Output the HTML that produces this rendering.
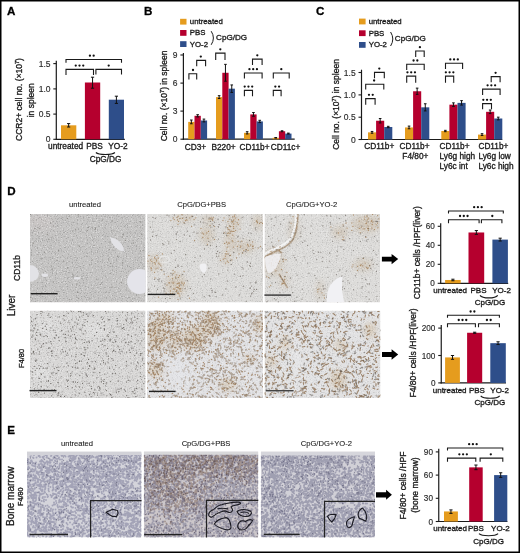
<!DOCTYPE html>
<html><head><meta charset="utf-8"><style>
html,body{margin:0;padding:0;background:#fff;width:520px;height:553px;overflow:hidden}
svg{display:block;will-change:transform}
text{font-family:'Liberation Sans', sans-serif;stroke:#1a1a1a;stroke-width:0.32px;paint-order:stroke}
</style></head><body>
<svg width="520" height="553" viewBox="0 0 520 553" font-family="'Liberation Sans', sans-serif">
<rect x="0" y="0" width="520" height="553" fill="#fff"/>
<text x="7.1" y="15.3" font-size="11.6" text-anchor="start" font-weight="bold" fill="#000" >A</text>
<line x1="56.3" y1="60.8" x2="56.3" y2="139.85000000000002" stroke="#1a1a1a" stroke-width="1.2"/>
<line x1="55.699999999999996" y1="139.3" x2="124.8" y2="139.3" stroke="#1a1a1a" stroke-width="1.2"/>
<line x1="53.3" y1="139.3" x2="56.3" y2="139.3" stroke="#1a1a1a" stroke-width="1.1"/>
<text x="50.5" y="142.3" font-size="8.5" text-anchor="end" font-weight="normal" fill="#2a2a2a" style="stroke-width:0.15px;stroke:#2a2a2a">0</text>
<line x1="53.3" y1="114.1" x2="56.3" y2="114.1" stroke="#1a1a1a" stroke-width="1.1"/>
<text x="50.5" y="117.1" font-size="8.5" text-anchor="end" font-weight="normal" fill="#2a2a2a" style="stroke-width:0.15px;stroke:#2a2a2a">0.5</text>
<line x1="53.3" y1="88.9" x2="56.3" y2="88.9" stroke="#1a1a1a" stroke-width="1.1"/>
<text x="50.5" y="91.9" font-size="8.5" text-anchor="end" font-weight="normal" fill="#2a2a2a" style="stroke-width:0.15px;stroke:#2a2a2a">1.0</text>
<line x1="53.3" y1="63.6" x2="56.3" y2="63.6" stroke="#1a1a1a" stroke-width="1.1"/>
<text x="50.5" y="66.6" font-size="8.5" text-anchor="end" font-weight="normal" fill="#2a2a2a" style="stroke-width:0.15px;stroke:#2a2a2a">1.5</text>
<rect x="61.0" y="125.3" width="15.299999999999997" height="14.000000000000014" fill="#E59C1E"/>
<line x1="68.65" y1="123.6" x2="68.65" y2="127.0" stroke="#111" stroke-width="1.0"/>
<line x1="67.05000000000001" y1="123.6" x2="70.25" y2="123.6" stroke="#111" stroke-width="1.0"/>
<line x1="67.05000000000001" y1="127.0" x2="70.25" y2="127.0" stroke="#111" stroke-width="1.0"/>
<rect x="84.9" y="82.5" width="15.299999999999997" height="56.80000000000001" fill="#B5002E"/>
<line x1="92.55000000000001" y1="77.2" x2="92.55000000000001" y2="88.2" stroke="#111" stroke-width="1.0"/>
<line x1="90.95000000000002" y1="77.2" x2="94.15" y2="77.2" stroke="#111" stroke-width="1.0"/>
<line x1="90.95000000000002" y1="88.2" x2="94.15" y2="88.2" stroke="#111" stroke-width="1.0"/>
<rect x="108.8" y="99.7" width="15.200000000000003" height="39.60000000000001" fill="#2E4E8A"/>
<line x1="116.4" y1="96.2" x2="116.4" y2="103.4" stroke="#111" stroke-width="1.0"/>
<line x1="114.80000000000001" y1="96.2" x2="118.0" y2="96.2" stroke="#111" stroke-width="1.0"/>
<line x1="114.80000000000001" y1="103.4" x2="118.0" y2="103.4" stroke="#111" stroke-width="1.0"/>
<path d="M66 62.8 V59.5 H121.5 V62.8" fill="none" stroke="#1a1a1a" stroke-width="1.1"/>
<circle cx="89.92" cy="55.70" r="1.15" fill="#111"/>
<circle cx="93.67" cy="55.70" r="1.15" fill="#111"/>
<path d="M66 75.0 V69.4 H93.5 V75.0" fill="none" stroke="#1a1a1a" stroke-width="1.1"/>
<circle cx="75.75" cy="65.60" r="1.15" fill="#111"/>
<circle cx="79.50" cy="65.60" r="1.15" fill="#111"/>
<circle cx="83.25" cy="65.60" r="1.15" fill="#111"/>
<path d="M95.9 74.5 V69.4 H121.5 V74.5" fill="none" stroke="#1a1a1a" stroke-width="1.1"/>
<circle cx="108.70" cy="65.60" r="1.15" fill="#111"/>
<text x="65.6" y="149.4" font-size="8.3" text-anchor="middle" font-weight="normal" fill="#1a1a1a" >untreated</text>
<text x="94.5" y="149.4" font-size="8.3" text-anchor="middle" font-weight="normal" fill="#1a1a1a" >PBS</text>
<text x="118.0" y="149.4" font-size="8.3" text-anchor="middle" font-weight="normal" fill="#1a1a1a" >YO-2</text>
<path d="M95.9 152.5 C98.75 155.16666666666666 112.05000000000001 155.16666666666666 114.9 152.5" fill="none" stroke="#1a1a1a" stroke-width="1.15"/>
<text x="105.6" y="161.8" font-size="8.3" text-anchor="middle" font-weight="normal" fill="#1a1a1a" >CpG/DG</text>
<text transform="translate(21.8,99.5) rotate(-90)" x="0" y="0" font-size="8.5" text-anchor="middle" font-weight="normal" fill="#1a1a1a" >CCR2+ cell no. (×10<tspan dy="-3" font-size="5.5">7</tspan><tspan dy="3">)</tspan></text>
<text transform="translate(33.8,100.3) rotate(-90)" x="0" y="0" font-size="8.5" text-anchor="middle" font-weight="normal" fill="#1a1a1a" >in spleen</text>
<text x="144.0" y="15.3" font-size="11.6" text-anchor="start" font-weight="bold" fill="#000" >B</text>
<rect x="180.1" y="18.8" width="6.4" height="5.8" fill="#E59C1E"/>
<text x="189.8" y="24.1" font-size="7.8" text-anchor="start" font-weight="normal" fill="#1a1a1a" >untreated</text>
<rect x="180.1" y="30.0" width="6.4" height="5.8" fill="#B5002E"/>
<text x="189.8" y="35.3" font-size="7.8" text-anchor="start" font-weight="normal" fill="#1a1a1a" >PBS</text>
<rect x="180.1" y="41.2" width="6.4" height="5.8" fill="#2E4E8A"/>
<text x="189.8" y="46.5" font-size="7.8" text-anchor="start" font-weight="normal" fill="#1a1a1a" >YO-2</text>
<path d="M211.2 31.2 Q215.6 38 211.2 44.8" fill="none" stroke="#1a1a1a" stroke-width="1.0"/>
<text x="216.1" y="40.0" font-size="8.1" text-anchor="start" font-weight="normal" fill="#1a1a1a" >CpG/DG</text>
<line x1="183.4" y1="53.0" x2="183.4" y2="139.75" stroke="#1a1a1a" stroke-width="1.2"/>
<line x1="182.8" y1="139.2" x2="294.7" y2="139.2" stroke="#1a1a1a" stroke-width="1.2"/>
<line x1="180.4" y1="139.2" x2="183.4" y2="139.2" stroke="#1a1a1a" stroke-width="1.1"/>
<text x="177.6" y="142.2" font-size="8.5" text-anchor="end" font-weight="normal" fill="#2a2a2a" style="stroke-width:0.15px;stroke:#2a2a2a">0</text>
<line x1="180.4" y1="111.1" x2="183.4" y2="111.1" stroke="#1a1a1a" stroke-width="1.1"/>
<text x="177.6" y="114.1" font-size="8.5" text-anchor="end" font-weight="normal" fill="#2a2a2a" style="stroke-width:0.15px;stroke:#2a2a2a">3</text>
<line x1="180.4" y1="83.1" x2="183.4" y2="83.1" stroke="#1a1a1a" stroke-width="1.1"/>
<text x="177.6" y="86.1" font-size="8.5" text-anchor="end" font-weight="normal" fill="#2a2a2a" style="stroke-width:0.15px;stroke:#2a2a2a">6</text>
<line x1="180.4" y1="55.0" x2="183.4" y2="55.0" stroke="#1a1a1a" stroke-width="1.1"/>
<text x="177.6" y="58.0" font-size="8.5" text-anchor="end" font-weight="normal" fill="#2a2a2a" style="stroke-width:0.15px;stroke:#2a2a2a">9</text>
<rect x="188.2" y="121.89222222222222" width="6.300000000000011" height="17.307777777777773" fill="#E59C1E"/>
<line x1="191.35" y1="120.02111111111111" x2="191.35" y2="123.76333333333332" stroke="#111" stroke-width="1.0"/>
<line x1="190.04999999999998" y1="120.02111111111111" x2="192.65" y2="120.02111111111111" stroke="#111" stroke-width="1.0"/>
<line x1="190.04999999999998" y1="123.76333333333332" x2="192.65" y2="123.76333333333332" stroke="#111" stroke-width="1.0"/>
<rect x="194.5" y="115.8111111111111" width="6.299999999999983" height="23.388888888888886" fill="#B5002E"/>
<line x1="197.64999999999998" y1="114.68844444444444" x2="197.64999999999998" y2="116.93377777777776" stroke="#111" stroke-width="1.0"/>
<line x1="196.34999999999997" y1="114.68844444444444" x2="198.95" y2="114.68844444444444" stroke="#111" stroke-width="1.0"/>
<line x1="196.34999999999997" y1="116.93377777777776" x2="198.95" y2="116.93377777777776" stroke="#111" stroke-width="1.0"/>
<rect x="200.79999999999998" y="120.48888888888888" width="6.300000000000011" height="18.71111111111111" fill="#2E4E8A"/>
<line x1="203.95" y1="119.08555555555554" x2="203.95" y2="121.89222222222222" stroke="#111" stroke-width="1.0"/>
<line x1="202.64999999999998" y1="119.08555555555554" x2="205.25" y2="119.08555555555554" stroke="#111" stroke-width="1.0"/>
<line x1="202.64999999999998" y1="121.89222222222222" x2="205.25" y2="121.89222222222222" stroke="#111" stroke-width="1.0"/>
<rect x="216.0" y="97.1" width="6.300000000000011" height="42.099999999999994" fill="#E59C1E"/>
<line x1="219.15" y1="95.69666666666666" x2="219.15" y2="98.50333333333333" stroke="#111" stroke-width="1.0"/>
<line x1="217.85" y1="95.69666666666666" x2="220.45000000000002" y2="95.69666666666666" stroke="#111" stroke-width="1.0"/>
<line x1="217.85" y1="98.50333333333333" x2="220.45000000000002" y2="98.50333333333333" stroke="#111" stroke-width="1.0"/>
<rect x="222.3" y="72.77555555555556" width="6.299999999999983" height="66.42444444444443" fill="#B5002E"/>
<line x1="225.45" y1="64.35555555555555" x2="225.45" y2="81.19555555555556" stroke="#111" stroke-width="1.0"/>
<line x1="224.14999999999998" y1="64.35555555555555" x2="226.75" y2="64.35555555555555" stroke="#111" stroke-width="1.0"/>
<line x1="224.14999999999998" y1="81.19555555555556" x2="226.75" y2="81.19555555555556" stroke="#111" stroke-width="1.0"/>
<rect x="228.6" y="88.67999999999999" width="6.300000000000011" height="50.519999999999996" fill="#2E4E8A"/>
<line x1="231.75" y1="84.93777777777777" x2="231.75" y2="92.42222222222222" stroke="#111" stroke-width="1.0"/>
<line x1="230.45" y1="84.93777777777777" x2="233.05" y2="84.93777777777777" stroke="#111" stroke-width="1.0"/>
<line x1="230.45" y1="92.42222222222222" x2="233.05" y2="92.42222222222222" stroke="#111" stroke-width="1.0"/>
<rect x="244.0" y="132.8382222222222" width="6.300000000000011" height="6.361777777777775" fill="#E59C1E"/>
<line x1="247.15" y1="131.71555555555554" x2="247.15" y2="133.9608888888889" stroke="#111" stroke-width="1.0"/>
<line x1="245.85" y1="131.71555555555554" x2="248.45000000000002" y2="131.71555555555554" stroke="#111" stroke-width="1.0"/>
<line x1="245.85" y1="133.9608888888889" x2="248.45000000000002" y2="133.9608888888889" stroke="#111" stroke-width="1.0"/>
<rect x="250.3" y="114.40777777777777" width="6.300000000000011" height="24.79222222222222" fill="#B5002E"/>
<line x1="253.45000000000002" y1="112.53666666666666" x2="253.45000000000002" y2="116.27888888888887" stroke="#111" stroke-width="1.0"/>
<line x1="252.15" y1="112.53666666666666" x2="254.75000000000003" y2="112.53666666666666" stroke="#111" stroke-width="1.0"/>
<line x1="252.15" y1="116.27888888888887" x2="254.75000000000003" y2="116.27888888888887" stroke="#111" stroke-width="1.0"/>
<rect x="256.6" y="121.42444444444443" width="6.2999999999999545" height="17.775555555555556" fill="#2E4E8A"/>
<line x1="259.75" y1="120.30177777777777" x2="259.75" y2="122.5471111111111" stroke="#111" stroke-width="1.0"/>
<line x1="258.45" y1="120.30177777777777" x2="261.05" y2="120.30177777777777" stroke="#111" stroke-width="1.0"/>
<line x1="258.45" y1="122.5471111111111" x2="261.05" y2="122.5471111111111" stroke="#111" stroke-width="1.0"/>
<rect x="272.6" y="137.79666666666665" width="6.300000000000011" height="1.403333333333336" fill="#E59C1E"/>
<line x1="275.75" y1="137.516" x2="275.75" y2="138.0773333333333" stroke="#111" stroke-width="1.0"/>
<line x1="274.45" y1="137.516" x2="277.05" y2="137.516" stroke="#111" stroke-width="1.0"/>
<line x1="274.45" y1="138.0773333333333" x2="277.05" y2="138.0773333333333" stroke="#111" stroke-width="1.0"/>
<rect x="278.90000000000003" y="131.24777777777777" width="6.300000000000011" height="7.952222222222218" fill="#B5002E"/>
<line x1="282.05000000000007" y1="130.78" x2="282.05000000000007" y2="131.71555555555554" stroke="#111" stroke-width="1.0"/>
<line x1="280.75000000000006" y1="130.78" x2="283.3500000000001" y2="130.78" stroke="#111" stroke-width="1.0"/>
<line x1="280.75000000000006" y1="131.71555555555554" x2="283.3500000000001" y2="131.71555555555554" stroke="#111" stroke-width="1.0"/>
<rect x="285.20000000000005" y="133.58666666666664" width="6.2999999999999545" height="5.613333333333344" fill="#2E4E8A"/>
<line x1="288.35" y1="133.11888888888888" x2="288.35" y2="134.0544444444444" stroke="#111" stroke-width="1.0"/>
<line x1="287.05" y1="133.11888888888888" x2="289.65000000000003" y2="133.11888888888888" stroke="#111" stroke-width="1.0"/>
<line x1="287.05" y1="134.0544444444444" x2="289.65000000000003" y2="134.0544444444444" stroke="#111" stroke-width="1.0"/>
<path d="M188.9 79.5 V73.8 H196.7 V79.5" fill="none" stroke="#1a1a1a" stroke-width="1.1"/>
<circle cx="193.00" cy="70.00" r="1.15" fill="#111"/>
<path d="M196.7 66.3 V60.4 H205.6 V66.3" fill="none" stroke="#1a1a1a" stroke-width="1.1"/>
<circle cx="200.80" cy="56.60" r="1.15" fill="#111"/>
<path d="M215.7 60.0 V53.1 H225.0 V60.0" fill="none" stroke="#1a1a1a" stroke-width="1.1"/>
<circle cx="220.30" cy="49.30" r="1.15" fill="#111"/>
<path d="M244.4 96.3 V90.4 H252.5 V96.3" fill="none" stroke="#1a1a1a" stroke-width="1.1"/>
<circle cx="244.70" cy="86.60" r="1.15" fill="#111"/>
<circle cx="248.45" cy="86.60" r="1.15" fill="#111"/>
<circle cx="252.20" cy="86.60" r="1.15" fill="#111"/>
<path d="M244.4 78.5 V73.0 H262.1 V78.5" fill="none" stroke="#1a1a1a" stroke-width="1.1"/>
<circle cx="249.45" cy="69.20" r="1.15" fill="#111"/>
<circle cx="253.20" cy="69.20" r="1.15" fill="#111"/>
<circle cx="256.95" cy="69.20" r="1.15" fill="#111"/>
<path d="M252.5 64.9 V59.1 H262.1 V64.9" fill="none" stroke="#1a1a1a" stroke-width="1.1"/>
<circle cx="257.30" cy="55.30" r="1.15" fill="#111"/>
<path d="M273.3 96.3 V90.4 H281.1 V96.3" fill="none" stroke="#1a1a1a" stroke-width="1.1"/>
<circle cx="275.33" cy="86.60" r="1.15" fill="#111"/>
<circle cx="279.08" cy="86.60" r="1.15" fill="#111"/>
<path d="M273.3 78.5 V73.0 H289.2 V78.5" fill="none" stroke="#1a1a1a" stroke-width="1.1"/>
<circle cx="281.30" cy="69.20" r="1.15" fill="#111"/>
<text x="195.5" y="149.9" font-size="8.3" text-anchor="middle" font-weight="normal" fill="#1a1a1a" >CD3+</text>
<text x="223.5" y="149.9" font-size="8.3" text-anchor="middle" font-weight="normal" fill="#1a1a1a" >B220+</text>
<text x="254.5" y="149.9" font-size="8.3" text-anchor="middle" font-weight="normal" fill="#1a1a1a" >CD11b+</text>
<text x="285.5" y="149.9" font-size="8.3" text-anchor="middle" font-weight="normal" fill="#1a1a1a" >CD11c+</text>
<text transform="translate(166.6,96.0) rotate(-90)" x="0" y="0" font-size="8.5" text-anchor="middle" font-weight="normal" fill="#1a1a1a" >Cell no. (×10<tspan dy="-3" font-size="5.5">7</tspan><tspan dy="3">) in spleen</tspan></text>
<text x="315.9" y="15.4" font-size="11.6" text-anchor="start" font-weight="bold" fill="#000" >C</text>
<rect x="359.0" y="18.6" width="6.6" height="5.8" fill="#E59C1E"/>
<text x="368.7" y="23.900000000000002" font-size="7.8" text-anchor="start" font-weight="normal" fill="#1a1a1a" >untreated</text>
<rect x="359.0" y="30.3" width="6.6" height="5.8" fill="#B5002E"/>
<text x="368.7" y="35.6" font-size="7.8" text-anchor="start" font-weight="normal" fill="#1a1a1a" >PBS</text>
<rect x="359.0" y="42.0" width="6.6" height="5.8" fill="#2E4E8A"/>
<text x="368.7" y="47.3" font-size="7.8" text-anchor="start" font-weight="normal" fill="#1a1a1a" >YO-2</text>
<path d="M390.6 32.0 Q395.0 39 390.6 46.0" fill="none" stroke="#1a1a1a" stroke-width="1.0"/>
<text x="394.8" y="40.9" font-size="8.1" text-anchor="start" font-weight="normal" fill="#1a1a1a" >CpG/DG</text>
<line x1="361.5" y1="69.7" x2="361.5" y2="140.05" stroke="#1a1a1a" stroke-width="1.2"/>
<line x1="360.9" y1="139.5" x2="502.3" y2="139.5" stroke="#1a1a1a" stroke-width="1.2"/>
<line x1="358.5" y1="139.5" x2="361.5" y2="139.5" stroke="#1a1a1a" stroke-width="1.1"/>
<text x="355.7" y="142.5" font-size="8.5" text-anchor="end" font-weight="normal" fill="#2a2a2a" style="stroke-width:0.15px;stroke:#2a2a2a">0</text>
<line x1="358.5" y1="117.2" x2="361.5" y2="117.2" stroke="#1a1a1a" stroke-width="1.1"/>
<text x="355.7" y="120.2" font-size="8.5" text-anchor="end" font-weight="normal" fill="#2a2a2a" style="stroke-width:0.15px;stroke:#2a2a2a">0.5</text>
<line x1="358.5" y1="94.9" x2="361.5" y2="94.9" stroke="#1a1a1a" stroke-width="1.1"/>
<text x="355.7" y="97.9" font-size="8.5" text-anchor="end" font-weight="normal" fill="#2a2a2a" style="stroke-width:0.15px;stroke:#2a2a2a">1.0</text>
<line x1="358.5" y1="72.5" x2="361.5" y2="72.5" stroke="#1a1a1a" stroke-width="1.1"/>
<text x="355.7" y="75.5" font-size="8.5" text-anchor="end" font-weight="normal" fill="#2a2a2a" style="stroke-width:0.15px;stroke:#2a2a2a">1.5</text>
<rect x="368.0" y="132.35333333333332" width="8.100000000000023" height="7.146666666666675" fill="#E59C1E"/>
<line x1="372.05" y1="131.45999999999998" x2="372.05" y2="133.24666666666667" stroke="#111" stroke-width="1.0"/>
<line x1="370.75" y1="131.45999999999998" x2="373.35" y2="131.45999999999998" stroke="#111" stroke-width="1.0"/>
<line x1="370.75" y1="133.24666666666667" x2="373.35" y2="133.24666666666667" stroke="#111" stroke-width="1.0"/>
<rect x="376.1" y="120.74000000000001" width="8.099999999999966" height="18.75999999999999" fill="#B5002E"/>
<line x1="380.15" y1="118.50666666666667" x2="380.15" y2="122.97333333333334" stroke="#111" stroke-width="1.0"/>
<line x1="378.84999999999997" y1="118.50666666666667" x2="381.45" y2="118.50666666666667" stroke="#111" stroke-width="1.0"/>
<line x1="378.84999999999997" y1="122.97333333333334" x2="381.45" y2="122.97333333333334" stroke="#111" stroke-width="1.0"/>
<rect x="384.2" y="126.99333333333334" width="8.100000000000023" height="12.50666666666666" fill="#2E4E8A"/>
<line x1="388.25" y1="126.32333333333334" x2="388.25" y2="127.66333333333334" stroke="#111" stroke-width="1.0"/>
<line x1="386.95" y1="126.32333333333334" x2="389.55" y2="126.32333333333334" stroke="#111" stroke-width="1.0"/>
<line x1="386.95" y1="127.66333333333334" x2="389.55" y2="127.66333333333334" stroke="#111" stroke-width="1.0"/>
<rect x="405.0" y="127.44" width="8.100000000000023" height="12.060000000000002" fill="#E59C1E"/>
<line x1="409.05" y1="126.1" x2="409.05" y2="128.78" stroke="#111" stroke-width="1.0"/>
<line x1="407.75" y1="126.1" x2="410.35" y2="126.1" stroke="#111" stroke-width="1.0"/>
<line x1="407.75" y1="128.78" x2="410.35" y2="128.78" stroke="#111" stroke-width="1.0"/>
<rect x="413.1" y="91.25999999999999" width="8.099999999999966" height="48.24000000000001" fill="#B5002E"/>
<line x1="417.15" y1="88.13333333333333" x2="417.15" y2="94.38666666666666" stroke="#111" stroke-width="1.0"/>
<line x1="415.84999999999997" y1="88.13333333333333" x2="418.45" y2="88.13333333333333" stroke="#111" stroke-width="1.0"/>
<line x1="415.84999999999997" y1="94.38666666666666" x2="418.45" y2="94.38666666666666" stroke="#111" stroke-width="1.0"/>
<rect x="421.2" y="107.34" width="8.100000000000023" height="32.16" fill="#2E4E8A"/>
<line x1="425.25" y1="103.76666666666667" x2="425.25" y2="110.91333333333334" stroke="#111" stroke-width="1.0"/>
<line x1="423.95" y1="103.76666666666667" x2="426.55" y2="103.76666666666667" stroke="#111" stroke-width="1.0"/>
<line x1="423.95" y1="110.91333333333334" x2="426.55" y2="110.91333333333334" stroke="#111" stroke-width="1.0"/>
<rect x="441.3" y="131.01333333333332" width="8.100000000000023" height="8.486666666666679" fill="#E59C1E"/>
<line x1="445.35" y1="130.34333333333333" x2="445.35" y2="131.6833333333333" stroke="#111" stroke-width="1.0"/>
<line x1="444.05" y1="130.34333333333333" x2="446.65000000000003" y2="130.34333333333333" stroke="#111" stroke-width="1.0"/>
<line x1="444.05" y1="131.6833333333333" x2="446.65000000000003" y2="131.6833333333333" stroke="#111" stroke-width="1.0"/>
<rect x="449.40000000000003" y="104.66" width="8.099999999999966" height="34.84" fill="#B5002E"/>
<line x1="453.45000000000005" y1="102.87333333333333" x2="453.45000000000005" y2="106.44666666666666" stroke="#111" stroke-width="1.0"/>
<line x1="452.15000000000003" y1="102.87333333333333" x2="454.75000000000006" y2="102.87333333333333" stroke="#111" stroke-width="1.0"/>
<line x1="452.15000000000003" y1="106.44666666666666" x2="454.75000000000006" y2="106.44666666666666" stroke="#111" stroke-width="1.0"/>
<rect x="457.5" y="102.87333333333333" width="8.100000000000023" height="36.626666666666665" fill="#2E4E8A"/>
<line x1="461.55" y1="100.64" x2="461.55" y2="105.10666666666667" stroke="#111" stroke-width="1.0"/>
<line x1="460.25" y1="100.64" x2="462.85" y2="100.64" stroke="#111" stroke-width="1.0"/>
<line x1="460.25" y1="105.10666666666667" x2="462.85" y2="105.10666666666667" stroke="#111" stroke-width="1.0"/>
<rect x="478.0" y="134.58666666666667" width="8.100000000000023" height="4.913333333333327" fill="#E59C1E"/>
<line x1="482.05" y1="133.69333333333333" x2="482.05" y2="135.48000000000002" stroke="#111" stroke-width="1.0"/>
<line x1="480.75" y1="133.69333333333333" x2="483.35" y2="133.69333333333333" stroke="#111" stroke-width="1.0"/>
<line x1="480.75" y1="135.48000000000002" x2="483.35" y2="135.48000000000002" stroke="#111" stroke-width="1.0"/>
<rect x="486.1" y="111.80666666666667" width="8.099999999999966" height="27.693333333333328" fill="#B5002E"/>
<line x1="490.15" y1="110.02000000000001" x2="490.15" y2="113.59333333333333" stroke="#111" stroke-width="1.0"/>
<line x1="488.84999999999997" y1="110.02000000000001" x2="491.45" y2="110.02000000000001" stroke="#111" stroke-width="1.0"/>
<line x1="488.84999999999997" y1="113.59333333333333" x2="491.45" y2="113.59333333333333" stroke="#111" stroke-width="1.0"/>
<rect x="494.2" y="118.50666666666666" width="8.100000000000023" height="20.99333333333334" fill="#2E4E8A"/>
<line x1="498.25" y1="117.16666666666666" x2="498.25" y2="119.84666666666666" stroke="#111" stroke-width="1.0"/>
<line x1="496.95" y1="117.16666666666666" x2="499.55" y2="117.16666666666666" stroke="#111" stroke-width="1.0"/>
<line x1="496.95" y1="119.84666666666666" x2="499.55" y2="119.84666666666666" stroke="#111" stroke-width="1.0"/>
<path d="M365.7 104.8 V98.6 H375.1 V104.8" fill="none" stroke="#1a1a1a" stroke-width="1.1"/>
<circle cx="368.98" cy="94.80" r="1.15" fill="#111"/>
<circle cx="372.73" cy="94.80" r="1.15" fill="#111"/>
<path d="M365.7 89.6 V84.3 H383.8 V89.6" fill="none" stroke="#1a1a1a" stroke-width="1.1"/>
<circle cx="374.10" cy="80.50" r="1.15" fill="#111"/>
<path d="M374.5 78.2 V72.4 H384.3 V78.2" fill="none" stroke="#1a1a1a" stroke-width="1.1"/>
<circle cx="379.30" cy="68.60" r="1.15" fill="#111"/>
<path d="M406.7 82.8 V76.1 H415.7 V82.8" fill="none" stroke="#1a1a1a" stroke-width="1.1"/>
<circle cx="407.45" cy="72.30" r="1.15" fill="#111"/>
<circle cx="411.20" cy="72.30" r="1.15" fill="#111"/>
<circle cx="414.95" cy="72.30" r="1.15" fill="#111"/>
<path d="M406.7 70.0 V64.3 H424.2 V70.0" fill="none" stroke="#1a1a1a" stroke-width="1.1"/>
<circle cx="413.57" cy="60.50" r="1.15" fill="#111"/>
<circle cx="417.32" cy="60.50" r="1.15" fill="#111"/>
<path d="M415.7 57.1 V51.0 H424.2 V57.1" fill="none" stroke="#1a1a1a" stroke-width="1.1"/>
<circle cx="419.90" cy="47.20" r="1.15" fill="#111"/>
<path d="M445.5 82.8 V76.1 H453.7 V82.8" fill="none" stroke="#1a1a1a" stroke-width="1.1"/>
<circle cx="445.85" cy="72.30" r="1.15" fill="#111"/>
<circle cx="449.60" cy="72.30" r="1.15" fill="#111"/>
<circle cx="453.35" cy="72.30" r="1.15" fill="#111"/>
<path d="M445.5 68.9 V63.2 H462.6 V68.9" fill="none" stroke="#1a1a1a" stroke-width="1.1"/>
<circle cx="450.30" cy="59.40" r="1.15" fill="#111"/>
<circle cx="454.05" cy="59.40" r="1.15" fill="#111"/>
<circle cx="457.80" cy="59.40" r="1.15" fill="#111"/>
<path d="M482.6 109.2 V103.6 H491.5 V109.2" fill="none" stroke="#1a1a1a" stroke-width="1.1"/>
<circle cx="483.30" cy="99.80" r="1.15" fill="#111"/>
<circle cx="487.05" cy="99.80" r="1.15" fill="#111"/>
<circle cx="490.80" cy="99.80" r="1.15" fill="#111"/>
<path d="M482.6 95.0 V89.1 H500.1 V95.0" fill="none" stroke="#1a1a1a" stroke-width="1.1"/>
<circle cx="487.60" cy="85.30" r="1.15" fill="#111"/>
<circle cx="491.35" cy="85.30" r="1.15" fill="#111"/>
<circle cx="495.10" cy="85.30" r="1.15" fill="#111"/>
<path d="M491.2 82.3 V76.6 H500.1 V82.3" fill="none" stroke="#1a1a1a" stroke-width="1.1"/>
<circle cx="495.60" cy="72.80" r="1.15" fill="#111"/>
<text x="379.3" y="148.6" font-size="8.3" text-anchor="middle" font-weight="normal" fill="#1a1a1a" >CD11b+</text>
<text x="414.5" y="148.6" font-size="8.3" text-anchor="middle" font-weight="normal" fill="#1a1a1a" >CD11b+</text>
<text x="415.4" y="158.8" font-size="8.3" text-anchor="middle" font-weight="normal" fill="#1a1a1a" >F4/80+</text>
<text x="439.5" y="148.6" font-size="8.3" text-anchor="start" font-weight="normal" fill="#1a1a1a" >CD11b+</text>
<text x="439.5" y="158.8" font-size="8.3" text-anchor="start" font-weight="normal" fill="#1a1a1a" >Ly6g high</text>
<text x="439.5" y="168.6" font-size="8.3" text-anchor="start" font-weight="normal" fill="#1a1a1a" >Ly6c int</text>
<text x="478.4" y="148.6" font-size="8.3" text-anchor="start" font-weight="normal" fill="#1a1a1a" >CD11b+</text>
<text x="478.4" y="158.8" font-size="8.3" text-anchor="start" font-weight="normal" fill="#1a1a1a" >Ly6g low</text>
<text x="478.4" y="168.6" font-size="8.3" text-anchor="start" font-weight="normal" fill="#1a1a1a" >Ly6c high</text>
<text transform="translate(339.3,104.5) rotate(-90)" x="0" y="0" font-size="8.5" text-anchor="middle" font-weight="normal" fill="#1a1a1a" >Cell no. (×10<tspan dy="-3" font-size="5.5">7</tspan><tspan dy="3">) in spleen</tspan></text>
<text x="7.2" y="195.1" font-size="11.6" text-anchor="start" font-weight="bold" fill="#000" >D</text>
<text x="85.0" y="207.3" font-size="7.6" text-anchor="middle" font-weight="normal" fill="#1a1a1a" style="stroke-width:0.1px">untreated</text>
<text x="201.6" y="207.3" font-size="7.6" text-anchor="middle" font-weight="normal" fill="#1a1a1a" style="stroke-width:0.1px">CpG/DG+PBS</text>
<text x="311.6" y="207.3" font-size="7.6" text-anchor="middle" font-weight="normal" fill="#1a1a1a" style="stroke-width:0.1px">CpG/DG+YO-2</text>
<defs>
<filter id="gl" x="0" y="0" width="1" height="1" color-interpolation-filters="sRGB"><feTurbulence type="fractalNoise" baseFrequency="0.8" numOctaves="2" seed="41" result="t"/><feColorMatrix in="t" type="matrix" values="0 0 0 0 1.000  0 0 0 0 1.000  0 0 0 0 1.000  5 0 0 0 -2.750" result="d"/><feComposite in="d" in2="SourceGraphic" operator="in"/></filter>
<filter id="gd" x="0" y="0" width="1" height="1" color-interpolation-filters="sRGB"><feTurbulence type="fractalNoise" baseFrequency="0.8" numOctaves="2" seed="43" result="t"/><feColorMatrix in="t" type="matrix" values="0 0 0 0 0.235  0 0 0 0 0.235  0 0 0 0 0.235  5 0 0 0 -2.750" result="d"/><feComposite in="d" in2="SourceGraphic" operator="in"/></filter>
<filter id="epu" x="0" y="0" width="1" height="1" color-interpolation-filters="sRGB"><feTurbulence type="fractalNoise" baseFrequency="0.5" numOctaves="2" seed="45" result="t"/><feColorMatrix in="t" type="matrix" values="0 0 0 0 0.471  0 0 0 0 0.471  0 0 0 0 0.647  5 0 0 0 -2.350" result="d"/><feGaussianBlur in="d" stdDeviation="0.45" result="d"/><feComposite in="d" in2="SourceGraphic" operator="in"/></filter>
<filter id="epl" x="0" y="0" width="1" height="1" color-interpolation-filters="sRGB"><feTurbulence type="fractalNoise" baseFrequency="0.5" numOctaves="2" seed="47" result="t"/><feColorMatrix in="t" type="matrix" values="0 0 0 0 0.894  0 0 0 0 0.894  0 0 0 0 0.925  5 0 0 0 -2.600" result="d"/><feGaussianBlur in="d" stdDeviation="0.45" result="d"/><feComposite in="d" in2="SourceGraphic" operator="in"/></filter>
<filter id="ebr" x="0" y="0" width="1" height="1" color-interpolation-filters="sRGB"><feTurbulence type="fractalNoise" baseFrequency="0.5" numOctaves="2" seed="49" result="t"/><feColorMatrix in="t" type="matrix" values="0 0 0 0 0.529  0 0 0 0 0.412  0 0 0 0 0.373  5 0 0 0 -2.600" result="d"/><feGaussianBlur in="d" stdDeviation="0.45" result="d"/><feComposite in="d" in2="SourceGraphic" operator="in"/></filter>
<filter id="bl3" x="-50%" y="-50%" width="200%" height="200%"><feGaussianBlur stdDeviation="3"/></filter>
<filter id="bl5" x="-50%" y="-50%" width="200%" height="200%"><feGaussianBlur stdDeviation="5"/></filter>
<filter id="bl1"><feGaussianBlur stdDeviation="1"/></filter>
<filter id="bl05"><feGaussianBlur stdDeviation="0.6"/></filter>
<filter id="bl03"><feGaussianBlur stdDeviation="0.35"/></filter>
<clipPath id="c0"><rect x="30" y="214" width="115.6" height="88.5"/></clipPath>
<clipPath id="c1"><rect x="147.1" y="214" width="115.9" height="88.5"/></clipPath>
<clipPath id="c2"><rect x="264.5" y="214" width="115.5" height="88.5"/></clipPath>
<clipPath id="c3"><rect x="30" y="310.5" width="115.6" height="87.5"/></clipPath>
<clipPath id="c4"><rect x="147.1" y="310.5" width="115.9" height="87.5"/></clipPath>
<clipPath id="c5"><rect x="264.5" y="310.5" width="116.0" height="87.5"/></clipPath>
<clipPath id="c6"><rect x="27" y="451.5" width="114.5" height="86.0"/></clipPath>
<clipPath id="c7"><rect x="143.8" y="451.5" width="114.5" height="86.0"/></clipPath>
<clipPath id="c8"><rect x="260.8" y="451.5" width="114.2" height="86.0"/></clipPath>
</defs>
<g clip-path="url(#c0)">
<rect x="30" y="214" width="115.6" height="88.5" fill="#c5c4c3" />
<g filter="url(#bl5)" opacity="0.45"><ellipse cx="40" cy="222" rx="14" ry="9" fill="#d0c9c8"/></g>
<g filter="url(#gl)" opacity="0.35"><rect x="30" y="214" width="115.6" height="88.5" fill="#000" /></g>
<g filter="url(#gd)" opacity="0.22"><rect x="30" y="214" width="115.6" height="88.5" fill="#000" /></g>
<g filter="url(#bl03)"><path d="M78.2 214.9h0M125.4 240.4h0M72.6 231.1h0M95.4 228.3h0M44.4 252.3h0M95.0 229.4h0M94.0 245.4h0M140.8 222.1h0M143.1 250.5h0M88.3 227.1h0M113.1 230.8h0M69.5 216.1h0M69.2 299.6h0M143.1 279.9h0M30.4 297.2h0M130.7 282.2h0M50.7 222.8h0M77.9 292.4h0M96.8 279.2h0M56.9 260.3h0M112.0 287.0h0M123.3 234.6h0M130.9 233.1h0M122.7 263.1h0M51.5 266.1h0M89.9 298.8h0M34.8 228.5h0M143.7 287.7h0M47.4 234.3h0M92.3 227.9h0M67.4 218.4h0M112.3 221.0h0M145.0 295.5h0M121.2 282.4h0M72.5 274.1h0M118.0 256.5h0M37.1 269.4h0M67.7 268.0h0M78.6 298.3h0M53.3 282.0h0M110.8 263.3h0M39.3 228.6h0M141.8 234.4h0M48.9 239.5h0M92.1 260.0h0M30.4 214.3h0M87.3 230.4h0M100.2 284.7h0M41.1 258.7h0M76.9 284.0h0M140.4 250.9h0M58.1 291.7h0M33.2 243.2h0M75.6 229.8h0M108.6 259.9h0M58.8 250.6h0M110.0 242.8h0M37.8 254.8h0M52.5 269.0h0M53.3 225.9h0M133.3 243.2h0M63.8 261.6h0M110.2 273.4h0M122.3 237.0h0M79.3 246.2h0M89.7 264.8h0M102.7 220.0h0M72.9 276.7h0M34.1 280.0h0M109.3 249.6h0" fill="none" stroke="#6e6a66" stroke-width="1.3" stroke-linecap="round" opacity="0.6"/></g>
<g filter="url(#bl05)" fill="#e2e2e6"><path d="M109.5 236.5 C114 239 120 244 125 252 C120 250 113 245 109.5 236.5 Z" transform="translate(0 0)"/><ellipse cx="117.3" cy="244.5" rx="8.5" ry="3.4" transform="rotate(45 117.3 244.5)"/><ellipse cx="29.5" cy="273.5" rx="9.5" ry="8.5"/><ellipse cx="44.8" cy="275.3" rx="3.4" ry="1.7"/><ellipse cx="77" cy="278.3" rx="3.3" ry="1.2"/><circle cx="139.5" cy="281.5" r="12.4" fill="#e4e4ea"/></g>
</g>
<g clip-path="url(#c1)">
<rect x="147.1" y="214" width="115.9" height="88.5" fill="#dcdbd9" />
<g filter="url(#bl3)" fill="#bea685" opacity="0.35"><ellipse cx="184" cy="218" rx="10" ry="4"/><ellipse cx="208" cy="219" rx="6" ry="4"/><ellipse cx="234" cy="222" rx="6" ry="8"/><ellipse cx="230" cy="240" rx="5" ry="12"/><ellipse cx="226" cy="258" rx="5" ry="6"/><ellipse cx="245" cy="247" rx="10" ry="6"/><ellipse cx="154" cy="263" rx="8" ry="7"/><ellipse cx="176" cy="285" rx="10" ry="11"/><ellipse cx="207" cy="235" rx="7" ry="9"/><ellipse cx="258" cy="222" rx="5" ry="8"/></g>
<g filter="url(#gl)" opacity="0.3"><rect x="147.1" y="214" width="115.9" height="88.5" fill="#000" /></g>
<g filter="url(#gd)" opacity="0.15"><rect x="147.1" y="214" width="115.9" height="88.5" fill="#000" /></g>
<g filter="url(#bl03)"><path d="M202.8 237.5h0M182.0 283.4h0M180.0 289.8h0M149.1 255.6h0M183.4 284.9h0M212.6 219.0h0M257.5 222.5h0M158.3 258.2h0M252.6 246.6h0M226.5 251.3h0M253.0 248.3h0M162.4 254.0h0M184.1 222.6h0M154.5 272.3h0M225.0 258.3h0M185.5 220.3h0M166.8 285.1h0M179.4 285.1h0M177.4 287.4h0M173.1 270.3h0M178.2 216.2h0M243.8 250.6h0M184.2 283.3h0M257.2 222.6h0M170.4 291.0h0M229.5 243.1h0M176.7 290.1h0M229.5 225.9h0M159.8 264.2h0M234.6 215.1h0M155.3 264.0h0M187.1 220.1h0M179.9 218.6h0M223.0 220.5h0M177.1 283.8h0M232.3 240.3h0M173.9 282.1h0M172.2 282.1h0M195.8 217.8h0M240.6 247.2h0M231.8 221.5h0M191.6 226.3h0M206.8 233.0h0M155.0 258.3h0M248.1 250.5h0M148.9 255.5h0M161.9 270.0h0M178.5 277.3h0M150.5 260.0h0M229.6 229.9h0M178.2 283.3h0M225.6 263.1h0M235.4 218.1h0M232.9 241.7h0M212.3 219.6h0M179.7 288.7h0M154.6 257.3h0M239.0 253.9h0M189.5 298.2h0M238.2 224.5h0M169.0 282.7h0M233.7 228.5h0M228.5 232.8h0M247.7 244.3h0M181.9 282.1h0M233.5 247.1h0M227.4 261.2h0M155.0 278.0h0M176.8 290.6h0M226.7 253.9h0M157.9 268.1h0M214.5 239.5h0M234.3 216.7h0M175.6 277.1h0M166.0 293.2h0M182.0 214.5h0M256.8 221.4h0M179.1 293.9h0M154.3 262.6h0M179.8 296.0h0M172.7 293.5h0M224.0 217.9h0M177.3 220.0h0M226.5 242.2h0M170.6 293.3h0M174.3 219.6h0M240.1 229.1h0M174.8 289.1h0M169.6 282.9h0M179.5 275.7h0M177.7 287.1h0M179.4 283.0h0M184.1 271.4h0M178.5 221.4h0M178.1 299.6h0M176.7 274.8h0M151.2 268.4h0M229.8 219.2h0M178.3 293.0h0M233.4 220.9h0M202.2 233.0h0M228.0 235.8h0M233.5 226.6h0M191.9 216.2h0M227.9 221.6h0M241.7 241.2h0M208.4 231.4h0M225.5 253.8h0M230.2 231.7h0M173.7 289.0h0M176.7 290.2h0M173.1 283.4h0M248.4 246.0h0M201.0 228.5h0M242.4 253.1h0M238.5 219.7h0M228.4 229.3h0M208.0 238.3h0M179.5 286.2h0M247.6 244.8h0M211.1 217.6h0M252.6 241.9h0M158.5 297.2h0M227.7 233.6h0M176.7 287.4h0M240.9 246.0h0M209.1 219.2h0M232.8 235.2h0M178.0 224.6h0M232.6 216.8h0M237.4 246.3h0M228.3 229.4h0M235.6 230.3h0M238.1 241.3h0M207.4 244.3h0M228.4 242.9h0M186.7 219.9h0M156.5 260.9h0M212.7 220.3h0M250.8 244.9h0M230.4 255.4h0M174.9 272.0h0M230.8 226.7h0M231.6 259.8h0M228.3 262.3h0M173.1 273.5h0M161.0 265.8h0M156.9 255.4h0M210.8 218.5h0M180.9 291.3h0M214.4 226.6h0M164.2 274.2h0M237.1 222.7h0M228.1 253.9h0M176.2 291.4h0M203.6 234.0h0M236.5 258.0h0M213.3 217.6h0M176.9 217.6h0M256.7 220.7h0M224.5 243.4h0M232.4 222.0h0M189.9 217.8h0M231.5 231.2h0M168.3 276.4h0M210.1 225.4h0M177.6 293.3h0M259.5 223.4h0M233.8 219.8h0M194.1 219.5h0M151.4 270.1h0M227.2 247.2h0M261.0 222.4h0M227.6 227.7h0M223.3 259.2h0M158.6 263.1h0M151.0 267.7h0M180.9 288.7h0M252.8 246.1h0M173.4 217.9h0M233.9 231.4h0M225.4 256.2h0M156.5 259.8h0M151.8 261.6h0M155.9 268.8h0M194.5 240.5h0M177.9 283.4h0M253.2 246.1h0M260.4 246.5h0M246.2 249.4h0M182.5 218.4h0M232.7 231.6h0M233.8 224.0h0M147.9 261.2h0M170.9 220.6h0M229.9 233.5h0M227.5 244.1h0M220.4 260.3h0M224.4 232.8h0M172.5 278.6h0M262.6 223.4h0M178.4 288.0h0M184.3 283.0h0M258.2 248.1h0" fill="none" stroke="#9c7446" stroke-width="1.3" stroke-linecap="round" opacity="0.7"/></g>
<g filter="url(#bl03)"><path d="M154.4 279.3h0M167.0 215.2h0M152.9 217.3h0M242.8 217.3h0M190.3 288.5h0M243.1 238.6h0M148.7 289.2h0M222.7 295.0h0M227.3 281.0h0M218.8 273.9h0M219.2 224.5h0M175.9 278.2h0M255.4 228.1h0M168.9 241.8h0M212.3 292.1h0M165.4 298.3h0M203.1 218.7h0M207.1 245.4h0M193.5 293.6h0M150.6 240.0h0M210.5 245.3h0M204.3 274.7h0M200.5 222.0h0M211.2 219.1h0M187.3 280.6h0M176.2 234.3h0M169.0 215.9h0M214.0 230.1h0M231.8 220.1h0M160.9 269.4h0M218.5 239.1h0M164.6 288.8h0M218.8 256.1h0M162.7 243.6h0M218.5 227.0h0M211.9 290.5h0M194.2 261.6h0M194.8 224.8h0M210.5 221.3h0M250.7 296.1h0M253.7 291.3h0M175.7 267.3h0M233.7 252.4h0M227.8 270.1h0M155.3 218.3h0M251.6 293.9h0M230.5 260.5h0M239.4 294.8h0M234.4 274.1h0M152.6 236.4h0M185.7 254.5h0M181.0 284.9h0M262.3 248.8h0M240.3 241.8h0M237.8 237.1h0M187.6 231.2h0M208.8 241.3h0M250.1 225.6h0M251.1 233.3h0M172.3 274.9h0M226.0 226.9h0M216.5 246.5h0M217.5 251.4h0M203.8 222.8h0M157.5 289.2h0M163.5 288.0h0M182.7 274.5h0M195.0 257.3h0M176.5 239.6h0M165.0 283.9h0M148.9 291.1h0M238.2 236.1h0M170.3 286.8h0M197.1 233.2h0M209.9 296.1h0M247.6 262.0h0M210.8 278.8h0M186.3 217.4h0M207.0 223.8h0M180.1 241.5h0M209.2 217.9h0M174.3 215.0h0M246.2 301.3h0M229.2 215.7h0M161.6 281.1h0M202.2 276.7h0M188.1 295.6h0M181.9 266.3h0M212.9 237.8h0M180.3 298.8h0M254.2 289.5h0M231.2 264.4h0M184.3 223.2h0M255.5 282.8h0M177.0 292.1h0M214.6 222.2h0M184.3 235.0h0M235.9 287.0h0M219.8 252.6h0M246.1 249.9h0M164.0 271.7h0M252.2 292.8h0M242.8 252.7h0M203.1 270.5h0M209.1 295.3h0M225.8 288.9h0M218.1 219.7h0M156.3 235.7h0M215.7 292.4h0M250.6 266.6h0M178.0 266.3h0M175.3 260.1h0M204.2 296.7h0M251.9 218.4h0M242.0 267.3h0M216.6 253.6h0M250.2 282.8h0M163.8 244.7h0M176.2 233.6h0M171.0 273.4h0M189.7 236.0h0M185.1 288.7h0M164.1 291.0h0M216.7 256.3h0M166.1 302.3h0M243.1 268.9h0M208.9 268.2h0M192.5 216.5h0M168.8 243.8h0M159.0 281.2h0M211.1 288.3h0M249.7 265.7h0M223.6 233.4h0M159.2 279.0h0M248.5 233.1h0M245.3 251.3h0M214.8 292.1h0M251.6 286.1h0M243.0 275.6h0M243.5 286.1h0M177.9 265.1h0M153.0 231.9h0M255.8 229.8h0M194.0 232.1h0M174.2 250.5h0M157.9 279.6h0M172.6 227.1h0M200.2 255.9h0M194.0 299.8h0M256.6 289.4h0M213.6 225.6h0M226.6 235.6h0M210.9 227.2h0M226.0 233.1h0M256.0 282.0h0M212.1 223.8h0M171.3 253.2h0M229.6 255.6h0M250.4 263.3h0M177.1 232.1h0M154.6 286.1h0M249.9 288.2h0M250.5 288.1h0M204.5 249.0h0M216.1 296.6h0M170.0 298.4h0M230.1 226.1h0M150.4 227.2h0M249.5 240.5h0M240.3 276.4h0" fill="none" stroke="#5e5650" stroke-width="1.3" stroke-linecap="round" opacity="0.65"/></g>
<g filter="url(#bl05)"><path d="M199.5 266 C200 263.5 203 263 205.5 264 C207.5 266 207 270 205 272.5 C202.5 273.5 200 271 199.5 266 Z" fill="#f0f0f2"/><ellipse cx="164.5" cy="259.5" rx="5" ry="3.2" fill="none" stroke="#ebebeb" stroke-width="1.2" opacity="0.7"/></g>
</g>
<g clip-path="url(#c2)">
<rect x="264.5" y="214" width="115.5" height="88.5" fill="#dddcda" />
<g filter="url(#bl3)" fill="#bea685" opacity="0.35"><ellipse cx="366" cy="224" rx="14" ry="9"/><ellipse cx="363" cy="265" rx="9" ry="6"/><ellipse cx="273" cy="262" rx="10" ry="14"/><ellipse cx="284" cy="281" rx="3" ry="8"/><ellipse cx="320" cy="290" rx="3" ry="10"/><ellipse cx="294" cy="230" rx="4" ry="12"/><ellipse cx="340" cy="232" rx="8" ry="6"/></g>
<g filter="url(#bl05)" fill="none" stroke="#8c6c48" stroke-width="1.6" opacity="0.55"><path d="M298 213 C298 222 297 231 293 239.5 C289 246 281 249 272 253 C269 254.5 266 256 264 258"/><path d="M279 274 C282 279 285 283 287.5 288"/><path d="M273 247 C276 249 279 251 282 253"/></g>
<g filter="url(#bl05)" fill="none" stroke="#f3f3f3" stroke-width="2.0"><path d="M296 213 C296 222 295 230 291 238 C287 244 279 247 270 251 C267 252.5 265 254 263 256"/></g>
<g filter="url(#gl)" opacity="0.3"><rect x="264.5" y="214" width="115.5" height="88.5" fill="#000" /></g>
<g filter="url(#gd)" opacity="0.15"><rect x="264.5" y="214" width="115.5" height="88.5" fill="#000" /></g>
<g filter="url(#bl03)"><path d="M367.0 220.8h0M283.9 281.4h0M293.1 216.7h0M284.7 279.5h0M268.5 277.6h0M271.2 266.0h0M330.9 226.9h0M296.9 218.2h0M378.9 218.9h0M351.9 230.4h0M281.5 269.5h0M296.4 227.8h0M280.0 246.9h0M377.9 227.7h0M282.6 283.7h0M357.6 266.3h0M271.6 255.1h0M359.2 221.1h0M291.0 223.2h0M366.5 267.3h0M265.7 257.6h0M367.0 216.8h0M283.8 283.4h0M283.4 261.2h0M364.7 216.8h0M282.4 283.1h0M363.1 228.8h0M278.8 240.8h0M368.2 267.9h0M279.7 256.3h0M271.0 251.5h0M367.5 228.5h0M274.9 256.5h0M368.4 228.5h0M372.3 224.7h0M368.4 230.3h0M286.9 272.4h0M284.0 280.9h0M364.7 219.2h0M352.9 226.4h0M363.3 258.3h0M275.7 262.3h0M364.7 228.8h0M269.2 286.8h0M357.5 270.4h0M279.4 250.1h0M343.9 239.3h0M347.1 228.2h0M360.2 232.6h0M324.0 295.1h0M365.9 237.4h0M372.6 214.4h0M343.3 237.1h0M353.0 264.8h0M368.4 218.1h0M274.4 269.3h0M284.9 276.6h0M366.8 223.0h0M270.7 285.3h0M283.7 259.2h0M367.9 219.3h0M286.0 259.7h0M369.5 265.5h0M317.6 289.6h0M374.4 229.5h0M338.4 233.0h0M371.9 228.2h0M317.8 291.8h0M377.6 223.1h0M342.6 239.7h0M284.0 280.9h0M361.1 265.0h0M324.5 298.0h0M368.0 226.1h0M273.6 265.3h0M279.4 261.1h0M359.3 228.4h0M353.5 215.0h0M372.8 222.1h0M277.8 262.9h0M281.9 284.1h0M346.1 223.0h0M271.4 262.7h0M366.8 215.8h0M360.4 265.5h0M361.5 227.1h0M367.3 268.5h0M352.1 266.9h0M372.2 224.5h0M322.0 292.8h0M371.8 220.4h0M271.4 263.9h0M318.9 289.0h0M371.4 221.5h0M269.2 263.2h0M365.1 263.1h0M266.8 276.6h0M362.7 265.8h0M376.2 224.8h0M343.1 224.9h0M366.0 223.6h0M377.7 215.7h0M275.9 270.8h0M351.9 223.0h0M272.3 260.2h0M269.9 258.1h0" fill="none" stroke="#9c7446" stroke-width="1.3" stroke-linecap="round" opacity="0.7"/></g>
<g filter="url(#bl03)"><path d="M297.1 275.2h0M369.4 284.0h0M290.8 237.5h0M365.8 279.5h0M341.3 282.5h0M276.2 249.8h0M316.0 278.1h0M339.2 218.6h0M336.8 295.8h0M322.2 261.5h0M349.5 283.1h0M361.2 288.1h0M316.7 259.3h0M294.0 233.0h0M266.8 302.1h0M367.1 302.2h0M362.1 278.6h0M314.0 253.6h0M329.3 261.2h0M335.1 236.7h0M341.6 276.2h0M366.2 296.6h0M283.9 219.6h0M302.3 289.2h0M275.5 282.5h0M337.0 256.0h0M339.7 270.0h0M314.9 275.5h0M371.8 260.4h0M272.2 255.9h0M365.7 236.5h0M368.9 292.1h0M302.5 226.1h0M271.3 219.0h0M268.7 236.4h0M355.5 275.8h0M322.9 257.3h0M344.5 288.7h0M304.3 214.7h0M349.2 301.7h0M271.6 273.3h0M329.6 253.0h0M290.1 226.9h0M291.8 287.1h0M296.1 260.0h0M370.7 268.4h0M342.6 287.1h0M377.0 296.3h0M297.0 297.1h0M373.5 250.4h0M326.8 215.5h0M335.8 283.4h0M377.3 241.1h0M304.1 256.8h0M346.3 271.1h0M313.1 250.4h0M344.5 231.4h0M332.6 241.3h0M267.1 301.3h0M349.7 238.7h0M360.4 233.8h0M272.4 274.6h0M289.7 245.9h0M292.6 292.7h0M328.0 277.3h0M293.9 255.3h0M318.9 282.7h0M265.0 244.5h0M372.2 259.6h0M302.0 299.2h0M369.2 299.2h0M290.6 278.0h0M368.6 228.8h0M274.4 298.7h0M377.0 264.4h0M368.0 239.6h0M311.1 225.8h0M282.6 259.4h0M345.8 220.5h0M330.6 216.0h0M278.2 263.3h0M375.3 221.3h0M341.1 246.9h0M320.9 252.3h0M342.9 281.4h0M360.3 241.3h0M289.2 222.5h0M285.0 276.5h0M323.5 289.0h0M323.3 285.9h0M294.8 257.7h0M280.5 276.1h0M325.0 288.7h0M274.1 225.7h0M347.9 280.6h0M276.2 299.8h0M305.1 228.2h0M294.4 301.2h0M289.9 241.3h0M300.4 233.1h0M363.4 258.0h0M269.7 278.1h0M288.6 229.1h0M377.7 221.5h0M327.2 267.1h0M326.8 297.1h0M373.2 264.4h0M275.6 217.1h0M358.1 258.6h0M302.7 242.5h0M344.8 240.6h0M353.4 250.6h0M272.9 246.3h0M353.5 289.7h0M343.5 240.6h0M272.7 255.1h0M271.8 242.3h0M362.7 270.8h0M343.9 249.3h0M342.2 289.6h0M361.8 225.8h0M310.5 233.5h0M330.4 222.7h0M336.5 274.6h0M317.6 302.0h0M279.9 292.7h0M343.3 226.2h0M296.0 301.1h0M282.3 279.6h0M337.3 251.3h0M300.9 236.5h0M374.5 236.6h0M280.6 224.2h0M337.6 302.3h0M336.7 233.0h0M362.3 286.8h0M290.0 214.9h0M330.7 224.1h0M293.1 238.9h0M278.3 302.0h0M376.6 221.5h0M376.3 254.8h0M307.6 245.4h0M319.3 297.7h0M375.9 285.4h0M345.6 215.5h0M367.6 283.9h0M277.1 259.2h0M322.7 225.9h0M369.8 265.8h0M304.9 240.9h0M308.9 273.2h0M331.2 230.0h0M323.7 301.4h0M376.4 271.4h0M271.9 282.9h0M307.6 263.1h0M366.3 241.0h0M368.2 221.8h0M318.4 252.2h0" fill="none" stroke="#5e5650" stroke-width="1.3" stroke-linecap="round" opacity="0.6"/></g>
<g filter="url(#bl05)" fill="#f1f1f4"><path d="M327 302.5 C326.5 294 328 287 333 282 C336 279 339 277 342.5 276.5 C342 283 341.5 290 343 296 C343.5 299 344 301 344 302.5 Z"/><path d="M265 257 C270 255 276 253 280.5 254 C281 258 279 262 277 266 C275 270 272 273 268.5 273 C266 270 265 263 265 257 Z" opacity="0.85"/></g>
</g>
<g clip-path="url(#c3)">
<rect x="30" y="310.5" width="115.6" height="87.5" fill="#d9d8d7" />
<g filter="url(#bl5)" opacity="0.6" fill="#e6e6e6"><ellipse cx="48" cy="327" rx="12" ry="7"/><ellipse cx="40" cy="372" rx="10" ry="8"/><ellipse cx="95" cy="330" rx="12" ry="6"/></g>
<g filter="url(#gl)" opacity="0.35"><rect x="30" y="310.5" width="115.6" height="87.5" fill="#000" /></g>
<g filter="url(#gd)" opacity="0.18"><rect x="30" y="310.5" width="115.6" height="87.5" fill="#000" /></g>
<g filter="url(#bl03)"><path d="M122.3 328.4h0M56.0 355.6h0M118.7 391.5h0M41.4 374.4h0M81.4 361.1h0M77.6 382.5h0M88.9 341.2h0M48.8 313.8h0M49.8 347.8h0M41.0 373.5h0M86.3 375.1h0M66.9 355.2h0M133.1 391.9h0M104.2 379.6h0M93.5 392.3h0M46.0 335.6h0M133.0 348.1h0M70.8 328.8h0M93.5 315.5h0M54.3 368.6h0M68.2 313.3h0M65.5 334.3h0M75.4 337.9h0M68.2 335.2h0M96.9 377.8h0M99.2 390.0h0M131.3 318.9h0M32.8 335.1h0M40.2 390.2h0M43.9 336.3h0M105.0 345.5h0M42.5 328.3h0M76.2 339.5h0M30.0 387.5h0M119.0 352.1h0M135.8 369.0h0M76.1 354.7h0M62.2 349.7h0M74.5 334.6h0M110.3 339.1h0M126.7 395.5h0M128.1 334.6h0M93.9 372.3h0M39.0 365.6h0M64.3 320.1h0M91.2 386.3h0M75.3 342.9h0M48.4 380.7h0M70.8 373.6h0M135.2 334.8h0M85.2 349.3h0M47.9 315.3h0M118.0 346.2h0M97.8 323.6h0M84.3 342.4h0M144.8 332.2h0M34.4 388.8h0M101.3 317.2h0M121.9 351.2h0M30.1 316.5h0M113.1 342.6h0M137.3 318.7h0M108.5 358.8h0M115.3 373.3h0M32.7 325.8h0M36.4 332.3h0M84.8 392.0h0M56.1 335.1h0M33.4 351.4h0M116.4 392.2h0M131.0 322.8h0M126.5 320.9h0M78.6 311.5h0M105.5 311.6h0M48.4 381.1h0M131.0 341.8h0M50.7 341.7h0M108.8 319.5h0M106.0 352.9h0M36.2 359.9h0M101.2 379.0h0M60.6 396.4h0M56.6 335.2h0M109.8 332.7h0M70.8 336.2h0M75.5 382.0h0M103.7 381.3h0M36.8 335.4h0M87.0 341.9h0M33.4 352.5h0M63.7 315.6h0M92.1 340.8h0M130.2 352.4h0M75.6 363.5h0M110.8 394.6h0M81.6 354.2h0M70.4 375.9h0M89.6 365.5h0M144.0 363.7h0M134.8 355.5h0M66.7 379.8h0M39.2 354.0h0M71.6 330.9h0M113.1 360.2h0M91.6 388.7h0M55.1 338.0h0M58.8 392.9h0M76.7 348.1h0M104.2 321.7h0M135.1 343.7h0M85.3 330.9h0M105.4 363.9h0M101.1 393.0h0M135.8 396.7h0M45.3 326.1h0M31.6 321.3h0M87.4 376.2h0M114.1 331.9h0M132.5 322.1h0M83.0 368.2h0M72.2 387.7h0M59.2 340.6h0M145.0 393.8h0M110.1 340.7h0M140.6 355.2h0M40.8 335.2h0M136.6 353.1h0M125.9 342.6h0M85.0 349.9h0M79.2 393.5h0M35.5 318.7h0M40.9 313.6h0M50.9 327.9h0M56.2 373.4h0M94.7 335.5h0M35.2 338.8h0M44.9 377.1h0M68.4 365.8h0M128.7 342.2h0M117.2 318.5h0M108.1 362.8h0M82.0 339.6h0M89.1 383.2h0M58.1 395.0h0M72.6 367.1h0M110.1 339.7h0M104.3 328.7h0M102.7 340.0h0M121.2 388.6h0M134.6 390.1h0M41.7 346.1h0M79.7 360.8h0M82.6 383.3h0M58.7 337.6h0M50.8 383.6h0M37.0 368.4h0M48.6 348.2h0M89.7 366.4h0M142.8 358.2h0M61.8 330.4h0M109.8 319.8h0M79.8 375.3h0M131.1 341.4h0M104.7 339.7h0M68.3 380.2h0M79.4 361.4h0M37.8 349.0h0M106.4 382.9h0M102.2 344.3h0M63.8 334.2h0M138.2 363.0h0M68.3 331.0h0M95.4 361.7h0M89.4 342.3h0M41.0 347.6h0M78.4 320.1h0M98.9 386.3h0M102.3 319.3h0M50.2 376.9h0M53.8 330.2h0M83.3 315.1h0M140.3 376.4h0M129.3 350.2h0M75.0 322.5h0M63.2 351.9h0M131.6 348.0h0M137.7 380.5h0M126.5 382.0h0M38.9 390.1h0M139.4 327.0h0M89.5 394.7h0M113.9 369.5h0M46.4 329.3h0M99.8 387.5h0M140.4 353.5h0M81.2 330.1h0M86.6 314.2h0M128.1 344.6h0M107.6 348.3h0M71.2 311.0h0M60.4 323.0h0M33.1 330.9h0M87.4 362.5h0M103.3 360.7h0M46.2 343.0h0M79.6 317.1h0M31.0 330.5h0M35.3 324.9h0M35.5 339.7h0M37.0 314.6h0M112.5 373.7h0M127.3 312.5h0M124.2 389.8h0M75.2 394.8h0M92.2 361.8h0M67.4 381.2h0M77.5 324.2h0M98.8 355.6h0M72.6 326.9h0M123.6 327.7h0M52.1 389.9h0M143.8 330.2h0M44.4 393.0h0M51.4 343.8h0M51.7 395.8h0M100.6 328.0h0M141.8 353.6h0M67.4 353.1h0M52.1 353.3h0M58.1 382.4h0M47.4 336.5h0M131.5 336.2h0M128.7 397.9h0M111.9 358.6h0M115.2 351.6h0M77.7 368.0h0M31.9 337.2h0M35.2 370.3h0M39.3 351.8h0M98.6 346.5h0M99.8 388.3h0M43.5 343.6h0M106.4 390.5h0M119.0 389.2h0M59.2 316.9h0M67.6 386.4h0M66.9 363.2h0M34.1 353.9h0M108.4 336.5h0M124.8 339.1h0M117.3 324.1h0M39.3 378.4h0M64.1 315.7h0M113.5 350.3h0M53.0 372.8h0M46.8 324.2h0M52.0 351.1h0M54.4 389.5h0M51.9 355.7h0M35.5 361.2h0M39.6 368.7h0M58.1 393.2h0M115.7 341.3h0M37.6 329.8h0M128.2 380.4h0M95.1 353.1h0M140.3 372.8h0M79.4 387.0h0M126.6 352.0h0M75.7 386.1h0M86.0 373.9h0M116.8 335.9h0M143.8 383.5h0M75.2 367.6h0M83.3 312.7h0M125.9 319.8h0M41.1 381.9h0M99.8 372.7h0M142.2 389.2h0M125.5 391.0h0M84.5 355.7h0M43.2 368.1h0M75.6 338.6h0M94.8 389.9h0M65.3 337.7h0M103.6 383.6h0M103.5 362.6h0M114.9 339.8h0M94.3 369.2h0M132.8 391.6h0M130.0 380.9h0M124.1 329.3h0M143.8 397.5h0M107.2 335.8h0M81.0 312.1h0M41.2 386.7h0M65.5 351.0h0M137.3 310.6h0M100.7 341.2h0M113.9 350.1h0M144.9 378.5h0M32.1 371.6h0M51.6 373.1h0M79.9 329.0h0M84.3 347.7h0M142.5 359.9h0M88.7 368.7h0M104.2 325.7h0M42.7 323.5h0M94.9 368.4h0M82.7 324.9h0M88.1 316.2h0M47.2 367.9h0M64.5 396.4h0M113.5 350.7h0M134.8 317.2h0M136.1 388.5h0M38.7 392.4h0M117.5 320.7h0M75.9 356.6h0M140.1 343.8h0M131.1 363.0h0M104.5 329.5h0M136.8 388.3h0M111.1 395.2h0M34.2 366.4h0M126.8 366.0h0M32.0 377.9h0M138.2 340.9h0M99.4 324.5h0M31.5 353.8h0M97.5 395.0h0M65.6 341.0h0M137.5 362.1h0M88.6 359.4h0M83.7 333.9h0M115.6 365.5h0M87.8 347.9h0M58.6 370.5h0M47.4 363.6h0M123.8 324.6h0M94.3 393.8h0M104.8 374.0h0M96.5 332.4h0M108.0 334.6h0M126.4 361.3h0M73.4 382.0h0M111.9 397.4h0M134.8 393.5h0M84.2 325.6h0M85.1 319.6h0M110.3 381.6h0M108.4 356.1h0M118.2 381.2h0M136.8 352.8h0M54.2 337.8h0M44.1 389.4h0M122.5 312.1h0M40.8 366.6h0M101.4 381.9h0M109.7 368.2h0M51.3 351.6h0M141.7 332.8h0M30.1 371.1h0M110.4 394.4h0M141.8 340.9h0M67.3 371.8h0M41.0 311.3h0M112.6 351.8h0M80.1 311.4h0M131.8 313.1h0M119.6 349.6h0M58.2 367.0h0M56.7 367.5h0M45.9 368.1h0M87.3 321.7h0M100.6 364.0h0M50.2 317.4h0M40.1 334.2h0M34.4 328.1h0" fill="none" stroke="#4e4a46" stroke-width="1.25" stroke-linecap="round" opacity="0.75"/></g>
<g filter="url(#bl03)"><path d="M32.3 372.5h0M52.8 394.3h0M133.3 328.3h0M136.8 322.4h0M34.2 329.9h0M91.5 326.2h0M82.6 343.3h0M133.4 379.9h0M138.4 313.5h0M71.7 355.5h0M73.0 347.9h0M63.5 324.3h0M39.2 343.3h0M118.3 347.1h0M132.0 346.1h0M126.2 319.8h0M111.8 325.8h0M139.2 387.7h0M33.4 328.3h0M136.7 365.3h0M82.6 383.4h0M56.0 359.5h0M93.3 322.1h0M78.3 395.9h0M69.4 350.3h0M104.8 350.0h0M42.4 344.2h0M111.8 345.3h0M41.6 315.4h0M128.8 335.0h0M68.6 376.0h0M134.5 388.7h0M86.1 395.8h0M127.9 315.1h0M43.3 373.0h0M93.4 382.8h0M76.0 392.3h0M64.1 366.4h0M119.2 315.6h0M104.5 330.4h0M140.3 368.3h0M144.1 338.8h0M81.9 373.3h0M129.8 377.0h0M77.3 362.5h0M123.2 348.6h0M36.6 344.2h0M80.1 348.3h0M71.6 356.9h0M117.8 326.4h0M113.9 345.7h0M61.2 323.7h0M129.4 323.7h0M47.4 387.4h0M68.7 320.7h0M58.0 356.1h0M86.0 377.7h0M143.8 315.2h0M36.9 317.9h0M131.5 320.4h0M70.5 310.5h0M139.7 349.4h0M106.1 354.9h0M36.9 394.7h0M75.7 374.6h0M134.0 363.9h0M52.1 350.4h0M79.0 386.5h0M85.6 352.2h0M97.6 386.9h0M76.5 318.9h0M44.8 363.6h0M142.0 377.0h0M74.4 389.6h0M77.3 367.2h0M43.9 346.7h0M81.9 333.1h0M116.7 390.2h0M66.0 331.7h0M51.3 316.4h0M137.7 369.9h0M55.3 386.9h0M89.4 385.6h0M87.0 364.1h0M55.4 392.3h0M116.2 335.6h0M123.6 340.3h0M47.9 352.6h0M100.1 375.3h0M128.0 376.9h0M111.0 361.1h0M53.3 385.0h0M35.7 374.4h0M97.5 393.3h0M120.5 388.8h0M145.2 382.0h0M92.4 329.5h0M46.0 321.7h0M48.6 380.7h0M115.7 341.4h0M90.9 311.9h0M76.0 332.6h0M75.0 360.5h0M104.1 394.9h0M105.7 385.4h0M127.6 397.5h0M32.1 322.1h0M125.4 315.7h0M122.8 376.5h0M141.5 323.6h0M66.0 395.6h0M56.2 386.0h0M127.6 314.7h0M134.9 358.9h0M124.3 389.2h0M97.0 338.3h0M113.1 337.2h0M121.4 341.3h0M83.5 355.5h0M100.1 395.4h0M95.0 351.6h0M70.5 397.3h0M91.2 325.9h0M66.7 311.5h0M123.0 358.8h0M82.3 387.5h0M40.9 334.1h0M140.3 330.7h0M141.4 388.9h0M47.2 368.7h0M85.4 368.1h0M82.3 377.7h0M107.7 361.9h0M112.1 384.1h0M89.1 314.9h0M76.3 326.1h0M55.8 316.0h0M99.5 353.1h0M108.2 311.3h0M106.9 353.9h0M73.6 381.7h0M136.5 381.7h0M137.3 383.5h0M52.6 325.8h0M126.1 365.4h0M80.6 336.4h0M91.0 331.5h0M90.3 391.7h0M89.2 313.0h0M92.8 375.2h0M100.4 389.0h0M145.2 376.5h0M115.3 396.8h0M69.0 338.1h0M30.7 394.7h0M58.6 321.2h0M94.1 382.6h0M71.6 340.9h0M120.0 323.5h0M48.4 342.1h0M64.3 337.7h0M130.3 327.0h0M102.9 393.9h0M35.8 394.3h0M36.2 353.8h0M125.6 342.2h0M86.6 332.9h0M60.2 366.5h0M94.0 367.0h0M103.4 318.3h0M60.4 351.4h0M43.9 318.2h0M62.7 318.8h0M69.8 322.6h0M31.4 317.9h0M119.3 373.6h0M65.5 351.7h0M108.1 320.6h0M129.8 388.7h0M143.8 375.4h0M114.9 383.8h0M121.8 342.2h0M71.9 395.2h0M140.5 366.5h0M72.4 367.2h0M34.3 345.7h0M82.5 327.7h0M106.2 313.3h0M77.3 323.1h0M91.0 396.9h0M136.0 350.1h0M127.2 325.1h0M66.5 341.5h0M107.1 395.6h0M91.7 396.7h0M99.9 382.0h0M131.9 370.9h0M119.8 349.6h0M132.4 323.5h0M128.7 372.6h0M41.9 311.3h0M72.8 381.6h0M84.8 381.6h0M84.3 322.6h0M32.4 368.6h0M124.3 353.0h0M38.6 340.9h0M65.0 384.1h0M72.5 371.7h0M80.2 329.4h0M71.7 319.5h0M34.8 395.4h0M58.0 395.2h0M80.9 389.3h0M47.3 310.8h0M34.9 391.2h0M125.2 343.1h0M96.1 343.1h0M51.9 374.1h0M41.0 394.6h0M79.8 339.2h0M103.6 346.9h0M109.4 393.5h0M46.5 381.3h0M36.2 360.5h0M60.0 378.1h0M120.8 326.4h0M69.7 324.2h0M130.3 358.7h0M71.2 375.5h0M31.0 329.6h0M62.2 391.4h0M69.6 349.3h0M61.7 330.9h0M71.9 397.3h0M101.6 322.6h0M82.1 381.0h0M129.1 330.2h0M68.5 322.1h0M137.6 395.1h0M47.9 355.3h0M61.3 376.6h0M35.9 324.8h0M99.5 388.0h0M144.5 326.7h0M105.6 389.5h0M74.5 359.6h0M81.9 316.4h0M73.3 329.1h0M120.3 353.3h0M32.7 375.0h0M115.4 373.3h0M37.4 323.9h0M38.8 377.9h0M133.2 393.7h0M136.3 329.8h0M68.0 388.4h0M134.4 316.3h0M133.5 350.3h0M109.7 368.1h0M105.7 339.9h0M119.6 326.8h0M54.0 347.2h0M59.1 386.6h0M130.6 322.2h0M53.0 366.4h0M102.4 358.4h0M136.4 367.7h0M39.1 332.3h0M141.1 334.5h0M80.9 354.1h0M53.4 364.2h0M53.4 380.6h0M87.2 383.4h0M127.0 318.3h0M32.0 336.4h0M141.6 313.2h0M66.3 348.2h0M141.5 379.6h0M52.7 320.9h0M53.1 375.7h0M136.4 365.5h0M72.4 334.6h0M56.9 327.1h0M143.3 339.4h0M33.7 384.0h0M144.0 347.7h0M121.2 329.3h0M102.8 380.4h0M113.5 329.0h0M65.8 342.2h0M120.8 353.8h0M74.5 325.5h0M136.4 340.2h0M60.9 394.9h0M93.0 369.1h0M87.6 345.3h0M67.7 322.6h0M55.6 332.5h0M65.9 316.4h0M100.9 357.7h0M30.5 338.9h0M136.3 322.2h0M83.4 352.7h0M119.5 367.6h0M33.8 319.4h0M116.3 312.6h0M55.5 330.7h0M62.5 394.4h0M64.9 358.8h0M71.7 311.7h0M85.2 340.1h0M75.3 395.9h0M113.1 392.2h0M74.5 343.5h0M88.7 359.3h0M113.5 332.4h0M35.5 333.9h0M57.3 349.9h0M117.5 389.1h0M61.6 353.7h0M40.9 375.1h0M115.9 374.9h0M109.2 376.4h0M137.9 366.2h0M43.5 368.1h0M134.3 346.5h0M85.0 353.1h0M38.7 384.5h0M115.9 389.0h0M135.0 320.5h0M66.3 367.0h0M124.4 345.3h0M65.9 387.7h0M121.5 369.9h0M115.9 341.6h0M34.9 360.2h0M31.8 348.7h0M139.9 395.6h0M55.8 320.5h0M42.4 311.9h0M49.9 330.1h0M73.6 311.5h0M70.5 338.1h0M119.4 338.6h0M53.6 325.2h0M49.1 362.1h0M142.5 365.5h0M46.4 381.2h0M84.8 339.6h0" fill="none" stroke="#6a6460" stroke-width="1.0" stroke-linecap="round" opacity="0.55"/></g>
</g>
<g clip-path="url(#c4)">
<rect x="147.1" y="310.5" width="115.9" height="87.5" fill="#e2e2e4" />
<g filter="url(#bl3)" fill="#c2a67e" opacity="0.35"><ellipse cx="156" cy="335" rx="10" ry="16"/><ellipse cx="174" cy="340" rx="5" ry="12"/><ellipse cx="193" cy="338" rx="12" ry="12"/><ellipse cx="155" cy="370" rx="8" ry="8"/><ellipse cx="211" cy="324" rx="9" ry="13"/><ellipse cx="249" cy="358" rx="5" ry="4"/><ellipse cx="228" cy="385" rx="9" ry="6"/><ellipse cx="259" cy="325" rx="6" ry="8"/><ellipse cx="165" cy="318" rx="8" ry="5"/></g>
<g filter="url(#gl)" opacity="0.3"><rect x="147.1" y="310.5" width="115.9" height="87.5" fill="#000" /></g>
<g filter="url(#gd)" opacity="0.15"><rect x="147.1" y="310.5" width="115.9" height="87.5" fill="#000" /></g>
<g filter="url(#bl03)"><path d="M191.6 334.9h0M243.0 336.5h0M154.2 377.1h0M261.3 345.9h0M163.9 335.2h0M210.8 368.2h0M176.7 353.7h0M194.4 334.7h0M193.1 342.3h0M195.9 328.2h0M179.1 323.7h0M160.5 342.3h0M244.1 352.6h0M226.1 317.1h0M230.6 342.3h0M247.6 356.4h0M220.3 340.6h0M205.9 331.6h0M162.2 337.7h0M250.1 395.8h0M200.3 319.0h0M175.8 396.5h0M227.1 338.1h0M224.6 390.7h0M210.9 389.4h0M161.1 340.9h0M150.0 331.4h0M226.5 363.4h0M164.9 322.4h0M151.2 336.0h0M155.9 337.6h0M259.1 316.1h0M186.1 334.6h0M158.3 320.1h0M219.5 379.6h0M199.8 339.1h0M245.4 384.2h0M178.6 352.7h0M208.3 340.1h0M219.2 382.7h0M155.7 360.1h0M206.3 351.9h0M234.7 317.9h0M149.8 329.0h0M153.6 346.5h0M259.6 397.3h0M172.6 334.4h0M204.5 366.3h0M199.9 337.6h0M161.4 324.0h0M207.9 329.7h0M227.7 327.9h0M227.1 318.0h0M221.8 332.0h0M199.1 326.2h0M155.6 326.5h0M193.5 339.3h0M200.8 324.3h0M158.3 325.7h0M173.7 339.0h0M204.4 364.0h0M157.6 349.4h0M198.0 383.0h0M228.8 371.7h0M232.9 381.4h0M172.0 324.3h0M163.5 329.3h0M261.7 329.3h0M217.0 322.7h0M218.9 389.1h0M163.9 397.0h0M223.6 371.1h0M153.2 373.4h0M213.4 324.9h0M243.1 332.6h0M168.6 321.7h0M200.7 343.2h0M217.7 326.5h0M190.2 324.1h0M172.9 345.2h0M162.7 325.4h0M150.9 336.1h0M166.1 315.0h0M151.6 313.4h0M150.5 334.4h0M252.3 363.2h0M262.8 340.5h0M195.4 358.8h0M197.5 343.0h0M197.6 339.6h0M159.2 324.6h0M238.4 335.4h0M183.6 385.9h0M165.0 391.3h0M153.7 373.1h0M170.8 372.1h0M239.2 316.3h0M150.2 331.5h0M195.0 387.5h0M203.5 326.3h0M175.0 321.3h0M248.4 381.1h0M216.6 328.2h0M182.6 335.3h0M177.7 323.8h0M155.0 327.5h0M149.8 319.3h0M226.2 375.2h0M158.9 325.3h0M216.2 333.6h0M217.4 328.8h0M164.0 340.7h0M194.8 347.5h0M165.3 382.4h0M205.7 326.7h0M213.9 356.0h0M185.0 329.4h0M173.2 322.8h0M260.7 346.8h0M159.2 315.2h0M178.0 338.3h0M255.2 340.7h0M204.8 328.9h0M216.6 329.2h0M148.0 330.3h0M177.1 340.2h0M161.2 376.3h0M188.5 317.3h0M176.7 336.9h0M240.0 312.9h0M174.0 365.6h0M159.8 311.2h0M171.1 311.2h0M182.5 324.2h0M160.8 330.5h0M168.2 311.3h0M153.8 372.8h0M233.1 369.5h0M262.0 330.0h0M184.4 350.1h0M241.7 313.3h0M216.6 379.7h0M196.9 312.8h0M210.3 315.3h0M210.8 321.1h0M226.1 397.5h0M185.9 339.4h0M152.8 355.8h0M148.6 333.1h0M262.1 326.8h0M239.6 372.2h0M156.3 336.2h0M260.7 331.4h0M190.4 342.3h0M187.5 339.0h0M174.8 355.0h0M159.0 329.5h0M214.5 314.0h0M192.4 344.6h0M206.5 321.3h0M195.4 325.3h0M219.2 333.3h0M206.8 384.5h0M199.7 357.3h0M162.3 395.4h0M195.5 335.5h0M196.3 318.4h0M153.6 357.1h0M187.6 327.0h0M226.4 388.1h0M259.8 326.3h0M195.6 368.7h0M150.3 366.1h0M155.4 366.5h0M159.7 396.8h0M192.9 333.1h0M232.5 316.0h0M154.8 332.7h0M224.1 342.0h0M154.0 374.2h0M250.4 359.3h0M223.5 389.0h0M170.5 339.8h0M186.4 348.6h0M180.3 333.8h0M176.1 331.4h0M212.0 368.8h0M193.9 333.1h0M216.9 323.2h0M151.2 360.6h0M182.9 389.4h0M203.4 328.4h0M199.7 350.2h0M161.8 343.7h0M163.1 315.6h0M184.5 346.0h0M148.4 334.4h0M246.4 356.0h0M162.9 363.3h0M217.0 376.4h0M260.7 310.9h0M162.6 340.8h0M173.1 324.0h0M262.6 323.9h0M193.8 340.2h0M230.8 347.1h0M208.4 354.4h0M207.4 313.3h0M252.4 374.1h0M148.5 363.8h0M208.3 317.0h0M158.1 330.3h0M235.5 383.7h0M211.3 343.6h0M160.2 326.8h0M162.1 354.0h0M246.8 314.3h0M162.6 314.4h0M257.7 375.0h0M235.4 384.3h0M153.0 355.9h0M168.8 323.2h0M234.0 376.9h0M258.3 322.8h0M155.4 374.2h0M155.8 343.9h0M155.4 338.9h0M238.6 353.8h0M211.6 359.4h0M257.0 350.8h0M170.6 321.7h0M198.9 339.2h0M220.1 334.8h0M159.7 347.4h0M155.7 342.2h0M194.8 365.5h0M172.1 356.9h0M153.1 372.5h0M233.8 341.4h0M219.3 324.3h0M152.4 348.9h0M211.2 324.7h0M213.0 336.3h0M197.0 338.5h0M213.3 317.3h0M219.0 329.5h0M243.2 331.5h0M223.7 368.3h0M153.9 377.6h0M246.4 386.7h0M161.8 321.3h0M191.4 334.6h0M173.5 326.7h0M186.1 347.1h0M169.6 316.6h0M184.9 340.6h0M148.8 372.2h0M195.2 350.8h0M189.7 339.8h0M166.0 332.6h0M192.2 394.6h0M163.3 323.1h0M207.2 312.5h0M150.1 331.4h0M211.5 318.2h0M149.7 372.9h0M171.4 334.8h0M160.1 363.9h0M210.5 342.1h0M205.1 319.4h0M148.8 356.1h0M162.4 364.9h0M172.7 346.5h0M165.4 326.3h0M172.4 328.0h0M227.9 393.7h0M255.2 359.3h0M217.9 356.9h0M218.1 348.9h0M181.8 388.1h0M162.2 323.9h0M153.1 362.1h0M159.4 313.5h0M249.0 349.2h0M152.8 370.4h0M164.0 317.2h0M160.1 322.2h0M200.5 325.9h0M239.1 371.2h0M158.9 329.2h0M204.8 354.1h0M190.0 348.9h0M211.6 351.9h0M156.2 364.3h0M157.3 340.0h0M192.5 331.7h0M202.9 340.9h0M192.5 343.4h0M198.3 334.4h0M199.4 359.1h0M148.5 326.2h0M162.5 319.4h0M232.9 386.6h0M164.5 323.2h0M197.1 355.8h0M228.5 311.7h0M242.1 368.1h0M261.6 317.5h0M187.5 345.9h0M191.3 333.0h0M220.2 325.6h0M170.5 336.9h0M193.6 339.1h0M247.6 361.8h0M185.0 311.7h0M241.2 335.5h0M218.1 335.5h0M203.3 322.0h0M215.6 349.7h0M227.3 321.0h0M151.2 329.6h0M163.2 330.7h0M167.7 390.0h0M185.6 325.3h0M212.8 336.1h0M232.1 377.5h0M198.8 339.7h0M249.5 387.4h0M164.7 352.7h0M165.2 334.4h0M172.2 346.4h0M238.6 354.9h0M175.2 347.6h0M195.9 338.0h0M157.4 319.1h0M234.7 317.5h0M206.1 336.4h0M158.4 374.4h0M218.5 345.7h0M149.6 315.1h0M162.3 323.7h0M212.6 323.9h0M222.6 323.4h0M156.2 366.2h0M184.8 338.7h0M201.8 326.1h0M203.1 368.8h0M201.1 341.7h0M222.1 387.9h0M198.3 313.1h0M208.1 331.8h0M189.4 340.4h0M212.4 328.0h0M181.0 339.5h0M173.1 353.2h0M157.5 379.7h0M247.8 382.8h0M157.4 339.7h0M150.6 349.1h0M194.4 326.4h0M154.5 362.8h0M153.5 345.4h0M182.2 324.9h0M174.9 335.2h0M172.3 393.4h0M150.9 340.8h0M207.3 393.5h0M252.9 355.9h0M198.1 392.1h0M204.9 312.3h0M195.1 340.5h0M190.7 347.1h0M190.1 321.4h0M237.2 377.9h0M214.4 328.7h0M166.5 311.8h0M205.7 315.6h0M209.1 360.1h0M189.4 329.3h0M154.4 323.9h0M180.9 332.6h0M210.0 321.0h0M198.4 330.5h0M203.7 320.6h0M210.4 322.1h0M167.6 327.3h0M171.2 356.1h0M177.1 327.1h0M227.8 388.5h0M219.7 320.3h0M190.0 349.6h0M203.0 365.5h0M181.8 328.6h0M226.2 310.7h0M208.8 313.0h0M190.3 334.8h0M195.5 339.3h0M254.2 330.0h0M159.6 369.1h0M197.8 329.0h0M248.8 389.1h0M204.9 349.1h0M193.7 379.9h0M255.2 374.8h0M159.3 349.5h0M156.3 338.7h0M259.3 355.9h0M251.8 375.3h0M149.0 351.0h0M187.1 315.9h0M193.1 339.7h0M211.4 387.7h0M262.5 353.6h0M205.3 342.8h0M149.1 395.7h0M147.9 350.0h0M190.6 347.9h0M171.0 361.9h0M167.4 337.7h0M212.9 323.0h0M209.4 332.8h0M199.4 335.5h0M217.7 323.4h0M200.2 337.5h0M262.1 345.1h0M156.2 347.8h0M163.6 386.2h0M156.3 358.3h0M179.5 397.0h0M198.5 350.7h0M151.1 374.7h0M149.9 369.2h0M174.8 347.5h0M215.1 321.0h0M210.8 315.3h0M164.0 360.1h0M151.5 363.3h0M169.2 326.8h0M212.4 328.2h0M178.3 333.1h0M162.5 342.8h0M183.0 345.3h0M158.9 367.0h0M153.3 335.4h0M205.1 338.1h0M155.5 321.5h0M256.0 330.4h0M251.1 333.7h0M244.7 376.4h0M193.5 341.7h0M209.1 319.4h0M154.5 375.1h0M198.8 318.8h0M151.5 355.0h0M150.5 351.7h0M167.7 331.8h0M175.2 318.7h0M261.9 381.1h0M185.1 324.1h0M209.3 351.0h0M241.1 347.2h0M226.1 381.2h0M227.0 356.5h0M177.9 334.9h0M201.7 321.1h0M152.2 363.9h0M185.8 365.3h0M214.8 322.9h0M233.5 383.8h0M258.0 350.8h0M189.1 332.6h0M262.6 386.7h0M163.7 335.4h0M166.6 337.3h0M198.1 324.5h0M234.3 377.9h0M218.4 316.5h0M156.1 340.4h0M240.2 365.0h0M259.2 327.0h0M152.0 340.6h0M159.3 365.0h0M200.2 350.0h0M203.1 311.6h0M172.9 317.7h0M195.7 336.8h0M254.0 358.5h0M210.3 331.4h0M187.1 343.2h0M185.8 332.3h0M184.3 328.9h0M168.4 317.6h0M150.9 329.4h0M178.0 311.9h0M161.3 368.9h0M162.0 356.1h0M156.0 346.0h0M159.1 338.5h0M202.1 368.5h0M159.1 316.0h0M217.0 322.4h0M183.4 358.5h0M253.9 360.2h0M200.9 316.3h0M158.4 365.8h0M256.9 316.2h0M204.1 333.1h0M242.4 394.6h0M200.2 344.8h0M200.3 341.3h0M228.8 383.4h0M162.7 380.3h0M262.9 328.5h0M202.1 328.6h0M177.3 329.1h0M166.5 318.5h0M249.4 342.4h0M192.7 332.5h0M177.9 341.6h0M184.0 391.8h0M166.6 338.2h0M245.0 395.7h0M194.9 341.0h0M222.3 388.9h0M220.6 354.3h0M160.5 330.4h0M187.1 351.8h0M225.0 317.9h0M259.8 322.0h0M230.1 387.6h0M169.7 319.4h0M245.3 315.8h0M202.4 318.0h0M158.8 350.4h0M211.0 333.3h0M168.3 319.7h0M261.6 314.9h0M157.5 312.3h0M177.6 327.1h0M204.8 323.1h0M181.4 340.5h0M168.1 332.0h0M156.8 346.6h0M194.4 379.7h0M209.2 321.3h0M213.0 334.8h0M255.1 324.6h0M187.5 328.6h0M218.8 329.4h0M215.8 317.7h0M184.8 339.6h0M208.5 310.9h0M172.5 338.1h0M212.2 365.4h0M218.8 311.4h0M155.4 313.5h0M194.0 387.0h0M211.0 318.6h0M196.3 329.0h0M154.5 328.4h0M168.8 316.0h0M192.1 343.2h0M244.9 332.8h0M147.4 387.9h0M154.3 334.3h0M155.3 330.7h0M211.9 317.0h0M176.6 337.8h0M226.4 326.7h0M154.2 377.9h0M227.4 329.6h0M189.4 327.3h0M234.7 320.8h0M187.3 345.4h0M248.5 359.0h0M164.2 331.1h0M220.7 379.8h0M180.4 321.3h0M248.2 331.2h0M234.8 384.4h0M192.3 324.9h0M201.6 340.2h0M212.9 326.3h0M208.5 311.4h0M257.7 322.4h0M150.6 330.7h0M155.7 333.3h0M177.7 349.3h0M157.2 371.9h0M173.7 332.1h0M216.2 312.9h0M153.7 322.1h0M193.2 394.8h0M149.0 324.4h0M198.8 346.0h0M178.9 339.6h0M202.0 350.7h0M174.9 339.6h0M161.5 340.3h0M204.4 330.4h0M239.1 364.0h0M230.0 380.2h0M248.1 356.4h0M204.7 341.3h0M147.1 381.9h0M237.2 341.1h0M157.9 364.2h0M206.9 347.5h0M214.6 332.2h0M159.8 342.0h0M242.3 371.8h0M206.4 316.6h0M250.2 339.5h0M201.3 345.2h0M154.5 360.0h0M166.4 353.2h0M175.2 351.3h0M189.5 340.0h0M157.2 339.2h0M221.2 369.0h0M231.2 349.8h0M239.0 335.3h0M196.3 345.5h0M159.7 316.0h0M160.3 357.4h0M189.7 353.1h0M159.9 319.3h0M217.8 311.9h0M257.0 336.2h0M240.4 325.9h0M179.7 336.6h0M174.0 343.0h0M150.1 384.7h0M224.7 378.9h0M155.5 324.2h0M194.6 324.1h0M243.8 377.1h0M168.7 331.5h0M170.1 319.0h0M233.8 327.2h0M150.0 324.0h0M150.6 337.4h0M152.4 346.9h0M214.1 370.0h0M223.5 332.2h0M207.1 325.8h0M209.7 379.7h0M213.9 373.4h0M192.9 363.9h0M210.5 369.6h0M208.9 339.1h0M165.0 316.9h0M153.3 340.0h0M185.9 311.0h0M179.1 346.7h0M203.0 331.0h0M253.8 322.2h0M201.0 333.6h0M166.6 350.8h0M157.1 341.6h0M235.4 326.5h0M206.6 342.0h0M203.4 362.6h0M247.8 359.6h0M163.2 319.3h0M243.2 327.4h0M247.3 359.7h0M237.1 342.8h0M157.7 366.1h0M153.7 335.8h0M194.1 347.5h0M182.0 312.1h0M195.1 344.5h0M226.5 380.7h0M154.3 315.7h0M190.7 322.0h0M248.4 373.2h0M238.3 370.1h0M231.5 383.3h0M179.6 340.6h0M205.3 322.0h0M148.5 372.6h0M167.3 333.0h0M240.5 374.1h0M246.3 394.7h0M179.2 339.2h0M225.2 329.5h0M154.3 345.6h0M239.0 359.4h0M155.9 382.7h0M181.8 318.2h0M220.7 365.5h0M179.0 330.5h0M203.6 347.4h0M213.5 320.1h0M222.8 384.3h0M208.6 320.1h0M224.2 388.6h0M197.5 372.3h0M203.7 340.1h0M248.3 355.9h0M160.6 338.6h0M164.8 312.5h0M152.0 347.2h0M215.0 319.7h0M188.1 340.4h0M187.2 394.0h0M157.8 373.8h0M148.4 353.1h0M198.1 334.4h0M229.6 338.0h0M196.0 314.9h0M154.5 368.0h0M158.9 332.9h0M241.2 342.1h0M215.5 326.0h0M169.0 330.0h0M190.1 339.3h0M195.3 336.0h0M152.8 324.3h0M215.1 353.5h0M210.6 327.6h0M153.6 331.5h0M164.1 347.6h0M210.4 387.3h0M160.0 348.4h0M234.4 315.7h0M157.2 323.3h0M160.2 324.3h0M187.9 317.5h0M232.3 391.1h0M197.2 330.8h0M164.4 334.3h0M176.0 358.1h0M151.8 323.1h0M198.1 328.1h0M213.0 369.6h0M170.4 335.3h0M154.8 333.2h0M177.3 383.8h0M181.0 344.3h0M210.1 314.8h0M164.0 334.2h0M205.2 378.8h0M164.3 331.6h0M241.6 342.6h0M208.0 334.4h0M154.4 377.4h0M154.6 340.9h0M177.1 341.2h0M173.1 350.4h0M214.5 331.4h0M152.4 322.8h0M199.8 333.8h0M150.1 362.3h0M197.7 351.1h0M203.8 329.8h0M149.2 345.2h0M170.0 333.0h0M222.7 353.5h0" fill="none" stroke="#94704a" stroke-width="1.45" stroke-linecap="round" opacity="0.78"/></g>
<g filter="url(#bl03)"><path d="M156.3 381.4l1.2 0.5M200.8 340.4l-1.4 0.8M262.2 335.1l-1.0 0.0M238.8 343.9l1.9 0.1M225.8 339.3l-0.4 1.0M206.0 321.9l0.7 0.3M210.0 311.5l-1.7 0.2M260.5 335.7l-1.5 1.1M245.1 394.6l1.8 0.3M241.1 377.0l1.3 0.3M152.0 313.2l1.0 0.5M252.6 356.3l0.4 0.7M222.9 357.5l-0.9 0.5M199.6 382.9l-0.5 0.1M218.0 361.3l1.6 0.9M224.4 346.0l0.5 0.9M216.3 327.2l-1.6 0.2M209.6 362.4l-1.4 0.0M215.1 373.3l-1.7 0.3M151.9 347.2l-0.4 0.9M171.6 351.1l1.6 0.4M199.0 317.9l-0.6 0.3M192.5 315.5l0.6 1.1M218.6 384.4l0.3 1.1M155.9 319.4l0.7 0.5M221.9 332.0l-0.1 0.6M218.7 324.0l-0.7 0.1M238.9 314.1l0.7 0.5M223.9 338.0l-0.7 1.2M152.5 358.5l0.7 1.0M247.4 334.2l0.8 0.9M233.2 396.6l0.7 1.0M161.7 362.2l-1.2 0.4M210.1 344.7l0.3 1.2M178.4 343.6l-1.3 0.6M223.5 387.3l1.5 0.3M240.0 396.0l0.8 0.5M174.0 311.3l-0.3 1.0M232.1 315.4l-0.2 0.8M149.8 312.2l0.9 1.6M148.6 343.5l0.9 1.2M211.1 375.4l1.7 0.9M152.0 325.0l0.6 0.3M256.5 387.9l1.1 1.6M213.5 351.7l0.5 0.2M201.1 386.9l0.6 0.0M257.2 340.7l0.3 1.4M235.1 335.4l0.4 0.5M221.1 396.3l1.0 1.2M166.5 349.5l-1.4 0.2M209.1 327.0l1.5 0.9M250.2 320.3l0.1 1.4M256.1 319.6l0.9 0.4M153.7 345.6l1.1 0.1M199.5 340.5l-0.7 0.3M197.5 343.1l-1.4 0.7M160.1 369.9l1.7 0.2M192.9 375.8l-0.9 1.4M202.5 311.1l-0.3 0.4M160.3 365.2l-0.4 0.6M256.6 328.2l1.4 0.6M243.5 394.2l1.5 0.8M192.9 336.4l0.7 0.9M196.1 320.1l1.5 1.2M249.5 334.2l-0.7 1.3M226.7 347.1l-0.4 0.7M236.5 380.1l-0.5 0.3M250.7 361.0l1.1 0.1M208.8 315.2l-0.5 0.6M247.1 366.0l1.7 0.4M201.5 377.2l0.7 0.2M245.0 395.9l1.7 0.5M219.1 350.9l-0.8 1.4M214.7 312.1l0.8 0.0M220.5 333.2l0.7 0.3M234.1 344.9l-0.9 1.5M161.7 363.8l1.4 0.4M217.6 330.2l0.2 1.7M262.7 311.0l1.6 0.3M260.7 364.6l0.2 0.5M245.9 331.1l0.5 1.2M223.6 379.1l-0.2 0.9M260.6 377.9l-1.1 0.0M206.7 378.3l1.0 0.0M175.6 347.5l0.5 0.4M164.6 339.4l-1.6 0.0M152.3 314.2l-0.5 0.4M200.4 347.0l1.7 0.1M255.4 339.4l0.3 0.6M223.0 374.2l0.5 0.5M253.9 349.1l1.0 1.6M214.1 333.6l-0.9 0.5M252.1 363.8l-1.1 0.8M229.4 348.2l-0.1 0.8M187.8 359.1l-0.5 0.2M262.5 349.3l0.8 0.3M196.5 368.3l-0.6 0.1M203.8 383.1l-0.8 1.2M251.1 316.6l0.9 0.0M222.4 310.5l1.2 1.1M232.7 382.0l-0.6 0.5M160.9 324.1l0.7 1.1M197.5 347.1l0.5 0.2M178.1 393.3l0.2 0.7M218.0 355.2l1.8 0.2M230.1 343.1l-1.3 0.1M216.9 396.4l1.0 1.2M260.2 385.3l1.2 0.0M247.5 331.7l-1.1 1.1M194.7 370.3l-0.6 0.5M216.0 350.1l1.0 1.2M259.5 362.6l-1.0 0.4M253.9 329.1l-0.6 0.9M158.1 332.5l1.5 1.3M168.5 375.1l-1.6 1.0M207.7 371.5l-1.1 0.6M257.5 354.1l-1.6 1.0M155.4 382.7l0.6 0.7M200.5 322.8l-0.3 0.5M246.3 333.3l-1.7 0.2M261.6 366.9l1.3 0.9M175.9 316.7l-0.4 0.3M188.3 366.6l-0.1 0.9M248.8 330.5l0.6 0.0M221.9 356.9l-1.4 0.1M258.1 371.4l-1.5 0.2M241.3 315.1l0.7 1.2M200.3 396.4l0.4 1.3M160.0 329.4l0.0 1.9M259.7 348.4l0.2 0.5M185.8 340.4l-0.3 0.9M174.5 395.1l-0.5 0.7M251.4 326.9l-0.8 1.2M202.8 377.9l-0.9 0.9M254.0 314.0l-0.5 0.4M158.5 364.0l1.7 0.4M159.4 378.2l0.2 0.8M250.1 313.1l-0.5 0.9M203.0 314.1l0.6 0.8M255.2 384.6l0.8 1.4M253.2 389.3l0.3 0.6M261.8 342.5l0.7 0.5M250.6 359.0l-0.5 1.8M259.0 366.8l1.5 0.4M193.3 383.2l-1.0 1.3M181.2 359.3l0.1 1.3M164.9 387.5l0.1 0.7M193.0 353.6l-1.1 1.3M163.2 348.8l0.3 1.4M184.7 368.3l-0.4 1.8M180.9 347.9l0.3 0.9M163.6 335.9l0.5 0.2M229.7 344.1l0.9 0.2M179.6 338.1l-1.1 0.1M190.0 379.4l-0.8 1.3M172.0 347.6l-1.2 0.2M233.0 326.3l0.7 0.5M215.3 323.2l-0.6 0.0M161.4 367.9l0.8 0.2M239.7 333.7l1.3 0.6M187.6 393.3l0.2 0.8M185.2 311.8l0.6 0.2M220.1 369.7l0.5 1.0M235.0 339.8l-0.0 1.3M173.4 335.9l-2.0 0.1M163.3 329.4l-0.3 0.8M162.3 312.0l-0.6 0.1M221.2 367.6l-1.0 1.2M227.2 349.3l-0.6 1.4M177.6 333.2l-1.1 0.6M260.0 383.1l0.7 1.7M170.0 337.5l1.2 0.7M171.2 330.6l0.8 1.5M197.7 347.7l-1.8 0.5M222.6 356.1l0.5 0.6M191.8 344.0l0.2 0.6M179.3 371.2l-1.8 0.9M168.9 346.1l0.1 1.6M189.9 332.2l0.7 0.0M214.7 377.5l0.5 1.6M219.7 352.8l-1.0 0.7M173.0 352.1l-0.8 0.7M218.7 364.6l-0.7 0.2M253.2 362.7l0.2 1.3M230.8 354.7l0.1 1.3M180.0 346.0l0.4 1.4M174.8 333.5l1.1 1.5M199.6 354.3l-0.5 0.6M187.7 369.4l0.7 1.1M179.8 344.5l1.6 0.2M158.5 367.1l-1.4 0.6M207.0 331.2l-1.4 0.5M235.8 376.8l1.2 1.1M209.4 391.6l0.8 0.8M169.0 350.1l0.8 0.5M203.0 319.9l-0.2 1.1M247.7 390.4l0.9 0.6M214.0 382.8l0.6 1.5M182.2 378.8l-0.8 0.2M250.1 321.4l0.0 0.8M199.7 376.4l1.5 1.3M176.2 371.5l1.2 0.5M159.7 346.8l-0.4 0.4M253.4 346.4l0.6 0.4M257.6 325.1l-0.8 1.3M249.4 390.8l-1.8 0.0M250.7 320.3l0.4 0.6M236.0 391.3l0.5 1.1M180.2 339.5l0.4 1.8M212.0 327.5l-0.5 0.3M216.5 320.5l0.3 1.1M261.9 323.2l1.1 0.9M184.2 343.6l-0.6 0.4M182.4 369.7l1.0 1.5M241.1 370.6l0.4 0.9M240.7 330.7l1.3 0.0M246.2 349.3l-0.4 0.8M225.1 370.8l0.3 1.9M150.9 342.9l-1.4 0.8M219.3 344.6l1.1 1.3M252.0 360.8l-0.6 0.4M208.6 381.5l-0.1 0.9M214.1 313.2l-1.2 0.3M259.6 376.3l-1.0 1.1M240.1 346.3l0.6 0.7M193.7 327.8l0.6 0.0M192.9 376.2l0.9 0.4M254.8 345.7l-0.8 0.8M155.9 384.2l0.3 1.1M188.1 313.0l1.1 0.3M224.6 381.3l1.0 0.1M210.3 397.6l0.2 1.1M239.7 385.8l-0.7 0.3M251.8 378.6l-1.1 1.4M167.0 372.4l0.7 1.2M152.9 370.1l-0.2 0.9M178.2 312.0l-0.2 0.5M250.7 340.4l-1.1 1.6M190.4 324.1l0.7 0.9M157.6 318.9l0.6 0.3M188.9 330.9l-1.3 0.3M209.2 329.5l-1.5 0.7M202.0 348.8l0.8 0.9M159.6 355.3l1.8 0.2M181.1 331.5l-0.7 0.1M151.7 349.5l1.7 0.3M172.0 322.8l0.8 0.9M192.6 325.9l0.3 1.5M190.9 362.4l0.7 1.3M150.8 323.1l1.7 1.0M155.7 384.3l0.2 0.5M204.6 350.0l-1.8 0.2M243.2 341.1l0.8 0.6M227.8 382.2l-0.5 0.2M179.8 314.3l-1.0 0.4M206.4 378.3l0.5 0.3M228.5 346.6l-0.9 1.0M179.3 326.2l-1.2 1.1M168.3 344.5l-0.7 1.9M235.5 343.0l1.5 0.1M156.5 340.8l-0.8 1.7M238.8 392.9l-1.1 0.4M236.2 334.0l-0.2 1.5M215.7 343.3l-0.3 1.5M195.7 318.4l-0.6 0.9M220.2 329.3l0.1 1.6M241.7 388.2l0.6 0.8M149.0 380.4l-0.5 1.0M225.3 372.1l-1.1 0.2M225.9 367.3l1.6 0.2M225.9 310.6l-1.3 1.0M168.1 320.8l0.6 1.3M215.8 354.0l0.5 1.9M157.5 317.6l0.8 0.5M196.9 380.4l0.2 0.8M232.8 352.1l0.8 1.8M153.9 329.6l-0.9 0.5M199.7 312.5l-1.1 1.5M237.4 322.7l1.0 0.3M249.7 324.5l-1.1 1.3M157.0 313.2l1.0 1.4M255.9 397.2l-0.8 1.3M189.5 362.0l0.6 0.7M228.8 311.3l1.1 0.5M213.6 320.3l-1.4 0.0M164.5 396.1l-1.2 0.7M162.6 370.4l-0.1 1.1M228.4 329.9l1.0 0.9M205.2 322.1l1.5 0.2M185.0 397.6l0.7 0.4M173.6 319.5l-0.6 0.0M182.7 343.8l0.4 0.4M231.9 378.1l-1.2 1.3M158.5 344.4l-1.4 1.3M185.2 343.1l0.7 0.2M248.5 333.3l0.8 0.1M228.7 318.9l0.5 0.2M263.0 375.2l-0.4 1.2M186.3 342.1l-0.7 0.3M185.6 376.6l-0.2 1.4M211.8 388.8l1.4 1.3M228.7 323.7l-0.6 0.0M148.9 396.3l0.2 0.5M159.4 336.1l-1.4 0.1M189.8 311.9l0.1 1.3M171.8 397.1l-0.6 0.2M186.2 336.6l0.4 0.5M191.8 347.4l0.4 0.4M201.7 368.3l-0.0 1.9M147.7 355.1l-1.5 0.3M260.9 336.8l0.8 1.6M231.9 362.8l0.1 1.4M217.3 312.3l-1.7 0.7M244.5 371.3l0.6 0.0M233.5 342.3l0.7 0.7M239.6 389.4l0.4 0.8M196.2 365.8l-0.9 0.4M176.6 395.2l0.9 1.3M213.9 330.5l1.0 1.1M150.2 397.6l-1.1 0.0M157.0 347.4l-0.9 0.9M204.5 374.9l-1.4 1.1M215.2 359.4l-0.8 0.9M155.0 390.9l-0.6 1.3M156.5 342.6l-0.2 0.6M210.0 375.9l0.0 1.2M225.4 338.1l-0.4 1.1M205.8 351.7l0.5 0.2M154.9 366.3l1.4 1.0M222.7 314.4l-1.9 0.3M220.1 343.8l-1.3 0.2M230.4 362.9l-0.4 0.9M187.4 320.6l-0.1 1.3M254.7 384.5l-0.2 0.6M192.4 340.2l-0.7 0.2M217.3 393.5l1.6 0.8M258.1 365.5l0.5 0.1M253.8 394.4l-1.2 0.3M205.1 395.9l0.9 1.1M170.3 343.6l-0.2 0.7M183.2 357.7l-1.0 1.4M242.5 389.6l0.7 0.0M149.7 334.2l0.9 1.0M147.4 362.5l1.2 1.5M250.4 363.3l1.7 0.3M196.7 392.7l-1.1 1.5M162.4 365.3l0.7 0.2M260.5 397.8l1.5 0.3M221.0 347.2l-0.3 1.6M157.1 391.3l1.2 0.3M164.2 320.2l0.2 0.9M259.5 396.4l-1.7 0.1M225.7 395.0l-0.7 0.6M233.4 391.1l0.8 0.8M246.2 313.4l1.3 1.2M226.8 395.8l0.5 0.1M183.8 382.7l0.0 1.0M191.1 315.2l0.5 0.3M190.7 342.1l-0.3 1.9M196.7 363.3l0.9 1.0M262.7 378.5l1.8 0.0M189.2 352.9l0.9 0.3M234.2 317.9l-0.7 0.1M237.1 387.7l-0.6 0.5M234.2 332.2l-0.2 1.1M223.8 375.2l-0.3 1.3M201.8 396.4l-0.5 1.5M212.3 379.8l0.3 1.4M189.0 370.6l-0.2 1.8M234.1 365.1l1.0 0.2M218.1 350.0l0.5 1.9M188.7 343.6l0.4 0.9M259.6 348.5l1.2 0.1M232.3 374.0l-0.8 0.3M215.6 331.8l0.8 0.3M210.2 342.2l-1.3 0.6M243.2 379.0l-1.7 0.3M233.8 344.2l0.5 1.1M203.5 352.7l0.5 0.8M234.3 383.0l1.9 0.3M212.2 371.0l-0.2 1.0M168.8 312.0l0.9 0.6M189.4 351.1l-1.5 0.1M187.9 313.0l0.1 1.5M173.7 340.9l-0.1 1.1M168.5 379.8l0.9 1.2M223.4 323.9l-0.5 1.1M230.3 329.6l-1.3 0.0M157.0 363.9l1.3 1.2M208.6 351.7l0.7 0.6M237.4 340.1l0.7 1.3M170.0 327.5l-1.7 0.7M164.9 337.5l-0.3 1.6M218.7 375.2l-1.4 1.3M247.0 394.9l0.2 0.5M203.1 385.9l-1.9 0.6M207.5 336.6l-1.0 0.8M157.1 387.5l1.5 0.2M183.6 361.3l-1.2 0.4M183.3 371.4l0.8 0.5M241.7 379.3l-1.0 0.6M209.8 397.0l-0.6 0.6M244.1 361.7l1.2 0.5M209.0 322.6l-0.7 1.7M241.6 316.2l0.9 1.4M257.2 321.8l-1.0 0.6M214.4 329.6l1.3 0.2M217.0 356.8l-1.5 0.2M211.6 332.6l-1.2 1.2M219.7 372.7l-1.1 0.6M160.9 390.5l0.8 0.3M257.6 331.7l-0.5 0.3M185.0 328.8l0.1 1.0M238.7 338.1l0.6 1.7M228.4 359.9l1.5 0.7M153.9 383.4l1.3 1.4M157.8 332.0l1.0 0.8M183.1 322.4l-1.3 0.2M189.6 390.5l-0.4 0.8M244.9 366.0l-0.7 0.9M203.4 342.7l0.4 0.4M193.8 383.9l-0.6 0.7M253.6 382.9l-0.4 0.7M259.5 346.2l0.6 0.6M217.5 327.3l-0.4 1.3M195.6 360.6l0.2 0.6M194.5 351.0l1.8 0.7M251.5 385.5l-0.6 1.2M215.9 392.5l1.1 0.4M228.0 361.8l0.0 1.5M237.5 310.8l0.8 1.6M252.2 363.5l-0.4 1.0M207.5 375.2l1.0 0.9M218.8 326.8l0.3 1.8M193.2 395.9l0.1 0.6M189.0 357.6l0.8 1.8M241.9 352.3l0.7 0.8M234.1 336.5l-0.7 0.4M174.6 358.7l0.5 0.7M248.9 392.9l-0.3 0.8M154.1 325.4l0.1 0.7M202.4 328.8l1.4 0.3M227.2 331.5l-0.7 0.4M222.4 391.9l0.6 0.2M261.1 381.2l-0.2 1.3M245.4 314.5l0.9 1.3M181.3 396.3l0.1 1.8M153.4 389.9l-0.5 1.1M220.7 318.7l0.8 0.2M160.3 350.3l0.6 1.4M234.3 374.5l-1.7 0.2M188.4 397.1l-1.3 0.1M174.0 385.5l0.1 0.6M212.2 335.2l-0.0 1.4M193.7 361.9l-0.5 0.4M207.0 319.4l0.3 0.5M191.3 397.0l-0.0 0.6M217.9 317.9l-1.1 1.1M231.3 324.7l-0.8 0.6M246.7 323.1l-1.2 0.6M208.6 378.7l0.9 1.0M189.8 313.8l-0.0 0.8M237.2 346.7l1.8 0.3M188.0 357.9l0.3 1.9M239.9 396.7l0.7 0.7M156.3 370.6l1.0 1.4M167.2 321.4l0.6 1.0M212.8 318.9l-1.2 1.3M236.5 396.1l1.1 1.3M190.3 312.7l-1.5 0.3M155.0 310.7l0.1 0.5M240.6 314.3l-1.0 0.7M226.9 360.9l-1.1 0.1M262.7 379.8l0.8 0.2M201.8 389.5l-1.8 0.8M203.8 374.4l0.1 0.6M190.6 387.4l-0.1 1.7M244.1 345.3l0.5 0.1M257.6 359.6l-0.6 1.2M230.0 340.0l-1.8 0.2M201.0 334.5l1.2 1.0M225.2 311.1l1.3 1.0M246.8 363.1l0.4 1.0M221.3 367.3l0.1 1.4M256.2 367.8l0.6 1.2M199.3 395.7l-0.5 1.0M181.5 350.3l-0.7 1.6M156.8 310.6l1.3 0.4M217.5 324.4l1.1 0.0M189.2 353.9l1.2 0.4M172.5 356.4l1.7 0.6M227.5 377.6l-0.7 1.6M156.9 344.9l0.1 0.5M242.1 349.3l0.6 0.6M168.9 354.6l-0.3 0.9M215.5 360.4l-0.6 0.1M195.6 311.8l-0.5 0.9M183.9 320.1l1.1 0.8M225.0 370.1l1.3 0.1M256.5 391.9l-0.9 0.2M261.8 318.7l0.3 0.7M172.6 320.3l0.6 0.6M170.3 383.7l-1.8 0.6M187.8 344.4l0.3 1.8M231.6 381.0l1.0 0.3M163.3 365.3l1.3 1.1M234.5 365.4l-1.2 0.9M198.1 395.0l0.2 1.3M219.8 333.8l-1.3 0.4M225.3 349.6l1.2 1.3M182.2 340.9l-0.4 1.2M198.9 358.5l0.8 0.5M251.0 336.7l-0.8 1.1M217.5 348.8l-1.1 1.4M192.6 388.4l-1.3 0.2M249.8 360.2l1.0 1.5M184.9 380.3l-1.3 1.4M152.8 331.2l-0.5 0.4M243.9 316.3l1.7 0.3M205.3 336.5l-1.5 0.8M167.4 366.6l1.0 0.1M219.8 370.2l0.3 0.6M160.3 340.7l0.4 1.2M189.6 377.9l-0.1 1.3M178.5 330.7l-1.1 0.3M156.6 354.9l-0.7 0.1M227.6 389.0l-0.7 0.7M185.6 354.0l0.4 1.7M164.9 313.5l1.0 1.5M243.7 362.2l1.1 1.2M149.2 351.2l-0.4 0.8M150.1 368.0l-0.4 1.2M207.7 324.9l-1.3 0.2M252.6 313.7l0.5 0.8M186.5 353.8l-0.6 0.0M204.6 396.7l1.5 0.6M149.6 329.3l-0.1 1.8M223.7 324.7l0.7 1.5M148.0 370.7l-1.1 0.2M242.6 321.3l1.1 0.6M208.3 381.0l-0.4 1.5M195.7 334.6l-1.4 0.4M231.2 353.6l-0.5 0.1M190.0 321.6l0.2 0.8M169.9 323.2l-0.5 0.9M153.2 315.5l0.1 0.7M209.6 369.7l0.6 1.0M229.3 372.4l1.2 1.3M236.5 392.4l0.1 1.0M189.8 393.6l0.7 0.2M230.7 339.1l-0.6 1.6M218.7 317.8l-1.9 0.5M231.1 372.7l0.9 0.9M177.8 318.2l0.8 0.5M201.8 310.9l0.5 0.9M253.0 323.1l0.2 1.7M246.1 320.4l0.3 1.2M205.4 382.1l0.4 0.4M202.2 395.3l0.7 0.4M186.5 338.4l-1.7 0.8M199.3 348.0l0.5 1.3M202.8 396.6l-0.3 1.6M212.2 380.8l0.3 1.8M161.7 379.6l-0.3 0.8M200.7 367.9l-0.1 0.7M190.7 357.2l-0.8 0.2M148.6 325.1l1.6 1.1M203.5 322.3l-1.9 0.4M235.0 362.9l0.2 1.0M240.7 363.2l1.9 0.3M202.1 357.4l-0.3 1.3M175.7 395.6l-2.0 0.0M196.1 359.2l-0.8 1.0M190.5 388.3l-0.1 0.8M211.4 340.6l0.5 1.5M150.5 316.6l-0.4 1.7M204.3 343.0l1.4 0.8M173.4 314.3l-1.0 0.0M221.3 384.2l-1.4 0.3M204.1 339.9l1.8 0.1M208.8 391.7l1.1 0.4M236.5 371.6l0.9 1.7M261.4 356.1l1.3 1.0M167.5 359.8l-1.1 1.3M169.9 351.1l0.1 1.6M155.0 328.3l-1.0 0.9M230.9 380.0l0.3 0.5M235.2 357.1l0.2 0.5M236.4 369.3l0.4 0.5M203.6 352.1l-1.5 1.3M231.4 343.6l-0.4 0.7M160.6 352.6l0.1 1.6M255.4 322.9l-1.1 1.0M197.9 315.2l0.8 1.4M233.5 349.7l0.3 1.0M236.8 378.1l-0.7 1.2M261.0 344.9l0.2 1.1M168.4 322.8l0.2 2.0M210.3 339.3l-0.3 0.6M180.3 310.6l-1.2 1.1M223.5 329.8l0.4 0.5M182.2 328.7l-0.7 0.8M159.4 343.6l0.4 0.4M224.1 313.0l1.1 1.7M235.7 329.4l1.8 0.8M207.1 314.9l-0.5 1.0M191.1 339.4l-0.2 1.5M153.4 354.2l-0.4 1.2M221.8 354.5l0.3 1.6M165.5 319.3l0.7 0.2M193.4 387.5l-0.3 0.9M251.2 388.8l0.7 0.8M251.2 315.0l0.8 0.3M211.5 342.0l-0.9 1.7M249.7 385.7l0.4 0.6M174.4 354.2l-1.0 0.2M188.6 340.7l1.2 0.8M167.6 341.5l-0.6 0.9M170.1 330.9l-1.3 0.1M255.6 335.8l0.9 0.3M197.9 376.6l1.1 0.1M254.8 320.1l0.7 1.0M249.9 336.4l0.3 0.5M186.1 367.3l-1.4 1.1M162.1 378.9l0.7 0.1M230.4 340.2l0.6 0.6M199.4 372.8l0.0 0.5M224.6 358.2l1.4 0.9M215.3 370.0l1.2 0.9M188.8 353.8l-0.8 0.1M231.7 375.3l-0.0 1.6M213.9 357.5l1.1 1.5M186.3 343.2l1.2 0.4M187.9 314.6l-0.4 1.6M260.8 314.2l-0.5 1.5M247.5 394.5l0.5 0.9M214.0 315.4l0.8 1.1M241.4 349.0l0.2 2.0M245.3 379.6l-1.0 0.3M191.4 387.2l-1.3 1.3M212.1 395.1l1.1 1.5M212.6 369.3l-0.7 0.8M256.4 367.6l1.1 0.8M186.7 352.3l0.5 0.4M196.6 341.1l-0.9 1.2M250.9 340.5l-0.8 0.1M169.7 326.8l0.3 0.7M168.7 347.5l-0.5 0.4M198.2 322.3l-0.5 0.6M155.9 311.0l1.4 0.2M212.7 373.8l-0.6 0.2M184.1 360.2l-1.3 1.4M251.0 310.7l-1.3 1.2M242.0 339.9l0.6 1.0M253.5 314.5l1.0 0.3M241.0 319.6l-1.4 1.2M236.2 365.9l-0.5 1.3M216.9 353.3l-0.3 0.7M242.5 354.5l1.0 1.6M166.7 350.1l0.8 0.2M171.1 345.9l1.3 0.4M207.1 367.5l1.0 0.3M215.9 372.3l1.4 1.0M152.1 364.2l1.3 0.0M200.2 311.9l-0.0 1.1M165.5 330.7l0.2 0.6M171.4 321.3l0.5 1.6M152.3 356.1l-0.8 1.6" fill="none" stroke="#8c7864" stroke-width="1.3" stroke-linecap="round" opacity="0.6"/></g>
<g filter="url(#bl5)" fill="#e6e7ec" opacity="0.5"><ellipse cx="180" cy="371" rx="11" ry="13"/></g>
</g>
<g clip-path="url(#c5)">
<rect x="264.5" y="310.5" width="116.0" height="87.5" fill="#e2e2e3" />
<g filter="url(#bl3)" fill="#c8aa80" opacity="0.4"><ellipse cx="285" cy="343" rx="5" ry="6"/><ellipse cx="271" cy="362" rx="5" ry="6"/><ellipse cx="338" cy="380" rx="8" ry="10"/><ellipse cx="340" cy="345" rx="6" ry="5"/><ellipse cx="370" cy="330" rx="6" ry="8"/></g>
<g filter="url(#gl)" opacity="0.3"><rect x="264.5" y="310.5" width="116.0" height="87.5" fill="#000" /></g>
<g filter="url(#gd)" opacity="0.15"><rect x="264.5" y="310.5" width="116.0" height="87.5" fill="#000" /></g>
<g filter="url(#bl03)"><path d="M368.1 352.4l-1.4 1.1M268.3 370.6l1.5 0.0M279.8 328.4l-0.9 1.1M369.4 391.8l-0.4 2.6M322.1 312.6l0.8 0.5M372.8 388.0l2.1 0.9M355.1 311.4l-0.6 1.3M271.2 374.0l0.8 1.3M359.2 395.3l1.9 0.7M347.9 382.2l1.2 0.3M329.9 325.4l-0.1 0.6M265.0 392.5l0.2 2.1M369.4 365.9l-2.3 0.3M376.7 339.9l1.8 0.7M329.7 357.5l2.0 1.2M297.1 377.6l-1.9 0.4M315.0 392.2l-0.8 0.0M338.1 370.1l-1.8 0.2M294.4 362.4l-1.4 1.7M369.3 352.5l1.6 0.8M323.0 322.7l1.1 0.9M367.3 363.8l-0.4 0.8M372.1 314.4l2.1 1.2M371.9 311.9l-0.9 1.5M312.9 332.2l0.7 0.7M289.4 354.6l0.8 0.5M304.9 346.6l-2.6 0.5M363.6 319.2l0.9 0.1M317.0 326.3l-0.5 0.5M365.5 314.9l-0.5 2.3M299.0 317.8l-1.1 0.5M368.7 315.0l0.4 0.9M374.8 351.0l1.7 0.7M276.5 382.6l-2.3 0.3M337.0 328.4l-0.2 1.8M324.8 395.9l-0.6 0.6M280.7 367.2l-0.7 1.3M337.1 331.4l0.8 2.5M332.3 332.5l-1.8 1.3M362.1 357.8l-1.9 0.2M333.0 313.3l1.2 1.2M347.5 388.9l-0.4 1.6M310.2 346.6l1.0 1.6M321.1 375.6l2.0 0.4M334.2 314.0l1.1 1.4M367.3 391.3l-0.5 0.5M265.6 364.1l1.8 0.6M284.1 356.6l0.3 1.9M360.3 343.9l-0.6 1.7M325.1 338.4l0.9 0.4M304.3 340.4l-0.4 2.4M376.4 322.4l-1.2 2.5M378.1 382.5l0.1 2.1M305.4 339.4l-0.2 1.4M298.4 331.5l0.6 0.4M327.0 345.2l-1.3 1.4M345.6 372.4l0.8 0.1M316.4 366.9l1.7 1.8M358.2 356.6l-0.6 0.5M266.5 339.9l-0.7 0.6M273.2 346.4l0.2 0.8M316.0 355.8l2.5 0.0M302.8 374.4l1.0 0.6M340.4 371.3l0.7 2.1M328.5 357.7l0.8 0.4M327.7 340.7l1.8 2.0M311.6 344.2l-2.2 0.0M352.6 314.9l-0.0 0.7M313.2 321.1l2.1 0.3M320.4 344.2l-2.4 0.1M277.8 367.4l-0.9 0.3M332.5 370.8l0.4 0.7M343.2 338.3l2.3 1.5M360.9 370.8l-1.3 0.0M290.1 374.8l-2.1 0.6M360.6 372.9l-1.4 1.2M314.7 383.9l0.4 0.3M366.3 338.3l1.5 1.4M326.7 373.5l-2.2 1.4M279.2 369.6l0.1 0.8M357.4 392.1l-0.5 1.8M370.9 347.1l-0.5 0.8M343.6 337.8l-1.1 1.4M379.7 395.8l0.0 0.6M311.4 361.1l0.1 0.7M344.9 354.7l1.2 0.4M269.4 345.8l0.1 2.6M356.1 370.6l0.6 2.6M264.5 354.6l-0.5 1.9M316.6 326.6l-0.7 1.2M361.7 318.7l-0.7 1.7M275.7 313.4l-0.1 0.7M271.8 315.7l-0.4 2.6M357.5 385.7l-1.3 2.3M297.3 349.5l0.9 0.6M380.3 339.1l-0.2 0.5M265.6 377.5l1.1 1.6M352.7 387.7l0.4 0.8M276.8 377.0l1.7 1.3M355.7 330.2l1.3 0.5M367.2 367.5l-0.8 2.4M329.6 388.8l-0.1 2.2M318.4 327.4l0.8 1.6M287.8 369.8l-1.2 1.4M338.5 339.8l-0.3 0.4M359.3 356.4l1.8 2.0M369.6 330.3l-2.1 1.4M319.2 342.8l0.5 1.2M296.0 391.4l-0.0 0.6M269.5 335.4l-0.1 1.2M374.4 337.0l1.4 0.4M289.7 325.4l-1.3 0.8M271.7 334.2l-1.2 1.8M273.7 393.1l2.2 0.3M360.8 396.5l1.8 0.4M315.3 320.8l-0.1 1.4M312.8 311.2l1.3 2.4M283.3 356.8l0.8 2.5M272.7 382.3l1.3 2.0M344.1 390.4l-1.9 0.7M277.9 355.6l-1.9 1.0M320.9 345.9l-0.4 0.3M364.5 310.8l-0.6 1.0M355.6 324.9l-1.3 0.3M281.8 351.2l-0.4 1.1M302.2 310.6l0.4 1.5M304.9 325.6l0.9 1.3M325.4 354.2l-1.2 1.8M271.7 331.2l-1.4 1.9M350.4 359.7l-0.0 2.1M360.5 336.4l-0.1 0.5M363.9 374.8l-1.4 2.2M301.4 382.0l-1.1 0.7M329.7 321.8l-1.0 1.0M370.7 365.5l-1.8 1.5M326.6 381.3l0.1 1.6M373.5 322.5l0.5 0.7M293.2 345.5l-1.9 2.0M339.9 349.4l-2.0 1.1M352.9 347.9l-1.2 1.0M355.9 396.2l1.2 2.0M318.5 382.3l-0.4 1.4M379.0 314.4l-1.4 2.2M288.8 317.2l2.7 0.7M321.5 388.4l2.7 0.7M344.9 349.5l-2.2 1.5M268.9 351.2l-0.0 1.2M320.1 319.3l-0.6 0.6M282.6 381.9l-0.6 0.1M287.5 335.7l-1.6 0.3M326.5 315.6l0.8 1.4M303.8 321.9l-1.1 0.3M347.1 331.3l-0.5 0.2M347.5 387.8l-0.7 2.0M308.9 358.6l-0.9 0.3M361.0 329.9l-2.7 0.3M349.3 394.2l0.3 0.4M308.5 364.9l0.2 1.1M376.9 348.9l0.7 0.9M352.7 379.6l0.0 2.7M371.9 396.0l-0.9 0.1M275.1 345.5l-0.2 0.6M281.8 353.7l-0.2 2.8M345.9 389.1l-1.7 1.0M330.4 345.0l-2.0 0.2M335.7 349.4l1.0 1.8M326.1 381.7l2.3 0.4M348.2 319.6l-0.0 1.9M320.2 330.5l0.9 1.6M325.5 364.7l-1.6 0.7M271.3 330.5l-0.9 1.9M310.9 361.6l-0.2 2.8M347.2 372.1l0.9 0.6M338.9 377.6l-1.8 1.0M316.3 324.8l-2.3 1.3M306.2 317.7l-0.7 0.5M315.9 339.8l0.6 0.6M301.1 395.2l-0.2 0.6M269.6 314.0l-1.7 1.9M319.5 331.5l-0.3 1.2M318.8 354.6l-1.6 1.4M378.7 374.3l-0.0 0.7M352.8 324.3l0.1 1.9M286.2 385.8l0.0 1.5M351.6 355.6l-1.0 1.6M347.6 325.7l0.4 0.7M372.5 378.3l-0.5 1.0M311.6 344.2l1.6 0.9M273.0 383.2l-0.4 1.8M320.6 322.7l-0.4 2.7M343.4 344.7l-1.0 0.4M351.9 373.3l0.3 1.3M302.9 340.1l0.5 1.8M284.2 390.1l0.1 0.5M276.5 360.8l1.4 1.1M269.1 332.3l-0.7 0.4M272.2 357.3l0.0 2.5M265.4 355.5l-0.2 1.3M341.0 314.1l0.3 0.4M344.6 321.3l1.1 0.6M277.2 389.5l-1.4 0.0M377.5 375.9l1.9 0.3M346.4 368.8l0.7 2.6M279.4 333.6l0.2 0.9M314.6 374.0l0.6 0.9M361.1 395.6l2.4 0.8M345.3 376.7l-2.0 0.4M367.3 385.0l-0.3 0.6M273.0 397.0l0.1 1.9M338.3 396.9l-0.7 0.1M379.2 311.4l-1.5 0.2M300.6 390.5l-1.5 1.0M375.8 362.0l0.8 0.5M375.4 354.8l0.4 1.0M306.9 354.4l-0.1 1.1M291.2 367.0l-1.5 2.2M348.4 371.7l1.6 1.8M281.3 367.2l-0.9 2.1M332.5 391.1l0.7 0.6M315.2 373.0l1.9 1.0M269.5 371.3l2.5 0.7M311.2 325.9l2.2 1.3M312.3 338.4l-0.2 0.6M266.4 366.0l0.6 1.9M344.9 340.5l-1.8 0.1M356.0 361.1l0.2 1.0M339.2 382.4l-0.2 2.7M319.4 373.3l-1.1 1.2M342.4 384.5l0.6 2.4M321.8 378.0l-0.6 0.1M366.1 325.5l1.1 2.2M368.2 345.8l-0.3 0.5M347.1 345.2l-0.1 1.1M352.3 344.8l-0.2 2.4M334.5 393.5l-0.4 1.3M304.0 336.3l2.4 1.3M369.2 333.4l-0.2 1.4M354.3 383.3l0.2 2.1M283.6 323.3l-0.7 0.1M280.7 326.3l1.9 0.9M305.5 387.8l-2.1 1.3M268.0 342.7l-0.3 0.9M376.4 357.5l-1.1 1.4M327.3 342.1l-0.3 1.4M303.3 327.5l0.0 0.5M340.6 371.1l0.2 0.6M329.5 369.3l0.9 0.9M341.3 317.4l2.7 0.3M320.1 333.5l2.2 0.1M329.5 344.0l-0.4 0.8M333.5 348.1l1.4 1.7M305.2 388.0l1.3 1.2M272.2 387.3l-0.4 1.3M290.0 388.2l1.0 0.3M349.9 324.6l-0.1 0.6M336.9 364.4l0.2 0.8M311.3 321.4l-1.7 0.7M362.4 345.4l2.1 0.4M347.0 316.6l-0.5 0.5M307.7 346.0l-0.1 1.1M284.2 392.1l-0.9 0.5M266.7 376.8l2.3 0.7M289.0 325.6l-0.8 1.1M301.4 338.1l-1.0 1.7M315.9 389.3l-1.7 0.6M306.2 359.4l1.7 0.4M315.3 326.2l-0.1 0.6M319.0 314.1l-0.7 0.7M344.4 377.9l-0.1 0.8M340.4 331.2l0.2 0.5M296.9 350.0l0.1 0.7M344.9 354.5l-1.4 1.8M269.7 383.5l-1.5 1.3M347.8 315.2l-0.1 2.1M281.9 331.5l0.7 0.7M368.4 357.6l0.2 1.8M291.3 374.7l1.6 0.2M343.5 311.9l0.8 0.4M326.2 348.7l-0.7 1.2M326.7 340.8l-0.5 0.5M270.3 352.1l-0.1 0.6M320.7 322.2l-1.1 1.5M301.1 387.8l-0.1 2.7M350.1 358.3l1.5 1.0M339.0 326.1l0.6 1.6M328.5 363.6l-2.0 1.1M355.0 380.2l0.0 0.6M372.8 344.0l1.2 2.4M356.4 380.1l-0.6 1.6M300.1 376.3l-1.8 1.1M283.0 372.7l1.0 1.7M314.8 388.3l0.0 2.6M341.8 361.0l1.2 1.8M376.9 367.1l-0.9 0.6M373.7 359.2l-0.2 0.5M272.9 348.4l-1.7 0.2M283.7 375.7l-0.8 1.5M303.3 382.3l0.2 2.1M333.1 391.3l0.6 0.5M313.4 357.2l1.9 0.4M356.2 382.9l0.1 2.6M323.5 366.4l-1.5 0.6M281.3 346.6l-1.0 0.6M293.1 382.4l0.5 1.7M353.7 360.9l-0.6 0.1M353.0 342.4l0.2 0.6M347.2 392.4l-0.4 2.6M309.2 317.5l0.5 1.4M277.0 335.1l0.3 1.9M348.1 366.0l-0.2 1.2M340.4 385.7l0.7 1.6M337.5 382.6l-2.4 1.0M328.7 394.7l-1.0 0.4M297.7 337.4l2.0 0.4M275.9 324.3l1.7 1.3M286.7 316.8l-0.7 1.3M293.1 386.8l-1.8 1.6M305.1 382.9l0.5 0.1M340.3 322.9l0.1 1.9M301.7 342.1l0.5 1.9M366.6 386.7l-1.3 0.8M298.4 368.8l1.8 1.3M340.0 370.7l2.0 0.8M348.8 319.3l2.5 0.2M360.3 348.4l-0.3 2.3M317.4 317.0l-0.2 0.9M296.2 391.5l0.1 2.4M322.9 368.7l-2.4 1.3M340.4 374.0l-1.2 1.8M331.7 361.0l-0.6 0.1M314.0 353.0l0.7 0.6M303.2 380.2l2.2 0.0M368.1 334.5l-1.2 0.9M368.5 396.2l-1.2 2.4M371.5 345.6l0.5 1.8M365.8 343.3l-0.6 0.9M286.5 352.3l-0.4 0.3M282.1 322.9l-1.0 2.4M289.4 367.2l0.6 0.6M331.2 323.0l-1.5 0.6M319.0 312.9l-0.5 0.3M373.6 381.9l1.3 0.0M326.5 379.4l-1.2 0.1M377.8 339.7l1.2 2.3M269.5 335.1l1.2 1.9M376.7 340.3l2.0 1.1M318.5 357.9l2.3 0.3M281.6 342.4l0.8 1.0M331.0 339.1l0.9 1.3M319.0 363.1l0.9 0.9M303.5 377.6l-0.2 1.9M361.4 374.5l1.5 2.4M367.2 388.2l0.9 1.2M375.3 333.8l-0.6 0.9M305.7 335.0l-1.9 0.9M349.8 372.5l0.9 0.1M299.7 312.6l0.5 0.8M281.9 352.5l-0.3 1.7M273.1 360.1l0.6 0.6M353.6 370.8l-1.3 0.7M361.2 360.1l-0.5 1.5M288.4 377.6l-1.7 1.3M269.6 382.9l-1.7 0.7M377.5 336.1l-1.5 1.5M302.6 392.7l2.5 0.9M352.6 375.0l1.6 2.1M317.1 370.0l2.4 1.2M299.0 334.3l-0.9 0.9M358.1 344.4l0.5 1.8M378.2 389.1l-1.1 0.3M301.0 372.3l-2.5 0.6M371.6 373.4l-0.5 0.0M289.8 359.0l1.2 1.5M363.5 361.3l1.1 1.0M295.8 334.8l1.8 0.4M363.5 360.9l0.8 0.9M333.2 372.5l-1.3 0.6M296.6 329.4l0.4 0.7M377.5 316.3l0.6 1.6M308.1 323.2l0.6 1.3M366.9 377.2l0.5 0.3M299.9 339.7l-0.9 0.6M364.5 389.0l0.9 0.6M322.9 363.5l-1.2 0.2M278.9 312.6l-0.7 0.2M334.3 374.7l2.2 0.1M286.3 311.2l1.5 0.6M325.0 362.9l-2.3 1.5M308.9 311.5l-0.7 2.0M370.3 396.8l-0.0 1.2M293.1 346.1l0.0 2.1M339.5 325.8l-0.8 2.0M281.0 319.1l1.2 0.1M301.5 367.8l2.2 0.7M377.7 367.0l-1.9 0.5M369.7 312.5l1.8 0.7M379.9 337.0l-0.3 1.0M354.0 388.1l2.2 0.1M315.9 325.2l0.1 2.1M354.3 346.5l-1.1 0.2M367.6 392.3l-0.0 1.0M357.7 387.3l1.2 0.7M269.3 357.5l-0.6 0.4M343.9 351.8l0.9 0.4M294.5 320.5l1.0 1.1M279.5 365.4l-1.1 2.0M281.2 358.7l1.9 1.6M269.4 340.9l1.5 2.0M347.6 344.6l0.2 1.9M292.7 393.3l-0.5 2.5M283.0 311.8l0.6 1.7M285.9 337.7l0.4 0.3M282.5 384.3l1.8 0.8M345.6 331.5l-2.0 1.0M342.9 353.7l-1.9 0.1M328.0 345.9l-0.9 0.2M323.8 347.8l-0.3 1.1M343.5 355.1l-0.6 0.7M311.7 371.3l1.0 0.7M284.0 353.6l0.5 1.3M274.3 353.9l-0.7 0.3M331.7 363.6l1.2 0.1M358.3 311.2l1.1 0.5M379.5 355.3l-0.8 0.3M267.2 336.2l-0.2 0.5M359.0 363.8l1.4 0.9M295.6 390.4l-1.4 2.4M296.2 349.1l-1.1 0.8M271.6 370.6l-1.2 0.9M287.7 368.7l-0.4 0.3M300.2 312.8l-1.1 2.2M265.0 378.7l1.2 0.4M301.3 330.5l0.6 1.8M267.3 330.9l-2.2 1.1M362.5 378.8l-1.0 2.5M272.1 392.4l-2.1 1.8M267.6 397.4l-0.7 0.3M325.8 326.5l-0.7 0.4M333.3 335.7l0.8 2.3M358.9 381.7l-0.3 1.5M311.3 384.1l-0.1 1.4M279.0 346.7l1.1 1.3M321.2 340.5l-1.2 2.1M282.4 328.6l-1.9 0.6M354.9 310.9l-0.2 0.5M352.5 360.2l0.4 0.2M332.6 340.9l-1.0 2.4M281.6 379.4l2.3 1.3M281.5 377.8l0.6 1.7M346.0 347.9l-2.8 0.1M301.9 354.5l0.3 1.8M376.8 371.2l-1.6 1.5M354.7 312.8l-1.6 1.2M314.1 360.0l0.8 0.8M265.1 392.9l-1.3 0.4M316.5 335.8l1.6 0.5M326.1 364.1l-0.4 0.3M278.0 376.8l1.0 0.4M266.5 380.7l-0.8 0.0M334.0 331.9l-0.8 2.3M321.2 351.8l0.7 1.9M267.7 343.5l1.6 0.2M313.7 388.3l-0.1 0.8M349.8 389.5l1.6 1.8M375.9 321.4l-1.1 0.7M290.7 390.4l1.5 0.2M294.2 311.3l0.1 1.8M336.7 321.2l0.7 0.7M296.9 333.9l2.2 1.0M303.7 388.1l-1.2 0.5M279.2 385.5l-1.7 0.8M273.0 375.3l1.8 1.0M347.2 344.0l0.6 1.5M265.2 353.8l-0.3 2.0M349.9 358.3l-1.8 0.5M320.7 390.8l0.0 0.5M278.4 316.6l-0.7 1.3M292.4 337.8l1.1 1.1M369.6 351.1l-1.8 1.1M363.8 394.5l1.8 0.7M305.3 369.7l-1.0 0.7M288.0 342.5l-0.9 1.6M343.9 360.1l0.7 1.9M283.3 335.1l0.8 1.2M292.8 322.6l-0.9 0.4M281.7 317.9l-0.4 0.4M293.8 316.6l-1.8 0.4M315.4 332.6l-0.7 1.3M356.3 385.9l0.1 1.0M307.8 336.2l-2.2 1.4M306.1 318.2l-0.6 0.4M267.9 322.8l-0.3 0.5M280.2 392.8l1.9 0.1M349.3 322.4l-0.5 0.5M338.7 322.7l0.8 1.7M364.1 396.3l-0.4 0.9M290.2 321.4l-0.7 0.8M343.4 345.2l1.2 1.0M278.6 347.9l-1.2 1.5M298.6 395.6l-1.0 0.3M324.8 388.7l-0.9 1.1M330.2 326.5l-2.0 0.1M371.0 366.0l-0.8 0.4M339.9 373.5l-0.2 2.3M274.5 351.3l0.7 0.1M365.4 356.5l-2.1 0.8M350.7 321.3l0.4 1.0M347.0 386.8l0.1 2.3M328.5 315.2l-0.8 0.1M330.2 368.1l-0.5 2.3M275.3 379.2l-1.1 1.1M270.3 334.5l-0.9 2.2M374.6 349.8l2.6 0.0M271.1 313.0l-1.3 0.3M329.7 391.7l-0.5 0.7M276.2 336.6l0.0 0.7M326.7 381.9l-2.4 1.0M279.3 367.9l-0.6 0.7M307.9 339.8l-0.2 2.4M291.8 330.2l-0.1 1.3M373.3 364.3l1.2 0.3M371.7 367.1l-1.6 0.8M279.4 365.6l-0.8 0.5M266.9 397.1l-0.5 1.6M303.9 329.8l2.0 1.9M354.2 358.8l0.3 1.7M292.0 380.1l2.4 0.9M313.0 387.4l-0.5 0.6M308.3 325.0l-0.7 1.7M298.0 317.1l0.5 0.2M358.0 363.6l2.7 0.2M307.6 371.4l0.5 0.9M344.3 345.7l2.3 1.0M363.5 360.2l-1.9 0.6M287.5 377.3l-0.2 1.2M361.2 371.0l-0.8 2.1M296.3 334.1l-0.1 2.6M378.3 395.9l-0.2 2.1M275.6 369.9l-0.0 2.5M357.4 316.1l-0.1 0.9M376.0 379.0l2.6 0.6M359.4 325.0l-0.7 0.6M330.7 346.7l0.8 0.1M300.7 317.5l2.5 1.0M307.9 373.0l0.9 0.6M265.4 383.0l-2.1 1.6M367.1 373.3l1.4 0.2M311.0 366.7l-0.8 1.3M301.2 390.7l2.1 0.3M339.8 352.8l-1.4 2.0M353.5 361.4l1.1 0.9M358.6 390.1l-0.8 1.6M351.4 393.0l-0.6 1.3M375.7 360.6l1.0 1.6M287.8 326.0l-0.9 0.9M274.9 356.4l-0.7 1.7M370.5 370.8l-1.4 0.4M344.1 332.1l0.1 1.0M287.6 328.0l0.3 0.8M289.8 369.2l1.9 1.9M317.3 373.8l1.8 0.0M275.2 316.3l-1.1 0.3M375.1 370.5l-1.2 0.4M334.7 386.0l1.5 1.0M319.4 381.5l-0.2 0.7M376.0 383.4l-0.1 2.7M335.3 385.4l1.9 1.5M365.4 358.8l2.3 1.3M286.3 317.1l-1.7 1.8M344.3 395.6l0.4 0.4M378.6 351.0l-1.4 0.4M346.3 370.0l-2.0 1.8M325.3 356.9l-1.2 2.1M306.1 391.3l-1.9 1.0M306.5 386.2l-2.3 1.1M298.4 332.2l-0.3 1.3M284.9 383.3l2.3 1.5M360.1 396.4l-1.4 1.7M338.3 377.1l-0.2 0.6M327.3 384.8l1.3 2.0M314.7 357.0l0.2 1.4M340.6 322.5l-2.0 0.6M269.7 357.2l0.6 1.1M321.2 337.4l-0.8 2.2M333.1 317.6l-0.9 1.7M293.0 342.6l-0.9 1.1M343.0 385.7l-0.3 2.0M284.5 394.7l-1.6 1.0M331.6 379.5l1.2 2.0M311.2 363.2l-1.2 0.5M352.0 365.7l0.1 1.9M292.4 326.4l-0.4 1.1M379.9 346.8l-1.0 2.3M284.8 345.3l0.8 0.2M328.9 390.2l0.3 1.8M273.8 347.3l1.0 0.5M360.8 356.6l-2.1 0.8M266.3 325.2l0.3 1.8M306.2 381.1l-0.2 1.9M302.4 325.4l1.3 1.4M283.0 389.9l1.3 2.1M305.1 336.3l-0.6 2.2M334.0 391.3l2.0 0.5M293.1 386.4l1.2 1.7M296.5 314.6l0.6 0.2M380.4 395.1l2.5 0.7M265.7 373.1l-1.4 1.7M266.6 317.5l-2.4 0.6M302.0 332.5l1.6 2.0M370.4 356.2l2.7 0.2" fill="none" stroke="#8a6c4e" stroke-width="1.05" stroke-linecap="round" opacity="0.8"/></g>
<g filter="url(#bl03)"><path d="M291.2 372.2l1.1 0.6M296.9 375.3l0.7 0.0M291.0 371.4l0.4 0.5M268.4 372.4l0.8 0.5M376.9 340.4l-1.4 1.3M267.8 361.7l0.3 1.0M362.0 329.0l-1.3 0.3M304.2 314.7l0.6 1.2M328.4 343.9l1.2 1.2M348.7 311.5l-1.2 0.8M288.3 390.8l-0.1 1.3M268.8 388.7l0.9 0.5M368.1 397.1l-1.9 0.2M340.3 349.9l-0.4 0.6M309.9 394.6l1.9 0.7M285.0 329.1l0.8 1.6M315.4 324.6l-0.3 0.6M316.0 391.6l0.1 0.8M320.2 376.7l1.0 0.8M267.5 345.1l-1.2 0.3M350.8 382.0l-0.5 1.1M299.3 386.0l-0.0 0.6M355.7 386.1l-1.3 1.2M321.7 364.5l-0.3 0.6M283.6 338.5l0.1 1.3M372.7 363.7l-0.3 0.5M357.7 348.4l0.1 0.6M353.4 371.7l1.4 0.4M361.1 367.9l-0.9 0.6M289.3 326.5l-0.7 0.5M375.0 360.2l-0.2 1.0M292.6 333.4l-0.6 0.6M304.4 363.2l-0.5 1.7M373.2 385.9l1.0 1.2M360.3 347.5l0.2 0.7M378.2 344.3l1.0 0.7M279.0 353.8l1.3 1.5M342.2 385.0l1.1 0.5M358.1 373.7l-0.4 1.2M337.2 393.8l-1.8 0.5M266.0 356.6l-0.3 1.2M344.9 318.7l-0.8 1.6M328.5 359.0l-1.3 1.4M269.2 336.6l0.9 0.2M303.1 370.3l0.9 0.5M323.1 385.7l0.8 0.2M264.9 311.7l1.4 0.5M356.1 383.0l0.6 1.3M375.3 372.7l0.4 1.2M316.9 313.5l-0.9 0.2M369.4 360.3l-1.2 1.1M287.9 396.6l-0.7 1.1M337.5 388.8l0.5 0.8M340.1 370.1l1.2 0.4M288.5 375.3l0.3 0.4M362.6 335.0l0.9 1.5M349.2 337.0l1.3 0.6M290.0 327.7l0.2 0.7M316.9 352.0l1.1 0.8M366.6 360.7l-1.4 0.9M355.1 326.9l-1.0 1.0M267.4 337.0l-0.4 0.4M276.9 388.3l-1.4 0.1M366.6 395.0l-0.3 0.8M267.9 375.7l-1.4 0.1M272.6 397.4l-1.0 1.6M285.7 359.2l1.7 0.7M321.2 395.7l-0.6 1.8M354.8 379.9l0.8 0.0M357.3 361.5l-0.7 1.0M370.8 312.8l-1.6 0.6M333.0 321.0l-1.2 1.1M316.8 372.1l-1.5 0.7M303.6 367.5l-0.4 1.1M350.1 325.7l0.8 0.6M312.8 347.0l-1.8 0.2M364.6 352.3l-0.4 0.4M267.5 344.1l0.0 1.9M280.8 341.5l1.8 0.0M286.6 328.8l0.1 1.5M297.3 346.7l-0.0 0.5M266.3 389.0l-0.1 0.7M338.4 375.8l0.6 1.3M265.0 331.0l0.7 0.6M270.2 365.9l-0.5 0.3M278.0 391.4l0.1 1.1M290.3 331.4l-0.4 0.7M317.1 358.9l1.3 0.7M289.1 341.5l0.3 0.9M294.7 350.5l0.4 1.4M278.0 318.5l1.1 0.6M267.0 369.6l0.7 0.4M273.9 311.5l1.2 0.3M277.8 374.0l0.2 1.5M335.9 379.1l-1.1 1.1M361.2 395.7l-0.2 0.8M317.0 358.0l-0.1 0.6M342.0 311.2l1.2 0.9M285.3 355.7l-1.4 1.2M299.6 352.5l-0.5 1.0M372.8 321.6l-0.0 1.1M293.6 323.9l0.7 0.2M308.0 340.4l1.6 0.0M294.5 395.8l-1.1 0.2M346.5 342.2l0.3 0.9M281.5 311.4l-0.4 0.3M357.0 329.8l-0.8 0.0M335.6 391.1l-1.3 0.6M349.2 350.6l-0.0 0.8M312.6 313.3l-0.2 1.8M337.8 394.2l0.0 0.6M308.3 360.0l-1.2 0.3M312.0 347.0l-0.8 0.7M347.0 352.7l-1.8 0.6M286.0 353.3l-0.1 1.5M290.9 341.4l-0.6 1.0M343.6 315.6l0.6 1.8M373.1 368.7l-0.1 1.0M339.7 344.6l1.8 0.2M378.0 378.5l0.2 0.5M371.8 314.4l0.0 1.1M332.3 318.5l0.9 0.3M362.0 381.6l0.0 0.6M380.4 330.0l0.5 0.6M315.7 319.5l0.5 0.3M285.5 316.7l-1.4 0.2M301.7 371.1l1.5 0.5M375.3 376.6l0.3 0.7M324.5 321.3l-1.1 1.3M264.6 315.8l1.3 1.0M363.9 312.1l0.3 1.6M355.2 351.0l-0.3 1.9M266.9 327.4l-0.7 0.3M289.3 340.3l-1.3 0.1M282.4 313.0l-0.2 1.0M309.6 344.1l0.8 0.5M356.3 382.1l-0.7 0.8M325.1 321.9l0.3 1.0M320.8 336.3l1.3 0.1M280.5 325.6l1.2 1.5M293.5 397.3l0.5 0.2M312.4 351.7l0.5 0.4M349.4 338.6l-1.6 0.9M369.5 385.9l-0.2 1.1M271.3 394.5l-1.5 0.8M270.5 371.2l-0.7 1.4M291.4 396.7l-1.8 0.2M328.7 354.7l1.2 0.5M301.9 393.6l-0.2 1.9M318.1 382.0l1.2 0.3M346.3 385.1l-1.1 1.5M280.5 339.9l-0.6 0.5M293.5 360.6l0.6 1.6M292.3 323.4l-0.5 0.3M285.5 388.3l1.7 0.1M331.1 357.4l-0.3 0.8M277.0 390.2l-0.3 0.7M317.7 363.7l1.2 0.1M266.1 385.1l0.0 2.0M316.7 344.4l1.2 1.4M281.1 384.6l-1.4 0.4M372.8 353.0l-0.6 0.1M346.8 313.9l1.2 0.6M363.8 360.4l-0.6 0.2M364.1 395.0l1.1 0.4M271.3 331.7l-1.3 0.6M295.2 381.5l0.5 1.1M373.6 375.7l-1.1 0.8M332.0 390.1l-0.2 1.1M320.5 397.7l1.3 0.3M337.4 354.1l0.6 1.9M364.2 384.3l-1.3 1.5M283.9 312.8l1.0 1.3M353.4 363.8l1.0 0.7M297.1 332.6l-0.7 0.4M361.3 367.5l1.4 0.1M268.4 321.4l0.8 0.5M271.9 339.8l0.7 1.3M355.5 353.4l-1.4 0.2M318.6 339.0l0.2 1.0M322.2 394.5l0.2 1.7M304.3 353.6l1.5 1.0M332.9 361.6l2.0 0.2M366.2 359.6l0.4 1.0M318.1 374.1l0.4 1.0M358.8 381.3l1.5 0.9M298.2 391.5l-0.9 0.5M271.2 362.9l-0.4 0.5M375.6 379.3l-1.2 0.2M271.0 318.1l0.0 0.7M297.6 344.9l-0.9 0.4M337.9 325.3l-0.9 0.4M379.9 382.6l-1.9 0.4M340.5 354.5l1.0 0.3M278.0 384.5l-0.8 1.2M354.4 380.8l-0.9 0.5M290.5 383.1l0.0 1.1M273.7 376.9l1.1 0.6M306.8 325.3l-0.8 0.9M334.2 340.5l-0.3 0.9M323.2 346.0l-0.7 1.7M304.0 380.5l-0.3 0.4M321.3 348.9l-1.3 1.3M305.9 386.7l-1.7 0.0M340.5 354.4l0.4 0.5M376.4 345.6l1.7 0.1M371.8 353.5l1.1 0.3M327.2 378.3l1.3 0.7M311.9 312.1l-0.7 0.5M285.3 386.3l-0.4 1.8M362.3 311.4l1.8 0.5M360.6 325.3l0.4 1.6M287.7 362.4l-0.1 2.0M314.0 361.1l0.8 0.2M366.8 366.8l-1.8 0.3M290.1 363.3l0.5 1.2M346.8 377.4l-0.1 1.0M334.3 325.7l-0.3 1.7M376.1 395.5l0.1 0.5M360.6 335.4l-0.3 0.7M329.4 378.4l-0.4 1.6M350.5 328.7l-1.6 0.2M269.7 372.8l0.4 0.4M348.0 351.2l-1.3 0.4M365.9 311.9l-0.7 1.3M285.4 337.9l0.7 1.7M365.5 341.6l-1.4 1.4M349.0 320.9l-0.2 0.6M290.7 331.5l-0.8 1.0M340.6 340.5l0.9 0.5M331.3 336.3l-0.9 0.8M319.5 357.9l-0.9 0.1M365.0 329.7l-0.8 0.3M288.6 374.0l0.7 0.1M356.6 367.3l-0.5 0.2M267.2 311.6l0.6 0.6M357.5 369.3l-1.1 0.2M344.3 335.0l0.2 1.3M275.3 350.3l-0.1 0.5M339.0 378.4l0.6 0.5M290.9 339.2l-0.9 0.2M334.3 370.2l-0.0 0.6M325.4 319.5l0.7 0.4M346.6 357.8l-0.6 0.9M345.1 333.2l0.9 1.5M312.8 395.1l-0.7 0.2M290.5 373.6l-0.2 0.7M292.9 310.6l1.1 0.9M349.0 381.7l-0.7 0.3M339.4 390.5l-0.4 1.5M319.7 348.3l0.2 0.5M300.1 380.7l-1.4 1.0M311.7 352.0l-1.1 0.2M311.7 311.3l-1.3 1.0M301.5 388.8l1.1 0.8M301.6 322.7l0.8 0.5M277.4 314.8l0.3 0.7M313.5 391.5l-0.9 0.3M322.7 355.0l1.0 0.2M287.4 348.6l0.8 1.3M300.8 345.9l-1.2 0.0M340.2 371.5l1.6 0.1M280.0 342.7l0.5 0.5M267.1 328.4l-0.4 1.4M270.5 351.9l0.2 0.6M325.5 319.5l1.0 0.4M274.7 323.7l1.1 0.4M345.5 321.2l1.1 0.9M339.8 388.9l0.2 0.6M335.3 364.0l1.0 0.1M310.0 344.2l-0.6 0.3M295.7 395.2l0.4 0.6M374.0 373.3l-0.4 1.6M283.5 358.0l0.7 0.3M343.9 352.7l-0.0 0.9M343.3 316.7l-0.8 1.6M360.5 332.4l1.2 0.2M345.6 390.5l0.7 1.4M310.4 313.4l0.3 0.5M314.1 330.4l1.6 0.7M304.4 369.4l1.0 0.1M361.2 344.3l-0.7 1.4M350.8 324.0l1.0 0.2M310.4 342.9l-1.0 1.6M327.8 318.0l1.5 0.0M304.8 368.1l1.7 0.9M318.9 336.7l1.5 0.9M354.1 345.9l-0.5 0.0M354.8 392.9l1.6 1.1M267.1 366.6l-1.7 0.5M277.3 312.7l0.3 1.6M370.3 349.6l-1.1 1.3M287.9 375.8l0.7 1.8M329.6 393.3l-0.6 0.2M300.9 338.8l1.6 0.8M301.8 356.9l0.0 0.5M330.1 338.1l-0.4 0.4M330.6 337.4l-0.7 0.2M345.9 326.4l0.7 0.9M298.5 312.4l0.4 0.3" fill="none" stroke="#5e5650" stroke-width="1.1" stroke-linecap="round" opacity="0.6"/></g>
<g filter="url(#bl03)"><path d="M286.6 349.8h0M284.2 339.9h0M285.6 344.8h0M340.5 381.4h0M291.4 334.5h0M336.6 382.9h0M344.2 375.6h0M369.3 326.1h0M345.6 387.7h0M340.2 342.2h0M345.7 384.6h0M273.8 363.2h0" fill="none" stroke="#a57f55" stroke-width="1.3" stroke-linecap="round" opacity="0.7"/></g>
<g filter="url(#bl3)" fill="#ececef" opacity="0.55"><rect x="294.5" y="338" width="5" height="60"/></g>
</g>
<g clip-path="url(#c6)">
<rect x="27" y="451.5" width="114.5" height="86.0" fill="#d4d4db" />
<g filter="url(#bl03)">
<path d="M134 509h0M140 482h0M29.5 531h0M100 466.5h0M125.5 515.5h0M140.5 523h0M118.5 483.5h0M107 463h0M67.5 529h0M100.5 468.5h0M75.5 493.5h0M137.5 523.5h0M70.5 502h0M51.5 521.5h0M89 511h0M136 498.5h0M138 459.5h0M103 530.5h0M51 456h0M141.5 477h0M133 518.5h0M85 513.5h0M110 465.5h0M97 456.5h0M47 524h0M43.5 520h0M125 484h0M54.5 535h0M92 500h0M117 480h0M74 528h0M112.5 518h0M50 463h0M49 533.5h0M116.5 522h0M141.5 535h0M141 512h0M101.5 535h0M39.5 488.5h0M51.5 466h0M78 533h0M50.5 462.5h0M128.5 475h0M34 501.5h0M40 513.5h0M62 469.5h0M53.5 488.5h0M82.5 480h0M31 490h0M54 474.5h0M117 463h0M130.5 531h0M28 535.5h0M126.5 474.5h0M96 523h0M111.5 485.5h0M114.5 487.5h0M129 531h0M32.5 518h0M98 532.5h0M35 470h0M102 531h0M138 519h0M55.5 509.5h0M130.5 487.5h0M27.5 516h0M104 515h0M56.5 482h0M69.5 486.5h0M32.5 465.5h0M91.5 463.5h0M47.5 464.5h0M127.5 482h0M112.5 504.5h0M116 514.5h0M91.5 475h0M118 481.5h0M109 471.5h0M38 513.5h0M65.5 467h0M50 477h0M88 479.5h0M82.5 482.5h0M114.5 491.5h0M129.5 508h0M117.5 505.5h0M87.5 484h0M97.5 487h0M134 497.5h0M37 485h0M82 482h0M127 537h0M46.5 530.5h0M123.5 525.5h0M126 526.5h0M87 488h0M136 503h0M98.5 490h0M79 530.5h0M113.5 473.5h0M88 454.5h0M46 477.5h0M139 534h0M107.5 525.5h0M40.5 486h0M109.5 525.5h0M89 465h0M49.5 468h0M107.5 484.5h0M36 517h0M42 469.5h0M96.5 476h0M88.5 524.5h0M130 474h0M92 501h0M56.5 481.5h0M52.5 529h0M63.5 504.5h0M87 478.5h0M120.5 457.5h0M41 468h0M83 478h0M41.5 460h0M130.5 486.5h0M138.5 511h0M119.5 517.5h0M61 527h0M77 466.5h0M51.5 477h0M130 464.5h0M43 527h0M80.5 477h0M32.5 508h0M136 467.5h0M44.5 484.5h0M70.5 455h0M53.5 480h0M43.5 526.5h0M107.5 474.5h0M54 514.5h0M38.5 517.5h0M61 532.5h0M98 490h0M51.5 482.5h0M69 468.5h0M94 502h0M95.5 486.5h0M93.5 478h0M43.5 481h0M131.5 527h0M99 455h0M79 461.5h0M83 456.5h0M105 460.5h0M103.5 511h0M48.5 490h0M140 459h0M64 532.5h0M117 460h0M81.5 492h0M71.5 465.5h0M34 537h0M68 480h0M53 513h0M89.5 521.5h0M95 476h0M102.5 463.5h0M129.5 532h0M65.5 509.5h0M123 492.5h0M53 487h0M50 518.5h0M103 476h0M31.5 505.5h0M135 519h0M138.5 500.5h0M109.5 493h0M112.5 521.5h0M70 473.5h0M128 461.5h0M89.5 470.5h0M83.5 457.5h0M60.5 509.5h0M73 467h0M100 488.5h0M122 497h0M129.5 514.5h0M65.5 474.5h0M75.5 534h0M115 481h0M126 514h0M90 474h0M59.5 525h0M86.5 478h0M103.5 466.5h0M103.5 488.5h0M65.5 533.5h0M118 502.5h0M122 518h0M86.5 492h0M115.5 520h0M58.5 458.5h0M67 464.5h0M116 523h0M84.5 461h0M76.5 490.5h0M45 528.5h0M111.5 486.5h0M33.5 463h0M114 492.5h0M102.5 462h0M51 470.5h0M98.5 512.5h0M102 474h0M39.5 510.5h0M63.5 520.5h0M100 455.5h0M101.5 522.5h0M82.5 468h0M70 529h0M126 524.5h0M134 465h0M141.5 496h0M107.5 480h0M44 499.5h0M112 520h0M68 500.5h0M47 533.5h0M86 465h0M85.5 479.5h0M32 502.5h0M72.5 480.5h0M140.5 464.5h0M64.5 464h0M37.5 526h0M52 516h0M128.5 478h0M75 494h0M130.5 514.5h0M101.5 464h0M88.5 482.5h0M121 470h0M103 519h0M126 498h0M103.5 526h0M111 471.5h0M73 512h0M86.5 506.5h0M110.5 507h0M127 513h0M138 475h0M87 469h0M80 462.5h0M141.5 463h0M133 498.5h0M108 535.5h0M70 532h0M101.5 477.5h0M59.5 465h0M110 479h0M40.5 515.5h0M31.5 522.5h0M128.5 473.5h0M82 469h0M136 466.5h0M61.5 455.5h0M115.5 478h0M84 467h0M100.5 508.5h0M42.5 489.5h0M127 523.5h0M105 475h0M61.5 471h0M35 488.5h0M133.5 462h0M132 499h0M117 475h0M87 476.5h0M137 519h0M85 480h0M52.5 528h0M133.5 532.5h0M92.5 485.5h0M122 471.5h0M80 494h0M118 455h0M44.5 509.5h0M47.5 495h0M52 460.5h0M101 477h0M105 456.5h0M115.5 466.5h0M77.5 530.5h0M94.5 516h0M33 480h0M34 489h0M81.5 497.5h0M38 473h0M51.5 527.5h0M87 512h0M54.5 482h0M29 498h0M106.5 530.5h0M81.5 499.5h0M133.5 473.5h0M131.5 494h0M65 517h0M40 528.5h0M121 480.5h0M138 472h0M70 522.5h0M66.5 504h0M65 495h0M56.5 520h0M45.5 484.5h0M109.5 534h0M83.5 474h0M109 535.5h0M104.5 506h0M66.5 468h0M104.5 482h0M50.5 487h0M131 524.5h0M85.5 467h0M35 504h0M112 527.5h0M100 454.5h0M107 488h0M39.5 530.5h0M109 490.5h0M117.5 490.5h0M29 485h0M57 462h0M29 477h0M134.5 476h0M114 473h0M55.5 470.5h0M37.5 528h0M120.5 470h0M35.5 522.5h0M44.5 464.5h0M128 482.5h0M120.5 470h0M39.5 455h0M118 487h0M128 468.5h0M108.5 535h0M134 464h0M113.5 470.5h0M120.5 535h0M73.5 472.5h0M139.5 474h0M48.5 529.5h0M57 463.5h0M134 517.5h0M121.5 521.5h0M69.5 456h0M79.5 471.5h0M67.5 531.5h0M85.5 524h0M88.5 493.5h0M121 528h0M51.5 471h0M90 529.5h0M92 469.5h0M91 500h0M121 462.5h0M137.5 478.5h0M130.5 471h0M48.5 484h0M79 460h0M120 525.5h0M105.5 470.5h0M114 527.5h0M30.5 535h0M136 502.5h0M114 490h0M86 459.5h0M79.5 462h0M86 469h0M138 491h0M99 471h0M127.5 474.5h0M92.5 482.5h0M136.5 462.5h0M30.5 517h0M103.5 536h0M139.5 457h0M93 464.5h0M105.5 487.5h0M55 475h0M82 514h0M77 484.5h0M67.5 492.5h0M78.5 465h0M95 528.5h0M71.5 487h0M94 497.5h0M99.5 523h0M80.5 479.5h0M43.5 475h0M133.5 531.5h0M108.5 481h0M137 536h0M135 521.5h0M110.5 468.5h0M80 510.5h0M128 509h0M99 514.5h0M129.5 470.5h0M68 529.5h0M116 493.5h0M46.5 475h0M125 511.5h0M114 475h0M94 533.5h0M138.5 483.5h0M80 536h0M83.5 467h0M122 498.5h0M70.5 503.5h0M117 488.5h0M57.5 505h0M136 499h0M116.5 474.5h0M89 489.5h0M73.5 455.5h0M129 466h0M43 505.5h0M105.5 528h0M42.5 490.5h0M49.5 537.5h0M101.5 460.5h0M86 487h0M88.5 499.5h0M96 474.5h0M56.5 482.5h0M65.5 532.5h0M85.5 472h0M104 476h0M120 512.5h0M47.5 497h0M113.5 495h0M63 492h0M94 519h0M131 494h0M99 492h0M107 515h0M69.5 512.5h0M101.5 503h0M42 481h0M108 456h0M114 511h0M67 533.5h0M33 532h0M112 534.5h0M107.5 483h0M141.5 471.5h0M55 469.5h0M97.5 482h0M103 523h0M116 492h0M82.5 518.5h0M42 465h0M81.5 455h0M118 472h0M28.5 487.5h0M84 526h0M46.5 472.5h0M100.5 527.5h0M127.5 515.5h0M110 491.5h0M115.5 466h0M82.5 535.5h0M127 498h0M91.5 479.5h0M78 507.5h0M130 534h0M134.5 480.5h0M127.5 478h0M140 514h0M79.5 515.5h0M81.5 486h0M140 535h0M32.5 463h0M99 512.5h0M65.5 456.5h0M138.5 502h0M137.5 531h0M42 486.5h0M70 495.5h0M59.5 467h0M41.5 514h0M97 467h0M64 505.5h0M40 468h0M110.5 522h0M137.5 521h0M113.5 535.5h0M81 487h0M132.5 482.5h0M102.5 462.5h0M117.5 465h0M68 520h0M62 476h0M138 511.5h0M138 514h0M107.5 455.5h0M46.5 536.5h0M131 466h0M39 512h0M56.5 479h0M57 531.5h0M57 515h0M54 515h0M44.5 491.5h0M103.5 473h0M141 495h0M125 454.5h0M38.5 465h0M31 469.5h0M61 534.5h0M141.5 477.5h0M133 523h0M105 501.5h0M114 461h0M59.5 499.5h0M45 497h0M71 510.5h0M130.5 515h0M129 527h0M130.5 523.5h0M123.5 481h0M86.5 460.5h0M45.5 517.5h0M53 485h0M84.5 497h0M72 455h0M107.5 485.5h0M50 525h0M60 485h0M100.5 459.5h0M138 524h0M86.5 497h0M114 536h0M87 459h0M127.5 535.5h0M133.5 467.5h0M68 496.5h0M28 525.5h0M91 496.5h0M38 524.5h0M84.5 487.5h0M91.5 476.5h0M44.5 484.5h0M118 520.5h0M136.5 518h0M75.5 530.5h0M34.5 477.5h0M93.5 493h0M58 527.5h0M48.5 473h0M80 462h0M87.5 509h0M61.5 519h0M87.5 484h0M141 501.5h0M44 524h0M129 505h0M88 495.5h0M118.5 533.5h0M107 515.5h0M113 503h0M139 474h0M117 530h0M78 483.5h0M138.5 530.5h0M36.5 519.5h0M101.5 456h0M118.5 495.5h0M41 463.5h0M54 476h0M130 467.5h0M99 489.5h0M27.5 459h0M87.5 532h0M141 525.5h0M137.5 460.5h0M99 487h0M89 521h0M68 528.5h0M108 471.5h0M28 525.5h0M44.5 528h0M49.5 465.5h0M99.5 460.5h0M38 482.5h0M141 513.5h0M110 536h0M131.5 459.5h0M48 513.5h0M90 476h0M125 535h0M44 456.5h0M92 507h0M87 462h0M33 507.5h0M133 535.5h0M116.5 514h0M86.5 482h0M67.5 501.5h0M95.5 457.5h0M97 531.5h0M119 467h0M96.5 479.5h0M121 481h0M113.5 471.5h0M68.5 493.5h0M74.5 489h0M141 491h0M78 485.5h0M112 463h0M43 479h0M126.5 508h0M139.5 522h0M103 501h0M114 531.5h0M92 523.5h0M118 530.5h0M87 501.5h0M27.5 529h0M78.5 478h0M83 513h0M35.5 498h0M29 483h0M97 532h0M112.5 517h0M133.5 535h0M120 523h0M114 485.5h0M34.5 477h0M141 498h0M80 508h0M81 519h0M67.5 524.5h0M49 511h0M72 486h0M50.5 537h0M92 484.5h0M103.5 491.5h0M114 481.5h0M111 489h0M109 457h0M137 468h0M138.5 455h0M118.5 499.5h0M106.5 477.5h0M96 487.5h0M129 467h0M93 516.5h0M67 466h0M74 470.5h0M131 493.5h0M57.5 533h0M125 457.5h0M105.5 483h0M55.5 490h0M119.5 514h0M56.5 489.5h0M65.5 480h0M91.5 457.5h0M63 497.5h0M63 522.5h0M121 476h0M135.5 507h0M49.5 470.5h0M132 478.5h0M84.5 521h0M28.5 466.5h0M131 506h0M104.5 467.5h0M98 526.5h0M31 521.5h0M89.5 463.5h0M79.5 463h0M108.5 457.5h0M100.5 500.5h0M130.5 532h0M34.5 485h0M106 516h0M42 507h0M127.5 490.5h0M30.5 485h0M135 461h0M137 467.5h0M90.5 514h0M49 522.5h0M44 473h0M119.5 533.5h0M97.5 502h0M53 489.5h0M90 510h0M133.5 521.5h0M128 466.5h0M109.5 463h0M61 525.5h0M94.5 503.5h0M99.5 468h0M115.5 462.5h0M109.5 514.5h0M32.5 469h0M28 469h0M109.5 501h0M85.5 509h0M123 514.5h0M76.5 502.5h0M112.5 465h0M95.5 534h0M93 511h0M31 513.5h0M53.5 489.5h0M121.5 534.5h0M36 462.5h0M83 500h0M137 476.5h0M84.5 519.5h0M53 518h0M132.5 464h0M30 505.5h0M78.5 479.5h0M68.5 477.5h0M38.5 505.5h0M63.5 470h0M136.5 508.5h0M96 457.5h0M88.5 461.5h0M27.5 476.5h0M101 476.5h0M138 464h0M137.5 534.5h0M134 463.5h0M81.5 456h0M33 498h0M135.5 503.5h0M39 492h0M33.5 522h0M85 484.5h0M29.5 536.5h0M116 489h0M40 510h0M112.5 459h0M77 488h0M36 500h0M88.5 496h0M117.5 480h0M46 526h0M64.5 471h0M47 467.5h0M133 478h0M75.5 458.5h0M73 484.5h0M75 474h0M50 480.5h0M62 455.5h0M61.5 510.5h0M95.5 479.5h0M85 470h0M87.5 493.5h0M96 465.5h0M43.5 476h0M71.5 473h0M60.5 537h0M75 483h0M107 485h0M132.5 476h0M114 499.5h0M81.5 532h0M37 521.5h0M103 498.5h0M37.5 478.5h0M79.5 496h0M98.5 471h0M36.5 473h0M123 471.5h0M56.5 529h0M48 462h0M119.5 476h0M58.5 476h0M70.5 537.5h0M140 511h0M30.5 518.5h0M60.5 483h0M103 474.5h0M103.5 533.5h0M74 499h0M77 455h0M118 469.5h0M107.5 472h0M119 525h0M27.5 476.5h0M90 456h0M140 477.5h0M83 521h0M82 537h0M133.5 464h0M57 486.5h0M109.5 476h0M91 474h0M94 471.5h0M80.5 493h0M59 502.5h0M38 516h0M34 523h0M46 518.5h0M141 455.5h0M43.5 531h0M36 496h0M128.5 460h0M92 495.5h0M53.5 482h0M107.5 475h0M33 527.5h0M125.5 494.5h0M127.5 517h0M40.5 486.5h0M86.5 456h0M35 483.5h0M137.5 531h0M89 488.5h0M141 531h0M127 471.5h0M58.5 475h0M116.5 476.5h0M87.5 498h0M112.5 482.5h0M118.5 530h0M119.5 470h0M56 491h0M97 505h0M103.5 529.5h0M69.5 529.5h0M105 463.5h0M94 528.5h0M140.5 466.5h0M135 513h0M74 457.5h0M93.5 526.5h0M78.5 508.5h0M131.5 460h0M72 496h0M48.5 488.5h0M128 519.5h0M57.5 456h0M116 517h0M66 487.5h0M47.5 463h0M29.5 506h0M101.5 534h0M134 527.5h0M27.5 483.5h0M131 485.5h0M54.5 483h0M71 485h0M29 489.5h0M140 530h0M66.5 523h0M84.5 491h0M39.5 497h0M35.5 520.5h0M73 478h0M39.5 500h0M81 456.5h0M66.5 471h0M93.5 536.5h0M56 526.5h0M82 480h0M38.5 479.5h0M99.5 486h0M61.5 464h0M84 513.5h0M73 500h0M124.5 486h0M67.5 528h0M46 500h0M110 478.5h0M118.5 502h0M96.5 490.5h0M121 513h0M27 534.5h0M96.5 471.5h0M141.5 500h0M135.5 504.5h0M39.5 499.5h0M110.5 477h0M31.5 460.5h0M58.5 469h0M111 458h0M76 494.5h0M105 496.5h0M60.5 537h0M38.5 525.5h0M54 494h0M47 470h0M58 486.5h0M129 461h0M75 488.5h0M69.5 469h0M76 497h0M115 510h0M106.5 502h0M69.5 476.5h0M58.5 472h0M108.5 468h0M58.5 478.5h0M72 466h0M84.5 468.5h0M84.5 483.5h0M68 462h0M34.5 485.5h0M86.5 467.5h0M104.5 457h0M55 471.5h0M81.5 480h0M118 503.5h0M53.5 471h0M111 477h0M119 473.5h0M103 482.5h0M52.5 515.5h0M33.5 526h0M104.5 502h0M29.5 511.5h0M102 483h0M111 507h0M75.5 504h0M90 508.5h0M77.5 461.5h0M108.5 491.5h0M55.5 460.5h0M36 498.5h0M109.5 500h0M53 528h0M119 526h0M79.5 510.5h0M90 481.5h0M75 521.5h0M34.5 463.5h0M63.5 490.5h0M141 487h0M131 454.5h0M126 532h0M114 510h0M51 509h0M118.5 506h0M39 466h0M108 459h0M77.5 465h0M78.5 526h0M77 473.5h0M29.5 535h0M33.5 495h0M99.5 479h0M105.5 500.5h0M32 515h0M129.5 462.5h0M89.5 486h0M41.5 523.5h0M104 517h0M108 457.5h0M117.5 490.5h0M125 459.5h0M123.5 470.5h0M115 489.5h0M79.5 484.5h0M99 480h0M64 472.5h0M77.5 520.5h0M119.5 503.5h0M50.5 521.5h0M68.5 469h0M79.5 525h0M80 482h0M33.5 474.5h0M83.5 475.5h0M137 512.5h0M121 519.5h0M83.5 471.5h0M113 480h0M120.5 483h0M50.5 477h0M116.5 460.5h0M111 480h0M120 516.5h0M115.5 454.5h0M80 476.5h0M83.5 516h0M88 467.5h0M28.5 513.5h0M125 463h0M84 470.5h0M109.5 533.5h0M111.5 499.5h0M103.5 467.5h0M98.5 491h0M33.5 513h0M99.5 475.5h0M120.5 461h0M116.5 513.5h0M31 531.5h0M112.5 520.5h0M89 459.5h0M104 460.5h0M68.5 469.5h0M97 505.5h0M43.5 466h0M42 460.5h0M141 520h0M98 489h0M101.5 477h0M60 519.5h0M132 522.5h0M62.5 455.5h0M86 509h0M105 535.5h0M126.5 476.5h0M74.5 476.5h0M125.5 478.5h0M79 462h0M111.5 534.5h0M103 516.5h0M108.5 513h0M50.5 527.5h0M120.5 527.5h0M29.5 480.5h0M30 495.5h0M119 514h0M52 483h0M32 508.5h0M87 512.5h0M92.5 502h0M53.5 536h0M69.5 502h0M119.5 467.5h0M44 501.5h0M103 471.5h0M137.5 499.5h0M71 475h0M93.5 511.5h0M88 454.5h0M46 529.5h0M57 471h0M57.5 488.5h0M134.5 495h0M71 519h0M93 513h0M74.5 468h0M90 525.5h0M76.5 529.5h0M81.5 497h0M54 484h0M62 485h0M131.5 484h0M49 507h0M88.5 465h0M123.5 529h0M128.5 530.5h0M38.5 506.5h0M79.5 536h0M28.5 510h0M80.5 485.5h0M34.5 505.5h0M102.5 499h0M56 487.5h0M125.5 488h0M74.5 536h0M49.5 479.5h0M105 529.5h0M51 478h0M127 468h0M110 474.5h0M72 507.5h0M42 469h0M69 478h0M44.5 508.5h0M135.5 460.5h0M106 490.5h0M140.5 477.5h0M33.5 510h0M138 477h0M39 486h0M115 477h0M134.5 519.5h0M62 511h0M38.5 456h0M110 482h0M71 471.5h0M30 490h0M130.5 531.5h0M141 529h0M130.5 458.5h0M52 469h0M72.5 533.5h0M94 470h0M32 506.5h0M133 515h0M130.5 501h0M109.5 490h0M29.5 530.5h0M97.5 534h0M131.5 524.5h0M35 488h0M52.5 477h0M31.5 476.5h0M47.5 480.5h0M54 498.5h0M52.5 511h0M91.5 457.5h0M57.5 455.5h0M99 516.5h0M69 490h0M85 533.5h0M90.5 483h0M73 476h0M34.5 531h0M94 482h0M80.5 464h0M124.5 500h0M126.5 523.5h0M74.5 462h0M56 512.5h0M62 467h0M112 508.5h0M131 468.5h0M137.5 519.5h0M117.5 527h0M87 513h0M53.5 471h0M120 473.5h0M133 474.5h0M93.5 513h0M116.5 525h0M130.5 537.5h0M77 467h0M68.5 516h0M138 529h0M134 515h0M113.5 512.5h0M51 465.5h0M65.5 464h0M95.5 529h0M104.5 498.5h0M74 523h0M141 490.5h0M94 468h0M72.5 532h0M119 496h0M101 471.5h0M107.5 485h0M126.5 498h0M92 502.5h0M83 528.5h0M129.5 528h0M92 525.5h0M50.5 529.5h0M69.5 499.5h0M125 499h0M39.5 464.5h0M31.5 498h0M128 524h0M114.5 536.5h0M88 530.5h0M128 507.5h0M132 531h0M76 479.5h0M43 514.5h0M131.5 459h0M54 477.5h0M80.5 462.5h0M76 481.5h0M78 484h0M41 474.5h0M32 515h0M134 474h0M105.5 497h0M69.5 499.5h0M62.5 492h0M118.5 470h0M116 462h0M63 468.5h0M110.5 518.5h0M32 461.5h0M87.5 502.5h0M141 511.5h0M40 493.5h0M64.5 480h0M137.5 534.5h0M95 522.5h0M84 466h0M117 471.5h0M137.5 534h0M36.5 521.5h0M118.5 521.5h0M103.5 504h0M28 522h0M123.5 523h0M57.5 474h0M102 530h0M130 488h0M100.5 524.5h0M70.5 513.5h0M127 513.5h0M120 465h0M111.5 457.5h0M87.5 507h0M94 468.5h0M63 469h0M43 513.5h0M54 476h0M135 477.5h0M127 466.5h0M123 482.5h0M82.5 458h0M76.5 517.5h0M44.5 531h0M128 515h0M51 456h0M140.5 525h0M82 531h0M115.5 497.5h0M46.5 527.5h0M80.5 470.5h0M110 493h0M80 460.5h0M72 486.5h0M66.5 478h0M104.5 503h0M42 478h0M111.5 468.5h0M42 470h0M104 501h0M132 519.5h0M102 469.5h0M101.5 529h0M96.5 475.5h0M121.5 515h0M38.5 528.5h0M140 463h0M90 491.5h0M135.5 532h0M43.5 458.5h0M126.5 461.5h0M31 460.5h0M58.5 511.5h0M91 495h0M47 514h0M62.5 488.5h0M130.5 533h0M123.5 490h0M73.5 460h0M89 474h0M123 477h0M61.5 475.5h0M113.5 526h0M101.5 458.5h0M28.5 515h0M53.5 457.5h0M121 508h0M59.5 511.5h0M99 530.5h0M41.5 531h0M126.5 492h0M98.5 533.5h0M99 471.5h0M109 519.5h0M60 501h0M27.5 502h0M139.5 521.5h0M112.5 514h0M117 482.5h0M120 535h0M30.5 456.5h0M75 472.5h0M86.5 536h0M35.5 482.5h0M62.5 486h0M141.5 456h0M66 472.5h0M61.5 495.5h0M118 520.5h0M115 482.5h0M115.5 497h0M134.5 457.5h0M119.5 498.5h0M89 492.5h0M42.5 534.5h0M39 497.5h0M129 468.5h0M132 515h0M112 494h0M109.5 536.5h0M129.5 476h0M31.5 496.5h0M80.5 489.5h0M95.5 509.5h0M124 527.5h0M112 478.5h0M119.5 481.5h0M28 461.5h0M35.5 466.5h0M69.5 516h0M123.5 498h0M138.5 521.5h0M78.5 519h0M60 463.5h0M121 455.5h0M40.5 486h0M92 484h0M113 509.5h0M137 521.5h0M28.5 529.5h0M121.5 524h0M83.5 458h0M71.5 518.5h0M114.5 493.5h0M52.5 480h0M46 467.5h0M32 507h0M114.5 473.5h0M116.5 513.5h0M36.5 530h0M91 531.5h0M107 485.5h0M129 537h0M118 513.5h0M44 529h0M128.5 499h0M97.5 463h0M128 532h0M40.5 483h0M137 529.5h0M64.5 497.5h0M115 536.5h0M72 482.5h0M33 503h0M61 530h0M113 494.5h0M80 532h0M71 511.5h0M33.5 513.5h0M32 509.5h0M27.5 493.5h0M69 532h0M50 460.5h0M64.5 479h0M132 484.5h0M115.5 473.5h0M85 511h0M125.5 460h0M55.5 482h0M119 519h0M29 462.5h0M49.5 514h0M108.5 534.5h0M107.5 466h0M108.5 479h0M88.5 496h0M108 532.5h0M51 479.5h0M45 488h0M65 504.5h0M59.5 514.5h0M79 469.5h0M69 466.5h0M114.5 458h0M122 525.5h0M77 489.5h0M134.5 472.5h0M34 498.5h0M35 522.5h0M28 468h0M87 464.5h0M132 536.5h0M79 492h0M97 519.5h0M71 506.5h0M70 474h0M74 468.5h0M27 492h0M85.5 502h0M109 531.5h0M66 531h0M72 532h0M78.5 510h0M129 533.5h0M29.5 537h0M101 489.5h0M90 506h0M73 474.5h0M113 472h0M119 507h0M91 534.5h0M50.5 511h0M112.5 506h0M134.5 535h0M104.5 456.5h0M52 480h0M104.5 536h0M140.5 481.5h0M67.5 478.5h0M100 456h0M134 463.5h0M87 472.5h0M118 468.5h0M102 478.5h0M69 513h0M34.5 503.5h0M96.5 524h0M137 531h0M101.5 529h0M59 517h0M69.5 471h0M118.5 461h0M35.5 482.5h0M89.5 468h0M120.5 492.5h0M60 477h0M109.5 515.5h0M62 476.5h0M53.5 488h0M87 480.5h0M113 502.5h0M102.5 509h0M93 483h0M99.5 476.5h0M92 507h0M30 486h0M103.5 529h0M115 473.5h0M76 465h0M47.5 461.5h0M38 503h0M68 472.5h0M105 467h0M28 463h0M77.5 526.5h0M36.5 524h0M69.5 476h0M67 480h0M135.5 495.5h0M37 503.5h0M110.5 494.5h0M134.5 499h0M134.5 503.5h0M34 506.5h0M134 527.5h0M75.5 508h0M59 487.5h0M62 463.5h0M47 456h0M140 484h0M40 461.5h0M105 519h0M90 476.5h0M56.5 527h0M83 515h0M135.5 513.5h0M137 479.5h0M97.5 492h0M126 481h0M82.5 513.5h0M45 492.5h0M102 512.5h0M122 506.5h0M102.5 475h0M46 481.5h0M108.5 485.5h0M89 473h0M120 495h0M135.5 497h0M53.5 482.5h0M123.5 461h0M82 491h0M103.5 491h0M117 534.5h0M69 477.5h0M63.5 512.5h0M68.5 489h0M114.5 483h0M38 481.5h0M65.5 479.5h0M65 463h0M46 537.5h0M81 495h0M27.5 483.5h0M55.5 461h0M116.5 497h0M141 505.5h0M70 492.5h0M42.5 464.5h0M106 517.5h0M136 477.5h0M86 487h0M105.5 529.5h0M34.5 495h0M132 536.5h0M41 470h0M91.5 481.5h0M101 477h0M127 459h0M76.5 534.5h0M106.5 473h0M139.5 469h0M66 482.5h0M58.5 534h0M53 493.5h0M90.5 516.5h0M126 534.5h0M107.5 525h0M51 522.5h0M87.5 536.5h0M68.5 495h0M137.5 529h0M87 507.5h0M89 531h0M140.5 495h0M125.5 523.5h0M68 487h0M61.5 526.5h0M103.5 512h0M36 532h0M123.5 483h0M62.5 501h0M94 514.5h0M97.5 509h0M125.5 485.5h0M116 533.5h0M106.5 482h0M38 503h0M28 496.5h0M128.5 489h0M128.5 502h0M93 494h0M35.5 478.5h0M108 496h0M112 494.5h0M34.5 497.5h0M67.5 491.5h0M89.5 534.5h0M63 466h0M43.5 473h0M123.5 461.5h0M101 484.5h0M92.5 504.5h0M131.5 507.5h0M111 460h0M34 478h0M48.5 468h0M99 517.5h0M85.5 464.5h0M34 463.5h0M88 478.5h0M80 469.5h0M73 504h0M40.5 507h0M28.5 474.5h0M109.5 497h0M38.5 536h0M130.5 462.5h0M133 496h0M104.5 532h0M105.5 473.5h0M38 480h0M132 499.5h0M65 496.5h0M87.5 463.5h0M116.5 508h0M117 463h0M136.5 455.5h0M71.5 512h0M137 457h0M99.5 468.5h0M100.5 465.5h0M87.5 470h0M134.5 522h0M101 516h0M113 484.5h0M47.5 523h0M81 467h0M36.5 511.5h0M136.5 462h0M131.5 493h0M113.5 520h0M59 534.5h0M28.5 520.5h0M67.5 465.5h0M105.5 479h0M63.5 533.5h0M119 478.5h0M125 495h0M52.5 522h0M80.5 470.5h0M119 504h0M86.5 500.5h0M39 472h0M38.5 512.5h0M32.5 521.5h0M55.5 458h0M114 478h0M99 523h0M76 487.5h0M88.5 465h0M103.5 481.5h0M40.5 523.5h0M139.5 475h0M78.5 471.5h0M32.5 536.5h0M43.5 501h0M134 509h0M125.5 489.5h0M130.5 505.5h0M79.5 466.5h0M126.5 471h0M79.5 455.5h0M91 469.5h0M33.5 535.5h0M51 528h0M141.5 477h0M112.5 496.5h0M48 473.5h0M34 463.5h0M66.5 463h0M111.5 489.5h0M81.5 493.5h0M111.5 467h0M81.5 457.5h0M74.5 476h0M41 513.5h0M62 459.5h0M81 487h0M141.5 475h0M88 497.5h0M125 507.5h0M51.5 496.5h0M97 457.5h0M136 470.5h0M73 457.5h0M80.5 485.5h0M126.5 469.5h0M45.5 521.5h0M33 532h0M115 532h0M42 494h0M69 466.5h0M136.5 481h0M101 521h0M120 502h0M107.5 529.5h0M92 530h0M117.5 487h0M85.5 500h0M94 533.5h0M125.5 465.5h0M89 465h0M78 534.5h0M41 515.5h0M138 512.5h0M100 473.5h0M55 494h0M67.5 470.5h0M53 495h0M60.5 485.5h0M54 522.5h0M85 469h0M117 531h0M30.5 529h0M127.5 537h0M105.5 532h0M35 533h0M49 470h0M55.5 519.5h0M124 470.5h0M130.5 526h0M60 537h0M33 527h0M122.5 524.5h0M70 481h0M136 513h0M124 494.5h0M71 461h0M121.5 455h0M37.5 481.5h0M103.5 497.5h0M127 512h0M108 463.5h0M37 478.5h0M30 535h0M108 476h0M84.5 512.5h0M108 467h0M79.5 495h0M109.5 472.5h0M136 462h0M57.5 467h0M72 499h0M127 489.5h0M55 497.5h0M54.5 473.5h0M110.5 491h0M137.5 496.5h0M141.5 500.5h0M120.5 511h0M120 489h0M133.5 525.5h0M89.5 471.5h0M41 510h0M74.5 520.5h0M39 479.5h0M83.5 490.5h0M85.5 486h0M138.5 532.5h0M140 465.5h0M94.5 536.5h0M31 474.5h0M31 524.5h0M126 508.5h0M74 470.5h0M126.5 525h0M76.5 468h0M88 481h0M33.5 475h0M45 489.5h0M127 483h0M127.5 517.5h0M42 473h0M99 506h0M75 479.5h0M130 516h0M29 474.5h0M70.5 471.5h0M115 490.5h0M96 480h0M138.5 507h0M131 472h0M82.5 534.5h0M84.5 458.5h0M139 537.5h0M70 461h0M138 501.5h0M76 513h0M73.5 495.5h0M51.5 455h0M99 503h0M65.5 490h0M57 459h0M101 531h0M97.5 461h0M42 474h0M123 475h0M132.5 500.5h0M37.5 485.5h0M74.5 482h0M38 529h0M40 515h0M54.5 456.5h0M133 528h0M108.5 495.5h0M129.5 498.5h0M110.5 513h0M27.5 502h0M42 527.5h0M87.5 492h0M124 469.5h0M96.5 469h0M44 485h0M110.5 491h0M129.5 526h0M127 519.5h0M128 509.5h0M63.5 488h0M111.5 536h0M132.5 504.5h0M47 476.5h0M43 534h0M105 488.5h0M82 487.5h0M84 490.5h0M74 498.5h0M130 513.5h0M139 455h0M90.5 527h0M128 485.5h0M93.5 537h0M60 459.5h0M97 466.5h0M35.5 523.5h0M104.5 513.5h0M32.5 484.5h0M60.5 517.5h0M120 505h0M111 531h0M121.5 460.5h0M116 499h0M45.5 531h0M49.5 462h0M94 482h0M57 476.5h0M31 497h0M97.5 503h0M69.5 471h0M117 506.5h0M32 498h0M117 514.5h0M79.5 479.5h0M92 495h0M115.5 508h0M120.5 487.5h0M64.5 509.5h0M35 476h0M28 490h0M83.5 492.5h0M112 478h0M124 515h0M50.5 510.5h0M136.5 526.5h0M39.5 495.5h0M95 512h0M139 464h0M99.5 476h0M83.5 501h0M36 497.5h0M112.5 504h0M33.5 522h0M112 516h0M61.5 501.5h0M85.5 469h0M34 471.5h0M126.5 477.5h0M84 477.5h0M108.5 459.5h0M131 461h0M92.5 497h0M94 464h0M94.5 523.5h0M81 468.5h0M58.5 496h0M120 457h0M103.5 460.5h0M55.5 524h0M99 484h0M135 455h0M96.5 486.5h0M45 518.5h0M44 462.5h0M32 497.5h0M115 490.5h0M138 522.5h0M72 467h0M51.5 537h0M44.5 520h0M74 536h0M73 456h0M79.5 458.5h0M31 493h0M40.5 511h0M119 491.5h0M134 506h0M57.5 479h0M87.5 470.5h0M103 474.5h0M116.5 495.5h0M100.5 467.5h0M140 527h0M112.5 493h0M126.5 532h0M97 482h0M132.5 472.5h0M56.5 495.5h0M120.5 518.5h0M35.5 501h0M36 503.5h0M113 484.5h0M33 500.5h0M87 527h0M53 535.5h0M125 504.5h0M31.5 454.5h0M68.5 456.5h0M54 502.5h0M47 511h0M89 471.5h0M33 532.5h0M104 490h0M115.5 471.5h0M122.5 499h0M109 484.5h0M83.5 520.5h0M137 504h0M127 524.5h0M131.5 516.5h0M120 531h0M59 501h0M43 467h0M41.5 485h0M39 475h0M70.5 456.5h0M40.5 480h0M93.5 493.5h0M129.5 457h0M91 485h0M36 483h0M130 479h0M83 475.5h0M81 474.5h0M118.5 470h0M130 457.5h0M97.5 521h0M42.5 476.5h0M51 525h0M127 505.5h0M78.5 525.5h0M83.5 457h0M112 464.5h0M66.5 489.5h0M130 462h0M61.5 522.5h0M51.5 530.5h0M48 534h0M63 464h0M93 475.5h0M133 470h0M120.5 477h0M75 468.5h0M31.5 524h0M70 466h0M134 466.5h0M41.5 529.5h0M45.5 468h0M67.5 528h0M78.5 479h0M134.5 508.5h0M112.5 488.5h0M50.5 536h0M56.5 497.5h0M34 496h0M50 514.5h0M44 508h0M116 486h0M38.5 464.5h0M134.5 506.5h0M34.5 494h0M57.5 506h0M42.5 457h0M59 535.5h0M99.5 508.5h0M58.5 517h0M112 534.5h0M117 481.5h0M30 489h0M62.5 483.5h0M40 484h0M87 522h0M67.5 487h0M131 498h0M56.5 455.5h0M122.5 481h0M124 477.5h0M116 507h0M135 508h0M34 466h0M45.5 533.5h0M73 479.5h0M28 486h0M54 504.5h0M109 531.5h0M101.5 502.5h0M44.5 486h0M31 480h0M62.5 463.5h0M47.5 509.5h0M86 464.5h0M36.5 523.5h0M81.5 490.5h0M104.5 466.5h0M29 527h0M63.5 484.5h0M30.5 514h0M74 499h0M78 467.5h0M116.5 474h0M117 465h0M56.5 475.5h0M128.5 507h0M30 489.5h0M47.5 469.5h0M140 515.5h0M120.5 514.5h0M101.5 492h0M105.5 505.5h0M54 519.5h0M122 494h0M60 481.5h0M104 508h0M113 513.5h0M118 462h0M71.5 535.5h0M87.5 461h0M105.5 522h0M56.5 494.5h0M93 463h0M82.5 506h0M49 523.5h0M112 499.5h0M36.5 521h0M130.5 506.5h0M27.5 477h0M29 526h0M121.5 484.5h0M76 487h0M126.5 503h0M109.5 487h0M127.5 524h0M73.5 458h0M120 525.5h0M39.5 511.5h0M125.5 525h0M130.5 535h0M79.5 459.5h0M141 488h0M114 487.5h0M63 464h0M59 488.5h0M62.5 468.5h0M115.5 537h0M69 518.5h0M120 480h0M73 487.5h0M87.5 510h0M136 468.5h0M125 513.5h0M44 510h0M125 532.5h0M69 456.5h0M71.5 485.5h0M29.5 483h0M50 467h0M104.5 455.5h0M49.5 483.5h0M74 474.5h0M56.5 503h0M123 490h0M62.5 494h0M56.5 479h0M88 536h0M91.5 468h0M78.5 533.5h0M120 460h0M38 474h0M80.5 532.5h0M27 523h0M100 454.5h0M140 460h0M32 491h0M49 527h0M104 462.5h0M112 500.5h0M88 498h0M102 483.5h0M91.5 484.5h0M101.5 511.5h0M83.5 454.5h0M74.5 469.5h0M36.5 495.5h0M127.5 488.5h0M137.5 488h0M84 510h0M82.5 529h0M93.5 502.5h0M88 476.5h0M134.5 460.5h0M130.5 487.5h0M66.5 486h0M47 461.5h0M36 525.5h0M33.5 496.5h0M35.5 530h0M134.5 463h0M86 454.5h0M67 473h0M66.5 467h0M122 500h0M111.5 497.5h0M112.5 457h0M130.5 487.5h0M120.5 462h0M94.5 463.5h0M41 494.5h0M56 455h0M30.5 502h0M58.5 489h0M84 533.5h0M108 469.5h0M106 535.5h0M52 471.5h0M65.5 463h0M120.5 528h0M118 533.5h0M84 530.5h0M76 517.5h0M131.5 477.5h0M85.5 473h0M78.5 524h0M107 504h0M73 484.5h0M72.5 459h0M80.5 470.5h0M100.5 527h0M95.5 503h0M75 515.5h0M49 530.5h0M91 468.5h0M84 476h0M128 524.5h0M114.5 529.5h0M78 474h0M36 478h0M131.5 468h0M61.5 512.5h0M43 466.5h0M79 459h0M50.5 515.5h0M91.5 461.5h0M73 515h0M121 494.5h0M87 475.5h0M85 485h0M66.5 470h0M44.5 531.5h0M74 474.5h0M45.5 463h0M71.5 477.5h0M138.5 460h0M121 454.5h0M134.5 464h0M131 499h0M126 507h0M71.5 458.5h0M101 527h0M94 473h0M49 481h0M49 513.5h0M81.5 508h0M98.5 467h0M136 497.5h0M40.5 534.5h0M87.5 457h0M44.5 481.5h0M79 466.5h0M44.5 485.5h0M108 478.5h0M55 498.5h0M43.5 476.5h0M44 523.5h0M80 470.5h0M104 485h0M47.5 471.5h0M76.5 517h0M57.5 483.5h0M91.5 514.5h0M86 510.5h0M133.5 503.5h0M65 499.5h0M61.5 530h0M81.5 475.5h0M56 471.5h0M54 476h0M122.5 503.5h0M77 480.5h0M29.5 513h0M122.5 469h0M140.5 491h0M110 511h0M109 455.5h0M43.5 520.5h0M55 460.5h0M53 522h0M75 484.5h0M72.5 482h0M75 492.5h0M32.5 495h0M125 500.5h0M128.5 512.5h0M98 509h0M124 459.5h0M125 494.5h0M31 470h0M33.5 458h0M135.5 525h0M114 516.5h0M33 499.5h0M49.5 524h0M35.5 468.5h0M121.5 527h0M71 487h0M111 467.5h0M140.5 490.5h0M50.5 526.5h0M122.5 455.5h0M75 511.5h0M72 460h0M123.5 535h0M59 492h0M141 454.5h0M33 509.5h0M125 455h0M78.5 482.5h0M132 455.5h0M71.5 537h0M90 490h0M45 486h0M81 455.5h0M50.5 495h0M88.5 518.5h0M89.5 503.5h0M82.5 484h0M54 462.5h0M132 492h0M75 461.5h0M91 530h0M131.5 498.5h0M113.5 486.5h0M48.5 470h0M91.5 516.5h0M141 519.5h0M113 469.5h0M60.5 484h0M66 479h0M119 511.5h0M71.5 529.5h0M85 528h0M134.5 498h0M80 516h0M56 484h0M63.5 517.5h0M61 507h0M115.5 508h0M47.5 505.5h0M50 482h0M78.5 529.5h0M138.5 504h0M41 472h0M65 474.5h0M97 491.5h0M60 484h0M50.5 476h0M99.5 482.5h0M115.5 507.5h0M111 496.5h0M93.5 460.5h0M134 459h0M82 486.5h0M66.5 532.5h0M111 523h0M85 517h0M116 484.5h0M132 461h0M97 511h0M105.5 476.5h0M117 470h0M53.5 458.5h0M79 493.5h0M117 458h0M89 497h0M91.5 498.5h0M132.5 510h0M59 457.5h0M44 521.5h0M63.5 511h0M93 500.5h0M35.5 469.5h0M83 510.5h0M127 475.5h0M30.5 506.5h0M63 511.5h0M62 506.5h0M84 508.5h0M136.5 513.5h0M48.5 476h0M77.5 463.5h0M67 469.5h0M62 522.5h0M100 505h0M84 526h0M94.5 507.5h0M86 464.5h0M122 506.5h0M119.5 480h0M82.5 498.5h0M123.5 494.5h0M141 509.5h0M37 492.5h0M31.5 520.5h0M53 471.5h0M54 522h0M79 524h0M101.5 469h0M50 521h0M66 514.5h0M44.5 479h0M113.5 479.5h0M62 456h0M99 519h0M27.5 519.5h0M66.5 466.5h0M133.5 520.5h0M82.5 509.5h0M74.5 515.5h0M97.5 508h0M30 475h0M62.5 482h0M28 482.5h0M40.5 531h0M79.5 506h0M98.5 501.5h0M106 467h0M61.5 473.5h0M50.5 526.5h0M140 478.5h0M117 515.5h0M75 532.5h0M99.5 536h0M45.5 488h0M58 535.5h0M39 472.5h0M79.5 495.5h0M103 514.5h0M122.5 532h0M123 493h0M61 526.5h0M46 477h0M75 456.5h0M99 472h0M63 499.5h0M127.5 478h0M124.5 501h0M92 485.5h0M132.5 520.5h0M33 457.5h0M73.5 478h0M36.5 471.5h0M41 486.5h0M118.5 477.5h0M99.5 479.5h0M137.5 460.5h0M30 472h0M68.5 464h0M85.5 470h0M80 468h0M44.5 517.5h0M95 511h0M110.5 458h0M93 478.5h0M107.5 511.5h0M47 469h0M140 458h0M123 485.5h0M88.5 525.5h0M69.5 486h0M54.5 465h0M29.5 528h0M139.5 476h0M139.5 496h0M126.5 487.5h0M92.5 483h0M69.5 495h0M70.5 467.5h0M40 457h0M134.5 511.5h0M65 533.5h0M79 467h0M114 480h0M116.5 531.5h0M130 496.5h0M75 487.5h0M97.5 467h0M104 497.5h0M81 526.5h0M79 469h0M50.5 514.5h0M72.5 524.5h0M67 472h0M52 496h0M122 483h0M86 474h0M94.5 477h0M120 490h0M133 514.5h0M73 484h0M54.5 525h0M134.5 502h0M111 525h0M137 526.5h0M135 479h0M124.5 468.5h0M101 481.5h0M112.5 485.5h0M97.5 475.5h0M89.5 536h0M32 465h0M99 459h0M82.5 484.5h0M62.5 522.5h0M41.5 461.5h0M85 504h0M120 468.5h0M138.5 530h0M133.5 493h0M115 460.5h0M137.5 525h0M88 537.5h0M98.5 531.5h0M69.5 486.5h0M124 454.5h0M93.5 487h0M83 499.5h0M77 521h0M109 497.5h0M44 475h0M93.5 457h0M92 492h0M123.5 473.5h0M31.5 494.5h0M133 467h0M101.5 457.5h0M96 526.5h0M44.5 482h0M137 491.5h0M128.5 520h0M117.5 486h0M91 522.5h0M123 498h0M126 485h0M52.5 505.5h0M106.5 526.5h0M50.5 517.5h0M40 485.5h0M46.5 461.5h0M29.5 477h0M106 532h0M119 504h0M84 492.5h0M81.5 501.5h0M72 466h0M113 469h0M120 480h0M30.5 529.5h0M40.5 494h0M70 464h0M121.5 489.5h0M62.5 492.5h0M55 527h0M128.5 473.5h0M113.5 478h0M40.5 504.5h0M57.5 482h0M75.5 464h0M82 523h0M90.5 455h0M78 505.5h0M29.5 472.5h0M125.5 498h0M39 468h0M104.5 497.5h0M64 463.5h0M124.5 489h0M133.5 526h0M140 508.5h0M51 534h0M73.5 470.5h0M109.5 472h0M43 461.5h0M31.5 522h0M116 465.5h0M113 491h0M140.5 490.5h0M112.5 510h0M108.5 536.5h0M66.5 466.5h0M113 533h0M63.5 472h0M79 510.5h0M28.5 524.5h0M89.5 514h0M64.5 480.5h0M67.5 489.5h0M89.5 475h0M51 535h0M125.5 494h0M119.5 496.5h0M30.5 513h0M96 528.5h0M40 503.5h0M103 536.5h0M48.5 462.5h0M37 526h0M97.5 531h0M82.5 492.5h0M84 475.5h0M56.5 529h0M132 531.5h0M89 530h0M61 490h0M108.5 537.5h0M72 461h0M30.5 476.5h0M62 462h0M55.5 513h0M99 515h0M49.5 472.5h0M60.5 497h0M36.5 504.5h0M31 461.5h0M73.5 458.5h0M77.5 510.5h0M80.5 475h0M110 530.5h0M28.5 491.5h0M106 474.5h0M128.5 499.5h0M65.5 515h0M63.5 507h0M136 457h0M47 508.5h0M32.5 535h0M101.5 460.5h0M66.5 515h0M63.5 465h0M96 457.5h0M61 486h0M67.5 536.5h0M39.5 467.5h0M33 478h0M115.5 464.5h0M102 529.5h0M126.5 457.5h0M137.5 495h0M140.5 486.5h0M29 521h0M59.5 466h0M66 485h0M106 460h0M43 497h0M127 468.5h0M42.5 498h0M45.5 527h0M29.5 483.5h0M33 508h0M29 492h0M39.5 512.5h0M114 485.5h0M30 489h0M65.5 503h0M139 530h0M103.5 536.5h0M112 496h0M136 518h0M48.5 486h0M76.5 482h0M100.5 465h0M135.5 457.5h0M131 497.5h0M77 534.5h0M65.5 471.5h0M86 478h0M139.5 460h0M46.5 476h0M68 512h0M41.5 490.5h0M136.5 459h0M45.5 522h0M64 502.5h0M122 473.5h0M108 515h0M70.5 537h0M121 496h0M94.5 523h0M76 505h0M119.5 500.5h0M117 458.5h0M46.5 525.5h0M40 520h0M86.5 530h0M34.5 493h0M45.5 486h0M125.5 489h0M34 484h0M46 454.5h0M93 491.5h0M139 488.5h0M104 517.5h0M60.5 513.5h0M98 481.5h0M86.5 465h0M44.5 517.5h0M111.5 480.5h0M90 487h0M104 494.5h0M45.5 506h0M124.5 456.5h0M81 527h0M51 508.5h0M122.5 500h0M116 470h0M100 485h0M103 469h0M80 479.5h0M42.5 534h0M32.5 520h0M64 501.5h0M105 486h0M46 521h0M50 469.5h0M81.5 506h0M84 520.5h0M133.5 533.5h0M39 500h0M134 516.5h0M109 505.5h0M89.5 512h0M68 510.5h0M76.5 523h0M63.5 522h0M85 497.5h0M27.5 527h0M126 508.5h0M39 472.5h0M70.5 482h0M118 487.5h0M67.5 478h0M139.5 515.5h0M34 489h0M82.5 514.5h0M128 469h0M63 480.5h0M66.5 505.5h0M70 491.5h0M58 493h0M43.5 493.5h0M90.5 487.5h0M63.5 526.5h0M140.5 500.5h0M64.5 455.5h0M123 520h0M90 458h0M95.5 469h0M69 495.5h0M95.5 475.5h0M103 468h0M107.5 466.5h0M129 515.5h0M87 478h0M42 491.5h0M91 495.5h0M41.5 460.5h0M140 534h0M110 514h0M128.5 482h0M77 489.5h0M77 494.5h0M74.5 522.5h0M100.5 527.5h0M57 530.5h0M76.5 526h0M30.5 481h0M52 530h0M97 484h0M110 490.5h0M37 471.5h0M132.5 511h0M88 478h0M126.5 477h0M132 525.5h0M131 466.5h0M89 496.5h0M121 526.5h0M141 515.5h0M116.5 514.5h0M51 517h0M33 513.5h0M83 534h0M125.5 502.5h0M87.5 473.5h0M55 524h0M113.5 484.5h0M121 509.5h0M37 524.5h0M125 457.5h0M35 480.5h0M35.5 494h0M119 491h0M56.5 468.5h0M40 519.5h0M93.5 529.5h0M77.5 478h0M125 501.5h0M76.5 510h0M112 480h0M98.5 536h0M128.5 517h0M65.5 530.5h0M84.5 474.5h0M136 524h0M76 486.5h0M103 533.5h0M89 534.5h0M71.5 478h0M79 490h0M113 488.5h0M41 490h0M128 513.5h0M61 486.5h0M28 469h0M30 535.5h0M53 468.5h0M105.5 466h0M69 471.5h0M68 528h0M119.5 465h0M85.5 506h0M89.5 457.5h0M92.5 456.5h0M47 531.5h0M79 469.5h0M133 486h0M123 455h0M71.5 466h0M59.5 516h0M58 536h0M93.5 499h0M30.5 504h0M111.5 502.5h0M58 534h0M59.5 506.5h0M129.5 514h0M133.5 488h0M65 476.5h0M99 476.5h0M131.5 456h0M86 506.5h0M140.5 512h0M38.5 535.5h0M33 480.5h0M71 486.5h0M51 525h0M69.5 481.5h0M103.5 485h0M93.5 486.5h0M70.5 498h0M52.5 490.5h0M85.5 510.5h0M127.5 468h0M102 485.5h0M31 509h0M79 500.5h0M117 506.5h0M52.5 472h0M112 472h0M77 466h0M46.5 477.5h0M80.5 519h0M89 493h0M98.5 456.5h0M124.5 470.5h0M92 521.5h0M123 534.5h0M80 499.5h0M101.5 522.5h0M29.5 468h0M97 477h0M75 486.5h0M117 527.5h0M88.5 486.5h0M135.5 512h0M106.5 517.5h0M101 458.5h0M62.5 494h0M35 477.5h0M108.5 488.5h0M81 480.5h0M93.5 457h0M137 537h0M43.5 507.5h0M41.5 524h0M45.5 455h0M40.5 471h0M63.5 480.5h0M43.5 480h0M53.5 517.5h0M139 536h0M110.5 481.5h0M79 533.5h0M93 504.5h0M71.5 515h0M111.5 501.5h0M62 507.5h0M127 525h0M69.5 497h0M32.5 471.5h0M92 456.5h0M119 523.5h0M115.5 501h0M89 466h0M76 488h0M43 487h0M108 530.5h0M34.5 516.5h0M77 505.5h0M28.5 506.5h0M141.5 503.5h0M120 460h0M129 468.5h0M60.5 481.5h0M59.5 493.5h0M93 468.5h0M56 501h0M99.5 528.5h0M102 505h0M88 535.5h0M53.5 515h0M134 532.5h0M27.5 533h0M140.5 507h0M127 500.5h0M47 516.5h0M68 512h0M103 477.5h0M72.5 519h0M90 523h0M36.5 457.5h0M41 467h0M86.5 492.5h0M94 467h0M81 462h0M32 532h0M67.5 518.5h0M95 466h0M81.5 485.5h0M118.5 473.5h0M50 459.5h0M83.5 491h0M97 515h0M35.5 492.5h0M112.5 528h0M89 488h0M128.5 497h0M55 465.5h0M106.5 465.5h0M61.5 469h0M58 507.5h0M48 496.5h0M100.5 522h0M127 492h0M45 466.5h0M86.5 469.5h0M101.5 531h0M81.5 526.5h0M67.5 479.5h0M48.5 486h0M79 518.5h0M57.5 530h0M137 506.5h0M107.5 468.5h0M65 483.5h0M104.5 461.5h0M79.5 473h0M51 519h0M35.5 529.5h0M48.5 471h0M65.5 495.5h0M40.5 488.5h0M103 498h0M131 520h0M73 504h0M116 498.5h0M131.5 536.5h0M80.5 469.5h0M68 505.5h0M39 523.5h0M133 461h0M71.5 462h0M113 465.5h0M74 527h0M118.5 498h0M61 513.5h0M58.5 530h0M113.5 455h0M64.5 533h0M65.5 489.5h0M91 531.5h0M72.5 479.5h0M62.5 518h0M46 484.5h0M131.5 491.5h0M106.5 523.5h0M84.5 484.5h0M100 466h0M52 466.5h0M27.5 479.5h0M104 503h0M54.5 478h0M109 513h0M114 465h0M128.5 456h0M92.5 481.5h0M114 495.5h0M63 529h0M49 523.5h0M73 496.5h0M62 462h0M121 481h0M41.5 490.5h0M52 460h0M78 468.5h0M41 482h0M101 498.5h0M43 517h0M81.5 495h0M80 493.5h0M114.5 495h0M90 501.5h0M135 529h0M43.5 513h0M96 519.5h0M122.5 461.5h0M126 484.5h0M108 517.5h0M75 489.5h0M107 521.5h0M65.5 473.5h0M64 480h0M123 532.5h0M63.5 475.5h0M33.5 491h0M101.5 478h0M41 461h0M136.5 460h0M116.5 481.5h0M122 455.5h0M100 477h0M117.5 485.5h0M126.5 520h0M101 524h0M49.5 517.5h0M71.5 481.5h0M140 483.5h0M87.5 475h0M80.5 497h0M78 527h0M139.5 533.5h0M64 477.5h0M64 467h0M28.5 459.5h0M95.5 529.5h0M100 510h0M128.5 500h0M122.5 532h0M132 500.5h0M66.5 463.5h0M141 494.5h0M58 486h0M111 479.5h0M72 483h0M109 510.5h0M39 492.5h0M67.5 499.5h0M93 508h0M62.5 521h0M92.5 454.5h0M61 475.5h0M40 523.5h0M106.5 519.5h0M88 497.5h0M102 493.5h0M35 527.5h0M102.5 508h0M118 508.5h0M58 531h0M125 515.5h0M95.5 511.5h0M140 459.5h0M49.5 523h0M89 480.5h0M61.5 481h0M55 504.5h0M63.5 469.5h0M126.5 455.5h0M136.5 461.5h0M111 473h0M113 494.5h0M98.5 491.5h0M61 502h0M43 536.5h0M42.5 524.5h0M72 535h0M60.5 491h0M124 474h0M51 477h0M90 512.5h0M116 470h0M87 479h0M36 519h0M71.5 533h0M128.5 479.5h0M113.5 477h0M119 510.5h0M71 463.5h0M107 514.5h0M49 521.5h0M112.5 502.5h0M98.5 510h0M121.5 517.5h0M70.5 458h0M108 531h0M57 478.5h0M59 488h0M135 480h0M138 507h0M123.5 533.5h0M101 498.5h0M89 470h0M111 455.5h0M56.5 529h0M34 470h0M92 509.5h0M130 514.5h0M65 498.5h0M96.5 481h0M60 513h0M51.5 497h0M81 488.5h0M124.5 502.5h0M76 456.5h0M29 528h0M83.5 462.5h0M93.5 478h0M54.5 518.5h0M116.5 506h0M106 461.5h0M84.5 479h0M89 518.5h0M52.5 535h0M72 483.5h0M100.5 480h0M50 514.5h0M38.5 485h0M34.5 477.5h0M112 518.5h0M87 487h0M141 504h0M47.5 471h0M85 477h0M92.5 466h0M75 523h0M87 499.5h0M75.5 457h0M35.5 475.5h0M46.5 457.5h0M69.5 480.5h0M87 507h0M36 476.5h0M84 512h0M34 478.5h0M72.5 466h0M74 503h0M103.5 532h0M74.5 492.5h0M31.5 512h0M122.5 522h0M64.5 481.5h0M72.5 501h0M72 455.5h0M118.5 469.5h0M31.5 488h0M82 470.5h0M41.5 474h0M96.5 468.5h0M126 508h0M131 537h0M97.5 511.5h0M76.5 487.5h0M120.5 537h0M107 455.5h0M128.5 463h0M109 481h0M125 469h0M38.5 510.5h0M77 475h0M118 498.5h0M93.5 472h0M110 469.5h0M111.5 504.5h0M105 476h0M136.5 525.5h0M28 498.5h0M97.5 458h0M79 473h0M73.5 486.5h0M72 469h0M131.5 487.5h0M124 537.5h0M101 503h0M131 530h0M136 527.5h0M112.5 474h0M119.5 491.5h0M129.5 497h0M33.5 522.5h0M135.5 498h0M99 461h0M115 485h0M28 510.5h0M75 459h0M100.5 503.5h0M66.5 477.5h0M96.5 515h0M63.5 471h0M40.5 512h0M65.5 475h0M28 468h0M65 473.5h0M125.5 508h0M66 469.5h0M73 496h0M75 468.5h0M123 464h0M109 475.5h0M85 522h0M135 514.5h0M115.5 470h0M31 509h0M72 535.5h0M60 533.5h0M125 515h0M127.5 476h0M41.5 501h0M119 459h0M42.5 515h0M118.5 484h0M88 478h0M42.5 477h0M82 487.5h0M124 496h0M100.5 510.5h0M136 528h0M97.5 460h0M123.5 486.5h0M74 454.5h0M130.5 499h0M122 502h0M119 497.5h0M77 472h0M111.5 478.5h0M31.5 476h0M67 527.5h0M52.5 480.5h0M69.5 494.5h0M51 522h0M93 461.5h0M97 469.5h0M71.5 537.5h0M86 505.5h0M64.5 535.5h0M54.5 529.5h0M64 477.5h0M133.5 492h0M120.5 492h0M43 530.5h0M48.5 470.5h0M130.5 457h0M125 493.5h0M93.5 525h0M112.5 473h0M98 460h0M69.5 459.5h0M67 461.5h0M129 467h0M45.5 471h0M82 465.5h0M78.5 486.5h0M31.5 470.5h0M110 491h0M67.5 481h0M39 527.5h0M102.5 533.5h0M84.5 483.5h0M71 464.5h0M78.5 496.5h0M34 455h0M129 514.5h0M134.5 533.5h0M135.5 488.5h0M36 478h0M64 502.5h0M50 534h0M98 457h0M58 454.5h0M131 526h0M98.5 469.5h0M50.5 460h0M116.5 522.5h0M98 534h0M97 462.5h0M71.5 491.5h0M30 463.5h0M98 496h0M74.5 518.5h0M115 474h0M110 537.5h0M74.5 502.5h0M125 520.5h0M53 509.5h0M35.5 464.5h0M128.5 479h0M93 506h0M61.5 510h0M121 459.5h0M129 472.5h0M111.5 461.5h0M119.5 502.5h0M68 482h0M95 531h0M39.5 518h0M37 519h0M73 507.5h0M140 527h0M71.5 497.5h0M99 509.5h0M81.5 531.5h0M136 527h0" fill="none" stroke="#747494" stroke-width="1.9" stroke-linecap="round" opacity="0.5"/>
<path d="M82.5 504.5h0M70 467.5h0M84.5 494h0M87 509h0M71 498.5h0M30 492h0M53.5 526h0M99 517.5h0M112.5 458.5h0M110.5 520h0M140.5 537h0M29 516.5h0M133.5 534h0M131 502.5h0M136 462h0M106.5 514.5h0M48 458h0M86.5 466.5h0M119 492.5h0M97 506h0M107 510h0M86.5 480h0M118.5 537h0M135 469.5h0M106 507h0M124.5 529h0M115.5 493.5h0M81 533h0M66.5 496h0M36.5 487.5h0M28 475.5h0M40 537.5h0M129 510h0M115 530h0M97.5 464.5h0M44 466.5h0M35 515.5h0M140.5 504.5h0M132.5 501h0M78 464.5h0M74.5 503h0M53.5 536.5h0M39 498.5h0M70.5 490.5h0M63.5 472.5h0M128 487h0M83 530h0M66.5 508.5h0M71 498h0M49 483h0M65 536.5h0M58 518.5h0M30.5 530h0M75 489.5h0M78.5 458h0M88.5 457h0M66.5 511h0M51.5 535.5h0M124 459.5h0M111.5 497h0M74 476.5h0M121.5 502.5h0M121.5 527h0M67 536h0M101.5 530h0M101.5 456.5h0M71 499.5h0M87.5 455h0M67.5 518h0M86.5 523.5h0M89 488h0M140 497.5h0M90 481h0M86 457h0M95 506.5h0M114.5 499h0M70.5 530h0M98.5 477h0M58 480h0M48.5 512.5h0M68.5 479h0M85.5 495.5h0M110 472h0M133 536h0M79 493h0M87.5 471h0M92.5 495.5h0M65.5 534h0M104 469.5h0M53 528.5h0M118 475.5h0M91 502h0M78 515h0M70 513.5h0M28.5 487h0M113.5 464h0M105 507.5h0M57.5 488.5h0M110 537.5h0M141.5 482.5h0M109 528.5h0M107 466.5h0M128 474.5h0M66 506.5h0M44.5 519h0M134.5 506h0M63 535h0M123 485h0M87.5 460h0M82.5 463.5h0M141 512h0M109.5 465h0M46.5 475h0M66.5 478h0M85 475.5h0M112.5 492h0M122 496.5h0M118.5 533h0M93.5 470.5h0M81 482.5h0M91 533.5h0M92 510h0M125 497h0M31 471.5h0M79 490.5h0M112.5 492h0M39.5 477h0M94.5 487h0M28.5 506h0M99 497h0M106.5 514h0M117 532h0M102 523h0M65.5 494.5h0M99.5 484h0M47 515h0M97 467.5h0M141 458.5h0M102.5 485.5h0M93.5 501.5h0M73 536.5h0M101.5 468h0M80 487.5h0M27 508h0M27.5 460.5h0M49 491.5h0M43.5 467.5h0M83.5 470.5h0M48.5 521h0M98.5 506.5h0M106 477h0M52.5 467h0M97.5 460.5h0M128.5 461h0M75.5 533h0M30.5 458h0M123 457.5h0M30 534h0M110.5 532.5h0M120 498.5h0M118.5 474.5h0M30.5 480.5h0M73 501.5h0M54.5 457.5h0M112 512.5h0M47.5 475.5h0M50.5 478h0M90.5 477.5h0M114 521h0M34 507.5h0M83.5 518h0M125 460.5h0M28.5 509h0M30.5 463h0M81 510.5h0M110 498.5h0M103 514.5h0M46 484h0M78 507h0M140 491.5h0M57.5 461h0M106 481.5h0M113 521h0M129 493.5h0M128 491.5h0M74 496h0M117.5 525.5h0M136 491.5h0M67.5 478h0M95.5 497h0M46.5 494h0M63 525.5h0M28.5 473h0M125.5 495h0M115 513h0M61.5 512h0M103 485h0M54.5 469h0M132.5 491.5h0M109.5 492.5h0M123 457.5h0M39.5 500h0M35.5 511.5h0M97.5 496h0M102 456h0M73.5 493.5h0M56 497h0M30.5 505h0M89 461.5h0M63.5 460.5h0M113 526h0M39.5 526h0M83 469.5h0M42 514h0M126.5 466h0M120.5 512.5h0M91.5 507.5h0M98 510.5h0M55.5 463.5h0M62.5 477h0M44.5 459.5h0M62.5 524.5h0M104 471.5h0M87.5 484.5h0M122 529h0M35.5 463.5h0M118 515.5h0M49 458.5h0M87 492.5h0M85 459h0M37.5 467h0M127.5 502h0M116.5 485h0M131 508.5h0M105 528.5h0M83 532h0M95 485.5h0M66.5 471h0M73 536.5h0M34.5 511h0M70 460.5h0M132 474.5h0M99.5 501h0M127 472h0M102.5 519.5h0M121 533h0M65.5 517h0M90.5 464.5h0M135.5 506h0M47.5 519h0M41 508.5h0M129 476.5h0M105.5 513.5h0M76 523.5h0M118.5 460.5h0M91.5 535.5h0M58.5 520h0M101 487h0M42 505h0M59 534h0M96 536.5h0M54.5 479.5h0M81 528h0M132 497.5h0M89.5 494.5h0M113.5 504.5h0M105 496.5h0M47.5 482h0M55.5 466.5h0M139 511h0M113 494h0M130 502h0M50 523.5h0M107 476h0M36.5 537.5h0M84.5 456h0M93.5 476h0M59 509.5h0M32.5 489h0M39 522.5h0M79.5 500h0M55 471h0M75 467.5h0M120.5 471.5h0M107 515h0M78 464h0M40.5 523.5h0M139 458.5h0M136.5 490.5h0M38 492.5h0M123.5 497.5h0M30 502h0M133 536.5h0M105.5 464h0M130 468h0M99.5 535h0M55.5 474h0M77 471.5h0M114.5 505h0M59.5 525.5h0M112 463.5h0M62 521.5h0M28 507.5h0M42 533.5h0M112 536h0M67.5 479.5h0M97 505h0M33.5 486h0M59 468.5h0M63.5 481h0M47 474.5h0M135.5 489h0M115 535.5h0M81.5 498h0M124.5 460.5h0M112.5 511h0M64.5 464h0M116.5 458.5h0M103.5 462h0M87 458.5h0M101 455.5h0M94 464.5h0M57 498h0M86 511h0M109.5 535.5h0M103.5 512.5h0M35.5 510.5h0M64 509.5h0M108.5 513.5h0M62 533.5h0M126.5 460.5h0M31 476h0M64 533h0M56.5 519.5h0M66.5 492.5h0M140.5 498h0M120.5 510h0M127.5 503.5h0M95 529h0M136.5 513.5h0M116.5 462.5h0M118.5 512.5h0M136.5 505.5h0M110 462h0M129 460.5h0M103.5 537h0M70 494.5h0M131.5 461h0M106.5 474.5h0M137.5 498.5h0M124 486h0M42 472.5h0M108.5 458.5h0M68 517h0M88.5 514h0M56 522h0M84.5 486h0M32 486.5h0M104 465.5h0M101 501h0M27.5 462.5h0M78.5 484.5h0M114 474h0M115.5 511h0M101.5 467h0M115.5 507.5h0M59 513h0M53.5 466h0M127.5 498h0M85.5 467.5h0M79.5 534.5h0M60 513h0M116.5 482.5h0M87.5 490h0M55.5 513.5h0M38.5 504.5h0M35.5 518.5h0M51.5 534h0M99 492h0M28 464.5h0M87 481h0M135.5 495h0M141 474.5h0M93.5 508.5h0M106.5 481.5h0M133 462.5h0M63.5 512.5h0M56.5 483h0M72 495h0M74 481h0M60 472.5h0M89.5 456h0M62 486.5h0M54 469.5h0M84.5 468.5h0M62 494.5h0M116.5 517.5h0M28 531h0M116 483.5h0M76 500h0M48.5 510h0M121.5 514h0M137.5 490h0M54.5 529.5h0M36 534h0M75.5 534.5h0M124.5 508.5h0M38.5 527h0M81.5 498.5h0M119.5 456.5h0M66.5 465.5h0M63.5 457h0M83.5 484.5h0M110 504h0M133.5 474.5h0M130 530h0M121.5 522h0M28 469.5h0M140.5 521.5h0M126.5 533.5h0" fill="none" stroke="#4a4a66" stroke-width="1.3" stroke-linecap="round" opacity="0.5"/>
</g>
<rect x="27" y="451.5" width="114.5" height="3.5" fill="#d2d2d8" />
</g>
<g clip-path="url(#c7)">
<rect x="143.8" y="451.5" width="114.5" height="86.0" fill="#ccc7ca" />
<g filter="url(#bl03)">
<path d="M167.5 494h0M166.5 509h0M223 481h0M174 460.5h0M215.5 480.5h0M182 476h0M176.5 496.5h0M216.5 463h0M241 474h0M187 513h0M174.5 492.5h0M246 480.5h0M195 475h0M217 468h0M164.5 460h0M167 480h0M146.5 459h0M184 483h0M146.5 469h0M236 520.5h0M213.5 468h0M166.5 504.5h0M182 522h0M184.5 497.5h0M201.5 455.5h0M214.5 477.5h0M150.5 517h0M223 460h0M224.5 462.5h0M209 468h0M153 493h0M247.5 473h0M188 498.5h0M173.5 465h0M195.5 494h0M162.5 461.5h0M213.5 466h0M215 460.5h0M169 474h0M203.5 502.5h0M160 474.5h0M173.5 495h0M183 471.5h0M154.5 476.5h0M214 470.5h0M149 495.5h0M223.5 463.5h0M192.5 499.5h0M157 476.5h0M199.5 499.5h0M158.5 503h0M205 461h0M246 458.5h0M150.5 463h0M240.5 462h0M227 465h0M212.5 510.5h0M222 466.5h0M192.5 473.5h0M163 482h0M230.5 463h0M200.5 466h0M236 472.5h0M197.5 489h0M222.5 458h0M192.5 477h0M228.5 460.5h0M161 490.5h0M146.5 486.5h0M197.5 502h0M201 474.5h0M235 471.5h0M174 497.5h0M188 466.5h0M195.5 492.5h0M240 458.5h0M212.5 497h0M166 502.5h0M246.5 459.5h0M202.5 474.5h0M165.5 497h0M157.5 469.5h0M194.5 483h0M170 496h0M163 482.5h0M225.5 463.5h0M176.5 465h0M159.5 471h0M223.5 459.5h0M194.5 494.5h0M168.5 519h0M157.5 487.5h0M177.5 475.5h0M194.5 496.5h0M230 464.5h0M254.5 457.5h0M169 481h0M189.5 460h0M238.5 458h0M208 474.5h0M171.5 460h0M187.5 459.5h0M218 465h0M208 499.5h0M192 486h0M219.5 463h0M151 497h0M190 504h0M169.5 504h0M163.5 465h0M162 460h0M189.5 492h0M231.5 456h0M164 455.5h0M193.5 455.5h0M207.5 461.5h0M212.5 463.5h0M231.5 461h0M165 521.5h0M174 477.5h0M216.5 467.5h0M197.5 487.5h0M210 479.5h0M194.5 504.5h0M240 459h0M237 492h0M170.5 494h0M200 462h0M227.5 459.5h0M236 468h0M171.5 490h0M187 461h0M171 510.5h0M216 471h0M181 463h0M243.5 455.5h0M226.5 469.5h0M146.5 502.5h0M191.5 475.5h0M144 496h0M184 511.5h0M239 463h0M243.5 462.5h0M187 504h0M158.5 460.5h0M201.5 484.5h0M193.5 511h0M189.5 473.5h0M198.5 504.5h0M241.5 462.5h0M216.5 472.5h0M180 524h0M159 506.5h0M225.5 467h0M185.5 469.5h0M191 497.5h0M187.5 487h0M164.5 516.5h0M192 464h0M169.5 463.5h0M171.5 489.5h0M190.5 455h0M176 464.5h0M244.5 474.5h0M151 486h0M247 469.5h0M232 465.5h0M152 509.5h0M183 488h0M214 501h0M235 476.5h0M160.5 471h0M209 464.5h0M232 466.5h0M162.5 494h0M161 460.5h0M247.5 464.5h0M179 504h0M150 492.5h0M193 499.5h0M211.5 476h0M217.5 459.5h0M232 458h0M228.5 468.5h0M166.5 487.5h0M181 469h0M254.5 464h0M227.5 493.5h0M236 487h0M204 463.5h0M253 472h0M170.5 471.5h0M196 513.5h0M178.5 477.5h0M169.5 482h0M205.5 457.5h0M182 488.5h0M201.5 458.5h0M173 478h0M216.5 496.5h0M193 476h0M252.5 473h0M210 478.5h0M211.5 458.5h0M161.5 490.5h0M187 508.5h0M205.5 507h0M175 495.5h0M219.5 460.5h0M254.5 466.5h0M150.5 460h0M191.5 465h0M218.5 496h0M219 467.5h0M165 466h0M191.5 503h0M217.5 475h0M230 457h0M201 471h0M175 478.5h0M198 467.5h0M157.5 460.5h0M154 504.5h0M168.5 499h0M164.5 514h0M190 480.5h0M214 475.5h0M222 457.5h0M205 473h0M171.5 489.5h0M172.5 496h0M166.5 471.5h0M233 465.5h0M151.5 469.5h0M207.5 461h0M144.5 465.5h0M206.5 489h0M254 478.5h0M212.5 472.5h0M168.5 501h0M170.5 489h0M167.5 483.5h0M245 459.5h0M239 468h0M155.5 482h0M205.5 460.5h0M225 456.5h0M187.5 480h0M206.5 454.5h0M190 500.5h0M182 463h0M256.5 462.5h0M161.5 487h0M158.5 505h0M148 499.5h0M205 455.5h0M184.5 478.5h0M208 477.5h0M192 480h0M163.5 491h0M183 470h0M145 460h0M222 473.5h0M238 469.5h0M203.5 462.5h0M168 488h0M175.5 456h0M231.5 454.5h0M162.5 464h0M165 499.5h0M155.5 466h0M245 485h0M197 458.5h0M190 471h0M167.5 485.5h0M195 483h0M155.5 478.5h0M158.5 506.5h0M227 455h0M166 456h0M195.5 455h0M164.5 476.5h0M192 516h0M175.5 504.5h0M228 471.5h0M160 488h0M173.5 479.5h0M238 462.5h0M148.5 471h0M158.5 483.5h0M202.5 500.5h0M227 469h0M222.5 509.5h0M191 502h0M173 466.5h0M171.5 492.5h0M148.5 501.5h0M160 461h0M170.5 473.5h0M212 468.5h0M244.5 468h0M179 483.5h0M189 479h0M196.5 469.5h0M184 494h0M247.5 482h0M171 472h0M185.5 493.5h0M256 471h0M246.5 483h0M193.5 493h0M173 494.5h0M246 457.5h0M219 482h0M237.5 470h0M254 471h0M158 463.5h0M194.5 474h0M242.5 464.5h0M150 466h0M187 499h0M171 493h0M180 491.5h0M217 461h0M172.5 499h0M223.5 469h0M191 461h0M189.5 477.5h0M176 484h0M181.5 494h0M240.5 474.5h0M237.5 467h0M165.5 476.5h0M146 458h0M147.5 494h0M252.5 466h0M187.5 474h0M191 459.5h0M157.5 481h0M203.5 489.5h0M232 483h0M204.5 486h0M189.5 469.5h0M238 472h0M193 466.5h0M243 472.5h0M156.5 460.5h0M224 470.5h0M200 468h0M198.5 459.5h0M184 457.5h0M187.5 493h0M233 464.5h0M158 467.5h0M255 472h0M177 459.5h0M223.5 465h0M248.5 459.5h0M149.5 479h0M144.5 461.5h0M215 472h0M153.5 491.5h0M151.5 462h0M147 475.5h0M232.5 474.5h0M192.5 462.5h0M157.5 461h0M228 469.5h0M172.5 462h0M210.5 489.5h0M217 472h0M251.5 470.5h0M183.5 461.5h0M228.5 467.5h0M179 475.5h0M158.5 469h0M168 467h0M152 495h0M190 502.5h0M191 480.5h0M172.5 496.5h0M168 477.5h0M161 478h0M193 503.5h0M205 489h0M178 467.5h0M183 470h0M217.5 462.5h0M202 496h0M162.5 457.5h0M164.5 482.5h0M252.5 461h0M183 463h0M180.5 458.5h0M240.5 464.5h0M249.5 465.5h0M232.5 456.5h0M158.5 459.5h0M160.5 461h0M252 461.5h0M193 477.5h0M193 469.5h0M162 483.5h0M175 499h0M191.5 507h0M160.5 482.5h0M199 458h0M152 474.5h0M252.5 465.5h0M216 461h0M196.5 502h0M205.5 494.5h0M151.5 478.5h0M155 496.5h0M251 463.5h0M240.5 463h0M188.5 460h0M258 460h0M240.5 480.5h0M209 488.5h0M167.5 470h0M161 499h0M207.5 505.5h0M160.5 459h0M176.5 486h0M145 481h0M209 474.5h0M164 477h0M155.5 478h0M181 492.5h0M232 470h0M155 487h0M227 475h0M144.5 457.5h0M201 490.5h0M166.5 509h0M153 466h0M249.5 462h0M203.5 462.5h0M211 469h0M160 496h0M209 456.5h0M152 495h0M244.5 466.5h0M242.5 484h0M244.5 462h0M158 459h0M212 498h0M197.5 485h0M173 469h0M186.5 475.5h0M194 458h0M236 461.5h0M254.5 469.5h0M211 476h0M166.5 495h0M250 469h0M184.5 506h0M202 469h0M244 462h0M162.5 492.5h0M233.5 474.5h0M222.5 466.5h0M229 467h0M149.5 490.5h0M207.5 487h0M196.5 469.5h0M175.5 490h0M205.5 481h0M239.5 470.5h0M194 469h0M160.5 477.5h0M177 462.5h0M158.5 498.5h0M220 461.5h0M231.5 458.5h0M174.5 470h0M247 455.5h0M155.5 463h0M159 463h0M179 493.5h0M231 482.5h0M180 457h0M236 474h0M165 494h0M204 490h0M149 469.5h0M247 463.5h0M160.5 488h0M238 466.5h0M181.5 477.5h0M177.5 505.5h0M159 487.5h0M146.5 484.5h0M169.5 508.5h0M210 476h0M160 492h0M160 495h0M237.5 460h0M223.5 466h0M185.5 474h0M145 464.5h0M186 489.5h0M196.5 503.5h0M153.5 517.5h0M161.5 479.5h0M147.5 465.5h0M201 472h0M159 482h0M172 474h0M169 473h0M180.5 511.5h0M238 483h0M237 467h0M182.5 465h0M214 503.5h0M186 493h0M166 491h0M168.5 494.5h0M156 493.5h0M181 475h0M151 490h0M225.5 480h0M242 461.5h0M175.5 509.5h0M175.5 504.5h0M157.5 495h0M217.5 456.5h0M170 464.5h0M180 469.5h0M163.5 455h0M153 501.5h0M214.5 459.5h0M239 470.5h0M195.5 482.5h0M187.5 505.5h0M250 456h0M179 482.5h0M178.5 488.5h0M154.5 509.5h0M179 511.5h0M170 456h0M185 501.5h0M183 469.5h0M201 500.5h0M219.5 460h0M185 468h0M180.5 500.5h0M186.5 460.5h0M196.5 492.5h0M244 468h0M239 465.5h0M194 475h0M153 465h0M197.5 498.5h0M213 471.5h0M188 500.5h0M160 485.5h0M163.5 473h0M188 455.5h0M255.5 456h0M256 482h0M169 458.5h0M179.5 482h0M210.5 475.5h0M237.5 468.5h0M168 511.5h0M256 465.5h0M206 473.5h0M155 486.5h0M171.5 506.5h0M221.5 467h0M180 502h0M222.5 464h0M158 486h0M191.5 469h0M228 461.5h0M232 494h0M193.5 456.5h0M203 459h0M180.5 456.5h0M223 466.5h0M180.5 510h0M178.5 474.5h0M191.5 492h0M162.5 476.5h0M159 480.5h0M182 488h0M189 480.5h0M231 462.5h0M217 458.5h0M238.5 462h0M192 470h0M210 456h0M171.5 495h0M221 487h0M212 493.5h0M176.5 494h0M191.5 458.5h0M193.5 479.5h0M191.5 465h0M207.5 509h0M216 472.5h0M235 479.5h0M218.5 458.5h0M207 468.5h0M196 490h0M236.5 457h0M183 502h0M173.5 495h0M215.5 464h0M169.5 465.5h0M186.5 456.5h0M192 502h0M183 468.5h0M228.5 463h0M163 468h0M245.5 466h0M208.5 476h0M167.5 464h0M206.5 471h0M218 473.5h0M178 496h0M247 460h0M164 470.5h0M247.5 482.5h0M177.5 468h0M188.5 498h0M185.5 506h0M210.5 458h0M211 492.5h0M157 504.5h0M151.5 498.5h0M173 459.5h0M154.5 483h0M190 510.5h0M159 469.5h0M177.5 501h0M189.5 519h0M180 474.5h0M228.5 474h0M191 489h0M219.5 493.5h0M249.5 460h0M170 530.5h0M204 480.5h0M217 464.5h0M172.5 524h0M232.5 462.5h0M170 476h0M189.5 483.5h0M174.5 474h0M167.5 467.5h0M167.5 481.5h0M239.5 477.5h0M167.5 481.5h0M248.5 463h0M241 458h0M172 463.5h0M178.5 467.5h0M158.5 477.5h0M190.5 466h0M167 486h0M148.5 462h0M191.5 457.5h0M163.5 455h0M174 496.5h0M165 478h0M146 471h0M226.5 456h0M220.5 468h0M204.5 488h0M222.5 455.5h0M178 506.5h0M151.5 464.5h0M154.5 473h0M234 477.5h0M227 463.5h0M186.5 503.5h0M182 493.5h0M164.5 457h0M254.5 462.5h0M170 487h0M213 471h0M237 476.5h0M168 502h0M230 467h0M154.5 508.5h0M190.5 460h0M206.5 464h0M159.5 516h0M172.5 482.5h0M225.5 462.5h0M158.5 500.5h0M174.5 491h0M166 462h0M158 457.5h0M205 462h0M230.5 491.5h0M229.5 465h0M238 458.5h0M164.5 476h0M152.5 475.5h0M194 506h0M201 459.5h0M226 482h0M192.5 508.5h0M207 457.5h0M193.5 473.5h0M229.5 455h0M178.5 506.5h0M217 465h0M157 463.5h0M196 512h0M178 468.5h0M209 481h0M164.5 478h0M238.5 465h0M155.5 482.5h0M250.5 479h0M147.5 484h0M231 463h0M165 463.5h0M173.5 462h0M213.5 466h0M167 500h0M146 469h0M165 458.5h0M154 474.5h0M165 466h0M150 512h0M247 464h0M228 473.5h0M159 476h0M156 464h0M186 478.5h0M185 465.5h0M228 468h0M197 503.5h0M243.5 469h0M253 456.5h0M232 495.5h0M148.5 459h0M173 478.5h0M200.5 462.5h0M239 474h0M171.5 478.5h0M169 500.5h0M195 456h0M191 485.5h0M203.5 455.5h0M161 486h0M193.5 473.5h0M183.5 478h0M156 481.5h0M236 468h0M239.5 479h0M183 459.5h0M236 470h0M180 475h0M205 478.5h0M149.5 458.5h0M218.5 457.5h0M250.5 457h0M155 474.5h0M200.5 492h0M226.5 463.5h0M243 470h0M171 481.5h0M187 499h0M195.5 490.5h0M211 485h0M238 458h0M146.5 458.5h0M238.5 470.5h0M171 470h0M240 467h0M170 493.5h0M172 503.5h0M232.5 472.5h0M169 455.5h0M158 525h0M190 503h0M199.5 472h0M172 477h0M166.5 473.5h0M256 459h0M176 462h0M172 456.5h0M167 506h0M189.5 472.5h0M251 475h0M144.5 476.5h0M166 463.5h0M175 489h0M220 482h0M187.5 471.5h0M162.5 462h0M154.5 481.5h0M197 506.5h0M191 491.5h0M212 457.5h0M174 475h0M214.5 464.5h0M155.5 501.5h0M197 500.5h0M183.5 499h0M240.5 460h0M187.5 502h0M186 495h0M230.5 461h0M226.5 455.5h0M156 469.5h0M227.5 474.5h0M148 481.5h0M173 490.5h0M196 493h0M159 509h0M164 490.5h0M244.5 469h0M149 490.5h0M170.5 495h0M159 462.5h0M232.5 456.5h0M237 467.5h0M197 487h0M199.5 471h0M201 474h0M148.5 486h0M206 493.5h0M190.5 486.5h0M202.5 492.5h0M194 482h0M148 508h0M164 510.5h0M256.5 473.5h0M245 474.5h0M176 507.5h0M168 490h0M217.5 455.5h0M181.5 503.5h0M254 473.5h0M161.5 485h0M175 494h0M177.5 486.5h0M174 494.5h0M227 460.5h0M209 499.5h0M167 493.5h0M169.5 489h0M188.5 457.5h0M214 483.5h0M253 481.5h0M195 492h0M179 476h0M150 459h0M217 465h0M175.5 458h0M149 467h0M158.5 463h0M169.5 481.5h0M218.5 468.5h0M155.5 468.5h0M191.5 457.5h0M146 487.5h0M193 484h0M242.5 464.5h0M171.5 504h0M176 505h0M175 455.5h0M229 459h0M180 474.5h0M211.5 459.5h0M163.5 476.5h0M165.5 482.5h0M173 484h0M191 489h0M241.5 476h0M204 467h0M195.5 500.5h0M175 513h0M188.5 487h0M234 457.5h0M191 477.5h0M251.5 461.5h0M240 466h0M209.5 476.5h0M243.5 457.5h0M223.5 455.5h0M153.5 483h0M255.5 466h0M200.5 462h0M222.5 475.5h0M176 480h0M174.5 506h0M182.5 459.5h0M184 501.5h0M163 463.5h0M246 469h0M153.5 486.5h0M165.5 469.5h0M163.5 496h0M149.5 484h0M195 470h0M223.5 460h0M244.5 456h0M177 502.5h0M214.5 476.5h0M154 481.5h0M179 455h0M195.5 470.5h0M178 462h0M184 465h0M146.5 462.5h0M248 477h0M253.5 473.5h0M201.5 462h0M183 485h0M217.5 486.5h0M187.5 485h0M250 464.5h0M222 466.5h0M190 492h0M249 464.5h0M168.5 465.5h0M186.5 455.5h0M223 471h0M252.5 468.5h0M189 492.5h0M171.5 463h0M196.5 485.5h0M175 461h0M161.5 459.5h0M240 461h0M218.5 456.5h0M169 470h0M183.5 471.5h0M199 460h0M160.5 485h0M169 479.5h0M238 469h0M156.5 456.5h0M171 470.5h0M245 463.5h0M164.5 499h0M214 463.5h0M155 458.5h0M176 457.5h0M248 458.5h0M225.5 478h0M185 485.5h0M195 501h0M205.5 484h0M222.5 465h0M189 478.5h0M245.5 474.5h0M184.5 498.5h0M204 472.5h0M195.5 455.5h0M181 516.5h0M174 465.5h0M196.5 487h0M197.5 465.5h0M189 477h0M223.5 462.5h0M175.5 508.5h0M165 469h0M209 460h0M211.5 462.5h0M221 458h0M165 474h0M201.5 459h0M189 480h0M184.5 491h0M191.5 473.5h0M168 486.5h0M185.5 466.5h0M155.5 454.5h0M257 461.5h0M160 460h0M157.5 477h0M198 489h0M170.5 523.5h0M199.5 461.5h0M253 458h0M201.5 472.5h0M242.5 481h0M179 455h0M147.5 457h0M202 471h0M209 455h0M228 495.5h0M179.5 489.5h0M245 464h0M178 483.5h0M200.5 498h0M229 461h0M199.5 480h0M186 504.5h0M224.5 455.5h0M172.5 481.5h0M204 497.5h0M221 469h0M230 455h0M176.5 507.5h0M214 463h0M244 477.5h0M209.5 454.5h0M153.5 490.5h0M172.5 480.5h0M163.5 483.5h0M209.5 458h0M175 498h0M151 506.5h0M205 487h0M148 469h0M144.5 497.5h0M236 473h0M195.5 509.5h0M155 460h0M228 510h0M253.5 465.5h0M164.5 496h0M185.5 466h0M252 463h0M211.5 481h0M247 471h0M193 457h0M182.5 468.5h0M198.5 467.5h0M198 475h0M214.5 500.5h0M227 475h0M152.5 474.5h0M157 476h0M199 505h0M249.5 475.5h0M215 456.5h0M165.5 480h0M179.5 473h0M191 483h0M168 495h0M216.5 458.5h0M191.5 484h0M173.5 501h0M176 467.5h0M224 459.5h0M152.5 469.5h0M170.5 507.5h0M186.5 503h0M157.5 484.5h0M152.5 475h0M184.5 462h0M232.5 468h0M174.5 455h0M215.5 468h0M195 502h0M173 470.5h0M221.5 457h0M177 484h0M176.5 506.5h0M183.5 510.5h0M157.5 468.5h0M248 466h0M144 506.5h0M167 483.5h0M221.5 477h0M168 514.5h0M190.5 468h0M216.5 455h0M183.5 475.5h0M170.5 496.5h0M210.5 474h0M228.5 455h0M185 474.5h0M244.5 472.5h0M156 463.5h0M192.5 480h0M194 472.5h0M182 506.5h0M202 468.5h0M201.5 473.5h0M169.5 510.5h0M187.5 471.5h0M187 516.5h0M208 461h0M178.5 494.5h0M161.5 462.5h0M252 472.5h0M160.5 462h0M155 469h0M198 504h0M189 481h0M223.5 460h0M155 465.5h0M205.5 477h0M219 458.5h0M185 464h0M182.5 486h0M229 469.5h0M178 492h0M168.5 490.5h0M159.5 472.5h0M209.5 466.5h0M156.5 492.5h0M151.5 462h0M186 509h0M213.5 466.5h0M210.5 473h0M224 462h0M182.5 485h0M180 484h0M173.5 475.5h0M171.5 497.5h0M156 481h0M166 463h0M248.5 467.5h0M146.5 485h0M183 472.5h0M188 474h0M182 479h0M238.5 455.5h0M156.5 473.5h0M163.5 458h0M205.5 483.5h0M157.5 530.5h0M169.5 491.5h0M156 488h0M155.5 477h0M169 509.5h0M224 470.5h0M199.5 465.5h0M183.5 462h0M196 505h0M217.5 466.5h0M161 501.5h0M159.5 498h0M185 497.5h0M250.5 474.5h0M226 486h0M151 479.5h0M231 475h0M212 509.5h0M240.5 458.5h0M220 459h0M193 496.5h0M183.5 460.5h0M207 473.5h0M212 471h0M151.5 459.5h0M237 457h0M235.5 471h0M201.5 462h0M210.5 462h0M198 491h0M206.5 500.5h0M166.5 493h0M249.5 462h0M168 467.5h0M223 469.5h0M199 473.5h0M181.5 514.5h0M195 470.5h0M174.5 503h0M165.5 505.5h0M195.5 487h0M161.5 492h0M158 460.5h0M178 497h0M186.5 456.5h0M210 468h0M155 483h0M241.5 478.5h0M202 482h0M240.5 460.5h0M175 486.5h0M153 466h0M257.5 459h0M155 470.5h0M170.5 461h0M160 474h0M151.5 503h0M189.5 463h0M206 467.5h0M226.5 473h0M166.5 455h0M196.5 491.5h0M202.5 464.5h0M256 468.5h0M219.5 478.5h0M164.5 465.5h0M188.5 469h0M160.5 485h0M183 521.5h0M190.5 474h0M178 472.5h0M177 459h0M222 473h0M200.5 496h0M144.5 466.5h0M188 502h0M152 491.5h0M177.5 484.5h0M218.5 503.5h0M156 484h0M211 464.5h0M206.5 486.5h0M178 458.5h0M166.5 457h0M216.5 466h0M167 475h0M175.5 464.5h0M199 462h0M210 466h0M211 479h0M178.5 461h0M162.5 491.5h0M215 460h0M152 493.5h0M174 476.5h0M198 460h0M179 484h0M193 504.5h0M187.5 465.5h0M175 511.5h0M185 494.5h0M158 477h0M151.5 496h0M161.5 504.5h0M154.5 466.5h0M210 470h0M235 479h0M170.5 517h0M188 473.5h0M182 492.5h0M182.5 495h0M153 499h0M177 494h0M176 465.5h0M210.5 461h0M170 481.5h0M221 468h0M216.5 476.5h0M150.5 510h0M210 506h0M248 473h0M163 459.5h0M164.5 475.5h0M172.5 483h0M194 459h0M208 474.5h0M204.5 491.5h0M181 455.5h0M171 522h0M181 464.5h0M245.5 458.5h0M185 463h0M168.5 499h0M175 457.5h0M158 497h0M211 466h0M233.5 459.5h0M158.5 462h0M169 506h0M170 465.5h0M186.5 486.5h0M149 463.5h0M183 496.5h0M178.5 488h0M228 454.5h0M186.5 493h0M186 500h0M255.5 455.5h0M166.5 523.5h0M153.5 472.5h0M165.5 482.5h0M170.5 494.5h0M246 464h0M179 492h0M173 473.5h0M212.5 466.5h0M154 488h0M250.5 467.5h0M160.5 487.5h0M188.5 464.5h0M200.5 499.5h0M191.5 462h0M242.5 456h0M176.5 487h0M163.5 512h0M165.5 480h0M176 456h0M241.5 456.5h0M232.5 460.5h0M151.5 487h0M257.5 463h0M211.5 473.5h0M193 473.5h0M218.5 473.5h0M216 456h0M244.5 467h0M205.5 463h0M187.5 468h0M154 493.5h0M158.5 465.5h0M182.5 503h0M173.5 475h0M153.5 508.5h0M202.5 484h0M154 462h0M165.5 482h0M152.5 456.5h0M200.5 507.5h0M152 459.5h0M182.5 511h0M227 481h0M230 456.5h0M176 461.5h0M194 460h0M171 494h0M231 466.5h0M244 464h0M163 479.5h0M192 496h0M167.5 469.5h0M152.5 462h0M231 466h0M231 461.5h0M179 473.5h0M145 462h0M144.5 478h0M195 470.5h0M170.5 507.5h0M210 470h0M170.5 456h0M206 468h0M166 465.5h0M206 467.5h0M194.5 487.5h0M257.5 472h0M170 464.5h0M227.5 468h0M178.5 495h0M157 483.5h0M203.5 479h0M166.5 487.5h0M173.5 492h0M196 457h0M166 484.5h0M207.5 464h0M184.5 457.5h0M216 460h0M217.5 456h0M191 473h0M158 471.5h0M178 473h0M211.5 495.5h0M199 512h0M165 468.5h0M194 455h0M169.5 492.5h0M200 500.5h0M197.5 481h0M206 473h0M211.5 507h0M212 483.5h0M199 468.5h0M213.5 470h0M178 485.5h0M148 467.5h0M251.5 478h0M178 467.5h0M160.5 499.5h0M208 473h0M172.5 503h0M185 484h0M163.5 473h0M190.5 473.5h0M181 496h0M197.5 490.5h0M164 480h0M167.5 472h0M162.5 509h0M155.5 468.5h0M211 479.5h0M241.5 472h0M205.5 487.5h0M182 502.5h0M188 474h0M190 468h0M181 470.5h0M219 462h0M187 505h0M170 515.5h0M231.5 457h0M171 495h0M185 477.5h0M169.5 469.5h0M177 475h0M165.5 458.5h0M182.5 505h0M180.5 471.5h0M216.5 472.5h0M159.5 496h0M198.5 465.5h0M164.5 462.5h0M241.5 465h0M227 457.5h0M161 459.5h0M213 505.5h0M210.5 467h0M176 473.5h0" fill="none" stroke="#7c6458" stroke-width="1.9" stroke-linecap="round" opacity="0.52"/>
<path d="M219 465.5h0M203.5 507h0M173 501h0M147 505h0M254.5 496h0M216 459.5h0M149.5 529.5h0M257.5 532.5h0M228 519h0M230 471h0M207.5 513.5h0M227 477.5h0M155.5 506h0M181.5 511.5h0M225.5 512.5h0M219 510h0M165.5 533h0M149 492h0M252.5 517.5h0M176 526.5h0M220.5 496h0M158.5 507.5h0M156 506h0M206 516.5h0M207 492h0M174.5 475h0M153 518.5h0M245 529h0M240 526.5h0M224.5 472.5h0M167 480h0M175 515.5h0M183 499h0M191 525h0M235 536.5h0M222.5 510h0M210.5 495h0M186 481.5h0M218.5 537h0M176.5 490h0M171 463h0M155.5 515h0M171.5 504.5h0M172 461h0M158.5 470.5h0M208 473.5h0M202.5 503h0M239.5 520h0M245.5 530.5h0M229.5 491h0M199 529h0M231.5 504h0M198.5 460h0M178.5 523.5h0M208.5 531h0M208 497h0M194 482.5h0M230.5 501.5h0M245 511.5h0M173 514h0M155.5 488h0M219.5 499.5h0M218 529.5h0M174 492h0M166 526h0M180.5 471.5h0M204 493.5h0M148.5 473h0M182 504.5h0M182.5 501.5h0M155 454.5h0M158 524.5h0M228.5 488.5h0M214 518h0M161.5 469h0M242 485h0M166.5 532.5h0M199.5 483h0M232 484.5h0M253 505h0M256.5 494.5h0M219 516h0M254.5 485h0M227.5 537h0M204 493.5h0M230 488.5h0M240 474h0M220.5 518h0M215.5 466.5h0M188 532h0M166 518.5h0M249 471h0M233.5 471h0M208.5 505h0M201.5 509.5h0M188.5 467h0M160.5 507.5h0M219 474.5h0M235 484h0M188.5 472h0M185 462.5h0M176 467.5h0M155 497h0M195 456.5h0M147.5 495h0M149 506h0M250.5 476h0M160 536h0M165 533.5h0M245.5 510.5h0M234 487.5h0M242.5 499h0M157.5 486.5h0M243 506h0M230 489h0M237 460h0M229 460.5h0M156 496.5h0M216 521.5h0M254 521h0M232 481h0M225.5 460h0M208.5 501h0M245 455.5h0M236.5 535h0M209.5 490.5h0M197 503h0M208.5 495.5h0M175.5 537h0M223 513.5h0M178.5 470h0M192.5 494h0M218 533h0M211.5 474h0M149.5 524h0M256.5 491h0M170 531h0M146 528h0M171 462h0M193 460.5h0M176.5 519.5h0M227.5 455.5h0M232.5 486.5h0M240 530.5h0M242 460.5h0M253.5 534h0M156 467h0M247 531h0M196 531.5h0M204 475.5h0M155 502.5h0M235.5 524h0M179.5 533.5h0M233 514.5h0M171 487h0M248.5 467h0M237.5 533.5h0M230.5 525h0M241 459.5h0M230.5 501h0M156.5 493.5h0M244 506h0M252 470.5h0M188 510.5h0M188.5 519h0M172 480h0M166.5 473h0M213.5 507.5h0M225.5 535.5h0M171 465.5h0M248 521.5h0M237.5 481h0M197 507.5h0M231.5 468.5h0M248.5 465h0M234 530h0M240 479.5h0M208.5 513.5h0M217.5 495.5h0M190 484h0M199.5 456h0M144 502h0M182 503.5h0M255 482.5h0M212 523.5h0M150 471.5h0M252 496.5h0M182.5 466.5h0M235.5 509.5h0M189.5 477h0M222.5 456.5h0M251 515.5h0M237 498.5h0M243 517.5h0M251 503h0M203 466h0M235.5 500h0M227.5 520.5h0M157 520.5h0M201.5 533h0M160 527.5h0M190.5 474h0M232 534h0M206 534h0M147 505h0M196 512.5h0M233 525h0M212 463h0M159 528.5h0M254 470h0M180.5 521h0M215.5 526h0M248.5 457h0M248 509h0M202 456h0M231.5 454.5h0M221 488h0M243 469.5h0M182 522.5h0M174 537.5h0M207 499h0M207 526h0M216.5 512.5h0M155 482h0M255 479.5h0M233.5 537h0M196 519.5h0M210 536h0M240.5 507.5h0M153.5 498h0M191 465h0M257 477h0M147 463h0M168.5 528h0M191.5 535h0M207 477h0M158.5 472.5h0M163.5 473h0M169 511h0M183.5 505.5h0M251.5 482.5h0M215.5 491.5h0M162 525h0M215.5 470.5h0M246.5 462h0M144.5 502.5h0M196 496.5h0M246 505.5h0M214 520h0M215.5 511.5h0M153 477.5h0M212 506h0M256 481h0M192 501h0M146 501.5h0M187.5 511h0M196.5 495.5h0M213 480h0M202 492h0M182 466h0M244 513h0M189 458.5h0M159.5 501h0M237.5 527h0M160.5 527.5h0M171.5 484.5h0M255 504.5h0M152.5 491.5h0M249.5 492.5h0M220.5 509.5h0M256 526.5h0M220.5 536.5h0M221 491h0M197 509h0M252 533.5h0M232.5 504.5h0M210 509.5h0M234.5 468h0M197.5 521.5h0M171.5 531.5h0M144 529h0M200 454.5h0M189.5 531h0M195 514h0M258 467.5h0M211 528.5h0M148 519h0M210.5 523h0M227.5 532h0M190 470.5h0M241.5 522h0M235.5 476.5h0M223.5 488.5h0M151 480.5h0M244.5 488h0M145.5 484.5h0M219.5 471.5h0M151 527h0M222 488h0M158.5 466.5h0M220 482h0M211 517h0M194 504h0M234 456h0M223 537h0M247 497h0M223.5 485h0M255.5 494h0M199 501h0M221.5 492h0M154.5 515.5h0M246 535.5h0M227 482.5h0M153.5 531h0M204.5 519h0M160.5 470h0M177 496.5h0M219.5 473h0M258.5 534h0M217 512.5h0M153 464h0M210.5 520h0M176 531h0M224 521h0M163 531h0M201.5 497h0M256 513h0M153 536h0M233.5 514.5h0M258 515.5h0M187.5 458.5h0M218.5 516h0M241.5 522h0M164.5 486h0M244.5 487.5h0M185 524h0M147.5 454.5h0M221.5 478.5h0M236.5 492.5h0M185.5 536.5h0M207 532.5h0M166.5 537h0M250.5 519h0M184.5 532h0M250.5 483.5h0M186 525.5h0M237.5 502h0M222 474.5h0M256.5 471.5h0M249.5 518.5h0M197 517.5h0M247.5 495h0M200 489.5h0M245.5 531h0M149 527.5h0M236.5 487.5h0M227.5 503h0M188.5 481h0M236.5 455h0M234.5 485.5h0M246.5 493.5h0M253 493h0M160 523.5h0M249 502h0M231 532.5h0M212.5 505h0M152 513h0M186.5 533.5h0M176.5 464h0M226.5 467.5h0M232 527.5h0M145.5 483h0M209 533.5h0M152.5 488.5h0M236 523.5h0M179 524.5h0M161 470h0M153.5 457h0M152.5 519.5h0M185.5 517h0M219.5 522.5h0M208.5 477h0M249 500h0M182.5 477h0M153.5 466h0M217 487h0M163 521.5h0M243.5 506h0M210 490.5h0M238.5 506.5h0M217 516h0M215 512.5h0M182 532h0M194 510.5h0M171 489h0M213 481.5h0M235 533h0M244.5 465h0M154 528.5h0M241 467.5h0M149 454.5h0M258 505h0M243 533.5h0M191.5 536.5h0M186.5 514.5h0M177 533.5h0M258 506.5h0M249 489h0M224.5 535.5h0M219.5 521h0M235.5 483.5h0M185.5 523.5h0M222 514.5h0M195 465.5h0M158.5 474.5h0M154 495h0M236 503.5h0M239.5 460.5h0M226 470.5h0M215.5 489h0M237.5 462.5h0M234.5 508h0M146 525.5h0M212 486.5h0M164.5 534h0M167 528h0M204.5 510h0M253 485h0M180.5 482h0M256.5 464.5h0M179 455.5h0M216.5 533h0M238.5 532h0M162 530.5h0M221 518h0M244.5 504.5h0M230.5 465.5h0M243 498.5h0M235 531h0M195 474h0M162 470.5h0M250.5 469.5h0M256.5 520.5h0M180.5 528h0M227.5 482h0M144.5 509.5h0M243 518h0M204.5 456h0M222.5 457h0M250 518.5h0M213.5 513h0M242.5 461h0M207.5 462h0M231.5 521.5h0M258.5 522h0M248.5 509.5h0M230 522.5h0M169 529.5h0M224.5 516.5h0M148.5 526h0M249.5 520h0M235.5 536.5h0M216.5 497h0M215.5 470h0M205.5 500.5h0M198.5 518h0M246.5 492h0M236 534h0M234 465h0M215 508.5h0M199.5 531.5h0M253 519.5h0M209 492h0M160.5 491h0M220.5 524.5h0M224.5 533.5h0M157.5 463h0M150.5 455.5h0M176 494.5h0M225 532.5h0M182 469.5h0M186.5 491h0M203 511.5h0M172 463h0M216.5 493.5h0M172 501.5h0M252 504h0M227 462.5h0M201.5 524h0M176.5 481.5h0M252.5 514.5h0M206.5 483.5h0M193 519h0M173.5 523h0M212.5 530h0M248.5 490h0M196.5 529h0M247.5 530.5h0M252.5 489h0M236 460h0M251.5 472h0M231.5 525h0M186.5 531.5h0M221 531h0M200.5 507.5h0M147 497h0M188 529.5h0M235 472.5h0M232.5 490.5h0M218.5 531h0M225.5 505.5h0M178.5 535.5h0M157 471h0M193 478.5h0M239 504h0M168.5 526h0M146 532h0M216.5 531h0M199 472h0M256.5 466.5h0M198 519h0M185 537h0M179.5 536.5h0M258 510h0M168 455h0M227.5 518.5h0M230 483.5h0M159 492h0M235.5 501h0M230.5 529.5h0M217.5 522h0M168 483h0M238.5 504h0M255.5 459h0M157.5 527h0M243.5 498h0M165 527h0M257.5 481.5h0M235.5 457h0M203 461.5h0M183 460h0M191 458h0M199.5 534h0M144.5 509h0M173.5 531.5h0M185 524.5h0M254.5 485h0M251 463.5h0M245.5 464.5h0M234 512h0M242 521h0M160 454.5h0M211.5 465h0M224 488h0M196.5 525h0M144.5 507.5h0M186 520.5h0M196.5 520h0M243 469h0M203 515h0M189.5 536h0M242 483.5h0M254.5 495.5h0M179 454.5h0M196.5 509.5h0M249 485h0M237 481.5h0M154 480.5h0M214.5 460h0M212.5 465h0M243 460h0M182 516.5h0M165.5 507.5h0M151 477h0M166 491h0M205.5 501.5h0M182 486h0M214 461.5h0M246.5 536h0M193 504h0M194.5 495.5h0M208 488h0M189 518.5h0M169.5 463h0M147 517.5h0M166.5 455.5h0M205 502.5h0M172.5 523h0M241 536h0M211.5 477.5h0M162 467h0M199.5 533h0M207 525h0M231 531.5h0M167.5 491h0M156 457h0M219.5 481h0M188.5 510.5h0M210.5 533.5h0M240.5 502.5h0M212.5 517.5h0M202 522.5h0M180.5 496.5h0M181 506.5h0M241.5 497.5h0M148 499h0M240.5 523.5h0M197 467.5h0M250 529h0M147 482.5h0M217.5 479.5h0M216 529h0M229.5 523.5h0M247.5 510.5h0M247.5 511h0M217 524.5h0M215 469.5h0M258 469.5h0M256 523.5h0M237 529.5h0M187 515h0M251 460h0M156 467h0M177.5 527h0M236 477.5h0M209.5 457h0M249 458h0M156.5 529h0M175.5 509.5h0M239 495.5h0M158.5 524.5h0M209.5 473h0M198.5 516.5h0M245 509.5h0M170.5 460.5h0M237.5 492.5h0M205 518.5h0M201.5 512h0M184.5 457h0M239.5 483.5h0M153 537h0M204 492h0M229.5 463h0M226 500.5h0M204 503h0M148.5 527.5h0M161.5 455.5h0M203.5 484h0M251 501h0M211.5 464h0M215.5 486.5h0M178 483.5h0M180 464.5h0M190 511.5h0M250 481.5h0M155.5 515h0M184 537h0M239.5 494.5h0M181.5 519h0M251.5 500h0M230 510.5h0M249 483h0M242 532h0M155 475.5h0M146 471.5h0M211 509h0M162 514h0M253.5 506h0M244 521h0M213.5 490.5h0M222 527h0M218.5 498.5h0M248 510h0M200.5 497.5h0M235.5 500.5h0M193.5 487.5h0M254.5 536.5h0M241 459.5h0M217 498.5h0M222 484.5h0M256 513h0M197 467h0M146 457.5h0M213.5 520.5h0M234 524h0M193 509.5h0M156.5 462h0M160.5 461.5h0M220 485h0M228.5 480.5h0M220.5 513.5h0M197.5 466.5h0M206 512h0M220 522h0M224 537h0M208.5 523.5h0M196.5 503h0M209 487h0M148.5 460.5h0M219 473h0M219.5 486h0M231.5 532h0M214.5 479h0M233 536.5h0M175 523h0M144 462h0M206.5 509.5h0M251.5 472.5h0M248.5 462.5h0M202.5 470.5h0M148 480h0M209.5 495.5h0M248 514.5h0M170 458h0M241 521.5h0M161.5 481.5h0M239.5 511.5h0M184 478.5h0M226 474.5h0M165.5 472.5h0M253.5 495.5h0M182.5 476h0M233 533.5h0M238.5 489h0M195 509h0M206 511.5h0M169 494h0M224.5 482.5h0M201.5 511.5h0M242.5 507h0M192 473.5h0M205 483h0M219.5 530.5h0M149.5 481h0M238.5 508.5h0M243 495.5h0M226 511h0M257.5 463.5h0M229 468.5h0M242.5 484.5h0M217 496h0M225.5 522h0M236 459.5h0M199 513.5h0M258 516.5h0M215 508.5h0M212.5 455.5h0M168.5 518h0M147.5 501.5h0M207.5 465h0M231.5 504.5h0M178.5 536.5h0M211.5 536.5h0M214 510.5h0M210.5 531h0M182.5 488h0M172.5 460h0M248 536h0M156.5 501h0M167 487h0M171 466h0M196.5 467.5h0M253 492.5h0M216.5 505.5h0M251.5 501h0M183 527.5h0M205 515.5h0M168 457.5h0M194.5 529.5h0M153 460.5h0M216.5 530h0M145.5 478.5h0M146.5 505h0M246.5 499h0M237.5 519h0M209 482h0M251.5 517.5h0M166 527h0M176.5 517h0M183.5 532h0M221 494.5h0M208.5 499h0M251 477.5h0M229 493.5h0M234 512.5h0M166.5 497h0M173 456.5h0M193.5 484h0M207 531.5h0M149.5 467.5h0M147.5 502.5h0M174.5 498h0M156.5 495h0M232.5 483h0M202.5 492h0M226.5 527.5h0M173.5 530.5h0M173.5 468.5h0M234 495h0M145 512h0M248 504h0M236 460h0M241 503h0M179 478.5h0M229 517h0M184.5 524.5h0M237 505.5h0M182.5 460.5h0M236 536.5h0M240 499h0M159 511.5h0M256 473.5h0M183.5 479h0M184 526h0M254 496h0M236 521.5h0M223.5 527.5h0M177 518.5h0M245 456.5h0M198 518h0M220 534h0M228.5 526.5h0M178 475.5h0M158.5 533h0M212 519.5h0M235.5 515h0M246 505.5h0M145.5 467h0M199.5 513h0M147 506.5h0M236.5 514h0M155 526h0M147.5 473.5h0M216.5 521h0M174 515.5h0M250 480.5h0M196 518h0M158.5 475h0M247.5 521h0M198 465.5h0M240.5 489h0M204 501.5h0M176.5 476.5h0M254.5 515h0M238.5 533h0M229 497h0M187.5 504h0M163 470.5h0M201 501.5h0M144.5 497h0M209 458.5h0M239 518h0M175 474.5h0M158 474.5h0M206 463.5h0M199 517h0M240 460.5h0M144.5 506h0M175.5 533h0M199.5 511h0M167 458h0M205 496.5h0M167 528.5h0M221 480.5h0M196.5 518.5h0M245 458h0M219.5 492h0M145.5 471h0M221.5 498h0M169 535.5h0M233.5 529h0M186 471.5h0M183 487.5h0M170 530.5h0M159.5 535.5h0M188.5 474h0M233 492h0M255 524.5h0M224 487.5h0M145.5 478h0M183 476h0M201.5 490h0M246.5 458.5h0M186 490h0M249 471.5h0M223 457h0M246.5 497.5h0M178.5 471h0M169 494h0M214.5 471.5h0M175.5 477h0M234 511.5h0M150.5 526.5h0M218.5 458.5h0M158 505h0M217.5 537.5h0M246 511h0M223.5 469.5h0M212.5 456h0M183.5 499.5h0M149.5 532h0M178.5 489h0M155.5 521.5h0M227.5 492h0M206 478h0M242 521.5h0M166.5 485.5h0M172 480.5h0M218.5 470.5h0M196.5 470h0M218 503.5h0M257 468.5h0M220 499h0M221.5 499.5h0M174 479.5h0M148.5 490h0M216.5 518h0M151 501h0M172.5 525.5h0M193.5 481h0M240 474.5h0M227 486.5h0M232 479.5h0M224.5 470.5h0M148.5 495.5h0M249 514.5h0M243 520.5h0M220.5 519.5h0M180.5 475h0M257 503h0M230.5 532.5h0M218 508.5h0M196 494h0M252 525h0M255.5 502.5h0M247 489h0M246.5 483.5h0M196.5 476.5h0M169.5 500.5h0M146 457.5h0M147 509h0M233 511h0M158.5 491h0M230 528.5h0M147.5 478.5h0M219 500.5h0M252.5 532h0M225.5 526.5h0M153.5 463.5h0M237 456.5h0M246 522h0M179 535h0M224.5 493h0M258 530.5h0M193 509.5h0M193 528.5h0M176.5 508.5h0M190.5 527.5h0M198.5 477.5h0M241 533.5h0M237.5 482.5h0M206 484h0M203.5 461h0M235.5 482.5h0M177.5 476h0M238 531h0M226 530.5h0M146.5 493h0M199 513.5h0M210.5 496h0M224 503.5h0M226.5 478.5h0M181 479.5h0M256 492.5h0M219 473h0M221.5 471h0M248.5 527h0M237.5 510.5h0M226.5 525.5h0M190.5 509.5h0M226.5 499h0M257.5 474.5h0M223.5 492h0M167 504.5h0M225 532h0M236 523.5h0M226.5 479h0M235 499.5h0M157 497h0M170 510.5h0M215.5 505h0M250 463.5h0M247 500.5h0M229.5 498.5h0M221 484h0M220 484.5h0M206.5 464.5h0M252 535.5h0M184 465h0M203 508h0M236.5 522h0M183.5 535h0M170 501h0M215 499.5h0M189 529h0M145 519h0M225.5 495.5h0M176.5 480.5h0M198.5 506.5h0M159.5 492h0M153.5 477h0M165 494.5h0M173 514.5h0M175.5 462h0M153.5 503h0M147.5 485.5h0M172.5 496.5h0M236.5 514h0M165.5 499h0M150.5 502h0M145 534h0M238 467.5h0M235 469.5h0M189 518.5h0M189 480h0M194.5 533h0M178.5 526.5h0M201 497.5h0M153 517h0M203 484h0M159 522.5h0M173 487h0M257 523.5h0M210 523.5h0M219 522h0M191 513.5h0M147 493h0M229 472.5h0M214 490.5h0M229 485h0M151 531.5h0M159 500.5h0M165 495.5h0M168.5 530.5h0M172.5 534h0M243 507.5h0M246 514.5h0M196.5 520.5h0M154.5 487.5h0M161.5 528.5h0M195 510h0M146.5 473.5h0M243.5 506h0M230 524h0M238.5 518h0M210 482h0M241.5 487h0M234.5 521h0M251.5 509.5h0M170.5 467.5h0M219 504.5h0M187.5 532.5h0M176 501h0M256.5 470h0M177.5 491.5h0M182.5 460.5h0M222.5 492.5h0M156 475h0M166 503.5h0M168.5 512.5h0M154.5 493h0M202.5 497h0M231 533h0M206.5 536h0M187 505h0M253 530.5h0M232 512.5h0M158.5 531h0M254.5 495.5h0M155 494.5h0M193.5 529.5h0M239.5 486.5h0M213.5 480h0M217 529h0M222 516.5h0M153 506h0M147.5 526.5h0M248.5 464.5h0M190 534.5h0M250.5 503.5h0M250 516h0M167 471.5h0M151 460h0M162.5 489h0M178.5 531h0M225.5 523.5h0M222 510.5h0M148.5 458.5h0M250.5 492.5h0M232.5 480h0M167.5 465h0M233 491.5h0M241 524.5h0M250.5 491.5h0M227.5 521h0M214.5 480h0M190 488h0M198.5 511.5h0M166.5 504.5h0M257 512h0M237.5 500.5h0M231 536h0M190.5 492h0M168.5 515.5h0M199.5 516h0M172 524h0M166 533.5h0M229 518h0M205 465h0M158 457h0M149 504h0M170 526.5h0M247 476.5h0M144.5 506.5h0M255.5 522.5h0M192 465.5h0M216.5 484h0M227.5 481.5h0M148.5 501h0M193 477h0M173.5 520h0M238.5 516h0M239 533.5h0M254.5 505h0M200 517.5h0M223.5 514h0M255 467.5h0M242 480h0M144.5 535.5h0M154.5 486h0M149 495h0M229.5 536h0M245 474.5h0M251.5 463.5h0M217.5 528h0M209 508h0M208.5 500.5h0M204.5 485h0M216 519h0M159 476.5h0M199 488h0M176 461.5h0M214 458h0M153 470h0M239 501h0M242.5 492h0M228.5 489.5h0M235 458.5h0M144.5 520.5h0M203.5 512h0M158.5 490.5h0M248 479h0M255 485h0M213.5 502h0M224.5 491h0M144 476h0M153.5 469h0M155.5 456h0M200 489.5h0M199 528.5h0M223 501.5h0M162 537h0M195.5 527h0M242 482.5h0M231 528.5h0M158 536h0M209 528.5h0M204 512h0M241 467h0M182.5 497h0M235.5 481.5h0M252.5 531.5h0M221.5 477h0M224.5 499h0M192.5 516h0M152 486h0M256.5 469h0M254 529h0M243.5 528h0M232 479.5h0M180 507.5h0M179 532h0M227.5 476.5h0M166.5 461.5h0M157.5 516.5h0M226 470h0M240.5 512.5h0M193 488.5h0M193 509h0M233.5 501.5h0M230 501.5h0M193 462h0M169.5 490h0M231 478.5h0M245.5 495.5h0M154 484h0M228.5 514.5h0M208 488h0M165.5 535h0M178.5 528.5h0M226 474.5h0M220.5 511h0M211.5 489h0M214.5 494.5h0M216.5 472.5h0M190 525.5h0M258 510h0M250.5 488h0M231 514h0M243.5 455.5h0M178 528h0M208 506h0M174.5 482.5h0M246.5 465.5h0M154 535.5h0M220 503h0M237.5 454.5h0M148 476h0M230 515h0M184 514.5h0M250 479.5h0M256 486h0M249.5 525h0M210.5 528h0M229 526.5h0M152.5 501.5h0M249.5 489.5h0M204.5 504.5h0M245.5 514h0M252 498.5h0M161 508h0M150.5 537.5h0M156.5 499.5h0M212.5 492h0M221.5 464h0M165 527h0M247 515.5h0M246 461.5h0M209.5 522.5h0M255.5 492.5h0M229.5 494h0M155 484h0M234.5 511h0M151 535h0M194 529.5h0M150 494h0M226.5 476h0M152.5 531.5h0M219.5 507.5h0M189 491h0M153.5 494.5h0M208.5 509.5h0M230 494h0M146 499h0M216.5 483.5h0M242.5 506.5h0M211.5 456.5h0M158.5 464.5h0M166 502.5h0M252 518h0M199.5 482h0M203 514h0M154.5 511.5h0M184 537.5h0M206.5 486h0M226 454.5h0M183.5 515.5h0M148 506h0M172 532.5h0M226 531h0M158.5 491.5h0M156.5 458.5h0M160.5 475h0M215.5 459h0M251 472h0M225 475h0M253 487.5h0M202 532.5h0M234 492h0M175.5 514h0M180 510h0M152 469h0M146.5 532.5h0M219.5 484.5h0M145.5 500h0M253.5 467.5h0M221 502h0M180.5 465.5h0M200 534.5h0M235 513.5h0M216.5 472.5h0M221.5 504.5h0M147.5 457h0M153.5 521h0M191 530h0M212 456.5h0M169.5 496h0M220.5 497h0M227.5 524h0M240 502.5h0M249.5 534.5h0M194 534h0M222 486.5h0M186.5 517.5h0M202.5 480.5h0M188.5 471.5h0M214 476.5h0M241.5 535h0M187 496h0M182 464h0M225.5 464.5h0M177.5 470.5h0M199 495h0M258 495h0M249 525.5h0M197 515.5h0M252 521h0M166.5 507.5h0M223.5 527h0M253 521h0M158.5 487.5h0M240.5 495h0M204.5 465h0M224 521h0M222.5 534.5h0M152 524h0M253 486.5h0M205.5 530h0M230 517.5h0M181.5 517.5h0M207 512h0M189.5 530h0M218 490h0M236.5 525.5h0M164.5 469.5h0M187 456.5h0M201 516h0M236.5 496h0M200.5 497h0M219 488.5h0M232 523.5h0M216 531.5h0M252.5 502h0M225 491.5h0M154 524h0M211.5 522.5h0M183 458.5h0M257.5 502h0M214.5 512.5h0M248 463h0M242 515h0M172.5 513h0M157 523h0M171.5 475.5h0M169 516.5h0M239 536h0M198 528.5h0M251.5 510h0M146.5 470h0M222.5 520.5h0M176.5 469.5h0M223 479.5h0M174 511h0M235 485.5h0M153.5 462.5h0M163.5 470.5h0M220 516.5h0M246 511.5h0M161 473.5h0M236 498.5h0M211.5 472.5h0M241.5 518h0M205.5 457.5h0M242.5 455.5h0M148.5 514h0M150 496h0M254 471.5h0M250.5 468.5h0M249.5 533h0M233 457h0M216.5 464h0M233 485h0M178 515.5h0M162 510h0M240.5 496.5h0M169.5 481.5h0M217.5 536h0M177 493h0M144.5 478h0M144 514h0M222 508.5h0M177 521.5h0M197 484.5h0M201.5 532.5h0M222.5 535.5h0M235 532.5h0M237 534.5h0M197.5 489.5h0M249 526.5h0M194 508h0M239 463.5h0M164 529.5h0M243.5 506.5h0M178 537.5h0M155 460.5h0M239.5 479.5h0M160.5 501h0M256 458.5h0M214.5 473h0M238 466.5h0M159 502.5h0M179.5 467h0M196 498.5h0M205 498.5h0M243 518.5h0M178.5 467.5h0M255 501.5h0M227 476.5h0M196.5 487h0M199.5 508.5h0M198 456.5h0M248.5 511.5h0M156.5 477h0M210.5 478h0M235.5 499h0M184 501.5h0M233 493.5h0M245.5 458.5h0M233.5 455h0M148 500h0M182.5 534h0M232.5 535h0M217.5 532h0M237 496.5h0M210 467h0M148 512h0M252.5 524h0M218 531.5h0M182 484h0M256 489h0M242 503h0M200.5 467h0M188 515h0M166 512h0M150.5 531h0M247 500h0M155 485.5h0M214.5 473h0M225 456.5h0M205 459.5h0M199.5 494.5h0M195.5 461.5h0M241 492h0M228.5 491h0M242 484.5h0M223 527h0M180.5 506h0M239 517.5h0M199.5 525h0M171.5 534h0M189 488.5h0M202 530h0M178.5 510h0M258 458h0M229.5 470.5h0M145 493.5h0M226.5 529h0M180 528h0M257.5 499.5h0M252.5 477h0M247 504h0M245.5 522.5h0M235.5 505h0M201 487h0M252.5 501h0M200 516.5h0M190 526.5h0M182.5 468.5h0M145.5 490.5h0M206.5 465h0M144.5 469h0M233 487h0M223.5 529h0M253.5 463h0M165.5 534h0M168.5 497h0M241 492h0M187.5 478.5h0M241 505h0M160 504h0M144.5 483h0M233.5 498.5h0M190 495h0M196 534h0M165.5 499.5h0M227.5 508h0M236 527.5h0M243 532h0M160 463.5h0M216.5 476.5h0M176.5 485.5h0M255.5 527.5h0M162 500h0M239.5 533h0M226.5 522.5h0M182 520.5h0M192.5 466.5h0M153 491.5h0M241.5 485h0M218.5 507.5h0M159.5 478h0M200 504h0M224 514.5h0M185.5 455h0M158 530.5h0M196 475h0M145 511h0M248 488.5h0M257.5 491h0M225.5 486.5h0M149.5 456.5h0M189.5 513.5h0M214.5 479h0M198 491h0M151.5 525h0M240 460h0M211.5 520h0M232.5 492h0M150.5 482h0M200.5 500.5h0M166.5 536h0M258 457h0M197 525.5h0M171.5 458.5h0M233.5 500.5h0M184 531.5h0M163 475.5h0M250.5 489h0M233.5 489h0M217 492.5h0M237.5 537h0M198 515.5h0M249.5 494.5h0M145 510.5h0M167.5 460h0M246 473h0M191.5 491.5h0M150 513h0M155 464h0M217.5 528h0M179 528h0M178.5 458.5h0M147.5 487h0M237.5 491h0M168 502h0M231 496h0M191 527h0M218.5 535h0M149.5 494h0M203.5 475h0M167 530h0M197 484.5h0M221.5 454.5h0M205.5 464.5h0M242 527.5h0M188 461h0M231 485h0M165 459h0M221 506h0M217.5 502.5h0M169 456h0M194 455h0M178.5 531.5h0M244 509.5h0M201.5 511.5h0M171.5 528.5h0M175.5 462.5h0M202.5 503.5h0M238.5 511.5h0M169.5 491h0M247 521h0M203.5 491h0M230.5 510.5h0M233.5 467.5h0M193 456.5h0M145.5 466.5h0M236 467h0M241.5 496h0M157.5 480h0M243.5 532h0M202 487.5h0M177.5 522.5h0M244 492h0M242 454.5h0M195 497h0M228.5 510.5h0M252 475.5h0M245.5 536h0M195.5 530h0M150 463h0M237 489h0M222.5 503.5h0M258 477.5h0M206.5 528.5h0M162.5 507.5h0M233.5 492h0M244 524.5h0M184 479.5h0M145 463.5h0M247.5 460h0M196.5 520h0M231.5 492.5h0M193.5 484.5h0M220.5 501.5h0M172.5 490h0M255 537.5h0M229.5 494.5h0M248.5 529h0M198.5 504.5h0M239 471h0M243 486h0M161 486.5h0M255.5 522.5h0M233 471h0M146.5 470.5h0M251 502h0M224.5 499h0M258 481.5h0M235.5 518h0M198.5 536h0M147.5 478.5h0M254 473h0M206.5 478.5h0M222 486h0M145.5 497h0M250 497.5h0M154 486h0M147.5 476h0M205.5 476h0M155 537h0M145 473.5h0M253.5 457h0M207.5 502.5h0M254 462h0M253.5 522.5h0M238 492.5h0M241.5 502.5h0M170.5 536.5h0M241 459.5h0M236.5 515h0M218 505.5h0M153 492h0M187 532h0M251.5 455.5h0M221 485h0M177.5 476h0M188.5 514h0M210 456h0M192.5 535.5h0M214 533h0M218 517h0M213.5 526.5h0M253 476h0M215.5 513h0M168.5 536h0M216.5 527h0M180.5 519h0M181 458.5h0M209.5 492h0M216 493h0M164.5 511h0M192 527.5h0M159.5 511.5h0M148.5 484h0M184.5 531h0M190 479h0M232 529h0M256.5 511h0M184.5 505.5h0M155 457h0M144.5 479h0M253 535h0M227 468h0M171 470h0M227 511.5h0M212 512h0M168 536.5h0M232.5 515h0M172.5 463h0M156 461.5h0M145 534h0M244.5 486.5h0M152 467.5h0M232 472.5h0M170.5 487h0M213.5 520h0M210 487.5h0M224 524.5h0M186.5 532.5h0M179 512.5h0M156.5 526.5h0M190.5 537h0M168 500h0M244.5 469.5h0M153.5 472.5h0M247 500.5h0M167.5 513h0M240.5 500.5h0M166 534h0M177.5 467.5h0M241.5 501h0M191 508h0M186 521h0M185.5 454.5h0M235 524h0M242 486h0M147.5 501.5h0M199 475h0M235.5 500.5h0M206.5 468h0M153.5 518.5h0M220.5 495.5h0M252.5 489.5h0M190 483.5h0M235.5 459h0M231 480.5h0M235 463h0M163 486.5h0M223.5 514h0M190.5 469.5h0M179.5 530h0M252.5 509.5h0M189.5 455h0M218 477h0M235 505.5h0M229.5 471h0M156.5 455.5h0M232.5 530h0M148.5 530.5h0M212 514h0M215.5 499.5h0M200.5 468.5h0M211 508h0M186.5 525.5h0M183 479h0M217.5 470.5h0M238.5 456h0M205.5 522h0M227 530h0M242 518.5h0M257 485.5h0M223.5 520.5h0M230.5 520h0M183 485h0M151.5 536.5h0M176.5 465h0M233.5 484h0M206.5 529.5h0M223.5 522.5h0M201.5 503.5h0M225 512h0M232 529h0M256.5 509.5h0M166.5 475h0M237.5 478.5h0M218 485h0M230.5 529.5h0M248 511.5h0M242.5 466h0M249.5 470h0M211 474.5h0M216.5 519h0M156 459.5h0M187.5 521.5h0M238 504h0M232 475.5h0M183.5 523h0M223 506h0M154.5 535.5h0M234 488.5h0M239 496h0M249.5 477h0M219.5 536.5h0M225.5 463h0M156.5 475.5h0M208 514.5h0M247.5 494h0M181 522h0M204 493.5h0M174 468h0M234 495.5h0M174 469.5h0M144.5 488.5h0M165.5 527.5h0M214 526h0M150.5 487.5h0M165 511.5h0M170 488.5h0M257 477.5h0M147 460h0M218 506h0M251.5 509h0M166 514.5h0M252.5 528h0M187.5 505.5h0M220.5 499h0M155.5 505.5h0M170.5 492h0M189.5 518h0M239 517.5h0M221.5 508h0M202.5 458h0M238.5 476.5h0M176.5 534h0M239 499.5h0M249 534.5h0M144.5 505h0M181.5 477h0M220.5 463.5h0M258.5 534.5h0M230 484h0M186.5 474.5h0M144 535.5h0M179 533.5h0M234 458.5h0M257 516.5h0M248.5 457.5h0M212.5 463h0M153 467h0M224 495h0M225 503h0M239 520h0M173.5 503h0M258 455.5h0M218.5 527.5h0M145 498.5h0M204 456h0M248 525h0M180 527.5h0M191.5 519.5h0M205.5 506h0M255 515.5h0M213.5 515.5h0M249.5 497.5h0M242 518.5h0M256.5 528h0M165 455h0M208.5 487h0M184 459.5h0M227.5 466h0M213.5 506.5h0M201 458.5h0M198.5 501.5h0M238 482h0M235.5 490h0M182.5 476.5h0M169 502h0M144.5 495h0M146.5 457.5h0M192 469h0M232.5 531.5h0M203 512h0M178 529h0M177 469.5h0M236.5 458.5h0M192 492h0M183.5 459.5h0M184.5 517h0M224 457.5h0M222 488.5h0M169.5 464h0M234.5 463h0M148 488h0M159.5 536h0M253.5 515h0M180.5 495.5h0M155 492h0M184 509.5h0M257 469.5h0M182.5 460h0M226.5 497h0M218 499.5h0M214.5 529.5h0M238 524h0M225 532.5h0M257.5 528h0M254 481.5h0M227 513.5h0M164 496h0M154.5 497h0M257.5 505h0M165 464.5h0M231.5 531h0M153 471.5h0M144.5 499h0M159 471.5h0M175 456h0M178.5 526.5h0M238 483h0M162.5 522h0M203 490.5h0M144 507h0M162 498h0M239.5 500h0M234 504.5h0M210 531.5h0M234 488.5h0M205 508.5h0M169 505h0M145.5 521h0M206 495h0M247 478.5h0M213 509.5h0M255 477.5h0M209.5 531.5h0M212.5 492.5h0M152.5 460h0M169.5 517h0M209.5 458h0M183 508.5h0M146.5 514h0M201.5 467h0M222 505.5h0M208 533h0M217.5 522h0M231.5 464.5h0M225 534.5h0M181 463h0M186 530h0M233 511.5h0M184 499.5h0M242 529.5h0M231.5 480.5h0M193.5 509h0M145 503.5h0M227.5 526.5h0M238.5 506.5h0M206.5 488h0M190.5 531h0M240 507h0M241.5 467.5h0M201 481.5h0M246 493.5h0M150 525h0M160 515h0M215 499h0M233 500.5h0M158.5 459h0M255.5 465.5h0M211.5 463h0M203 537h0M235 499h0M206.5 516.5h0M191.5 456.5h0M212 495.5h0M236 457.5h0M218 490h0M152 506h0M163 524.5h0M249.5 490.5h0M146.5 462.5h0M234.5 484.5h0M212 476.5h0M230.5 460h0M228 460h0M238 456.5h0M229 481h0M220.5 465h0M254 536.5h0M235.5 473.5h0M214 535.5h0M240 490h0M252 471h0M156 532.5h0M176.5 527h0M226.5 496h0M247 455.5h0M183 517.5h0M166 536.5h0M214 485h0M250.5 521.5h0M212 531h0M241.5 526.5h0M229 458.5h0M182 503h0M172 491h0M258 483.5h0M171 461.5h0M151.5 507.5h0M172.5 466h0M258 492h0M232.5 517h0M164.5 477.5h0M239.5 485h0M235 472.5h0M217.5 476.5h0M201 484.5h0M171 536.5h0M201 523h0M184.5 492h0M242 511h0M227 512h0M163 460h0M255.5 488.5h0M208.5 475h0M186.5 467h0M250 520h0M219.5 536h0M196.5 459.5h0M156 473h0M219.5 533h0M157.5 507.5h0M184 537.5h0M212 535.5h0M240 522.5h0M235.5 508h0M214.5 529.5h0M208.5 536h0M230.5 481.5h0M180 534.5h0M213.5 492.5h0M189.5 491.5h0M222.5 536.5h0M167 508h0M192 505.5h0M235 507.5h0M251 464h0M243 512.5h0M226 526.5h0M214.5 521h0M174.5 500h0M179.5 533.5h0M202 535h0M227.5 475.5h0M165 471h0M240.5 490.5h0M245.5 508h0M199 503h0M233 522h0M169.5 509.5h0M200 520h0M243.5 477h0M227 475h0M207 490.5h0M181.5 506.5h0M252.5 454.5h0M253 488.5h0M184 460h0M211 474.5h0M202.5 468.5h0M252.5 505.5h0M238.5 511h0M152.5 484h0M185.5 461h0M205.5 511.5h0M209.5 456.5h0M237 481h0M145 518h0M231.5 465h0M241 517.5h0M151.5 459.5h0M228 537h0M233.5 512.5h0M196 476h0M171.5 491h0M177.5 485h0M153 456h0M165.5 477.5h0M209.5 512h0M186 533.5h0M192.5 512.5h0M231.5 501.5h0M181 463h0M245.5 486.5h0M207 533.5h0M233 535.5h0M215 497.5h0M240.5 526.5h0M238 478h0M153.5 513h0M207 508h0M156.5 463h0M254.5 455h0M200.5 509h0M224 479h0M210 480.5h0M192.5 524.5h0M223.5 534.5h0M153.5 485h0M181.5 486.5h0M249 475h0M168 518h0M174.5 485h0M250.5 523.5h0M191.5 509h0M232 510.5h0M184 491.5h0M169.5 519h0M166.5 533h0M196 530h0M216.5 484.5h0M235.5 512.5h0M244 494h0M186.5 504h0M158 469h0M170 456.5h0M202.5 521h0M247.5 527.5h0M221 521h0M208 488h0M225.5 457h0M205.5 495.5h0M172 460h0M157.5 494h0M164.5 513.5h0M165 476h0M150.5 462h0M229.5 482.5h0M200 503h0M242 511.5h0M207 484h0M202 459h0M244.5 531h0M162 460.5h0M197 463.5h0M160.5 505h0M254 503h0M189 480h0M250.5 473.5h0M175 506.5h0M240.5 512h0M174 488.5h0M222 482h0M232.5 513h0M249 525h0M256 503.5h0M174 498h0M214.5 478.5h0M184.5 456.5h0M167.5 507.5h0M193 537h0M174.5 494h0M152.5 479.5h0M185 456.5h0M157.5 479.5h0M223.5 493.5h0M168 530h0M200.5 479h0M235 502h0M235.5 537.5h0M153.5 475h0M231.5 495.5h0M171.5 520h0M152 479.5h0M206 511h0M186.5 530h0M175 535.5h0M145 521h0M209.5 508h0M156.5 471h0M243 485.5h0M220.5 536h0M209 457h0M188.5 459h0M145 521h0M242.5 536.5h0M219 468h0M159.5 498h0M176.5 465h0M222 503.5h0M215.5 471h0M216.5 464h0M225.5 485h0M151.5 498.5h0M163 465.5h0M176.5 499.5h0M159 493h0M178.5 523.5h0M184.5 455h0M206 455.5h0M154 487.5h0M209.5 496.5h0M152.5 522.5h0M173 464h0M243.5 459.5h0M227.5 531.5h0M157 485.5h0M202.5 533h0M174 471h0M233 505h0M233 522.5h0M222 497.5h0M202.5 508h0M205.5 474h0M244 514h0M229.5 527h0M159 456h0M159.5 531.5h0M195 522h0M243.5 499h0M203.5 518h0M159.5 462h0M201.5 463.5h0M184 465.5h0M203.5 517h0M235 521.5h0M253.5 470.5h0M200.5 500h0M250 501.5h0M255.5 508h0M218 507h0M218.5 537h0M154 455h0M251 510.5h0M240 514.5h0M215.5 511.5h0M246.5 523h0M201 515.5h0M145.5 466h0M150 472h0M250.5 457.5h0M206 530.5h0M161.5 463.5h0M243 503h0M151 476h0M233.5 532h0M155 466h0M226.5 512.5h0M247 461h0M173 464h0M251.5 516h0M171.5 489h0M233.5 499h0M170.5 502.5h0M222.5 479h0M228.5 524.5h0M245.5 465.5h0M146 461h0M196.5 536.5h0M176 457h0M228.5 527.5h0M214.5 477.5h0M216.5 505h0M160 486.5h0M194 479.5h0M151 496h0M158.5 506.5h0M236.5 505h0M245 465h0M255.5 454.5h0M230 462h0M178 459.5h0M175 479.5h0M149.5 499h0M233 501h0M239.5 489h0M221.5 461h0M242 463h0M254.5 471h0M251.5 480h0M204 466.5h0M213 530h0M237.5 527.5h0M145 480.5h0M243.5 472h0M184 515h0M246.5 482h0M152.5 527h0M182.5 500h0M156 500.5h0M170.5 497h0M225.5 495h0M216 455.5h0M221 514.5h0M164.5 486.5h0M157.5 499.5h0M255 504h0M226 490h0M239.5 490.5h0M257 496.5h0M150.5 487h0M220.5 454.5h0M183.5 524.5h0M209 509h0M203 468h0M239.5 530.5h0M195 523.5h0M218.5 461.5h0M146 461.5h0M224.5 512.5h0M145 535.5h0M169.5 529h0M249 529.5h0M171 475.5h0M237.5 475.5h0M189.5 492.5h0M256 530.5h0M227.5 516.5h0M206.5 493h0M151.5 476.5h0M193.5 470h0M216 507h0M212 496.5h0M166.5 526h0M250 482h0M213 535.5h0M200 519.5h0M243.5 522h0M244.5 530.5h0M231 518h0M153.5 534h0M170 469h0M245.5 513.5h0M189.5 500h0M240.5 454.5h0M202.5 534h0M174 470h0M253.5 487.5h0M200 495.5h0M154.5 456.5h0M217.5 458.5h0M183.5 475h0M185.5 463.5h0M209.5 492h0M176.5 478h0M157 501h0M144.5 455.5h0M211.5 483h0M195.5 533.5h0M230 488h0M234.5 526h0M151 461.5h0M226 513h0M144 474h0M193 473h0M222 481h0M160.5 481h0M175.5 530h0M209.5 455.5h0M155 482.5h0M200.5 499h0M195.5 486.5h0M145 533h0M173 459h0M247 500.5h0M188.5 529.5h0M147 507h0M242.5 515h0M203.5 507.5h0M255 458h0M195.5 511.5h0M258 458h0M145 481.5h0M249 503h0M221.5 476h0M156.5 536h0M219 487h0M171.5 495.5h0M230.5 518h0M220 474.5h0M182 515.5h0M205 508h0M216.5 489h0M186.5 491h0M257 498.5h0M195.5 466.5h0M149.5 464h0M247 491h0M192 471.5h0M181 512.5h0M153 509.5h0M194 494h0M144.5 499h0M146.5 464.5h0M175 495.5h0M190 504.5h0M246 510.5h0M189.5 510h0M236 505h0M245 456h0M181.5 496.5h0M245.5 495h0M164 530.5h0M205.5 481.5h0M237.5 486.5h0M144.5 518h0M202.5 483.5h0M205.5 455.5h0M245 526.5h0M228.5 493.5h0M244 490h0M211.5 480.5h0M212.5 522h0M225 460.5h0M154 534.5h0M254.5 500.5h0M240 487.5h0M150.5 512.5h0M258 509.5h0M200.5 514.5h0M235 509h0M148.5 498.5h0M156.5 455h0M232 461.5h0M201.5 492.5h0M189 486h0M252 522.5h0M229 457.5h0M232 499.5h0M224.5 512.5h0M174.5 488h0M245 479h0M176 525.5h0M252.5 516h0M156.5 502h0M219.5 482.5h0M238 508.5h0M148.5 536h0M155 526h0M232.5 525.5h0M160 535h0M235.5 474h0M214 516h0M247 527.5h0M152.5 537h0M189 535.5h0M213.5 519.5h0M208 474.5h0M167.5 507.5h0M258 533.5h0M151.5 492.5h0M193 512.5h0M240.5 514.5h0M252.5 501h0M206.5 515.5h0M176.5 465h0M204 533h0M169 464.5h0M154 524.5h0M221 459.5h0M247 470.5h0M237.5 536h0M248.5 460.5h0M203.5 534.5h0M177 524h0M231 519.5h0M145.5 477.5h0M257 511.5h0M190.5 523h0M232 511h0M239.5 529h0M192.5 496.5h0M215.5 509h0M239 528h0M235 460.5h0M144 467h0M207 513.5h0M153.5 499h0M211.5 523h0M220 485.5h0M189 492h0M232 503h0M190.5 535.5h0M251 514h0M252.5 505h0" fill="none" stroke="#747490" stroke-width="1.9" stroke-linecap="round" opacity="0.5"/>
<path d="M145 534h0M234 476.5h0M226.5 474.5h0M246 476h0M165 528h0M252 499h0M238.5 514.5h0M154 471.5h0M145.5 477h0M196.5 465.5h0M189 456h0M202 493.5h0M151.5 456h0M179.5 462h0M240.5 528.5h0M203 517h0M212 472.5h0M182 498h0M208 533h0M173 466.5h0M215 459h0M174 484h0M160.5 525.5h0M144 485.5h0M234.5 462.5h0M191 499.5h0M253.5 476h0M204.5 486.5h0M207.5 481h0M244.5 472.5h0M199.5 532.5h0M226.5 495.5h0M163.5 532h0M207.5 462.5h0M257.5 500.5h0M217 500h0M207.5 532h0M187 533h0M201 506h0M154.5 527h0M213 474h0M155 537.5h0M201 456h0M168 463.5h0M205.5 507h0M147 537h0M235 492h0M182.5 476.5h0M191.5 503h0M240.5 470.5h0M162.5 468.5h0M210.5 503h0M175.5 468h0M246 527h0M181 493.5h0M239 523.5h0M205 528h0M185.5 493.5h0M239.5 530h0M193 530.5h0M227.5 497.5h0M215 504h0M246.5 506.5h0M204.5 530h0M243.5 493.5h0M145.5 474h0M256 464.5h0M182 536.5h0M202 462.5h0M148.5 505h0M171 455h0M236.5 484.5h0M201 479.5h0M199.5 487.5h0M162 535h0M156 508.5h0M151 458h0M254.5 492h0M228.5 475.5h0M219 487h0M212.5 536h0M225.5 532h0M180.5 520h0M182 501h0M195.5 465h0M234.5 479h0M184 492.5h0M165.5 496h0M162.5 488h0M193 529.5h0M186 505h0M173 492.5h0M193.5 492.5h0M198.5 491.5h0M171.5 528.5h0M226 511h0M210.5 460h0M153.5 456.5h0M232 466.5h0M176 499h0M167 487h0M210.5 532.5h0M255.5 481h0M196.5 522.5h0M245 485.5h0M223.5 533h0M148 509.5h0M174 463.5h0M186.5 487h0M156 504.5h0M256 467.5h0M187 455h0M153.5 503h0M167 472h0M170.5 515.5h0M149.5 469.5h0M216 537.5h0M162 505.5h0M257 515.5h0M227 511.5h0M180 532h0M150.5 509h0M227 526.5h0M233.5 497.5h0M223 484.5h0M179.5 463h0M241 520.5h0M147.5 474h0M159.5 478.5h0M162 459h0M144.5 489h0M239.5 460.5h0M177 512h0M146 476.5h0M174 485h0M241.5 469.5h0M225 509h0M224.5 497.5h0M215.5 486.5h0M156.5 487.5h0M184.5 499h0M158.5 457.5h0M158 537h0M207 511h0M226 525h0M147 471.5h0M171 499.5h0M258 482.5h0M240.5 510.5h0M235.5 476.5h0M173 535h0M211.5 501h0M220 533.5h0M151 510.5h0M246 496h0M233.5 458h0M242.5 490h0M220.5 504.5h0M170.5 479h0M177.5 517.5h0M216.5 488h0M196.5 487h0M241 477h0M231 458.5h0M215.5 463h0M243.5 516h0M248.5 503.5h0M193.5 509.5h0M230.5 473h0M157 527.5h0M175 499h0M230 508h0M167 511h0M182 485h0M149 497h0M188 469.5h0M203.5 515h0M211.5 510.5h0M178 520.5h0M250 478h0M205.5 480.5h0M196 535h0M251.5 504.5h0M223 504h0M173 492h0M187.5 457h0M254.5 477h0M184 466.5h0M214.5 521.5h0M234.5 536.5h0M219.5 536h0M178.5 508h0M217.5 486h0M175 489h0M206.5 465h0M239 531h0M212.5 473.5h0M237.5 536h0M160.5 486.5h0M172 511h0M249 491.5h0M235 456h0M201 486.5h0M248 457h0M249.5 481h0M203 504.5h0M195 525h0M244 459h0M214 489h0M153 474h0M251.5 468.5h0M248.5 497h0M164 515.5h0M224 498h0M178.5 498h0M202 531.5h0M173.5 492h0M215.5 490.5h0M184.5 466h0M206.5 461.5h0M213.5 467.5h0M189.5 458h0M193 504h0M221.5 531.5h0M149 498h0M184.5 472.5h0M198 527h0M212 514.5h0M210 503h0M195 460.5h0M185 520h0M152.5 474h0M196 494h0M168.5 495h0M232.5 506h0M235.5 528.5h0M221.5 475.5h0M185 472h0M176.5 465h0M227 455h0M188 498h0M202.5 515h0M168.5 509h0M202 524.5h0M184 535h0M212 512.5h0M257.5 533.5h0M169 484.5h0M163.5 499.5h0M235 529.5h0M204 533h0M228 511.5h0M227 509h0M160.5 493h0M180.5 497.5h0M221.5 498.5h0M201.5 528h0M221.5 474.5h0M236 475h0M235 498h0M156.5 521.5h0M167.5 470.5h0M228 459.5h0M206 532.5h0M183.5 468.5h0M205 467h0M199.5 496.5h0M161.5 489.5h0M213.5 517.5h0M213 485h0M202 527.5h0M210.5 467.5h0M205.5 455h0M158 531h0M150.5 498h0M243 505h0M170 510h0M191 488.5h0M197.5 499.5h0M228.5 533.5h0M178 495h0M229 498h0M178.5 518h0M229.5 500.5h0M200 464.5h0M202 512.5h0M187 469.5h0M234 491h0M243.5 527.5h0M197.5 518h0M251.5 493h0M191 536.5h0M162 503.5h0M150.5 483.5h0M236.5 474h0M170 530h0M145 529.5h0M208 513.5h0M157.5 514.5h0M217.5 511.5h0M166 460h0M204.5 500h0M185 503.5h0M179.5 531h0M185.5 469h0M245 468h0M185.5 526h0M243.5 511h0M202 509h0M244.5 477.5h0M231 468.5h0M249 480h0M174.5 477.5h0M183 499h0M245 527h0M251.5 474h0M159 458.5h0M199.5 511.5h0M212 491.5h0M204.5 459h0M234.5 462h0M201.5 489h0M216.5 482.5h0M251 499.5h0M163 490.5h0M189.5 483h0M242 465.5h0M244 476.5h0M253.5 490h0M228 462.5h0M212 523h0M236 484.5h0M232.5 533.5h0M171 497.5h0M238.5 517h0M238 480h0M156 532.5h0M227.5 464h0M208 482h0M179 481.5h0M180.5 489h0M239 471h0M168.5 491.5h0M211.5 458h0M147.5 489h0M158 491.5h0M159 471.5h0M151.5 527h0M177 477h0M228 474h0M172 529h0M246.5 525h0M229 474h0M214 477h0M189.5 473h0M254 519.5h0M183.5 494.5h0M245 521h0M164.5 477h0M175.5 517.5h0M211 455.5h0M175.5 524h0M220 497h0M215 461.5h0M170.5 522h0M148.5 523.5h0M211 491h0M172 522h0M245 476h0M203 459.5h0M249 476.5h0M234 457h0M249.5 510.5h0M239 508h0M241.5 533.5h0M172.5 490h0M245.5 530.5h0M145.5 481h0M145.5 514.5h0M214 535.5h0M173.5 459.5h0M242 495h0M216.5 504.5h0M230 467.5h0M236 481h0M194 511.5h0M225 516h0M234.5 462.5h0M144.5 470.5h0M170 491h0M209.5 522.5h0M244 458h0M212 522.5h0M250 511h0M246.5 468.5h0M240.5 486h0M144 518.5h0M174 528h0M201.5 485h0M244.5 479.5h0M250.5 470.5h0M194 503h0M189.5 506h0M169 511h0M225 531.5h0M229 523.5h0M183 498h0M177.5 476h0M165 536.5h0M255.5 493h0M144.5 495h0M246.5 504.5h0M146.5 520.5h0M166.5 473.5h0M194.5 532.5h0M258 488h0M185.5 471.5h0M177.5 473h0M163 482h0M211 486.5h0M201.5 537h0M242.5 510.5h0M158.5 475h0M201 519.5h0M212 524h0M194 504.5h0M213 477.5h0M206 506h0M184 519.5h0M228 508h0M233 483h0M241.5 509.5h0M166.5 482.5h0M198.5 520.5h0M233 472.5h0M246 506h0M195 460h0M234.5 472h0M251.5 533h0M245.5 525h0M246.5 515h0M241 456h0M213.5 490h0M208.5 528.5h0M191 526.5h0M240.5 481.5h0M202.5 517.5h0M170 465.5h0M240.5 494h0M249.5 500.5h0M247.5 532h0M183.5 533.5h0M172.5 470.5h0M150.5 530.5h0M258 481h0M144.5 481h0M231 495.5h0M255.5 468.5h0M202.5 515.5h0M211 477.5h0M246 472.5h0M153.5 535.5h0M147.5 466h0M245 471.5h0M148 529.5h0M169 531.5h0M167.5 469.5h0M228 467h0M240 516.5h0M150 503.5h0M215.5 514h0M219.5 474.5h0M152.5 458h0M230.5 486.5h0M248.5 481h0M202.5 513.5h0M248.5 469h0M188.5 533.5h0M244.5 493.5h0M220 478.5h0M248.5 524.5h0M249 510.5h0M171 521.5h0M252 485h0M188 529.5h0M228 508.5h0M169.5 511.5h0M163.5 530.5h0M255 472.5h0M157.5 514h0M229.5 536h0M152.5 467h0M179.5 510h0M181.5 534.5h0M168.5 488.5h0M249 483h0M199.5 535h0M221 527.5h0M238 526.5h0M173 497.5h0M214 524.5h0M212 496.5h0M156.5 535h0M185.5 516h0M168.5 533.5h0M186 511h0M195.5 531h0M182 492.5h0M246.5 484h0M219.5 513h0M182.5 479h0M211 487h0M243.5 520h0M157 505.5h0M149 508h0M161.5 533.5h0M147 520h0M213 467.5h0M196 509.5h0M201 486h0M181.5 514.5h0M248 457.5h0M193 466.5h0M202 482h0M228.5 459h0M155 459h0M175.5 500h0M156 458h0M204 467h0M211 517.5h0M160 463.5h0M243.5 534.5h0M153.5 455.5h0M253.5 519.5h0M152 480.5h0M173.5 533h0M154 466h0M243 455h0M224.5 485.5h0M232 503.5h0M245.5 477.5h0M172 477h0M210.5 469h0M167 501.5h0M147.5 481h0M235 469.5h0M247 499.5h0M167 524.5h0M179 473h0M218.5 459h0M246.5 481.5h0M225.5 512.5h0M169.5 512h0M185 508h0M173 465.5h0M222 535.5h0M206.5 455.5h0M160.5 483.5h0M183 455h0M243 532h0M206 504.5h0M175 459.5h0M186 528h0M233.5 460h0M224.5 516.5h0M191 467h0M213.5 529.5h0M144.5 478.5h0M211.5 454.5h0M218 531.5h0M161.5 472h0M153 477.5h0M246 463.5h0M174 535h0M199 460.5h0M224 511h0M163 500.5h0M178 492.5h0M177 466h0M228 468h0M207.5 495h0M197.5 460h0M162 524.5h0M148 480h0M168 504.5h0M243.5 507.5h0M194.5 518h0M217 472.5h0M242.5 462.5h0M155.5 503.5h0M160 458h0M217.5 477.5h0M205 508h0M197 458.5h0M219 470h0M240 500.5h0M199 459h0M188 465h0M150.5 534h0M149.5 455.5h0M242 479h0M221 458.5h0M163 492.5h0M169.5 502h0M183.5 491h0M239.5 533.5h0M212 490.5h0M213 481.5h0M175 524.5h0M250 525h0M152.5 484.5h0M164.5 517h0M242 500.5h0M246 522.5h0M251 510.5h0M217 511h0M164 489.5h0M251.5 497h0M154 529.5h0M167 495.5h0M228.5 527h0M200.5 489h0M257.5 537h0M257.5 464.5h0M216.5 477h0M243.5 455h0M151.5 527.5h0M221 528h0M223.5 500.5h0M189 460.5h0M183 513.5h0M171 496h0M166.5 528h0M255 499.5h0M252 474.5h0M149 507h0M150.5 496.5h0M150 479.5h0M249 485.5h0M248 456.5h0M183.5 469h0M183 464h0M247 523h0M189.5 509h0M236.5 502h0M147 527h0M176 460.5h0M183 520h0M167.5 509.5h0M210 487.5h0M258 493h0M192 531.5h0M256.5 537h0M238 525h0M146 465h0M160.5 519h0M157 481.5h0M214 462h0M155 504h0M251.5 459h0M235.5 460h0M218 464h0M185.5 519.5h0M154.5 490.5h0M162 509.5h0M229.5 521h0M199 518h0M194.5 498.5h0M257 502.5h0M257 464h0M188.5 499h0M247 472h0M204 455h0M243 521h0M243.5 513h0M216.5 520h0M235 518.5h0M242.5 528.5h0M195 470.5h0M159.5 455.5h0M159.5 460.5h0M233.5 528h0M223.5 499.5h0M183 528h0M151 485h0M184.5 474h0M184.5 500.5h0M163 522h0M172.5 470h0M151.5 461.5h0M224.5 495h0M182.5 478h0M184 500.5h0M252.5 519h0M225.5 504.5h0M248 489h0M148.5 514h0M187 493.5h0M199.5 458h0M224 522.5h0" fill="none" stroke="#4a4050" stroke-width="1.3" stroke-linecap="round" opacity="0.55"/>
<path d="M164.5 475.5h0M195 457h0M212 457h0M245.5 460h0M172 481.5h0M145 465.5h0M189 460.5h0M152 504.5h0M164 473h0M200.5 471.5h0M203 472.5h0M198.5 461h0M158 488.5h0M185.5 477h0M198.5 468h0M203 457.5h0M239 479h0M213.5 461.5h0M165.5 483h0M183 465.5h0M166 463.5h0M178.5 489h0M156.5 465h0M156 463h0M190 464.5h0M164.5 471h0M214.5 464h0M232 463.5h0M178 481h0M145 486h0M164 472.5h0M234 458.5h0M240.5 469h0M237 471h0M225.5 478h0M220.5 460.5h0M169.5 462.5h0M215.5 457.5h0M194 457.5h0M232 464.5h0M196.5 468h0M151.5 464h0M145 460.5h0M166.5 468.5h0M158 492h0M169 480h0M193.5 466.5h0M246.5 460h0M175.5 479h0M229 471.5h0M157.5 482h0M150.5 475h0M239 457h0M169.5 460h0M220.5 461.5h0M202.5 469h0M181.5 465.5h0M212.5 460h0M217 461h0M235.5 456.5h0M171 461h0M165 468h0M200 499h0M155 491h0M186 462h0M166.5 477h0M158 504.5h0M226.5 473.5h0M186.5 460.5h0M161.5 473h0M252.5 461.5h0M213 465.5h0M160.5 484.5h0M164 509.5h0M252 459.5h0M177 469h0M217 475.5h0M196 508h0M185.5 468h0M240.5 470h0M176 467.5h0M178.5 465h0M183 467.5h0M238.5 464h0M201.5 455h0M254 460.5h0M166.5 489h0M182 455.5h0M147 473.5h0M200 464h0M192.5 455.5h0M223.5 461h0M157 465.5h0M164.5 474.5h0M179 495.5h0M153 467h0M237 471.5h0M144 456h0M155 496.5h0M185 461.5h0M203 465h0M154 472.5h0M172 468.5h0M174 500.5h0M194.5 458h0M181.5 491.5h0M194 474.5h0M243 476.5h0M156 479.5h0M193 463.5h0M230 458.5h0M149.5 464h0M233 461.5h0M157.5 463.5h0M167 476h0M235.5 468h0M156 467.5h0M179 473.5h0M192.5 469h0M177 478.5h0M194 466.5h0M195 477h0M171 493.5h0M156 461.5h0M192.5 486.5h0M202.5 457h0M209 468.5h0M152 493h0M170.5 472h0M180.5 471h0M176 468.5h0M223 459h0M150 484h0M163.5 458h0M227.5 461h0M208.5 460.5h0M200 465h0M171 460.5h0M171.5 476h0M160 461.5h0M216 476.5h0M159.5 481.5h0M206 462h0M222 467h0M150 461h0M206 469.5h0M160.5 460h0M214.5 461.5h0M214 461h0M175 481h0M170.5 474.5h0M194.5 473h0M226.5 471.5h0M179.5 468h0M240 476.5h0M191 488h0M153 495.5h0M191.5 458.5h0M230.5 466h0M185.5 477h0M151 464.5h0M144.5 478.5h0M153.5 495h0M165.5 466.5h0M158.5 504h0M249 471h0M196.5 465h0M177 463h0M158 489h0M159.5 475h0M201 465.5h0M231.5 458.5h0M196 463h0M197.5 456.5h0M216.5 470h0M205 464h0M206 460h0M257.5 460.5h0M228.5 456.5h0M200.5 467.5h0M258 471h0M234.5 469.5h0M226.5 463.5h0M145.5 479.5h0M207.5 468.5h0M164.5 461h0M215 461h0M232.5 478h0M218.5 480.5h0M168 494.5h0M164.5 466h0" fill="none" stroke="#5e4840" stroke-width="1.8" stroke-linecap="round" opacity="0.5"/>
</g>
<rect x="143.8" y="451.5" width="114.5" height="3.2" fill="#d8d8da" />
</g>
<g clip-path="url(#c8)">
<rect x="260.8" y="451.5" width="114.2" height="86.0" fill="#d1d0d7" />
<g filter="url(#bl03)">
<path d="M308 463.5h0M301 480.5h0M350.5 527h0M330 527h0M336 525h0M373 458h0M314 461.5h0M344 521.5h0M369 464h0M307.5 479h0M286.5 536h0M287.5 478h0M342.5 472.5h0M282 517.5h0M356.5 475h0M338 463.5h0M299.5 530.5h0M304 497.5h0M282.5 488.5h0M266.5 516h0M343.5 492.5h0M359.5 502.5h0M363 481.5h0M365.5 518.5h0M347 509.5h0M347 474h0M272.5 502h0M284.5 471h0M341 527.5h0M351 471h0M314.5 529.5h0M305 502h0M330 464.5h0M272 494.5h0M372 458.5h0M297 474h0M290.5 529.5h0M276.5 522.5h0M277.5 483.5h0M273.5 474h0M262.5 460.5h0M325 506h0M326 493.5h0M363.5 481.5h0M347.5 529h0M286 507.5h0M339.5 511h0M348 522.5h0M290 514h0M314 496h0M335.5 511.5h0M280 471.5h0M361 526h0M338 467.5h0M298.5 534h0M300 514.5h0M279.5 470h0M317 511h0M276 513h0M342 465h0M317.5 478.5h0M276.5 527h0M312.5 480h0M283.5 529h0M313.5 521h0M351 535.5h0M332.5 481.5h0M347 462.5h0M275.5 476.5h0M276.5 494h0M308.5 526.5h0M355 462.5h0M369 512h0M370 508h0M337 483.5h0M307.5 514h0M336.5 526.5h0M265.5 531.5h0M297.5 497h0M353 497h0M265.5 494h0M349.5 523h0M267 467.5h0M276.5 506.5h0M282 536h0M349 494h0M342.5 486h0M325 517.5h0M302 536h0M263.5 490.5h0M317 504.5h0M362 518h0M364 493h0M334 465.5h0M318.5 531.5h0M320 456.5h0M335 487.5h0M323 494h0M313 486.5h0M287.5 514h0M331 487h0M355.5 459.5h0M343.5 525h0M313.5 462h0M318.5 528h0M328 465.5h0M321.5 461h0M344.5 533.5h0M358.5 492h0M327 467h0M323 509.5h0M276.5 530h0M346 490h0M369.5 499.5h0M317 476.5h0M275 506.5h0M370 535.5h0M316 520h0M346 477.5h0M348 530h0M292.5 505h0M333.5 508.5h0M330 470h0M350.5 474h0M276.5 489h0M279.5 464h0M353.5 479h0M349 530.5h0M360 532h0M367 508.5h0M308 506h0M289 525h0M262 488.5h0M292.5 511.5h0M372.5 517h0M319.5 465.5h0M316.5 535h0M305.5 470.5h0M346 535h0M261 505h0M325.5 513.5h0M343 511.5h0M263 499.5h0M337 485h0M343 527.5h0M292.5 498.5h0M371 486.5h0M280.5 512h0M324.5 497.5h0M336 468h0M283 495.5h0M278.5 525h0M325 462.5h0M369.5 537h0M308 466.5h0M306 518.5h0M365.5 514.5h0M362.5 531.5h0M266.5 461h0M332.5 470.5h0M375 524.5h0M367.5 522h0M295 506.5h0M267 464.5h0M373.5 495.5h0M374 531.5h0M340 522h0M329.5 476.5h0M291 504.5h0M313.5 459h0M328 472.5h0M355 524h0M270 535.5h0M345 469h0M348 522.5h0M367.5 527.5h0M322.5 524.5h0M334 524.5h0M261.5 458h0M272 507h0M281.5 502h0M299.5 467h0M361 468h0M288 460h0M272 509h0M295 482.5h0M344 460h0M302 535h0M312.5 535h0M306.5 497h0M279 470.5h0M296 457.5h0M283.5 503h0M323 464h0M340 509h0M265 528h0M302.5 465.5h0M268 518.5h0M319 495h0M276.5 456.5h0M337.5 497.5h0M366 536.5h0M311 518h0M329 532h0M299 495.5h0M343 494.5h0M374 506h0M372.5 488h0M342 523h0M300.5 519h0M345.5 501.5h0M333.5 527h0M285 509.5h0M335 483.5h0M266.5 492h0M303 474.5h0M329 502.5h0M286 525h0M332.5 536h0M276.5 480.5h0M341 455h0M367.5 471.5h0M353 525.5h0M261 535h0M296.5 462.5h0M320 493.5h0M284.5 462h0M303.5 502.5h0M354.5 483h0M266 501.5h0M334 474.5h0M291 508h0M284.5 468.5h0M321 525.5h0M332 507h0M308.5 459h0M282 518h0M358.5 527h0M367.5 474h0M311.5 494h0M334.5 475h0M268.5 508h0M261 514h0M312.5 523.5h0M334.5 459.5h0M350.5 476h0M321 535h0M373 457.5h0M284.5 513h0M349 512.5h0M268 521h0M363.5 473h0M358.5 485h0M283.5 500h0M292.5 513h0M307.5 488h0M334 528h0M371.5 484h0M332 483.5h0M271.5 497h0M328.5 467.5h0M300 455.5h0M266.5 466.5h0M347 527h0M337 518.5h0M350.5 471h0M265 466.5h0M277 505.5h0M288.5 519.5h0M269 535h0M356 479h0M278 457.5h0M282.5 513.5h0M296.5 495h0M312.5 501h0M368.5 533h0M276.5 513h0M266 492.5h0M285.5 528.5h0M313.5 516.5h0M270.5 454.5h0M274 481h0M319.5 520.5h0M335 484h0M303.5 466.5h0M293.5 532.5h0M275 478h0M317.5 484.5h0M342.5 497h0M319 459h0M267.5 498.5h0M275.5 455.5h0M307 457.5h0M301 534h0M275.5 460h0M276 528.5h0M287.5 523h0M357.5 512.5h0M282.5 504h0M359 474h0M314 475h0M274.5 484.5h0M299 480h0M370.5 514h0M356.5 500.5h0M328 456h0M329.5 456h0M267.5 479h0M280 493h0M349 517h0M301 514h0M356.5 484.5h0M273.5 488.5h0M304 517.5h0M315.5 469h0M273 529h0M274.5 486.5h0M303 531h0M349.5 517h0M287.5 498h0M298 459.5h0M319 507h0M273.5 487h0M292.5 520.5h0M273 472h0M275 454.5h0M265 531h0M356 512h0M313.5 534h0M292 461.5h0M357.5 475h0M352 459h0M266 529.5h0M296.5 480.5h0M361.5 461h0M323.5 522h0M329 501h0M308 510h0M317 535h0M371.5 459h0M307.5 472h0M301.5 531h0M327 529.5h0M304 529.5h0M355.5 528h0M322.5 457.5h0M370.5 530h0M328 463h0M295 482h0M370.5 471.5h0M315 529h0M316.5 536h0M375 517h0M321 518h0M263.5 505.5h0M277.5 497.5h0M300.5 462h0M287 478.5h0M307 496h0M366.5 509h0M275 462h0M271.5 460.5h0M368 517.5h0M310 530h0M296 460.5h0M269 473.5h0M364 525h0M339 497.5h0M267.5 522.5h0M280.5 522h0M298.5 495.5h0M357 532.5h0M369 483.5h0M317.5 488h0M266.5 480h0M291 500h0M295.5 469.5h0M326 523.5h0M337 522h0M326 492.5h0M346 531.5h0M281.5 501h0M291 474.5h0M337 530.5h0M342.5 496h0M313 461h0M373 466h0M374.5 476.5h0M365.5 456.5h0M311.5 535h0M361.5 482h0M279.5 531h0M340 524.5h0M351 495.5h0M366 496h0M342 513h0M281.5 510.5h0M296 480h0M364.5 487h0M285 473h0M265 469.5h0M344 516.5h0M366.5 510h0M317.5 522h0M336 514h0M337.5 465.5h0M323 462h0M351.5 528h0M358.5 473.5h0M372 500h0M283.5 460h0M314.5 528h0M319 503.5h0M328.5 464h0M366.5 478.5h0M292.5 457h0M328.5 496.5h0M278 482h0M268 490.5h0M291.5 499h0M313 499.5h0M350.5 530h0M284.5 527.5h0M283.5 463h0M353 526.5h0M374.5 500h0M354.5 457.5h0M370 468h0M289 462h0M374.5 535h0M311 526h0M366 485h0M317 513.5h0M375 531.5h0M317 459.5h0M312 518.5h0M316 465h0M289.5 515h0M333.5 463.5h0M293 460.5h0M261.5 464.5h0M264.5 502.5h0M289.5 466.5h0M294.5 487h0M295 498.5h0M317.5 470.5h0M320.5 474h0M283 526.5h0M372.5 467.5h0M337 525.5h0M348.5 527h0M359 502h0M275 506.5h0M364 513.5h0M367.5 512.5h0M277.5 460h0M291.5 533h0M370.5 505h0M276 483.5h0M375 480h0M263.5 460.5h0M299 509h0M284.5 455.5h0M354.5 475h0M333 502h0M289.5 482h0M269 530.5h0M342 479h0M328.5 494h0M345 475.5h0M299 536.5h0M288 517h0M299 479h0M313.5 496h0M276.5 519h0M363 533.5h0M372.5 517h0M348.5 511.5h0M321.5 528h0M266.5 470h0M272 529.5h0M361.5 510.5h0M374.5 461.5h0M311.5 502.5h0M344 536h0M324.5 519.5h0M269 505h0M310 506h0M370 525h0M359 500.5h0M299.5 498.5h0M359 480.5h0M267 516h0M279 508.5h0M335.5 519.5h0M272 508h0M290.5 472.5h0M343.5 469h0M360.5 528.5h0M367 493.5h0M293.5 508h0M291.5 534h0M304 467h0M327 457.5h0M285 487h0M339 534h0M267 523h0M265.5 511h0M331.5 493.5h0M340 490h0M370 500.5h0M303.5 508.5h0M296.5 509h0M271.5 477h0M338.5 464h0M325.5 523.5h0M261 523.5h0M356 488.5h0M347.5 464h0M308.5 527.5h0M261 525.5h0M361.5 519h0M318 497h0M327.5 468h0M278.5 520.5h0M372 464h0M338 457h0M337.5 479h0M283.5 508.5h0M297 479h0M320 525h0M272.5 466.5h0M358 530.5h0M272 476h0M366.5 499.5h0M342.5 530h0M272.5 501.5h0M270.5 504h0M373 463.5h0M277.5 457h0M358.5 496.5h0M313.5 525.5h0M276.5 503h0M301 490.5h0M370.5 526h0M357.5 479.5h0M330 499h0M366.5 484.5h0M351.5 483.5h0M344.5 531h0M338.5 521.5h0M356.5 506.5h0M278 502h0M366 458.5h0M316.5 500h0M282 481h0M373 524h0M292.5 511.5h0M312.5 511.5h0M373.5 535.5h0M263 517.5h0M297 525h0M285 464h0M304 482.5h0M292 535h0M333 518h0M344 482.5h0M322 484.5h0M331.5 507.5h0M271.5 522h0M301.5 459h0M324 478.5h0M318.5 459.5h0M316 470h0M361 519.5h0M351.5 513h0M328.5 496.5h0M268.5 527.5h0M365.5 500.5h0M361 530h0M272 522.5h0M362 510h0M276.5 482h0M369 481h0M369.5 495.5h0M284.5 505.5h0M276.5 492h0M359 502.5h0M319.5 471.5h0M343 519.5h0M359.5 497.5h0M332 519h0M349 496.5h0M360 488.5h0M355 526h0M297.5 482h0M359.5 474h0M341 522.5h0M362.5 465h0M332.5 526.5h0M337.5 486.5h0M351.5 478h0M272 481h0M311.5 508h0M320 530h0M290 537h0M320 497.5h0M291.5 460h0M365.5 527.5h0M277.5 475h0M275 531h0M324.5 510h0M309 473h0M321 516.5h0M374 530.5h0M365.5 521h0M304.5 461h0M279.5 485.5h0M322.5 489.5h0M358 494h0M271.5 509.5h0M361 481.5h0M283.5 519.5h0M328 464h0M323 485.5h0M353.5 532.5h0M367 494.5h0M356.5 529h0M342.5 527.5h0M356 455.5h0M328.5 491.5h0M280.5 524h0M327 455.5h0M265.5 494h0M316.5 460h0M261.5 489h0M264 519.5h0M289.5 507h0M292 458.5h0M298.5 455.5h0M299.5 520.5h0M263 497h0M280 459.5h0M322.5 536h0M321 537h0M280 537.5h0M363.5 489h0M303 529.5h0M315.5 531h0M351 527.5h0M312 458.5h0M373 522.5h0M334 513h0M342 494.5h0M306 498h0M364.5 536.5h0M354.5 477.5h0M273.5 474.5h0M365.5 507.5h0M357.5 526.5h0M303 503.5h0M315 526.5h0M297.5 510.5h0M272 475h0M293.5 517h0M326 465.5h0M329.5 508h0M286 469.5h0M360 524.5h0M320 460h0M302.5 520h0M352 498.5h0M310.5 481.5h0M272.5 498h0M354.5 477.5h0M289 467.5h0M290 508h0M266.5 504.5h0M336 461h0M303 466.5h0M264 523h0M353.5 533.5h0M344 507h0M366.5 512.5h0M312.5 496h0M290 504h0M347 477h0M360.5 488h0M329.5 525h0M352.5 482.5h0M261 502.5h0M307 488.5h0M319 478h0M360 532h0M354 474.5h0M297.5 503.5h0M319.5 472.5h0M320.5 478.5h0M310 470.5h0M369 484h0M344 517h0M372 466.5h0M367 521h0M312 469h0M293 513.5h0M265 534h0M311 533h0M346 488.5h0M267.5 515h0M296 475h0M311.5 459.5h0M352.5 460.5h0M340.5 530.5h0M333 473.5h0M317.5 535h0M373.5 533h0M373.5 526h0M286 488h0M269.5 466h0M282.5 461h0M303.5 478h0M349.5 523h0M343 528h0M276.5 523h0M314 509h0M274 487h0M262 516.5h0M291.5 463h0M344.5 475.5h0M315.5 470.5h0M366.5 509.5h0M280.5 522h0M329.5 488.5h0M272 498h0M277.5 517h0M286 464h0M332 461.5h0M370 510h0M354.5 501h0M349 522h0M346 501.5h0M340.5 457h0M289 464.5h0M351.5 510h0M331.5 536h0M264.5 488.5h0M286.5 511h0M334.5 484h0M278.5 506h0M281.5 492h0M345 487.5h0M301.5 502.5h0M338.5 487.5h0M265.5 486h0M323 488h0M302 529.5h0M374.5 491h0M355 498.5h0M360 474h0M350 511h0M331 474h0M307 454.5h0M266 517h0M300 506h0M293 466.5h0M299 464.5h0M357.5 468.5h0M273 496h0M370.5 532h0M282.5 465.5h0M317.5 490.5h0M323 510.5h0M354.5 454.5h0M277 510h0M267.5 463h0M270.5 499h0M301.5 525.5h0M351.5 529h0M304 526h0M363 525.5h0M369.5 537h0M325.5 488.5h0M270 477h0M267 463.5h0M299 468.5h0M349.5 516.5h0M302.5 457h0M265.5 491.5h0M273.5 478.5h0M277.5 495.5h0M281.5 495.5h0M357.5 488.5h0M364.5 483.5h0M331.5 503.5h0M324.5 458.5h0M325.5 520h0M315 499.5h0M348.5 528.5h0M343 483.5h0M306 475.5h0M323 498.5h0M302.5 482.5h0M342 477.5h0M330 469h0M339 477.5h0M292.5 510.5h0M354 481.5h0M366 500.5h0M320.5 482h0M271.5 492h0M322.5 525.5h0M296.5 465h0M343 508.5h0M286.5 460h0M355.5 525h0M280 509.5h0M351 509h0M282.5 461h0M373.5 510.5h0M360.5 471.5h0M371.5 489h0M323.5 485.5h0M302.5 533h0M314.5 514h0M307 525h0M312.5 493.5h0M347.5 521h0M309.5 457h0M296 477.5h0M374.5 490.5h0M319 463.5h0M371.5 512h0M371.5 456.5h0M304 491.5h0M287.5 471h0M314.5 516h0M280 495h0M307 470.5h0M282.5 479h0M362 498h0M368.5 481h0M262.5 458h0M326.5 474h0M322.5 520h0M367.5 474.5h0M365.5 518.5h0M373 475h0M279 490h0M311 465.5h0M288.5 455.5h0M304.5 512h0M350 473.5h0M282.5 471h0M312.5 463h0M359.5 537h0M345.5 456.5h0M291 474.5h0M366 462h0M320.5 481.5h0M321.5 469h0M307.5 480h0M300 499h0M373.5 510.5h0M327 506.5h0M270 474h0M332.5 494h0M350 467.5h0M309 511h0M265 524.5h0M348 479h0M370 473.5h0M334 468.5h0M316.5 465h0M313 461.5h0M262 527h0M354 521h0M281 461.5h0M356 536.5h0M280.5 535.5h0M325 513h0M319 464h0M261 459h0M369 464.5h0M328 486.5h0M372.5 521h0M366.5 536.5h0M325.5 485.5h0M264.5 475h0M287.5 458h0M304 514h0M369 484h0M321.5 496h0M330 468.5h0M267 470h0M289 460h0M313 495.5h0M283 475.5h0M289.5 496.5h0M280 484h0M314 480h0M297 458h0M297.5 496.5h0M316.5 534h0M298 500.5h0M325.5 462.5h0M287 525.5h0M346 459h0M265.5 473.5h0M299 491h0M338 455.5h0M286 529.5h0M288.5 483h0M345 507.5h0M263 479.5h0M294 491h0M285 528h0M325.5 528.5h0M302 468.5h0M285 516.5h0M368 518h0M352 502.5h0M362.5 531.5h0M330 494.5h0M373.5 482.5h0M358.5 535h0M274 507h0M289 519.5h0M283.5 518h0M286 489.5h0M291 462.5h0M321 468.5h0M358 522h0M304.5 460h0M315.5 461.5h0M355.5 523h0M354.5 488.5h0M291 497h0M319.5 473h0M272.5 456.5h0M367.5 456h0M317 487.5h0M297 516h0M331.5 461.5h0M270 492h0M344.5 533.5h0M261.5 465.5h0M349 516h0M278 481.5h0M307 515.5h0M278.5 507.5h0M359 490h0M318.5 488h0M372.5 517h0M336 489.5h0M285.5 528h0M264 521h0M315 455.5h0M265.5 489.5h0M363.5 467.5h0M340.5 499.5h0M373 510h0M316.5 472h0M283.5 505.5h0M340 464.5h0M276.5 458h0M357 508.5h0M341 484h0M287 523h0M315.5 524.5h0M286 502h0M368.5 522h0M365.5 459.5h0M330 507.5h0M267.5 522h0M365 512h0M348.5 456h0M346.5 526h0M332.5 481h0M342.5 520.5h0M326 510.5h0M289 474.5h0M265 510h0M289.5 464.5h0M299.5 481h0M321.5 466h0M275.5 485h0M339 475.5h0M285.5 483h0M269.5 478h0M367 503.5h0M275.5 470h0M273.5 494h0M366 532h0M349.5 485h0M297 534h0M291 459h0M312 529h0M330.5 472h0M318 519.5h0M314 496h0M307 488.5h0M306.5 518.5h0M295 500.5h0M332.5 460h0M363.5 523.5h0M280 469.5h0M333 536h0M263 485.5h0M308 529.5h0M337.5 536.5h0M291 515.5h0M344 481.5h0M333.5 510h0M303 535h0M286 477h0M304 514h0M373.5 481.5h0M282.5 523.5h0M339 515h0M276.5 489h0M267.5 482.5h0M349 469h0M303 517h0M361 491h0M327.5 511h0M309.5 529h0M365 498.5h0M271.5 498.5h0M304 487h0M270.5 521h0M357 489.5h0M334.5 466h0M339 496h0M344 493.5h0M294 511.5h0M365.5 503.5h0M327 474.5h0M297.5 463h0M329.5 463h0M328 524h0M316 515h0M264.5 495.5h0M308.5 514h0M279 531.5h0M347.5 529h0M374.5 502h0M349.5 532.5h0M287 529.5h0M338.5 527.5h0M310 523.5h0M301.5 494h0M307.5 523h0M269.5 470.5h0M367.5 525h0M285 483.5h0M265 515.5h0M331.5 503h0M339 532.5h0M319 534.5h0M280.5 476h0M351 524h0M300.5 486h0M346 519h0M264 480.5h0M371.5 455.5h0M288 511.5h0M295.5 476.5h0M299 501.5h0M275 464h0M349.5 496h0M311 469h0M292 466h0M286 521.5h0M307 537h0M355.5 469.5h0M273.5 499h0M303 468.5h0M356 509.5h0M319.5 484h0M364.5 458.5h0M322 504h0M292.5 455.5h0M297 457h0M335.5 522h0M283.5 464h0M297.5 467h0M276.5 534h0M309 528.5h0M270.5 495h0M325 530.5h0M370.5 501.5h0M287.5 478h0M340.5 518.5h0M272 476h0M307.5 498h0M366.5 469h0M317.5 523.5h0M284.5 493.5h0M345 502.5h0M369 472h0M306 480.5h0M288 504.5h0M289 477h0M294.5 515.5h0M373 536.5h0M285 491.5h0M321.5 458.5h0M337.5 520h0M348 485.5h0M311.5 459.5h0M292.5 492h0M352.5 516h0M324 485h0M269.5 494h0M266.5 514.5h0M298.5 490h0M312 490h0M277.5 535.5h0M354.5 497.5h0M348.5 472h0M302.5 522h0M275 513.5h0M291.5 512.5h0M301.5 517.5h0M345 513h0M347.5 463.5h0M349.5 490.5h0M353 502.5h0M337.5 488h0M348 478.5h0M347.5 496.5h0M299.5 484h0M286.5 464h0M370 470.5h0M265.5 478.5h0M266 456.5h0M305.5 477h0M265.5 527h0M296.5 515.5h0M323.5 513.5h0M345.5 461h0M301 495.5h0M270 535h0M282 494.5h0M293 486h0M342 459h0M310 507.5h0M303.5 459.5h0M371 463h0M300 503.5h0M374.5 489.5h0M296 468h0M316 527.5h0M265.5 521.5h0M341.5 510.5h0M272 515.5h0M315.5 505h0M338.5 493h0M368.5 536h0M316.5 508.5h0M300 491.5h0M370.5 496h0M316 535.5h0M362.5 461.5h0M332.5 500h0M325.5 469h0M348.5 498h0M332.5 461.5h0M308.5 534.5h0M282.5 516.5h0M363.5 493.5h0M330.5 485.5h0M301 462h0M306 532.5h0M337.5 494h0M340.5 496h0M308.5 497h0M276 484h0M348.5 471h0M314 461h0M333 458h0M270.5 494h0M365 456.5h0M295 535h0M274 516.5h0M328 504.5h0M355.5 517.5h0M298 522.5h0M305.5 458h0M287.5 535h0M347.5 492h0M342.5 516.5h0M322.5 499.5h0M356.5 455h0M367.5 489.5h0M290.5 456h0M312.5 502h0M318.5 505.5h0M266 493h0M356.5 475h0M281.5 463.5h0M287.5 524.5h0M272.5 460h0M347.5 524.5h0M369.5 479h0M313 533.5h0M370.5 479.5h0M276.5 475.5h0M276.5 481.5h0M331 498h0M279 534.5h0M314.5 532h0M281 469.5h0M310 488h0M367 459.5h0M330 484h0M319.5 473h0M289 533.5h0M341.5 484.5h0M365 481h0M359.5 500h0M366.5 470.5h0M279 515h0M264.5 518h0M276.5 526h0M300.5 492h0M354.5 533.5h0M294 501h0M367 514h0M324 484.5h0M326 472.5h0M303.5 519h0M289 465h0M329 463.5h0M301 497.5h0M343 511h0M356.5 508h0M284.5 493.5h0M329.5 522h0M342 495.5h0M302.5 465h0M264.5 519h0M330 480h0M371.5 465h0M280.5 497h0M362.5 491h0M339 480h0M316.5 507.5h0M288 498.5h0M355 536.5h0M363.5 483.5h0M318.5 522.5h0M311 483h0M313 497.5h0M311.5 460.5h0M285.5 475h0M298.5 497h0M374 456.5h0M287 455.5h0M366 510h0M286.5 524h0M313.5 531h0M286.5 463h0M326.5 464.5h0M295 510.5h0M346 521.5h0M358.5 494h0M292 494.5h0M333 480.5h0M357.5 454.5h0M272.5 472.5h0M282.5 461h0M329.5 456h0M342 474h0M366 495.5h0M365 482.5h0M343.5 498.5h0M270.5 503.5h0M359.5 517h0M323.5 519h0M310 535.5h0M301.5 460h0M362 495h0M318.5 523h0M318.5 526.5h0M329 462.5h0M334 475.5h0M367 499.5h0M308.5 501.5h0M302 468.5h0M313.5 532.5h0M301 516.5h0M352 470h0M367.5 526h0M283.5 475h0M351 476.5h0M284.5 512h0M339.5 460h0M303 528h0M298 472.5h0M323.5 491.5h0M349.5 480.5h0M322 473h0M370 476.5h0M265.5 496.5h0M269.5 472.5h0M277.5 475h0M269.5 536h0M278.5 511.5h0M320.5 528h0M317.5 520.5h0M307.5 462h0M321.5 536h0M359 490.5h0M341 462h0M342 491h0M309.5 500.5h0M303.5 534h0M312.5 482.5h0M280 497h0M331.5 468h0M317.5 458h0M339.5 466h0M264 482.5h0M319 475h0M373.5 518h0M285 469h0M361 482.5h0M357 487.5h0M307.5 536h0M294 490.5h0M358 473h0M333 482.5h0M370 509.5h0M339 517h0M274 478h0M351.5 524.5h0M309.5 484.5h0M290 529h0M312.5 536.5h0M274.5 476.5h0M275 468.5h0M330 495h0M325.5 497h0M273 490h0M284 460h0M335.5 524h0M374 520.5h0M269.5 462.5h0M323.5 519h0M336 481.5h0M291.5 483.5h0M370.5 490h0M273.5 529h0M301 491h0M262 491h0M338 510.5h0M348.5 461h0M268 521.5h0M265 465.5h0M331.5 525h0M371.5 488h0M297.5 529h0M331 462h0M295.5 503.5h0M331.5 462h0M339.5 467.5h0M331.5 525h0M351 537.5h0M294 455.5h0M283 492.5h0M275 476.5h0M362 469.5h0M323.5 464.5h0M277 461h0M276 457h0M275 516h0M324.5 475.5h0M293.5 492h0M334 505.5h0M317 460.5h0M264 458h0M358.5 529h0M335.5 477h0M320.5 511h0M366.5 458h0M269 481h0M298.5 471.5h0M275 498h0M292 461.5h0M274 481.5h0M362.5 533.5h0M343 521h0M372.5 531.5h0M363.5 457.5h0M285 509h0M308 489.5h0M368 518.5h0M305.5 482.5h0M374 502h0M271.5 517h0M271.5 486.5h0M273 509.5h0M322 483h0M310 457h0M262 531h0M358.5 467h0M264 465.5h0M301.5 473h0M318 468.5h0M299 479h0M365.5 476h0M263 498h0M314 483h0M333 492h0M269.5 528h0M294 493.5h0M338 508.5h0M320.5 508h0M353 499h0M265.5 454.5h0M272 467.5h0M306.5 478.5h0M335 475.5h0M292.5 517.5h0M276.5 514h0M309.5 521h0M351 529.5h0M348 462.5h0M265 506.5h0M358 475.5h0M268 497h0M337.5 510.5h0M340 463.5h0M310.5 486h0M343.5 511h0M266 532.5h0M347.5 517.5h0M373 455.5h0M313.5 479.5h0M318.5 482h0M288 456h0M297.5 531h0M368.5 489.5h0M366 471h0M371.5 529.5h0M288.5 516h0M344.5 529.5h0M352 480h0M338 520.5h0M348.5 534.5h0M274.5 520.5h0M282 512h0M328 490.5h0M322.5 461h0M340 482h0M358 511.5h0M359 482h0M328 499h0M307 493.5h0M283 462h0M331 494.5h0M308.5 466.5h0M266 478.5h0M311.5 530.5h0M296.5 480h0M337.5 527h0M268 462.5h0M332.5 533.5h0M340.5 494h0M374.5 522.5h0M333 510h0M319.5 488h0M281 524.5h0M267 478h0M262 512h0M275.5 473h0M346 462.5h0M284.5 469.5h0M314 470.5h0M368.5 499.5h0M339 459.5h0M277.5 472h0M331.5 485h0M323 481h0M268 463.5h0M331.5 471.5h0M317 477h0M307 531.5h0M319 530h0M332 481.5h0M311.5 484.5h0M285 490h0M356 524.5h0M280.5 466.5h0M363 488h0M306.5 491h0M289.5 533.5h0M345.5 515h0M263.5 512.5h0M307.5 476h0M352.5 498h0M356 524h0M345 497h0M307.5 520.5h0M311 473h0M305 489.5h0M303 510.5h0M291 463h0M278 523h0M328 511.5h0M346 498h0M348 500.5h0M313.5 516h0M326.5 472.5h0M289.5 479.5h0M337 515h0M334.5 482.5h0M349 455.5h0M296.5 458h0M336 484h0M336 484h0M356.5 475h0M343 494h0M303 510h0M265.5 536.5h0M342.5 455h0M328 481h0M367 461.5h0M314.5 474h0M345 459.5h0M327.5 516.5h0M320 507h0M328 486.5h0M327.5 477h0M363.5 521.5h0M293 489h0M299.5 512h0M281 519h0M345 472.5h0M319.5 533h0M292 495h0M310.5 536h0M356 521h0M288 509.5h0M291.5 534h0M277 472.5h0M357.5 506.5h0M354 462h0M342 481h0M363.5 475.5h0M336 535.5h0M322 537h0M369.5 478.5h0M327.5 517h0M305.5 488h0M264.5 533h0M308.5 502h0M294.5 513.5h0M329 529.5h0M350 523h0M261.5 493.5h0M368.5 478h0M340.5 536.5h0M335 526.5h0M288.5 487.5h0M272 464h0M268 456h0M331.5 456h0M300 521.5h0M364 513.5h0M303 535.5h0M301.5 465.5h0M335 475.5h0M311 508h0M337.5 490h0M308 537h0M311 491.5h0M284.5 499.5h0M311.5 492h0M345 497h0M280 520h0M329 474.5h0M371.5 529h0M296 468.5h0M280.5 464.5h0M307 506.5h0M291 520.5h0M301 481h0M367 476h0M274 505.5h0M340 483.5h0M308.5 486h0M296 510h0M339 502h0M366.5 459.5h0M353 522h0M309 511.5h0M371.5 493.5h0M266.5 531.5h0M319 488h0M284 458.5h0M323.5 521.5h0M322.5 511.5h0M335 509.5h0M270.5 486h0M261.5 519.5h0M305 457.5h0M345.5 474.5h0M370.5 509.5h0M369 510h0M302.5 492.5h0M264 519.5h0M305.5 477.5h0M340 497.5h0M333.5 477.5h0M319 496h0M322.5 526h0M280 536.5h0M313.5 460.5h0M308.5 467h0M344 498.5h0M330 483.5h0M312 512h0M306 505.5h0M277.5 460h0M372.5 454.5h0M319 500.5h0M326.5 460.5h0M281.5 536.5h0M354.5 457h0M361 510.5h0M304.5 471h0M268.5 474.5h0M312.5 468h0M343.5 510.5h0M330 475.5h0M343 532h0M360 491h0M339.5 517.5h0M268.5 475.5h0M371 510.5h0M277 526h0M309 521h0M266.5 504.5h0M283.5 495.5h0M274.5 479h0M346 513.5h0M274 482.5h0M360 515h0M349 513.5h0M298 475h0M317 520.5h0M328.5 516.5h0M343 478h0M301 460h0M315 531.5h0M345.5 476.5h0M312.5 525h0M330.5 470h0M266 488h0M271.5 474h0M261 456.5h0M301.5 461.5h0M314 474.5h0M361.5 515h0M278 524.5h0M279 522h0M284 461h0M280 475.5h0M306 502h0M346 500h0M274.5 464.5h0M370 533h0M307.5 503h0M288.5 501h0M366 462.5h0M291.5 498h0M323.5 489.5h0M273 537h0M297.5 481.5h0M309.5 508h0M315 504h0M324.5 457h0M266.5 525h0M320.5 475.5h0M266.5 536.5h0M273.5 500.5h0M317.5 510.5h0M277 521.5h0M333 519.5h0M309 500.5h0M350.5 479.5h0M319.5 533h0M333.5 487h0M273.5 497h0M272 487.5h0M327 526.5h0M356.5 529h0M324.5 517h0M345 536.5h0M294.5 522.5h0M313.5 532h0M281 507.5h0M331 458.5h0M284.5 519h0M321.5 534.5h0M358 514.5h0M312.5 491.5h0M293.5 532.5h0M309.5 482.5h0M351 459h0M287.5 517h0M269 479.5h0M261 462h0M284 463.5h0M347.5 521.5h0M284 529.5h0M267 495h0M306.5 489h0M292.5 499.5h0M267.5 503.5h0M275.5 528.5h0M355.5 470.5h0M289.5 461h0M282 462.5h0M359.5 509h0M319.5 462.5h0M280 530.5h0M300.5 472.5h0M269.5 484.5h0M285.5 519.5h0M330 466h0M375 535h0M308 492.5h0M348.5 473.5h0M374.5 460.5h0M335.5 458h0M329.5 480h0M264 455.5h0M309 468.5h0M335 503h0M268.5 499h0M327 461h0M364 482h0M311 495.5h0M306 482.5h0M268.5 506h0M326 455.5h0M295.5 470h0M291.5 490.5h0M281.5 492h0M280 518.5h0M340.5 524.5h0M299 519h0M268 457.5h0M284 480.5h0M274.5 485.5h0M272 509.5h0M282 464.5h0M345 526h0M359 506.5h0M267 497.5h0M336.5 533.5h0M311 509.5h0M371 527h0M318.5 521h0M276 489.5h0M276.5 490h0M280 478h0M268.5 529.5h0M316.5 514h0M272 486.5h0M354.5 524.5h0M354.5 501.5h0M309.5 470h0M314.5 508h0M287.5 462.5h0M366.5 465h0M284 461.5h0M288 465.5h0M324.5 523.5h0M270.5 536.5h0M270 537h0M329 525.5h0M269.5 461.5h0M269.5 533.5h0M273 493h0M266.5 493h0M329.5 525.5h0M363.5 527.5h0M292.5 525h0M263.5 536h0M271.5 465.5h0M335.5 529.5h0M264 495h0M302.5 508h0M307 502.5h0M277 511h0M366 536h0M320.5 516h0M312.5 461.5h0M361.5 493h0M270.5 510h0M266.5 466.5h0M311 528.5h0M325 536.5h0M275 529h0M298.5 515h0M374 477h0M342 507.5h0M341 482.5h0M319.5 529h0M309.5 528.5h0M317 482.5h0M354 478.5h0M300 465h0M262.5 502.5h0M291 507.5h0M323.5 535.5h0M325 457h0M290 528.5h0M371 478h0M268 487h0M281 528h0M278 526h0M325.5 461.5h0M275.5 481h0M273.5 496.5h0M359 469h0M342 512.5h0M271.5 474h0M322 524.5h0M372.5 516.5h0M344 472.5h0M285.5 504h0M275 484.5h0M295 484.5h0M331.5 479.5h0M288.5 507.5h0M341 499.5h0M271.5 501.5h0M357.5 489h0M337.5 488.5h0M305 529.5h0M272 512h0M345 472h0M291 525h0M365 507h0M299 466h0M279 456.5h0M332.5 531h0M319.5 484.5h0M310.5 509.5h0M353.5 496.5h0M269.5 477h0M303 535.5h0M280 517h0M345.5 483h0M297.5 472h0M306.5 469.5h0M262 477h0M299 514.5h0M318 455.5h0M351 501h0M375 482.5h0M289.5 464h0M317.5 515h0M352 490.5h0M367 532.5h0M311.5 531.5h0M278 488h0M344 472h0M307 506.5h0M353.5 512.5h0M299.5 514.5h0M300 514h0M263 473h0M348 495.5h0M314.5 484h0M311.5 489.5h0M344 518h0M313 479.5h0M283 528h0M287 482h0M353 503h0M358 493h0M305 518.5h0M285.5 487.5h0M306.5 484h0M340.5 523.5h0M330.5 496h0M367 532h0M335 519.5h0M331.5 534h0M332.5 484h0M287 457.5h0M317.5 499.5h0M277.5 529h0M305 467.5h0M287 490h0M288.5 516h0M332.5 482.5h0M262.5 497.5h0M290 455.5h0M355 469.5h0M366.5 492h0M359 513h0M267.5 460.5h0M336.5 513.5h0M275.5 499.5h0M349 508h0M325 456h0M316 515h0M275 475h0M360 491h0M370 496.5h0M308.5 459h0M370.5 458h0M330.5 498.5h0M277 457h0M300 526.5h0M310 456.5h0M278.5 515h0M345 477.5h0M343 487h0M321 535.5h0M304.5 470h0M323.5 517.5h0M317.5 467h0M363.5 507.5h0M303 505.5h0M272.5 497.5h0M294 524h0M293 496h0M343.5 526h0M324.5 501h0M292 525h0M367.5 481h0M280.5 531h0M268 530h0M346 469h0M319 461.5h0M276.5 455h0M286 535.5h0M325 505h0M353 514.5h0M372.5 484h0M345 473h0M273 513.5h0M267 512.5h0M328.5 473.5h0M317.5 464h0M323.5 456h0M278 481.5h0M275.5 477h0M310.5 466.5h0M273 477.5h0M279 535.5h0M297.5 458h0M331.5 519.5h0M316 459h0M275.5 524h0M357 521h0M332 490.5h0M347 490h0M343 481h0M312 510h0M365 455h0M321.5 461.5h0M342 502.5h0M263.5 536.5h0M309.5 526.5h0M329 495h0M285 458.5h0M316 480.5h0M343.5 494h0M313 525h0M295.5 469.5h0M321.5 471.5h0M336.5 495.5h0M275.5 497h0M339.5 494.5h0M313 510h0M355.5 486.5h0M365.5 495h0M270 467h0M319 458h0M297 476.5h0M336.5 511.5h0M356 535.5h0M269 489h0M306.5 495.5h0M314.5 480.5h0M291.5 521.5h0M325 472h0M367 532.5h0M349 531h0M290 520.5h0M356.5 526.5h0M329.5 474.5h0M291 521h0M342.5 495h0M320.5 462.5h0M266.5 505h0M351.5 512h0M315.5 491h0M272.5 482.5h0M344 508h0M285 479.5h0M273.5 501h0M356 477h0M330 505.5h0M279 462h0M314.5 465.5h0M287 534.5h0M342.5 498.5h0M368.5 522.5h0M326 521.5h0M325.5 533h0M327 460h0M296.5 530.5h0M311.5 481h0M290.5 525.5h0M360 528.5h0M305.5 522h0M296.5 483.5h0M305.5 535h0M350 499h0M303 475.5h0M284.5 534.5h0M366.5 530h0M265 527h0M283.5 514h0M282.5 468.5h0M275 465.5h0M300 488.5h0M313.5 473.5h0M318 463h0M368 493.5h0M310.5 501.5h0M369.5 526h0M276 462h0M304 506h0M290.5 534h0M294 500h0M313.5 480h0M355.5 532.5h0M266.5 493h0M369 460h0M339.5 502.5h0M296 529h0M281.5 480.5h0M268.5 455.5h0M305 457.5h0M331.5 530h0M317 468h0M261 513.5h0M277 531h0M318.5 464h0M372.5 468.5h0M370 469.5h0M284 536h0M351.5 500h0M300.5 488h0M326 455.5h0M343 528.5h0M277 510h0M357 527h0M271.5 530.5h0M279.5 465h0M315 487.5h0M276.5 482.5h0M373 457.5h0M298.5 521.5h0M352 494h0M287.5 529h0M307.5 464.5h0M335.5 527.5h0M312 520.5h0M317.5 498.5h0M305.5 488.5h0M302 524h0M302.5 474h0M283.5 489.5h0M303.5 516h0M340 527h0M291 509h0M331.5 530.5h0M364.5 522h0M316 463h0M335 533.5h0M266.5 515h0M362.5 483h0M352.5 456.5h0M306.5 502h0M321 530h0M267 518.5h0M315 456.5h0M348 474.5h0M268.5 473.5h0M309 459.5h0M286.5 475h0M283 528.5h0M274.5 528.5h0M277 468h0M280 530h0M276.5 513h0M296.5 521h0M332.5 537h0M293.5 466.5h0M330 460.5h0M356.5 494h0M348 525h0M318.5 460.5h0M308.5 516h0M281.5 477.5h0M312 498.5h0M263.5 463h0M331 495h0M288.5 499.5h0M320.5 455h0M300 502.5h0M307.5 501.5h0M338 484.5h0M368.5 488h0M287.5 473.5h0M304.5 519h0M331.5 462h0M347.5 513h0M302.5 527.5h0M344 530h0M303.5 510.5h0M272.5 520h0M336 467h0M358 520.5h0M319 460h0M349.5 458.5h0M352 509h0M318.5 520.5h0M368 467h0M266 467.5h0M371 498h0M330 458.5h0M293.5 480h0M284 534.5h0M317.5 498.5h0M270.5 513.5h0M309.5 455h0M330.5 514h0M286 485.5h0M301 468.5h0M348.5 532h0M373.5 470h0M344.5 506.5h0M349 495.5h0M280 535h0M311 495h0M297.5 459h0M363.5 470h0M366.5 462h0M335 462h0M369.5 497h0M275 472h0M331 456.5h0M265.5 534.5h0M286 470.5h0M263.5 522h0M361 471h0M320.5 533.5h0M316 485h0M312.5 466.5h0M291 461.5h0M350 531.5h0M330 475.5h0M326 503.5h0M280 523h0M268.5 505h0M287.5 484h0M282.5 522.5h0M348.5 458h0M317 477.5h0M372.5 508.5h0M340.5 512.5h0M349 482h0M303 478.5h0M340 529h0M300.5 476.5h0M341 462.5h0M288 534.5h0M324 530.5h0M338 456h0M314 483.5h0M315 504.5h0M318 489h0M278 525.5h0M322 499.5h0M286.5 515.5h0M323.5 471.5h0M309 512.5h0M315 495.5h0M295.5 465h0M289.5 468.5h0M337.5 520h0M287 464h0M341.5 501h0M273 473h0M318.5 513h0M268 520.5h0M338.5 480.5h0M290.5 485h0M342.5 479h0M263 490.5h0M364 468h0M369.5 475.5h0M333 507h0M281 464h0M314.5 532.5h0M374.5 476.5h0M353.5 531h0M319.5 493h0M276.5 478.5h0M333 483h0M292.5 462h0M341 526.5h0M263 469.5h0M267.5 490h0M303 536h0M366.5 468h0M311.5 470h0M303 527.5h0M347 476.5h0M329.5 473.5h0M273 492.5h0M337 489.5h0M358 525h0M303.5 458h0M318 462.5h0M335.5 472.5h0M326 507.5h0M368 516h0M362 519h0M350 474.5h0M338.5 478h0M327 473h0M270 534.5h0M290.5 484.5h0M311.5 535.5h0M279.5 460h0M295 535.5h0M273 519.5h0M278 477.5h0M327.5 527.5h0M279.5 480h0M299 515.5h0M262.5 505h0M323 525.5h0M262.5 518h0M315.5 506.5h0M321 495h0M293.5 457.5h0M272.5 489h0M306.5 458h0M373.5 455.5h0M348 496h0M345 467.5h0M326 526.5h0M349 468h0M338.5 509h0M367 491h0M331.5 454.5h0M315.5 536.5h0M302 501.5h0M315.5 480h0M275.5 473h0M272 487h0M284.5 535h0M264 505h0M321.5 490.5h0M281 500.5h0M285 484h0M349 494h0M321 506.5h0M348.5 457h0M346 520h0M270.5 457h0M286 537h0M295.5 517h0M290.5 503h0M293 502h0M330 486h0M332 526.5h0M278 484h0M268.5 507h0M279 523.5h0M359 498.5h0M270 501.5h0M273.5 531h0M329 503.5h0M374.5 516.5h0M330 477h0M328.5 489h0M299.5 509h0M358 500h0M373.5 528.5h0M279.5 505h0M271.5 535h0M328 457h0M272.5 475.5h0M319.5 456h0M277 525.5h0M301.5 512h0M286 503.5h0M284.5 527.5h0M291.5 506h0M337 475h0M286.5 457.5h0M283 537.5h0M356 517.5h0M262 521h0M286.5 507.5h0M351.5 470.5h0M270.5 527h0M328 509.5h0M349 515h0M279.5 470.5h0M368 462.5h0M327.5 456.5h0M302.5 470h0M305 495.5h0M286 530h0M327.5 482h0M351.5 510h0M286.5 519h0M363.5 520h0M269 485h0M280 513h0M359 471h0M304.5 484.5h0M295 526.5h0M299.5 518h0M315 489.5h0M368.5 491h0M340.5 510h0M319 464h0M364 456h0M311 479.5h0M341.5 458.5h0M263.5 516h0M365.5 479h0M335.5 480h0M312.5 496h0M299 473.5h0M302.5 517h0M324 485h0M352.5 518h0M347.5 487h0M337.5 487.5h0M350 475.5h0M346 510h0M362 461h0M278 476.5h0M283 473.5h0M353.5 522h0M350.5 522.5h0M307 461h0M300 468.5h0M276.5 532.5h0M335.5 490.5h0M278.5 486h0M304.5 533.5h0M317.5 502h0M261 456.5h0M269 486h0M287.5 461.5h0M290.5 531h0M338.5 488h0M347.5 531.5h0M356 522.5h0M267.5 504.5h0M304.5 497.5h0M268.5 499h0M336 509h0M275.5 459h0M363.5 472h0M288.5 459.5h0M278.5 488.5h0M357 511.5h0M361 462.5h0M317.5 461h0M369.5 486h0M363.5 527h0M347.5 506h0M370 495h0M325.5 469.5h0M320.5 491h0M314 514h0M359 455h0M340.5 502.5h0M335.5 455.5h0M298.5 532.5h0M365 482.5h0M359 506h0M294.5 501.5h0M321 520.5h0M363.5 489.5h0M320.5 460h0M273.5 458h0M373 487h0M302 464h0M300 459.5h0M271 503h0M313 455h0M323 537h0M299 493.5h0M348 464h0M351 458h0M310 495.5h0M323 511h0M299 525h0M348 509.5h0M302.5 464h0M264.5 517.5h0M367 484.5h0M293.5 501h0M374.5 531h0M313.5 516h0M330 537.5h0M350.5 535.5h0M282 478.5h0M262 463.5h0M355 529h0M313 502h0M334.5 531.5h0M336 466.5h0M359 523.5h0M263.5 456h0M364 459h0M288 486h0M274.5 479.5h0M331 518h0M293.5 518h0M343 507.5h0M286.5 482.5h0M287 498.5h0M323.5 476h0M323 493h0M291 518.5h0M373 494.5h0M289 509h0M340 537h0M265.5 467h0M368 493.5h0M359.5 519.5h0M373.5 514.5h0M354.5 495h0M354.5 501.5h0M286 488.5h0M324 471h0M289 535h0M287.5 462h0M338.5 516.5h0M352 463h0M288 528.5h0M304 512.5h0M296 522.5h0M330 487h0M327 493.5h0M330.5 527.5h0M322 475h0M372.5 523.5h0M283 501h0M272.5 502h0M317.5 487h0M292 498h0M289.5 458h0M351.5 496.5h0M371 485h0M284.5 459h0M348 533.5h0M269 455.5h0M324 528h0M367.5 474.5h0M355 478h0M355.5 495h0M339.5 522.5h0M278.5 463.5h0M315 514.5h0M305 488.5h0M372 470h0M267.5 491h0M308 489h0M311 460h0M349 534.5h0M265.5 528h0M304 493.5h0M309.5 494h0M263 513h0M297 530.5h0M365.5 461.5h0M351 457h0M336 523h0M354 537h0M308.5 534.5h0M351 495h0M322.5 520h0M272.5 454.5h0M267 463h0M265.5 505.5h0M375 487.5h0M328 528.5h0M357 493h0M341 457.5h0M292.5 463.5h0M339.5 524h0M272.5 521.5h0M289.5 527.5h0M283 465.5h0M262.5 517.5h0M293.5 531h0M288.5 536h0M371 462h0M321.5 460h0M356 507.5h0M284.5 534h0M279.5 533h0M373 516.5h0M269.5 469h0M334 480.5h0M357.5 505.5h0M349 531h0M312 514h0M299.5 519h0M284.5 480h0M327 454.5h0M314 468.5h0M347.5 460h0M292 508.5h0M354.5 537.5h0M314.5 491h0M335 521h0M328 468.5h0M368.5 533h0M315.5 464.5h0M351 478.5h0M274.5 521.5h0M295.5 510.5h0M285.5 514h0M283 481h0M265 504.5h0M359.5 518.5h0M357 490h0M287.5 459h0M284 535h0M273 502h0M301 464.5h0M304 479h0M296 455h0M328.5 536h0M334.5 514h0M292 459h0M304 516.5h0M368 527.5h0M266 464h0M358.5 502h0M323.5 457h0M358.5 455h0M310 533.5h0M263.5 484.5h0M268.5 461.5h0M336.5 536h0M358 526.5h0M279.5 509h0M327.5 489.5h0M284 500h0M287 522h0M317 493h0M291 478.5h0M267 512.5h0M304.5 471.5h0M368 483h0M271 491h0M331 490h0M334 521h0M304 514.5h0M272 496.5h0M346.5 460h0M261 528.5h0M366.5 472.5h0M374 479h0M312.5 531.5h0M301.5 515.5h0M266 501.5h0M269.5 471.5h0M347 524h0M289.5 497h0M338 500.5h0M309.5 534.5h0M315 467.5h0M363 462.5h0M320.5 462.5h0M300.5 504h0M356.5 524.5h0M374.5 510h0M293 512h0M305.5 491.5h0M318.5 532h0M295 457.5h0M274 526h0M370.5 486h0M263 458h0M290.5 457h0M330 477.5h0M298 470h0M261.5 465h0M322.5 496.5h0M374 466h0M295 480h0M273.5 461.5h0M273.5 475h0M327.5 524h0M341 458.5h0M346.5 460.5h0M296.5 503.5h0M313.5 495h0M279 498h0M276.5 476h0M349.5 471h0M268 535.5h0M348 524h0M286 524h0M298 473.5h0M326.5 467.5h0M273.5 537h0M266.5 489h0M276.5 511h0M332 474h0M364.5 479.5h0M262 494h0M369.5 474.5h0M288 509h0M368 497.5h0M343 517.5h0M294 481.5h0M359 500.5h0M359.5 484.5h0M280 504.5h0M361.5 511.5h0M317 489h0M350 495h0M305.5 466h0M319.5 464.5h0M356.5 497.5h0M365 525.5h0M264.5 505h0M373 528h0M292 497h0M266 514.5h0M291 482h0M315 466h0M339 535.5h0M344 501.5h0M369.5 486.5h0M349.5 527.5h0M303.5 515.5h0M328 475.5h0M278.5 463.5h0M272.5 519h0M273.5 528h0M310.5 473.5h0M338 462h0M295 481h0M307 483.5h0M285 479h0M331 511.5h0M367.5 511.5h0M373.5 515.5h0M351 527.5h0M374.5 485h0M324.5 477h0M329 526h0M348 474h0M334.5 476.5h0M318 515.5h0M328 462h0M309 513.5h0M329.5 502.5h0M279.5 475.5h0M299.5 480.5h0M358 537.5h0M334.5 516h0M296.5 490.5h0M341 509h0M334 456.5h0M357 468.5h0M317 496.5h0M357.5 494h0M363 493.5h0M345 511.5h0M370.5 526h0M350 496h0M343.5 515.5h0M321 524h0M332.5 482.5h0M359.5 519h0M321 523h0M373.5 473.5h0M263.5 497.5h0M306 509h0M359 492.5h0M262 480h0M302 463.5h0M358 468h0M330.5 492.5h0M267.5 463h0M314.5 519h0M372 513h0M347 523.5h0M337 481.5h0M289.5 503h0M287.5 487.5h0M276.5 472h0M281.5 499h0M289.5 531.5h0M285.5 503.5h0M316 470h0M277 480.5h0M309 488.5h0M299 474.5h0M261 506.5h0M354 481.5h0M354 460h0M305.5 495h0M292.5 497.5h0M337.5 495.5h0M287 476h0M302.5 480h0M292 457.5h0M292.5 488.5h0M339.5 490.5h0M310 474h0M284.5 500h0M368.5 521h0M305.5 527h0M303 474.5h0M373 533.5h0M314.5 505.5h0M352.5 500h0M324 459.5h0M290.5 465h0M351.5 455h0M348 531h0M327 496h0M336.5 509.5h0M334.5 474.5h0M265 525h0M331 525.5h0M304 467h0M264.5 498.5h0M328.5 463.5h0M371 501h0M356.5 528.5h0M273 468h0M311.5 514.5h0M342 519h0M292 470h0M309.5 463.5h0M293.5 459.5h0M282 457h0M270 477.5h0M284.5 522h0M295.5 466h0M284 517.5h0M332.5 506h0M287 472h0M316 469h0M274 462h0M324 533.5h0M285.5 534h0M293.5 500h0M328.5 495h0M363 470h0M354.5 464h0M292 532h0M292.5 471.5h0M335 530.5h0M282.5 516.5h0M305.5 509.5h0M335.5 515.5h0M273 476.5h0M319 493.5h0M271 463.5h0M340 490h0M309.5 514h0M330 486h0M287.5 536.5h0M307.5 504.5h0M343.5 491h0M285.5 496.5h0M304.5 466h0M355 516h0M363.5 461.5h0M272.5 464.5h0M372.5 518.5h0M351 503h0M314 468.5h0M270.5 475h0M281 471h0M343 457h0M324.5 485.5h0M337 510.5h0M348.5 484h0M358.5 504h0M288.5 467h0M331.5 471.5h0M363 503.5h0M282 529h0M359.5 494h0M363.5 537.5h0M297 461.5h0M316.5 482h0M297.5 507h0M272.5 511h0M367.5 522.5h0M357.5 522h0M295 521.5h0M324 456.5h0M365.5 516.5h0M274.5 512.5h0M331 460.5h0M359 456h0M278.5 465h0M319.5 462h0M310.5 455.5h0M373.5 473h0M331.5 477h0M302.5 490h0M371.5 522.5h0M345 514.5h0M348.5 461h0M372 456.5h0M268.5 499.5h0M278 531.5h0M311.5 486.5h0M332 502h0M341 495.5h0M285.5 531.5h0M372.5 509h0M262 523.5h0M314.5 459h0M304 520h0M306 507h0M309 522h0M341 494h0M285 458h0M320.5 497h0M269 464.5h0M293 468.5h0M361.5 475h0M283 471.5h0M322.5 531.5h0M301 525h0M366.5 479.5h0M313.5 524.5h0M297 499.5h0M363.5 514.5h0M301.5 474.5h0M299.5 513.5h0M278 481.5h0M338 479h0M300.5 487.5h0M292.5 467.5h0M361 491h0M360 527.5h0M335 490.5h0M352 480.5h0M302 476.5h0M369.5 455h0M284 535h0M342.5 531h0M291.5 516h0M325 493.5h0M342 463h0M356.5 455h0M323.5 530h0M281.5 529.5h0M328 505.5h0M290.5 470.5h0M359.5 536h0M286 526h0M322 481h0M288.5 536.5h0M341 489.5h0M353.5 533h0M360.5 526h0M366 509h0M284 492.5h0M276 518.5h0M337 470h0M278 469.5h0M342 508.5h0M303.5 472.5h0M312.5 483h0M289.5 458h0M281.5 473.5h0M353.5 494h0M338.5 462h0M315.5 485.5h0M316 498.5h0M281.5 533h0M340.5 460.5h0M313.5 500.5h0M351.5 514h0M264.5 469h0M300 522.5h0M296 505h0M283 482h0M341.5 456h0M329 460.5h0M317 499h0M307 465.5h0M311.5 481h0M342 455h0M332.5 520.5h0M269.5 494h0M323.5 480h0M283 497h0M342 495.5h0M307 467h0M315 485h0M313.5 485.5h0M321 468.5h0M324 515h0M311 475.5h0M268.5 485.5h0M352.5 479.5h0M328 489h0M343 518h0M354.5 505h0M341.5 536h0M371.5 489.5h0M364 475.5h0M323.5 508.5h0M269 501.5h0M342.5 467h0M296.5 537.5h0M356.5 499h0M330.5 494h0M297 481h0M282 464.5h0M314.5 493h0M309.5 529.5h0M322 502h0M327 525h0M351 459h0M300 495.5h0M343 503.5h0M276 478.5h0M272.5 472h0M285.5 473h0M261.5 524h0M319 517.5h0M291.5 479.5h0M295 484.5h0M330.5 513.5h0M332 519h0M373 481h0M291 537.5h0M280.5 488h0M274 481h0M371 473h0M331.5 499h0M285 473h0M321 492h0M364 534.5h0M344.5 514h0M283 456h0M275 528h0M319.5 458h0M341 532.5h0M278 512.5h0M370 478h0M372.5 491.5h0M312 482h0M271.5 526.5h0M342.5 494.5h0M290.5 490h0M266.5 464h0M374.5 468h0M311 508h0M276.5 482.5h0M310 459.5h0M288.5 532.5h0M289.5 515h0M303.5 494h0M370.5 473.5h0M262.5 462.5h0M262 536h0M280.5 485.5h0M367 529h0M344 476.5h0M266 510h0M358 497h0M350 535h0M273.5 517h0M337.5 498h0M270.5 502h0M342.5 467.5h0M317.5 496.5h0M335.5 497h0M357.5 483.5h0M286 533h0M264 529h0M264 469h0M286 524h0M354 534h0M326.5 520.5h0M341 482h0M275 484h0M282.5 490.5h0M296.5 531.5h0M314.5 499.5h0M269 454.5h0M263.5 482.5h0M312.5 505h0M275 468h0M274.5 484.5h0M334.5 502h0M322.5 519.5h0M290.5 531h0M265 535.5h0M372.5 524.5h0M273.5 462.5h0M367.5 524.5h0M271.5 475h0M323 511h0M369.5 518h0M288 490h0M317 531h0M336.5 510.5h0M343 486h0M323.5 481.5h0M371.5 527h0M323.5 461h0M317 524h0M285 459.5h0M282.5 500h0M302 521h0M343.5 519h0M317.5 487.5h0M343.5 458.5h0M355 476h0M306.5 472h0M321.5 526.5h0M345.5 478h0M363 485.5h0M284 492.5h0M340 527.5h0M309 504.5h0M358.5 459.5h0M344 456h0M340 527h0M366 511h0M267.5 513h0M278 459.5h0M315.5 456.5h0M319.5 537h0M314.5 536.5h0M364.5 478.5h0M358 479h0M329 515h0M344.5 521.5h0M353.5 516.5h0M305 476h0M284 513.5h0M354.5 527h0M347.5 478.5h0M275.5 501h0M307.5 480h0M331 532h0M313.5 519h0M368 497h0M329.5 495.5h0M283.5 458h0M298 478.5h0M360.5 484h0M294.5 471.5h0M363.5 495h0M263.5 480h0M287.5 519h0M325.5 481h0M345 536h0M289.5 536h0M274 462.5h0M360.5 515.5h0M291 484h0M370.5 475.5h0M269 519h0M373 460h0M271 536h0M331.5 512.5h0M326 530.5h0M309.5 455.5h0M331 532h0M346 495h0M285.5 499.5h0M305 455.5h0M268.5 488h0M263 464h0M276.5 526.5h0M347 524h0M313 505h0M330 513.5h0M304.5 487.5h0M369 460.5h0M298.5 531h0M281.5 469.5h0M306.5 498.5h0M264.5 461.5h0M315.5 496.5h0M336.5 463h0M294 476h0M293.5 469.5h0M352 492.5h0M324.5 474.5h0M328.5 497h0M360.5 501.5h0M291 504h0M367.5 497h0M334.5 457h0M364.5 491h0M288.5 498h0M329 491.5h0M322 495.5h0M361.5 482.5h0M266 515.5h0M315 507.5h0M297 475.5h0M334.5 524h0M279 532.5h0M308.5 461.5h0M285 497.5h0M292.5 489h0M269.5 486h0M324.5 498.5h0M329.5 457.5h0M265 529h0M278.5 468h0M347.5 493.5h0M274.5 464.5h0M288 533h0M365 457h0M319 528.5h0M268.5 534.5h0M314 524.5h0M275.5 501h0M275 488.5h0M293.5 533h0M284.5 532h0M334.5 482.5h0M271 477h0M338 493.5h0M340 461.5h0M351 527h0M264 526.5h0M320 495h0M365 512h0M327.5 459.5h0M367.5 514.5h0M302.5 518h0M292 491h0M349 477.5h0M306 500.5h0M321.5 465h0M281 483h0M349.5 476.5h0M371 537h0M274 462h0M373.5 484h0M325 527h0M264 497.5h0M359.5 485h0M293 462h0M277.5 505h0M312.5 526.5h0M343.5 515h0M293.5 457.5h0M310.5 483h0M346 519.5h0M322 516h0M289.5 522.5h0M280 470h0M274.5 515h0M298.5 517.5h0M346 528.5h0M340 529h0M262 462.5h0M346 482h0M327.5 466.5h0M275.5 499h0M284.5 514h0M372 517h0M352 518.5h0M372 461.5h0M306 456h0M267.5 468.5h0M344 530.5h0M294.5 520h0M356.5 533h0M274 465h0M288 481.5h0M287.5 457h0M301 534h0M287.5 507h0M305.5 498h0M280 475.5h0M266 493h0M279.5 493.5h0M291.5 474.5h0M313.5 533.5h0M315 525.5h0M350.5 501.5h0M340 530.5h0M301 499.5h0M354.5 469h0M354 501h0M332 534.5h0M331.5 519h0M332.5 482h0M283 497h0M285 500h0M275.5 464h0M333 486.5h0M339.5 471.5h0M308.5 534h0M337.5 516.5h0M326.5 497.5h0M305.5 494h0M338 461.5h0M330 460.5h0M353.5 520h0M342 515h0M279 500h0M360 504.5h0M336.5 470.5h0M312 458.5h0M363 477h0M339.5 470.5h0M325 460.5h0M317 520h0M329 478.5h0M306.5 520h0M312.5 511h0M362.5 466.5h0M304 525.5h0M289 498.5h0M369 517h0M326.5 460h0M338.5 459.5h0M310.5 458h0M362 511.5h0M340 478h0M339 516.5h0M375 511.5h0M360.5 515.5h0M264 516.5h0M353 535.5h0M325 459.5h0M300 495h0M318.5 468.5h0M311.5 535h0M350.5 514.5h0M354 488h0M261 482h0M343.5 486h0M289.5 476.5h0M329.5 472.5h0M333 532.5h0M332.5 461h0M371.5 483h0M320.5 520.5h0M290.5 531h0M345.5 527h0M302.5 473h0M295 502h0M297.5 519.5h0M327.5 464h0M373.5 532.5h0M261.5 465h0M269 461.5h0M358 533.5h0M335 480.5h0M355 490h0M261 485.5h0M272.5 518.5h0M369.5 493.5h0M297.5 513h0M345 469.5h0M337 480.5h0M364.5 489h0M358.5 501h0M262 509h0M319.5 500.5h0M267.5 491.5h0M340 529.5h0M275.5 507h0M287.5 469.5h0M368.5 515h0M289 527.5h0M350 474h0M371.5 457.5h0M318.5 522h0M273 491h0M315.5 464h0M340 491.5h0M277.5 471.5h0M338 493.5h0M320 474h0M318 534.5h0M290.5 465h0M320.5 463h0M323 468.5h0M345.5 519h0M279 459h0M271 518.5h0M372 501h0M308.5 495h0M322 486h0M328.5 492.5h0M319.5 513.5h0M319 534h0M343.5 516h0M371 487.5h0M317 515h0M274 525h0M302 472.5h0M312.5 518h0M294 462.5h0M341.5 467h0M366 484.5h0M307 509h0M263 484.5h0M333.5 476h0M273.5 458h0M329 472h0M367.5 491h0M288 459.5h0M295 458h0M360 462.5h0M293.5 477.5h0M268.5 482.5h0M269.5 520h0M349.5 476h0M351 530.5h0M361.5 519.5h0M336 533.5h0M322 481.5h0M304 467h0M360.5 495.5h0M355.5 477.5h0M326.5 468h0M294.5 527.5h0M368.5 520h0M267 494.5h0M263.5 483h0M357.5 472h0M317.5 457h0M361.5 524h0M322 460.5h0M326.5 495h0M282 510.5h0M326.5 463.5h0M281.5 489h0M350.5 518h0M275 500h0M327.5 484h0M305.5 484h0M326 535h0M274.5 506.5h0M278.5 508.5h0M277.5 493.5h0M366 470h0M367 486.5h0M312 501.5h0M262.5 491h0M309 469.5h0M336.5 509.5h0M331.5 513h0M367.5 477.5h0M330.5 513h0M300.5 529h0M369.5 511.5h0M313.5 509.5h0M270 497h0M341.5 474h0M268 515h0M331 468.5h0M345.5 520h0M320 495h0M302 471h0M298 474h0M348.5 513h0M370.5 522.5h0M350 493h0M280 471.5h0M283.5 497h0M364 456h0M357.5 494h0M290 456.5h0M371.5 474.5h0M328 485h0M265.5 466h0M297.5 473h0M342.5 501h0M327 533.5h0M296 472h0M337 490.5h0M373.5 504h0M369.5 519.5h0M355.5 477.5h0M347 499h0M362 467h0M272 472.5h0M272 473h0M327.5 473.5h0M307 502.5h0M313.5 480.5h0M265.5 532h0M264 497h0M288 522.5h0M337.5 510.5h0M281.5 488h0M309.5 523h0M296 464.5h0M271.5 492.5h0M372.5 526.5h0M287.5 467h0M263.5 505.5h0M362.5 466.5h0M358 534h0M319.5 503h0M288.5 510.5h0M366 524.5h0M294 518h0M304 485.5h0M285.5 465h0M276.5 456.5h0M284 501h0M317.5 531h0M306 535h0M266.5 506.5h0M328.5 462.5h0M323 518.5h0M334.5 456h0M284.5 463.5h0M349 458.5h0M278.5 480.5h0M263 457.5h0M292.5 463.5h0M276 455.5h0M266 494h0M369.5 528.5h0M360.5 537h0M293.5 480.5h0M288.5 510h0M274.5 512h0M285.5 463h0M261.5 517.5h0M310 496h0M310 468.5h0M299.5 500h0M338 493.5h0M373.5 462h0M332 516.5h0M301.5 524h0M366 518.5h0M268.5 530h0M361.5 501h0M364 481h0M284 482h0M307 480.5h0M354.5 478h0M295 520h0M349 482h0M298.5 491h0M320.5 457h0M334.5 514h0M282 458h0M340 537h0M363.5 530h0M351.5 516h0M283 473.5h0M334 462.5h0M298 521.5h0M338 484.5h0M344.5 471.5h0M360 462.5h0M372.5 476.5h0" fill="none" stroke="#72728e" stroke-width="1.9" stroke-linecap="round" opacity="0.52"/>
<path d="M264.5 530h0M299.5 489h0M303.5 532.5h0M284.5 482.5h0M285 469h0M298.5 515.5h0M360 460h0M305 461h0M285 520.5h0M312 463h0M307.5 535h0M291 536h0M343.5 485h0M318.5 494h0M276 515.5h0M371 528.5h0M362 487h0M317.5 496h0M343.5 523h0M332.5 479.5h0M345.5 532h0M343 485.5h0M373 482.5h0M277 480.5h0M302.5 478.5h0M320.5 457.5h0M325 526h0M330 459.5h0M279 456.5h0M337 497.5h0M270 527h0M311.5 455.5h0M277 487h0M337 480.5h0M301.5 476.5h0M343 503h0M353 485h0M288.5 459.5h0M374.5 467.5h0M372 494.5h0M286.5 466.5h0M287.5 463.5h0M324.5 495.5h0M308.5 518.5h0M308 520h0M317 472h0M287 462h0M306 508h0M372.5 503.5h0M321.5 518.5h0M278.5 531h0M325.5 508h0M319 503h0M265 536.5h0M272.5 496.5h0M289 455h0M315 478h0M307 467h0M319.5 512.5h0M341.5 464.5h0M337.5 513h0M288.5 486h0M272.5 518h0M343 462h0M297 474h0M362 481h0M374.5 507h0M339 460.5h0M315.5 533h0M297 536h0M329.5 487h0M340.5 480h0M304 534.5h0M362 529h0M268.5 462.5h0M339 465.5h0M289 487.5h0M264 526.5h0M349 483.5h0M283.5 461.5h0M371.5 525.5h0M335 520h0M265.5 472h0M283.5 465h0M306 458.5h0M262.5 471h0M275.5 497.5h0M285 532.5h0M347 511.5h0M338 499h0M332.5 478h0M314 458.5h0M367 500.5h0M341.5 508h0M272.5 525h0M264 460.5h0M270 455.5h0M367.5 485.5h0M270.5 463h0M300.5 527h0M347.5 465h0M265 496.5h0M310 492h0M271.5 524h0M278 503.5h0M285 496.5h0M322.5 530.5h0M289.5 526h0M293 468h0M365 482.5h0M280.5 496.5h0M292.5 479.5h0M359.5 527.5h0M310.5 460.5h0M358.5 474h0M312.5 484.5h0M292 465.5h0M303.5 459.5h0M282.5 511.5h0M272.5 501h0M263.5 481h0M328 463.5h0M355 508.5h0M320 525.5h0M269 477.5h0M366 533h0M358.5 532h0M270 495h0M281 510.5h0M317 476h0M309 489.5h0M320.5 522h0M310.5 464.5h0M361.5 469.5h0M355 486h0M276.5 532h0M348 519.5h0M371.5 464.5h0M357.5 531h0M310.5 463.5h0M314 514h0M346.5 512.5h0M308.5 481h0M288.5 476h0M326 456.5h0M367.5 536.5h0M323.5 482.5h0M269.5 534h0M351.5 488.5h0M265.5 477h0M370.5 477.5h0M337.5 484h0M291 461.5h0M262 477.5h0M275 534.5h0M276.5 456.5h0M364 500.5h0M312.5 533.5h0M348.5 460h0M266.5 520h0M329 531.5h0M279 529.5h0M355 480h0M353 500h0M276 507.5h0M287 522.5h0M301.5 457h0M267 504.5h0M308 495.5h0M302.5 477h0M328 462.5h0M341.5 489.5h0M294 520.5h0M284.5 513.5h0M273.5 503h0M266 526.5h0M321 512h0M362 525.5h0M361 492.5h0M332.5 485h0M375 533.5h0M296 472h0M293.5 508h0M321.5 455.5h0M284.5 510.5h0M267 503h0M357.5 466h0M366 517.5h0M357 485h0M303 462.5h0M329 473.5h0M288 504.5h0M284 471.5h0M318.5 495.5h0M281 506h0M297 483.5h0M282 511h0M289 528h0M363.5 510.5h0M277 465h0M311 456.5h0M315 518h0M263 478h0M270.5 459h0M324.5 479h0M299 478h0M337 511h0M293 483.5h0M306 474.5h0M348.5 490h0M338 481.5h0M284.5 460h0M351 514.5h0M370.5 494h0M356.5 531h0M263 461.5h0M338 518.5h0M310 464.5h0M322.5 520.5h0M303 475h0M284 511h0M322.5 499h0M298.5 462.5h0M373 523h0M342.5 503.5h0M354.5 472.5h0M360 537h0M286.5 458h0M358 495h0M277 497h0M292.5 510h0M319 464h0M284.5 529h0M328.5 483.5h0M316.5 491h0M324 505h0M337 530h0M323 536.5h0M345 460.5h0M286 476.5h0M274.5 511h0M289 523.5h0M328 521h0M319 473h0M311.5 455.5h0M304 521h0M274 500h0M335 463.5h0M279 455.5h0M326.5 516.5h0M285.5 466.5h0M298 477h0M367 528h0M359.5 536.5h0M271.5 521h0M263 476h0M287 523h0M344 529.5h0M263 535h0M271.5 483.5h0M350 524h0M326 529.5h0M343.5 487.5h0M274 520.5h0M333 520h0M343 477h0M269.5 487.5h0M269.5 501.5h0M307.5 464.5h0M273 518.5h0M324.5 533h0M357 493h0M264.5 489h0M295 534h0M261 512h0M326.5 472h0M270.5 495h0M327.5 466h0M286 495h0M372.5 521h0M313 476.5h0M371.5 493h0M288 479h0M294.5 523h0M309 465h0M276 463.5h0M276 511h0M298.5 461h0M325 491.5h0M317.5 458h0M293.5 462h0M342 457h0M293.5 522.5h0M271.5 530h0M300 518h0M306.5 482h0M308 518.5h0M271.5 471.5h0M370.5 509.5h0M335.5 468h0M371 521.5h0M298.5 482h0M357.5 485.5h0M374.5 499.5h0M367.5 511.5h0M342.5 485.5h0M360 524.5h0M357 490.5h0M320.5 505h0M371.5 472.5h0M264.5 499h0M358 493h0M362 499.5h0M301.5 494h0M373 482.5h0M295 458h0M337.5 532h0M372 514h0M274.5 532.5h0M328.5 481.5h0M271 460.5h0M263 536.5h0M332 460h0M335 534.5h0M331 458.5h0M370.5 515h0M274.5 461h0M281.5 492h0M332 467h0M282.5 485.5h0M288.5 517.5h0M348.5 482h0M364.5 485.5h0M293.5 521.5h0M273 466h0M273 517h0M262 501h0M322 457.5h0M339.5 455.5h0M288.5 454.5h0M351.5 513h0M314.5 482h0M264 498h0M312.5 490h0M316.5 501h0M307.5 519h0M357.5 530.5h0M346 487h0M313 518.5h0M310.5 520.5h0M319 493.5h0M345.5 475.5h0M338 462.5h0M269 487.5h0M270.5 508.5h0M310.5 464h0M302.5 456h0M308.5 465h0M331.5 459h0M315 523.5h0M370 456.5h0M301.5 477h0M291.5 489.5h0M374.5 459h0M341 465.5h0M337 531.5h0M332.5 523h0M279.5 511.5h0M303 515h0M342 533.5h0M333.5 462h0M344.5 478h0M305.5 456.5h0M311.5 470.5h0M287 533h0M359.5 487h0M305.5 523h0M351 482.5h0M348 523h0M315 508h0M348 518.5h0M288.5 457h0M321.5 463.5h0M358 492.5h0M309 466h0M316.5 468h0M308.5 461.5h0M263.5 486h0M278 460.5h0M270.5 511.5h0M264 494.5h0M325 489h0M320 531.5h0M268 488.5h0M309 471h0M339.5 508.5h0M309 525h0M323 519h0M289.5 524.5h0M305 535h0M312.5 474.5h0M320 506h0M359.5 474h0M276 523h0M276 505.5h0M317.5 456h0M273 457h0M294 487.5h0M263 455.5h0M371 515h0M284 529h0M277.5 532.5h0M307.5 462.5h0M264.5 536.5h0M267 488h0M343 456.5h0M328 472h0M262 511.5h0M320 493h0M291 475.5h0M348 462.5h0M320.5 481h0M375 514.5h0M271.5 509h0M290.5 487h0M273 494.5h0M364 528.5h0M354 524.5h0M365.5 488.5h0M286 515.5h0M281.5 520h0M291 467h0M290 506h0M333.5 471.5h0M325 507.5h0M272 529h0M329 474h0M331.5 502h0M340 496.5h0M272.5 472.5h0M301.5 465.5h0M315 488.5h0M332 520.5h0M312.5 485.5h0M363 481h0M354.5 484h0M333.5 524h0M281 459h0M333.5 511.5h0M368.5 525.5h0M281.5 474.5h0M270 496.5h0M297.5 465.5h0M269.5 488.5h0M373 483.5h0M277 459.5h0M270 486.5h0M274 506.5h0M360.5 479.5h0M372.5 493h0M335 520.5h0M318.5 492h0M272.5 495h0M366.5 521.5h0M319.5 485h0M321 473.5h0M270 494.5h0M278.5 500h0M373.5 479.5h0M340.5 467h0M333 467.5h0M321 491.5h0M278.5 527h0M348.5 500h0M266.5 492.5h0M366 518h0M275 464.5h0M335.5 489.5h0M351 481.5h0M352.5 536h0M324 510.5h0M361.5 472h0M283 466h0M262 457.5h0M333.5 510h0M282 462.5h0M342 456h0M305.5 470.5h0M344.5 468h0M361 493.5h0M335.5 482h0M294 512.5h0M351.5 496.5h0M327 533.5h0M354 511h0M304.5 463h0M264.5 522h0M294.5 513.5h0M264.5 522.5h0M326 457.5h0M285 503h0M367.5 463h0M320 519.5h0M286 516h0M272 492.5h0M267 475h0M275 496h0M328.5 473h0M280 512.5h0M328.5 478.5h0M359 493h0M299 472.5h0M314.5 474h0M363.5 533.5h0M350 481h0M303 537h0M318 502h0M329 507.5h0M289.5 461h0M302 512.5h0M286.5 471.5h0M272 459h0M335 533.5h0M307.5 475.5h0M363 503h0M281.5 514h0M298.5 518h0M296 497.5h0M326 521h0M262 533h0" fill="none" stroke="#4a4a66" stroke-width="1.3" stroke-linecap="round" opacity="0.5"/>
</g>
<rect x="260.8" y="451.5" width="114.2" height="4.0" fill="#d6d6dc" />
</g>
<rect x="30.7" y="293.0" width="26.9" height="1.4" fill="#222"/>
<rect x="147.7" y="293.7" width="27.6" height="1.4" fill="#222"/>
<rect x="264.4" y="294.4" width="26.5" height="1.4" fill="#333"/>
<rect x="29.5" y="389.9" width="27.0" height="1.4" fill="#222"/>
<rect x="149" y="390.7" width="26.6" height="1.4" fill="#222"/>
<rect x="265.7" y="390.0" width="27.9" height="1.4" fill="#444"/>
<rect x="29.7" y="533.8" width="38.3" height="1.4" fill="#222"/>
<rect x="144.2" y="533.9" width="38.0" height="1.4" fill="#222"/>
<rect x="263.8" y="533.7" width="35.9" height="1.4" fill="#222"/>
<path d="M90.6 537.5 V500.6 H141.5" fill="none" stroke="#222" stroke-width="1.2"/>
<path d="M206.5 537.5 V500.3 H258.3" fill="none" stroke="#222" stroke-width="1.2"/>
<path d="M324.5 537.5 V501.4 H375.0" fill="none" stroke="#222" stroke-width="1.2"/>
<g fill="none" stroke="#1a1a22" stroke-width="1.1" stroke-linejoin="round">
<path d="M106 512.3 L110 510.5 L112.5 509.2 L117.5 510.5 L118 513.5 L116.5 516.5 L112.5 516.4 L109.5 514.8 Z"/>
<path d="M214.4 524 C216 521 220 518.5 226 517.6 C229 518 230.5 522 231 527 C231 529.5 228.5 530.5 225 529.5 C221 528.5 217 527 214.4 524 Z"/>
<path d="M213.9 509.4 C216 507 219 505 221.7 504.7 C224 504 226 503.5 227.9 503.2 C231 502.5 235 502 238.3 502.1 C240 502.3 241 503 240.3 503.7 C239 504.6 237 505 235.2 505.2 C233.5 505.5 231.5 506 231 506.8 C231.5 508 233 509.5 232.6 510.4 C232 511.5 231 512.5 230 512.5 C228 512.5 226.5 511 224.8 510.9 C223 510.9 221 512 219.6 512.5 C218 513 216.5 514 215.4 514.6 C214 515.5 212.5 517 211.3 517.2 C209.5 517 208.5 515.5 208.7 514.6 C209 513 209.5 512 210.2 511.5 C211.5 510.5 213 510 213.9 509.4 Z"/>
<path d="M217.5 508.9 C221 508 225 508.3 227.9 508.9"/>
<path d="M237 511.5 C240 509 246 508.5 251 511.5 C252.5 513.5 250 516.5 246 516.5 C242 516.5 238.5 515 237 511.5 Z"/>
<path d="M240.5 512.5 C244 511.5 247 512 249 513.5"/>
<path d="M238 524.5 C239 521 242 520 245.5 521.5 C247.5 520 250 518.5 252.5 520.5 C252 523 249 524.5 247.5 527 C246 529.5 242.5 530.5 239.5 529.5 C237.5 528 237.5 526 238 524.5 Z"/>
<path d="M327.5 516.2 C328.5 514.5 333 514 336.1 514.6 C335.5 517.5 333.5 520.5 331.8 522.1 C330 520.5 328.5 518.5 327.5 516.2 Z"/>
<path d="M354.4 516.8 C351.5 517.5 348 519 346.6 522.1 C346 525 347.5 528 349.1 527.8 C351 527 352.5 525.5 352.5 523.5 C352.8 521 354 519 354.4 516.8 Z"/>
<path d="M362.5 508.1 C360 509.5 358 512 358.2 515.1 C358.5 517.5 360 519 361 518.9 C362.5 519.5 364 521 365.7 521.1 C366.8 519 366.8 516.5 366.3 514.6 C365.5 512 364.5 509.5 362.5 508.1 Z"/>
</g>
<text transform="translate(20.3,268) rotate(-90)" x="0" y="0" font-size="8.5" text-anchor="middle" font-weight="normal" fill="#1a1a1a" >CD11b</text>
<text transform="translate(14.6,305.5) rotate(-90)" x="0" y="0" font-size="10" text-anchor="middle" font-weight="normal" fill="#1a1a1a" >Liver</text>
<text transform="translate(23.5,358.5) rotate(-90)" x="0" y="0" font-size="7.5" text-anchor="middle" font-weight="normal" fill="#1a1a1a" >F4/80</text>
<path d="M381.9 256.65000000000003 H391.6 V253.90000000000003 L398.2 259.1 L391.6 264.3 V261.55 H381.9 Z" fill="#000"/>
<path d="M382.0 351.9 H391.6 V349.2 L398.2 354.5 L391.6 359.8 V357.1 H382.0 Z" fill="#000"/>
<path d="M376.0 492.2 H386.1 V489.8 L391.9 494.8 L386.1 499.8 V497.40000000000003 H376.0 Z" fill="#000"/>
<line x1="440.7" y1="223.2" x2="440.7" y2="283.85" stroke="#1a1a1a" stroke-width="1.2"/>
<line x1="440.09999999999997" y1="283.3" x2="508.2" y2="283.3" stroke="#1a1a1a" stroke-width="1.2"/>
<line x1="437.7" y1="283.3" x2="440.7" y2="283.3" stroke="#1a1a1a" stroke-width="1.1"/>
<text x="434.9" y="286.3" font-size="8.2" text-anchor="end" font-weight="normal" fill="#2a2a2a" style="stroke-width:0.15px;stroke:#2a2a2a">0</text>
<line x1="437.7" y1="264.3" x2="440.7" y2="264.3" stroke="#1a1a1a" stroke-width="1.1"/>
<text x="434.9" y="267.3" font-size="8.2" text-anchor="end" font-weight="normal" fill="#2a2a2a" style="stroke-width:0.15px;stroke:#2a2a2a">20</text>
<line x1="437.7" y1="245.3" x2="440.7" y2="245.3" stroke="#1a1a1a" stroke-width="1.1"/>
<text x="434.9" y="248.3" font-size="8.2" text-anchor="end" font-weight="normal" fill="#2a2a2a" style="stroke-width:0.15px;stroke:#2a2a2a">40</text>
<line x1="437.7" y1="226.3" x2="440.7" y2="226.3" stroke="#1a1a1a" stroke-width="1.1"/>
<text x="434.9" y="229.3" font-size="8.2" text-anchor="end" font-weight="normal" fill="#2a2a2a" style="stroke-width:0.15px;stroke:#2a2a2a">60</text>
<rect x="445.1" y="279.975" width="15.599999999999966" height="3.3249999999999886" fill="#E59C1E"/>
<line x1="452.9" y1="279.21500000000003" x2="452.9" y2="280.735" stroke="#111" stroke-width="1.0"/>
<line x1="451.29999999999995" y1="279.21500000000003" x2="454.5" y2="279.21500000000003" stroke="#111" stroke-width="1.0"/>
<line x1="451.29999999999995" y1="280.735" x2="454.5" y2="280.735" stroke="#111" stroke-width="1.0"/>
<rect x="468.5" y="232.47500000000002" width="15.699999999999989" height="50.82499999999999" fill="#B5002E"/>
<line x1="476.35" y1="230.57500000000002" x2="476.35" y2="234.375" stroke="#111" stroke-width="1.0"/>
<line x1="474.75" y1="230.57500000000002" x2="477.95000000000005" y2="230.57500000000002" stroke="#111" stroke-width="1.0"/>
<line x1="474.75" y1="234.375" x2="477.95000000000005" y2="234.375" stroke="#111" stroke-width="1.0"/>
<rect x="492.4" y="239.60000000000002" width="15.5" height="43.69999999999999" fill="#2E4E8A"/>
<line x1="500.15" y1="238.175" x2="500.15" y2="241.025" stroke="#111" stroke-width="1.0"/>
<line x1="498.54999999999995" y1="238.175" x2="501.75" y2="238.175" stroke="#111" stroke-width="1.0"/>
<line x1="498.54999999999995" y1="241.025" x2="501.75" y2="241.025" stroke="#111" stroke-width="1.0"/>
<path d="M448.5 213.6 V211.0 H503.3 V213.6" fill="none" stroke="#1a1a1a" stroke-width="1.1"/>
<circle cx="474.15" cy="207.20" r="1.15" fill="#111"/>
<circle cx="477.90" cy="207.20" r="1.15" fill="#111"/>
<circle cx="481.65" cy="207.20" r="1.15" fill="#111"/>
<path d="M448.5 223.3 V219.8 H479.1 V223.3" fill="none" stroke="#1a1a1a" stroke-width="1.1"/>
<circle cx="460.05" cy="216.00" r="1.15" fill="#111"/>
<circle cx="463.80" cy="216.00" r="1.15" fill="#111"/>
<circle cx="467.55" cy="216.00" r="1.15" fill="#111"/>
<path d="M481.4 223.3 V219.8 H501.9 V223.3" fill="none" stroke="#1a1a1a" stroke-width="1.1"/>
<circle cx="492.30" cy="216.00" r="1.15" fill="#111"/>
<text x="450.15" y="293.2" font-size="8.0" text-anchor="middle" font-weight="normal" fill="#1a1a1a" >untreated</text>
<text x="478.5" y="293.2" font-size="8.0" text-anchor="middle" font-weight="normal" fill="#1a1a1a" >PBS</text>
<text x="501.6" y="293.2" font-size="8.0" text-anchor="middle" font-weight="normal" fill="#1a1a1a" >YO-2</text>
<path d="M480.0 295.3 C482.655 298.76666666666665 495.045 298.76666666666665 497.7 295.3" fill="none" stroke="#1a1a1a" stroke-width="1.15"/>
<text x="490.0" y="305.4" font-size="8.0" text-anchor="middle" font-weight="normal" fill="#1a1a1a" >CpG/DG</text>
<text transform="translate(420.2,252.8) rotate(-90)" x="0" y="0" font-size="8.5" text-anchor="middle" font-weight="normal" fill="#1a1a1a" >CD11b+ cells /HPF(liver)</text>
<line x1="441.25" y1="325.0" x2="441.25" y2="383.45" stroke="#1a1a1a" stroke-width="1.2"/>
<line x1="440.65" y1="382.9" x2="506.0" y2="382.9" stroke="#1a1a1a" stroke-width="1.2"/>
<line x1="438.25" y1="382.9" x2="441.25" y2="382.9" stroke="#1a1a1a" stroke-width="1.1"/>
<text x="435.45" y="385.9" font-size="8.2" text-anchor="end" font-weight="normal" fill="#2a2a2a" style="stroke-width:0.15px;stroke:#2a2a2a">0</text>
<line x1="438.25" y1="355.5" x2="441.25" y2="355.5" stroke="#1a1a1a" stroke-width="1.1"/>
<text x="435.45" y="358.5" font-size="8.2" text-anchor="end" font-weight="normal" fill="#2a2a2a" style="stroke-width:0.15px;stroke:#2a2a2a">100</text>
<line x1="438.25" y1="328.1" x2="441.25" y2="328.1" stroke="#1a1a1a" stroke-width="1.1"/>
<text x="435.45" y="331.1" font-size="8.2" text-anchor="end" font-weight="normal" fill="#2a2a2a" style="stroke-width:0.15px;stroke:#2a2a2a">200</text>
<rect x="445.1" y="357.418" width="14.799999999999955" height="25.48199999999997" fill="#E59C1E"/>
<line x1="452.5" y1="355.5" x2="452.5" y2="359.336" stroke="#111" stroke-width="1.0"/>
<line x1="450.9" y1="355.5" x2="454.1" y2="355.5" stroke="#111" stroke-width="1.0"/>
<line x1="450.9" y1="359.336" x2="454.1" y2="359.336" stroke="#111" stroke-width="1.0"/>
<rect x="467.1" y="332.75800000000004" width="15.099999999999966" height="50.14199999999994" fill="#B5002E"/>
<line x1="474.65" y1="332.21000000000004" x2="474.65" y2="333.30600000000004" stroke="#111" stroke-width="1.0"/>
<line x1="473.04999999999995" y1="332.21000000000004" x2="476.25" y2="332.21000000000004" stroke="#111" stroke-width="1.0"/>
<line x1="473.04999999999995" y1="333.30600000000004" x2="476.25" y2="333.30600000000004" stroke="#111" stroke-width="1.0"/>
<rect x="490.3" y="343.17" width="15.5" height="39.72999999999996" fill="#2E4E8A"/>
<line x1="498.05" y1="341.8" x2="498.05" y2="344.54" stroke="#111" stroke-width="1.0"/>
<line x1="496.45" y1="341.8" x2="499.65000000000003" y2="341.8" stroke="#111" stroke-width="1.0"/>
<line x1="496.45" y1="344.54" x2="499.65000000000003" y2="344.54" stroke="#111" stroke-width="1.0"/>
<path d="M447.5 317.8 V315.3 H499.4 V317.8" fill="none" stroke="#1a1a1a" stroke-width="1.1"/>
<circle cx="470.62" cy="311.50" r="1.15" fill="#111"/>
<circle cx="474.38" cy="311.50" r="1.15" fill="#111"/>
<path d="M447.5 327.3 V323.8 H475.4 V327.3" fill="none" stroke="#1a1a1a" stroke-width="1.1"/>
<circle cx="458.75" cy="320.00" r="1.15" fill="#111"/>
<circle cx="462.50" cy="320.00" r="1.15" fill="#111"/>
<circle cx="466.25" cy="320.00" r="1.15" fill="#111"/>
<path d="M478.5 327.3 V323.8 H499.4 V327.3" fill="none" stroke="#1a1a1a" stroke-width="1.1"/>
<circle cx="486.93" cy="320.00" r="1.15" fill="#111"/>
<circle cx="490.68" cy="320.00" r="1.15" fill="#111"/>
<text x="449.65" y="392.5" font-size="8.0" text-anchor="middle" font-weight="normal" fill="#1a1a1a" >untreated</text>
<text x="476.9" y="392.5" font-size="8.0" text-anchor="middle" font-weight="normal" fill="#1a1a1a" >PBS</text>
<text x="499.65" y="392.5" font-size="8.0" text-anchor="middle" font-weight="normal" fill="#1a1a1a" >YO-2</text>
<path d="M480.7 395.8 C483.55 399.0 496.84999999999997 399.0 499.7 395.8" fill="none" stroke="#1a1a1a" stroke-width="1.15"/>
<text x="489.85" y="404.8" font-size="8.0" text-anchor="middle" font-weight="normal" fill="#1a1a1a" >CpG/DG</text>
<text transform="translate(415.7,352.9) rotate(-90)" x="0" y="0" font-size="8.5" text-anchor="middle" font-weight="normal" fill="#1a1a1a" >F4/80+ cells /HPF(liver)</text>
<text x="7.2" y="433.5" font-size="11.6" text-anchor="start" font-weight="bold" fill="#000" >E</text>
<text x="77.0" y="446.2" font-size="7.6" text-anchor="middle" font-weight="normal" fill="#1a1a1a" style="stroke-width:0.1px">untreated</text>
<text x="206.0" y="446.2" font-size="7.6" text-anchor="middle" font-weight="normal" fill="#1a1a1a" style="stroke-width:0.1px">CpG/DG+PBS</text>
<text x="326.4" y="446.2" font-size="7.6" text-anchor="middle" font-weight="normal" fill="#1a1a1a" style="stroke-width:0.1px">CpG/DG+YO-2</text>
<text transform="translate(13.6,496.3) rotate(-90)" x="0" y="0" font-size="10" text-anchor="middle" font-weight="normal" fill="#1a1a1a" >Bone marrow</text>
<text transform="translate(22.8,496.8) rotate(-90)" x="0" y="0" font-size="7.2" text-anchor="middle" font-weight="normal" fill="#1a1a1a" >F4/80</text>
<line x1="438.75" y1="448.75" x2="438.75" y2="522.05" stroke="#1a1a1a" stroke-width="1.2"/>
<line x1="438.15" y1="521.5" x2="507.4" y2="521.5" stroke="#1a1a1a" stroke-width="1.2"/>
<line x1="435.75" y1="521.5" x2="438.75" y2="521.5" stroke="#1a1a1a" stroke-width="1.1"/>
<text x="432.95" y="524.5" font-size="8.2" text-anchor="end" font-weight="normal" fill="#2a2a2a" style="stroke-width:0.15px;stroke:#2a2a2a">0</text>
<line x1="435.75" y1="498.3" x2="438.75" y2="498.3" stroke="#1a1a1a" stroke-width="1.1"/>
<text x="432.95" y="501.3" font-size="8.2" text-anchor="end" font-weight="normal" fill="#2a2a2a" style="stroke-width:0.15px;stroke:#2a2a2a">30</text>
<line x1="435.75" y1="475.1" x2="438.75" y2="475.1" stroke="#1a1a1a" stroke-width="1.1"/>
<text x="432.95" y="478.1" font-size="8.2" text-anchor="end" font-weight="normal" fill="#2a2a2a" style="stroke-width:0.15px;stroke:#2a2a2a">60</text>
<line x1="435.75" y1="451.9" x2="438.75" y2="451.9" stroke="#1a1a1a" stroke-width="1.1"/>
<text x="432.95" y="454.9" font-size="8.2" text-anchor="end" font-weight="normal" fill="#2a2a2a" style="stroke-width:0.15px;stroke:#2a2a2a">90</text>
<rect x="444.0" y="511.44666666666666" width="13.899999999999977" height="10.053333333333342" fill="#E59C1E"/>
<line x1="450.95" y1="509.9" x2="450.95" y2="513.38" stroke="#111" stroke-width="1.0"/>
<line x1="449.34999999999997" y1="509.9" x2="452.55" y2="509.9" stroke="#111" stroke-width="1.0"/>
<line x1="449.34999999999997" y1="513.38" x2="452.55" y2="513.38" stroke="#111" stroke-width="1.0"/>
<rect x="469.2" y="467.3666666666667" width="13.5" height="54.133333333333326" fill="#B5002E"/>
<line x1="475.95" y1="465.0466666666666" x2="475.95" y2="469.68666666666667" stroke="#111" stroke-width="1.0"/>
<line x1="474.34999999999997" y1="465.0466666666666" x2="477.55" y2="465.0466666666666" stroke="#111" stroke-width="1.0"/>
<line x1="474.34999999999997" y1="469.68666666666667" x2="477.55" y2="469.68666666666667" stroke="#111" stroke-width="1.0"/>
<rect x="494.1" y="475.09999999999997" width="13.199999999999989" height="46.400000000000034" fill="#2E4E8A"/>
<line x1="500.70000000000005" y1="472.78" x2="500.70000000000005" y2="477.41999999999996" stroke="#111" stroke-width="1.0"/>
<line x1="499.1" y1="472.78" x2="502.30000000000007" y2="472.78" stroke="#111" stroke-width="1.0"/>
<line x1="499.1" y1="477.41999999999996" x2="502.30000000000007" y2="477.41999999999996" stroke="#111" stroke-width="1.0"/>
<path d="M447.5 450.4 V448.0 H502.8 V450.4" fill="none" stroke="#1a1a1a" stroke-width="1.1"/>
<circle cx="469.15" cy="444.20" r="1.15" fill="#111"/>
<circle cx="472.90" cy="444.20" r="1.15" fill="#111"/>
<circle cx="476.65" cy="444.20" r="1.15" fill="#111"/>
<path d="M447.5 461.7 V458.1 H475.8 V461.7" fill="none" stroke="#1a1a1a" stroke-width="1.1"/>
<circle cx="459.35" cy="454.30" r="1.15" fill="#111"/>
<circle cx="463.10" cy="454.30" r="1.15" fill="#111"/>
<circle cx="466.85" cy="454.30" r="1.15" fill="#111"/>
<path d="M480.1 461.7 V458.1 H502.8 V461.7" fill="none" stroke="#1a1a1a" stroke-width="1.1"/>
<circle cx="490.80" cy="454.30" r="1.15" fill="#111"/>
<text x="450.1" y="531.0" font-size="8.0" text-anchor="middle" font-weight="normal" fill="#1a1a1a" >untreated</text>
<text x="475.9" y="531.0" font-size="8.0" text-anchor="middle" font-weight="normal" fill="#1a1a1a" >PBS</text>
<text x="500.45" y="531.0" font-size="8.0" text-anchor="middle" font-weight="normal" fill="#1a1a1a" >YO-2</text>
<path d="M479.0 533.6 C481.865 536.4000000000001 495.235 536.4000000000001 498.1 533.6" fill="none" stroke="#1a1a1a" stroke-width="1.15"/>
<text x="488.65" y="543.9" font-size="8.0" text-anchor="middle" font-weight="normal" fill="#1a1a1a" >CpG/DG</text>
<text transform="translate(406.2,485.5) rotate(-90)" x="0" y="0" font-size="8.5" text-anchor="middle" font-weight="normal" fill="#1a1a1a" >F4/80+ cells /HPF</text>
<text transform="translate(418.2,485.0) rotate(-90)" x="0" y="0" font-size="8.5" text-anchor="middle" font-weight="normal" fill="#1a1a1a" >(bone marrow)</text>
<rect x="0.75" y="0.75" width="518.5" height="551.5" fill="none" stroke="#000" stroke-width="1.5"/>
</svg>
</body></html>
